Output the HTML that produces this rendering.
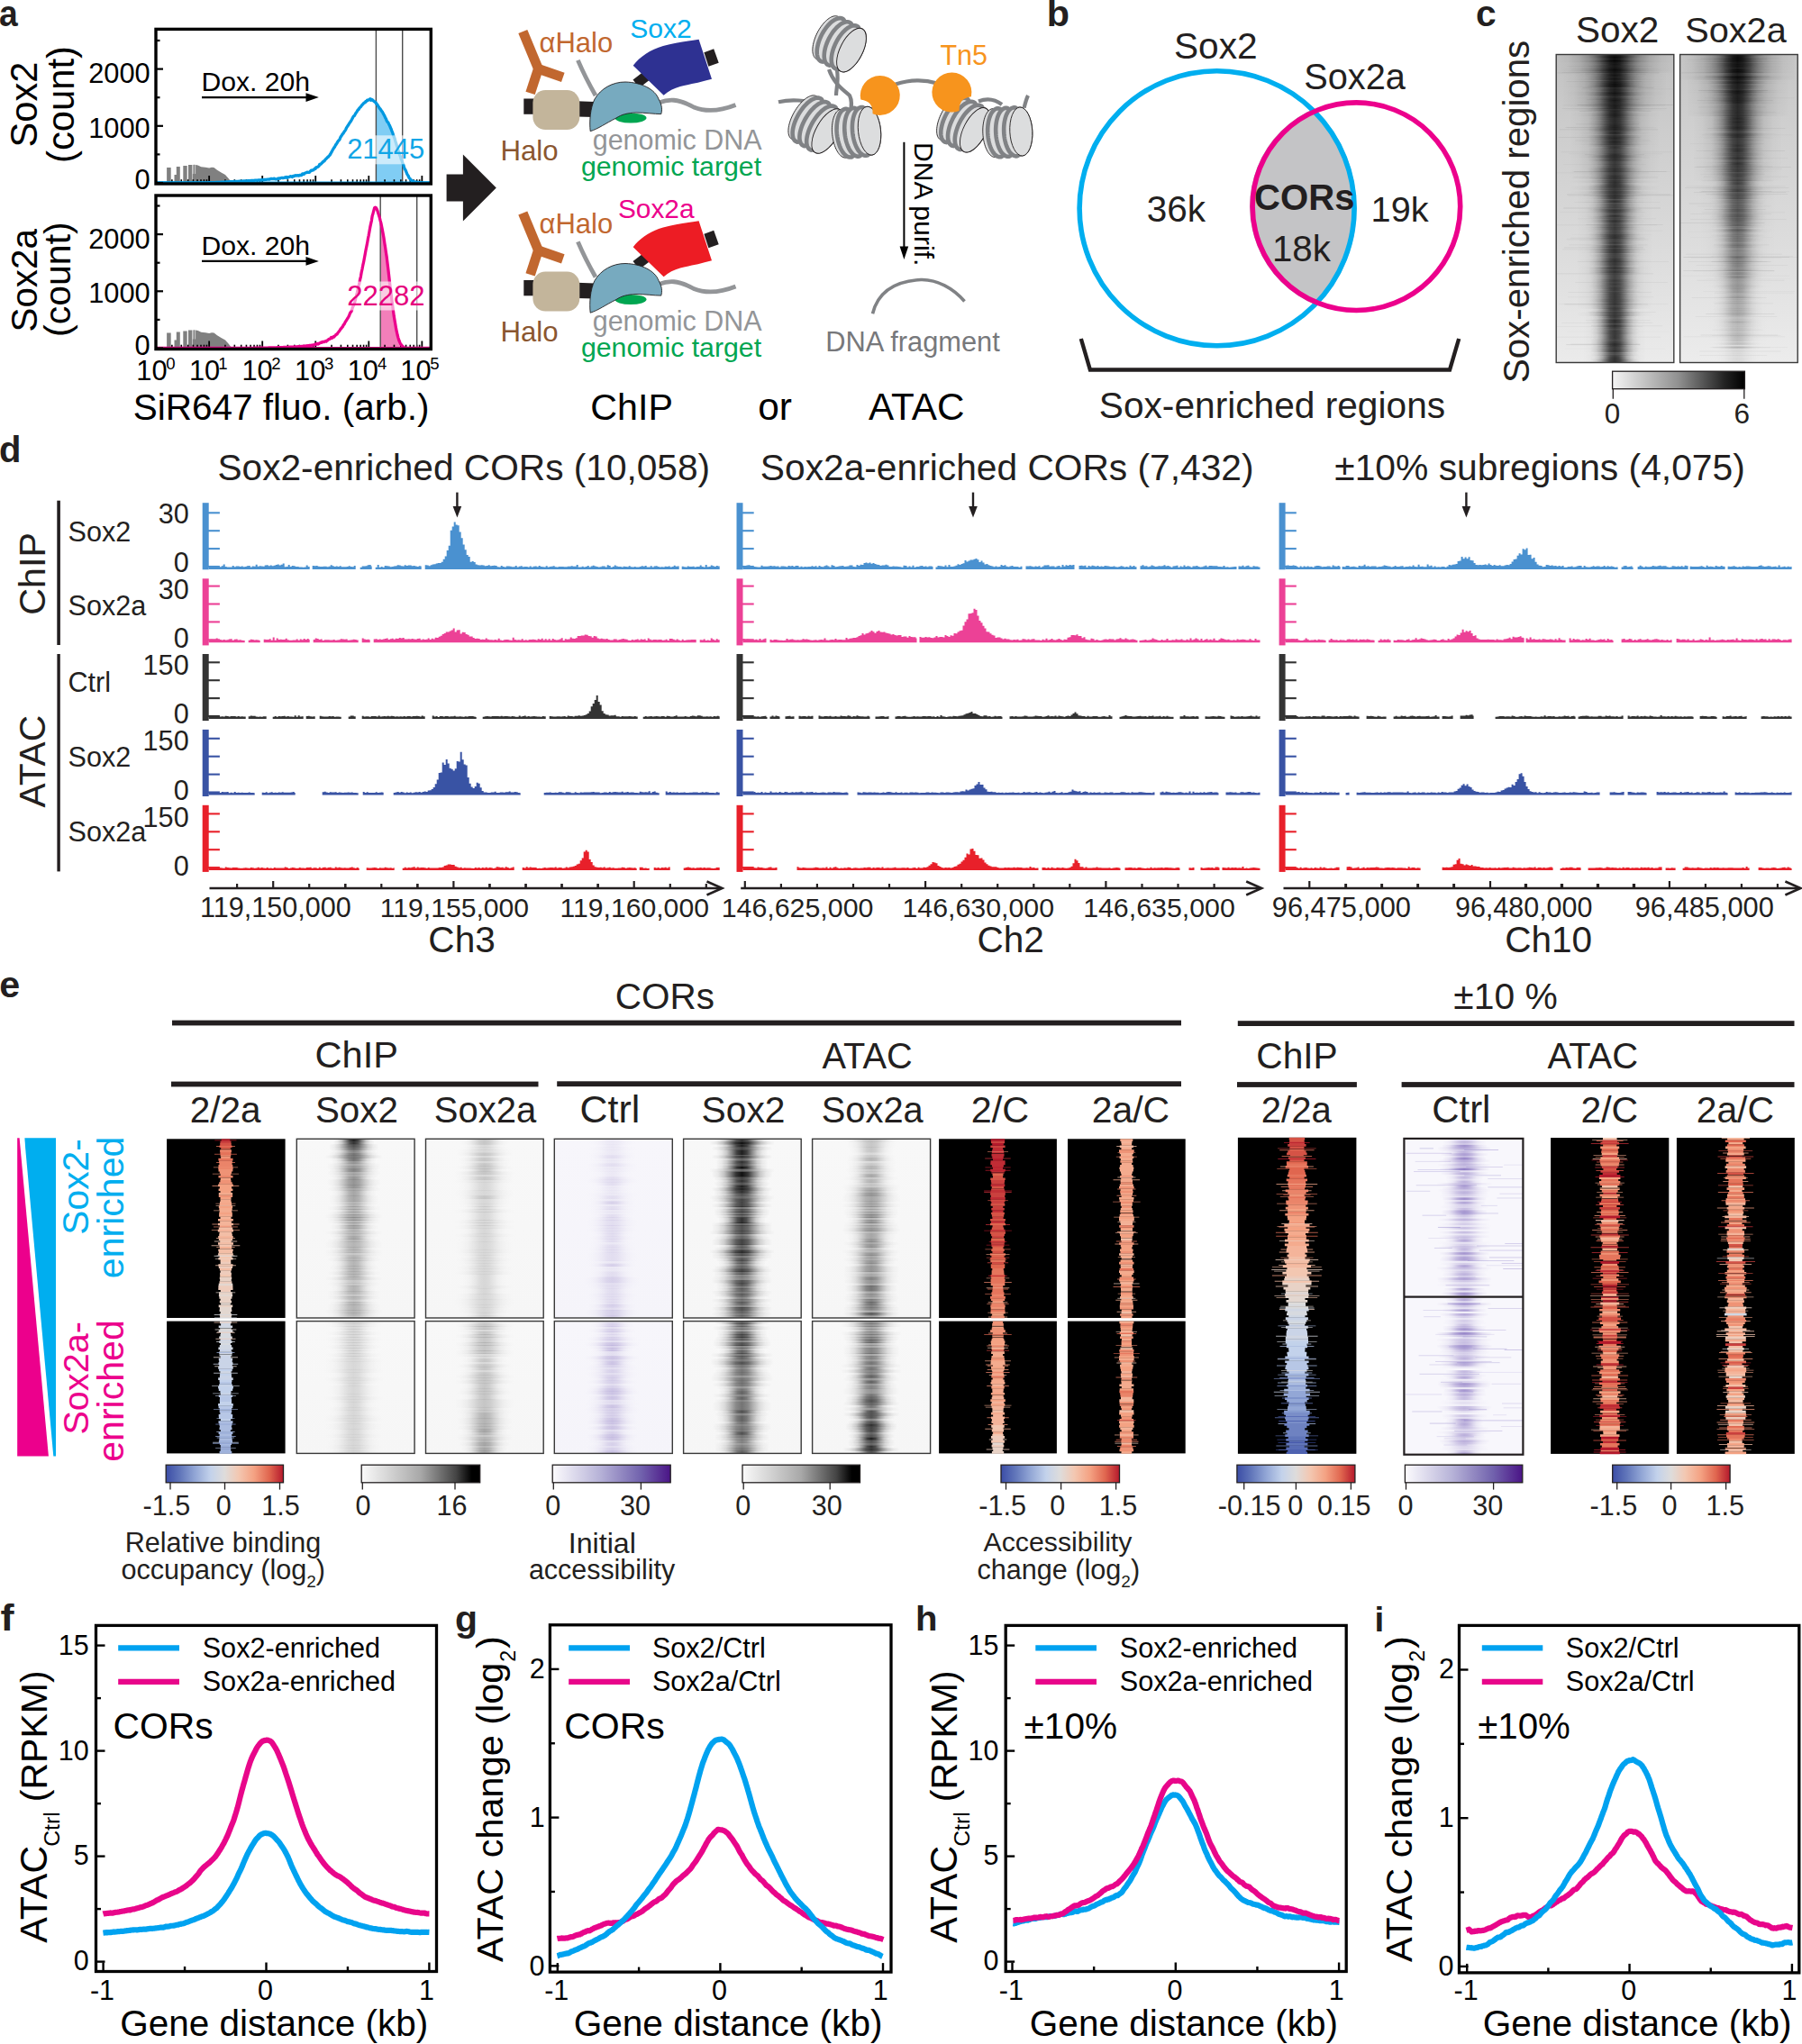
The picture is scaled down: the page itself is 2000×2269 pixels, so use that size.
<!DOCTYPE html><html><head><meta charset="utf-8"><title>Figure</title><style>html,body{margin:0;padding:0;background:#fff;}svg{display:block;}</style></head><body><svg width="2000" height="2269" viewBox="0 0 2000 2269" font-family="'Liberation Sans', Arial, sans-serif"><defs><clipPath id="venncl"><circle cx="1350.6" cy="231.3" r="155"/></clipPath><linearGradient id="bg101" x1="0" y1="0" x2="0" y2="1"><stop offset="0" stop-color="#c2c2c2"/><stop offset="0.25" stop-color="#cdcdcd"/><stop offset="0.6" stop-color="#dadada"/><stop offset="1" stop-color="#ebebeb"/></linearGradient><linearGradient id="g101_0_0" gradientUnits="userSpaceOnUse" x1="1769.8" y1="0" x2="1814.68" y2="0"><stop offset="0" stop-color="#000" stop-opacity="0.01"/><stop offset="0.1" stop-color="#000" stop-opacity="0.07"/><stop offset="0.2" stop-color="#000" stop-opacity="0.22"/><stop offset="0.3" stop-color="#000" stop-opacity="0.51"/><stop offset="0.4" stop-color="#000" stop-opacity="0.85"/><stop offset="0.5" stop-color="#000" stop-opacity="1"/><stop offset="0.6" stop-color="#000" stop-opacity="0.85"/><stop offset="0.7" stop-color="#000" stop-opacity="0.51"/><stop offset="0.8" stop-color="#000" stop-opacity="0.22"/><stop offset="0.9" stop-color="#000" stop-opacity="0.07"/><stop offset="1" stop-color="#000" stop-opacity="0.01"/></linearGradient><linearGradient id="g101_0_1" gradientUnits="userSpaceOnUse" x1="1767.87" y1="0" x2="1816.61" y2="0"><stop offset="0" stop-color="#000" stop-opacity="0.01"/><stop offset="0.1" stop-color="#000" stop-opacity="0.07"/><stop offset="0.2" stop-color="#000" stop-opacity="0.22"/><stop offset="0.3" stop-color="#000" stop-opacity="0.51"/><stop offset="0.4" stop-color="#000" stop-opacity="0.85"/><stop offset="0.5" stop-color="#000" stop-opacity="1"/><stop offset="0.6" stop-color="#000" stop-opacity="0.85"/><stop offset="0.7" stop-color="#000" stop-opacity="0.51"/><stop offset="0.8" stop-color="#000" stop-opacity="0.22"/><stop offset="0.9" stop-color="#000" stop-opacity="0.07"/><stop offset="1" stop-color="#000" stop-opacity="0.01"/></linearGradient><linearGradient id="g101_0_2" gradientUnits="userSpaceOnUse" x1="1765.93" y1="0" x2="1818.54" y2="0"><stop offset="0" stop-color="#000" stop-opacity="0.01"/><stop offset="0.1" stop-color="#000" stop-opacity="0.07"/><stop offset="0.2" stop-color="#000" stop-opacity="0.22"/><stop offset="0.3" stop-color="#000" stop-opacity="0.51"/><stop offset="0.4" stop-color="#000" stop-opacity="0.85"/><stop offset="0.5" stop-color="#000" stop-opacity="1"/><stop offset="0.6" stop-color="#000" stop-opacity="0.85"/><stop offset="0.7" stop-color="#000" stop-opacity="0.51"/><stop offset="0.8" stop-color="#000" stop-opacity="0.22"/><stop offset="0.9" stop-color="#000" stop-opacity="0.07"/><stop offset="1" stop-color="#000" stop-opacity="0.01"/></linearGradient><linearGradient id="g101_0_3" gradientUnits="userSpaceOnUse" x1="1764" y1="0" x2="1820.48" y2="0"><stop offset="0" stop-color="#000" stop-opacity="0.01"/><stop offset="0.1" stop-color="#000" stop-opacity="0.07"/><stop offset="0.2" stop-color="#000" stop-opacity="0.22"/><stop offset="0.3" stop-color="#000" stop-opacity="0.51"/><stop offset="0.4" stop-color="#000" stop-opacity="0.85"/><stop offset="0.5" stop-color="#000" stop-opacity="1"/><stop offset="0.6" stop-color="#000" stop-opacity="0.85"/><stop offset="0.7" stop-color="#000" stop-opacity="0.51"/><stop offset="0.8" stop-color="#000" stop-opacity="0.22"/><stop offset="0.9" stop-color="#000" stop-opacity="0.07"/><stop offset="1" stop-color="#000" stop-opacity="0.01"/></linearGradient><linearGradient id="g101_0_4" gradientUnits="userSpaceOnUse" x1="1762.07" y1="0" x2="1822.41" y2="0"><stop offset="0" stop-color="#000" stop-opacity="0.01"/><stop offset="0.1" stop-color="#000" stop-opacity="0.07"/><stop offset="0.2" stop-color="#000" stop-opacity="0.22"/><stop offset="0.3" stop-color="#000" stop-opacity="0.51"/><stop offset="0.4" stop-color="#000" stop-opacity="0.85"/><stop offset="0.5" stop-color="#000" stop-opacity="1"/><stop offset="0.6" stop-color="#000" stop-opacity="0.85"/><stop offset="0.7" stop-color="#000" stop-opacity="0.51"/><stop offset="0.8" stop-color="#000" stop-opacity="0.22"/><stop offset="0.9" stop-color="#000" stop-opacity="0.07"/><stop offset="1" stop-color="#000" stop-opacity="0.01"/></linearGradient><linearGradient id="g101_1_0" gradientUnits="userSpaceOnUse" x1="1758" y1="0" x2="1826.48" y2="0"><stop offset="0" stop-color="#000" stop-opacity="0.01"/><stop offset="0.1" stop-color="#000" stop-opacity="0.07"/><stop offset="0.2" stop-color="#000" stop-opacity="0.22"/><stop offset="0.3" stop-color="#000" stop-opacity="0.51"/><stop offset="0.4" stop-color="#000" stop-opacity="0.85"/><stop offset="0.5" stop-color="#000" stop-opacity="1"/><stop offset="0.6" stop-color="#000" stop-opacity="0.85"/><stop offset="0.7" stop-color="#000" stop-opacity="0.51"/><stop offset="0.8" stop-color="#000" stop-opacity="0.22"/><stop offset="0.9" stop-color="#000" stop-opacity="0.07"/><stop offset="1" stop-color="#000" stop-opacity="0.01"/></linearGradient><linearGradient id="g101_1_1" gradientUnits="userSpaceOnUse" x1="1750.38" y1="0" x2="1834.1" y2="0"><stop offset="0" stop-color="#000" stop-opacity="0.01"/><stop offset="0.1" stop-color="#000" stop-opacity="0.07"/><stop offset="0.2" stop-color="#000" stop-opacity="0.22"/><stop offset="0.3" stop-color="#000" stop-opacity="0.51"/><stop offset="0.4" stop-color="#000" stop-opacity="0.85"/><stop offset="0.5" stop-color="#000" stop-opacity="1"/><stop offset="0.6" stop-color="#000" stop-opacity="0.85"/><stop offset="0.7" stop-color="#000" stop-opacity="0.51"/><stop offset="0.8" stop-color="#000" stop-opacity="0.22"/><stop offset="0.9" stop-color="#000" stop-opacity="0.07"/><stop offset="1" stop-color="#000" stop-opacity="0.01"/></linearGradient><linearGradient id="g101_1_2" gradientUnits="userSpaceOnUse" x1="1742.76" y1="0" x2="1841.72" y2="0"><stop offset="0" stop-color="#000" stop-opacity="0.01"/><stop offset="0.1" stop-color="#000" stop-opacity="0.07"/><stop offset="0.2" stop-color="#000" stop-opacity="0.22"/><stop offset="0.3" stop-color="#000" stop-opacity="0.51"/><stop offset="0.4" stop-color="#000" stop-opacity="0.85"/><stop offset="0.5" stop-color="#000" stop-opacity="1"/><stop offset="0.6" stop-color="#000" stop-opacity="0.85"/><stop offset="0.7" stop-color="#000" stop-opacity="0.51"/><stop offset="0.8" stop-color="#000" stop-opacity="0.22"/><stop offset="0.9" stop-color="#000" stop-opacity="0.07"/><stop offset="1" stop-color="#000" stop-opacity="0.01"/></linearGradient><linearGradient id="g101_1_3" gradientUnits="userSpaceOnUse" x1="1735.14" y1="0" x2="1849.34" y2="0"><stop offset="0" stop-color="#000" stop-opacity="0.01"/><stop offset="0.1" stop-color="#000" stop-opacity="0.07"/><stop offset="0.2" stop-color="#000" stop-opacity="0.22"/><stop offset="0.3" stop-color="#000" stop-opacity="0.51"/><stop offset="0.4" stop-color="#000" stop-opacity="0.85"/><stop offset="0.5" stop-color="#000" stop-opacity="1"/><stop offset="0.6" stop-color="#000" stop-opacity="0.85"/><stop offset="0.7" stop-color="#000" stop-opacity="0.51"/><stop offset="0.8" stop-color="#000" stop-opacity="0.22"/><stop offset="0.9" stop-color="#000" stop-opacity="0.07"/><stop offset="1" stop-color="#000" stop-opacity="0.01"/></linearGradient><linearGradient id="g101_1_4" gradientUnits="userSpaceOnUse" x1="1727.51" y1="0" x2="1856.96" y2="0"><stop offset="0" stop-color="#000" stop-opacity="0.01"/><stop offset="0.1" stop-color="#000" stop-opacity="0.07"/><stop offset="0.2" stop-color="#000" stop-opacity="0.22"/><stop offset="0.3" stop-color="#000" stop-opacity="0.51"/><stop offset="0.4" stop-color="#000" stop-opacity="0.85"/><stop offset="0.5" stop-color="#000" stop-opacity="1"/><stop offset="0.6" stop-color="#000" stop-opacity="0.85"/><stop offset="0.7" stop-color="#000" stop-opacity="0.51"/><stop offset="0.8" stop-color="#000" stop-opacity="0.22"/><stop offset="0.9" stop-color="#000" stop-opacity="0.07"/><stop offset="1" stop-color="#000" stop-opacity="0.01"/></linearGradient><linearGradient id="bg102" x1="0" y1="0" x2="0" y2="1"><stop offset="0" stop-color="#c6c6c6"/><stop offset="0.25" stop-color="#d0d0d0"/><stop offset="0.6" stop-color="#dcdcdc"/><stop offset="1" stop-color="#ececec"/></linearGradient><linearGradient id="g102_0_0" gradientUnits="userSpaceOnUse" x1="1905.96" y1="0" x2="1951.23" y2="0"><stop offset="0" stop-color="#000" stop-opacity="0.01"/><stop offset="0.1" stop-color="#000" stop-opacity="0.07"/><stop offset="0.2" stop-color="#000" stop-opacity="0.22"/><stop offset="0.3" stop-color="#000" stop-opacity="0.51"/><stop offset="0.4" stop-color="#000" stop-opacity="0.85"/><stop offset="0.5" stop-color="#000" stop-opacity="1"/><stop offset="0.6" stop-color="#000" stop-opacity="0.85"/><stop offset="0.7" stop-color="#000" stop-opacity="0.51"/><stop offset="0.8" stop-color="#000" stop-opacity="0.22"/><stop offset="0.9" stop-color="#000" stop-opacity="0.07"/><stop offset="1" stop-color="#000" stop-opacity="0.01"/></linearGradient><linearGradient id="g102_0_1" gradientUnits="userSpaceOnUse" x1="1904.05" y1="0" x2="1953.14" y2="0"><stop offset="0" stop-color="#000" stop-opacity="0.01"/><stop offset="0.1" stop-color="#000" stop-opacity="0.07"/><stop offset="0.2" stop-color="#000" stop-opacity="0.22"/><stop offset="0.3" stop-color="#000" stop-opacity="0.51"/><stop offset="0.4" stop-color="#000" stop-opacity="0.85"/><stop offset="0.5" stop-color="#000" stop-opacity="1"/><stop offset="0.6" stop-color="#000" stop-opacity="0.85"/><stop offset="0.7" stop-color="#000" stop-opacity="0.51"/><stop offset="0.8" stop-color="#000" stop-opacity="0.22"/><stop offset="0.9" stop-color="#000" stop-opacity="0.07"/><stop offset="1" stop-color="#000" stop-opacity="0.01"/></linearGradient><linearGradient id="g102_0_2" gradientUnits="userSpaceOnUse" x1="1902.14" y1="0" x2="1955.05" y2="0"><stop offset="0" stop-color="#000" stop-opacity="0.01"/><stop offset="0.1" stop-color="#000" stop-opacity="0.07"/><stop offset="0.2" stop-color="#000" stop-opacity="0.22"/><stop offset="0.3" stop-color="#000" stop-opacity="0.51"/><stop offset="0.4" stop-color="#000" stop-opacity="0.85"/><stop offset="0.5" stop-color="#000" stop-opacity="1"/><stop offset="0.6" stop-color="#000" stop-opacity="0.85"/><stop offset="0.7" stop-color="#000" stop-opacity="0.51"/><stop offset="0.8" stop-color="#000" stop-opacity="0.22"/><stop offset="0.9" stop-color="#000" stop-opacity="0.07"/><stop offset="1" stop-color="#000" stop-opacity="0.01"/></linearGradient><linearGradient id="g102_0_3" gradientUnits="userSpaceOnUse" x1="1900.23" y1="0" x2="1956.95" y2="0"><stop offset="0" stop-color="#000" stop-opacity="0.01"/><stop offset="0.1" stop-color="#000" stop-opacity="0.07"/><stop offset="0.2" stop-color="#000" stop-opacity="0.22"/><stop offset="0.3" stop-color="#000" stop-opacity="0.51"/><stop offset="0.4" stop-color="#000" stop-opacity="0.85"/><stop offset="0.5" stop-color="#000" stop-opacity="1"/><stop offset="0.6" stop-color="#000" stop-opacity="0.85"/><stop offset="0.7" stop-color="#000" stop-opacity="0.51"/><stop offset="0.8" stop-color="#000" stop-opacity="0.22"/><stop offset="0.9" stop-color="#000" stop-opacity="0.07"/><stop offset="1" stop-color="#000" stop-opacity="0.01"/></linearGradient><linearGradient id="g102_0_4" gradientUnits="userSpaceOnUse" x1="1898.33" y1="0" x2="1958.86" y2="0"><stop offset="0" stop-color="#000" stop-opacity="0.01"/><stop offset="0.1" stop-color="#000" stop-opacity="0.07"/><stop offset="0.2" stop-color="#000" stop-opacity="0.22"/><stop offset="0.3" stop-color="#000" stop-opacity="0.51"/><stop offset="0.4" stop-color="#000" stop-opacity="0.85"/><stop offset="0.5" stop-color="#000" stop-opacity="1"/><stop offset="0.6" stop-color="#000" stop-opacity="0.85"/><stop offset="0.7" stop-color="#000" stop-opacity="0.51"/><stop offset="0.8" stop-color="#000" stop-opacity="0.22"/><stop offset="0.9" stop-color="#000" stop-opacity="0.07"/><stop offset="1" stop-color="#000" stop-opacity="0.01"/></linearGradient><linearGradient id="g102_1_0" gradientUnits="userSpaceOnUse" x1="1894.08" y1="0" x2="1963.11" y2="0"><stop offset="0" stop-color="#000" stop-opacity="0.01"/><stop offset="0.1" stop-color="#000" stop-opacity="0.07"/><stop offset="0.2" stop-color="#000" stop-opacity="0.22"/><stop offset="0.3" stop-color="#000" stop-opacity="0.51"/><stop offset="0.4" stop-color="#000" stop-opacity="0.85"/><stop offset="0.5" stop-color="#000" stop-opacity="1"/><stop offset="0.6" stop-color="#000" stop-opacity="0.85"/><stop offset="0.7" stop-color="#000" stop-opacity="0.51"/><stop offset="0.8" stop-color="#000" stop-opacity="0.22"/><stop offset="0.9" stop-color="#000" stop-opacity="0.07"/><stop offset="1" stop-color="#000" stop-opacity="0.01"/></linearGradient><linearGradient id="g102_1_1" gradientUnits="userSpaceOnUse" x1="1886.88" y1="0" x2="1970.3" y2="0"><stop offset="0" stop-color="#000" stop-opacity="0.01"/><stop offset="0.1" stop-color="#000" stop-opacity="0.07"/><stop offset="0.2" stop-color="#000" stop-opacity="0.22"/><stop offset="0.3" stop-color="#000" stop-opacity="0.51"/><stop offset="0.4" stop-color="#000" stop-opacity="0.85"/><stop offset="0.5" stop-color="#000" stop-opacity="1"/><stop offset="0.6" stop-color="#000" stop-opacity="0.85"/><stop offset="0.7" stop-color="#000" stop-opacity="0.51"/><stop offset="0.8" stop-color="#000" stop-opacity="0.22"/><stop offset="0.9" stop-color="#000" stop-opacity="0.07"/><stop offset="1" stop-color="#000" stop-opacity="0.01"/></linearGradient><linearGradient id="g102_1_2" gradientUnits="userSpaceOnUse" x1="1879.69" y1="0" x2="1977.5" y2="0"><stop offset="0" stop-color="#000" stop-opacity="0.01"/><stop offset="0.1" stop-color="#000" stop-opacity="0.07"/><stop offset="0.2" stop-color="#000" stop-opacity="0.22"/><stop offset="0.3" stop-color="#000" stop-opacity="0.51"/><stop offset="0.4" stop-color="#000" stop-opacity="0.85"/><stop offset="0.5" stop-color="#000" stop-opacity="1"/><stop offset="0.6" stop-color="#000" stop-opacity="0.85"/><stop offset="0.7" stop-color="#000" stop-opacity="0.51"/><stop offset="0.8" stop-color="#000" stop-opacity="0.22"/><stop offset="0.9" stop-color="#000" stop-opacity="0.07"/><stop offset="1" stop-color="#000" stop-opacity="0.01"/></linearGradient><linearGradient id="g102_1_3" gradientUnits="userSpaceOnUse" x1="1872.5" y1="0" x2="1984.69" y2="0"><stop offset="0" stop-color="#000" stop-opacity="0.01"/><stop offset="0.1" stop-color="#000" stop-opacity="0.07"/><stop offset="0.2" stop-color="#000" stop-opacity="0.22"/><stop offset="0.3" stop-color="#000" stop-opacity="0.51"/><stop offset="0.4" stop-color="#000" stop-opacity="0.85"/><stop offset="0.5" stop-color="#000" stop-opacity="1"/><stop offset="0.6" stop-color="#000" stop-opacity="0.85"/><stop offset="0.7" stop-color="#000" stop-opacity="0.51"/><stop offset="0.8" stop-color="#000" stop-opacity="0.22"/><stop offset="0.9" stop-color="#000" stop-opacity="0.07"/><stop offset="1" stop-color="#000" stop-opacity="0.01"/></linearGradient><linearGradient id="g102_1_4" gradientUnits="userSpaceOnUse" x1="1865.3" y1="0" x2="1991.89" y2="0"><stop offset="0" stop-color="#000" stop-opacity="0.01"/><stop offset="0.1" stop-color="#000" stop-opacity="0.07"/><stop offset="0.2" stop-color="#000" stop-opacity="0.22"/><stop offset="0.3" stop-color="#000" stop-opacity="0.51"/><stop offset="0.4" stop-color="#000" stop-opacity="0.85"/><stop offset="0.5" stop-color="#000" stop-opacity="1"/><stop offset="0.6" stop-color="#000" stop-opacity="0.85"/><stop offset="0.7" stop-color="#000" stop-opacity="0.51"/><stop offset="0.8" stop-color="#000" stop-opacity="0.22"/><stop offset="0.9" stop-color="#000" stop-opacity="0.07"/><stop offset="1" stop-color="#000" stop-opacity="0.01"/></linearGradient><linearGradient id="cbgray" x1="0" x2="1" y1="0" y2="0"><stop offset="0" stop-color="#f4f4f4"/><stop offset="0.5" stop-color="#909090"/><stop offset="0.85" stop-color="#222"/><stop offset="1" stop-color="#000"/></linearGradient><linearGradient id="bg211" x1="0" y1="0" x2="0" y2="1"><stop offset="0" stop-color="#f8f8f8"/><stop offset="1" stop-color="#f6f6f6"/></linearGradient><linearGradient id="g211_0_0" gradientUnits="userSpaceOnUse" x1="370.3" y1="0" x2="415.17" y2="0"><stop offset="0" stop-color="#000" stop-opacity="0.01"/><stop offset="0.1" stop-color="#000" stop-opacity="0.07"/><stop offset="0.2" stop-color="#000" stop-opacity="0.22"/><stop offset="0.3" stop-color="#000" stop-opacity="0.51"/><stop offset="0.4" stop-color="#000" stop-opacity="0.85"/><stop offset="0.5" stop-color="#000" stop-opacity="1"/><stop offset="0.6" stop-color="#000" stop-opacity="0.85"/><stop offset="0.7" stop-color="#000" stop-opacity="0.51"/><stop offset="0.8" stop-color="#000" stop-opacity="0.22"/><stop offset="0.9" stop-color="#000" stop-opacity="0.07"/><stop offset="1" stop-color="#000" stop-opacity="0.01"/></linearGradient><linearGradient id="g211_0_1" gradientUnits="userSpaceOnUse" x1="368.02" y1="0" x2="417.46" y2="0"><stop offset="0" stop-color="#000" stop-opacity="0.01"/><stop offset="0.1" stop-color="#000" stop-opacity="0.07"/><stop offset="0.2" stop-color="#000" stop-opacity="0.22"/><stop offset="0.3" stop-color="#000" stop-opacity="0.51"/><stop offset="0.4" stop-color="#000" stop-opacity="0.85"/><stop offset="0.5" stop-color="#000" stop-opacity="1"/><stop offset="0.6" stop-color="#000" stop-opacity="0.85"/><stop offset="0.7" stop-color="#000" stop-opacity="0.51"/><stop offset="0.8" stop-color="#000" stop-opacity="0.22"/><stop offset="0.9" stop-color="#000" stop-opacity="0.07"/><stop offset="1" stop-color="#000" stop-opacity="0.01"/></linearGradient><linearGradient id="g211_0_2" gradientUnits="userSpaceOnUse" x1="365.74" y1="0" x2="419.74" y2="0"><stop offset="0" stop-color="#000" stop-opacity="0.01"/><stop offset="0.1" stop-color="#000" stop-opacity="0.07"/><stop offset="0.2" stop-color="#000" stop-opacity="0.22"/><stop offset="0.3" stop-color="#000" stop-opacity="0.51"/><stop offset="0.4" stop-color="#000" stop-opacity="0.85"/><stop offset="0.5" stop-color="#000" stop-opacity="1"/><stop offset="0.6" stop-color="#000" stop-opacity="0.85"/><stop offset="0.7" stop-color="#000" stop-opacity="0.51"/><stop offset="0.8" stop-color="#000" stop-opacity="0.22"/><stop offset="0.9" stop-color="#000" stop-opacity="0.07"/><stop offset="1" stop-color="#000" stop-opacity="0.01"/></linearGradient><linearGradient id="g211_0_3" gradientUnits="userSpaceOnUse" x1="363.45" y1="0" x2="422.02" y2="0"><stop offset="0" stop-color="#000" stop-opacity="0.01"/><stop offset="0.1" stop-color="#000" stop-opacity="0.07"/><stop offset="0.2" stop-color="#000" stop-opacity="0.22"/><stop offset="0.3" stop-color="#000" stop-opacity="0.51"/><stop offset="0.4" stop-color="#000" stop-opacity="0.85"/><stop offset="0.5" stop-color="#000" stop-opacity="1"/><stop offset="0.6" stop-color="#000" stop-opacity="0.85"/><stop offset="0.7" stop-color="#000" stop-opacity="0.51"/><stop offset="0.8" stop-color="#000" stop-opacity="0.22"/><stop offset="0.9" stop-color="#000" stop-opacity="0.07"/><stop offset="1" stop-color="#000" stop-opacity="0.01"/></linearGradient><linearGradient id="g211_0_4" gradientUnits="userSpaceOnUse" x1="361.17" y1="0" x2="424.31" y2="0"><stop offset="0" stop-color="#000" stop-opacity="0.01"/><stop offset="0.1" stop-color="#000" stop-opacity="0.07"/><stop offset="0.2" stop-color="#000" stop-opacity="0.22"/><stop offset="0.3" stop-color="#000" stop-opacity="0.51"/><stop offset="0.4" stop-color="#000" stop-opacity="0.85"/><stop offset="0.5" stop-color="#000" stop-opacity="1"/><stop offset="0.6" stop-color="#000" stop-opacity="0.85"/><stop offset="0.7" stop-color="#000" stop-opacity="0.51"/><stop offset="0.8" stop-color="#000" stop-opacity="0.22"/><stop offset="0.9" stop-color="#000" stop-opacity="0.07"/><stop offset="1" stop-color="#000" stop-opacity="0.01"/></linearGradient><linearGradient id="bg212" x1="0" y1="0" x2="0" y2="1"><stop offset="0" stop-color="#f8f8f8"/><stop offset="1" stop-color="#f6f6f6"/></linearGradient><linearGradient id="g212_0_0" gradientUnits="userSpaceOnUse" x1="367.93" y1="0" x2="417.55" y2="0"><stop offset="0" stop-color="#000" stop-opacity="0.01"/><stop offset="0.1" stop-color="#000" stop-opacity="0.07"/><stop offset="0.2" stop-color="#000" stop-opacity="0.22"/><stop offset="0.3" stop-color="#000" stop-opacity="0.51"/><stop offset="0.4" stop-color="#000" stop-opacity="0.85"/><stop offset="0.5" stop-color="#000" stop-opacity="1"/><stop offset="0.6" stop-color="#000" stop-opacity="0.85"/><stop offset="0.7" stop-color="#000" stop-opacity="0.51"/><stop offset="0.8" stop-color="#000" stop-opacity="0.22"/><stop offset="0.9" stop-color="#000" stop-opacity="0.07"/><stop offset="1" stop-color="#000" stop-opacity="0.01"/></linearGradient><linearGradient id="g212_0_1" gradientUnits="userSpaceOnUse" x1="365.83" y1="0" x2="419.64" y2="0"><stop offset="0" stop-color="#000" stop-opacity="0.01"/><stop offset="0.1" stop-color="#000" stop-opacity="0.07"/><stop offset="0.2" stop-color="#000" stop-opacity="0.22"/><stop offset="0.3" stop-color="#000" stop-opacity="0.51"/><stop offset="0.4" stop-color="#000" stop-opacity="0.85"/><stop offset="0.5" stop-color="#000" stop-opacity="1"/><stop offset="0.6" stop-color="#000" stop-opacity="0.85"/><stop offset="0.7" stop-color="#000" stop-opacity="0.51"/><stop offset="0.8" stop-color="#000" stop-opacity="0.22"/><stop offset="0.9" stop-color="#000" stop-opacity="0.07"/><stop offset="1" stop-color="#000" stop-opacity="0.01"/></linearGradient><linearGradient id="g212_0_2" gradientUnits="userSpaceOnUse" x1="363.74" y1="0" x2="421.73" y2="0"><stop offset="0" stop-color="#000" stop-opacity="0.01"/><stop offset="0.1" stop-color="#000" stop-opacity="0.07"/><stop offset="0.2" stop-color="#000" stop-opacity="0.22"/><stop offset="0.3" stop-color="#000" stop-opacity="0.51"/><stop offset="0.4" stop-color="#000" stop-opacity="0.85"/><stop offset="0.5" stop-color="#000" stop-opacity="1"/><stop offset="0.6" stop-color="#000" stop-opacity="0.85"/><stop offset="0.7" stop-color="#000" stop-opacity="0.51"/><stop offset="0.8" stop-color="#000" stop-opacity="0.22"/><stop offset="0.9" stop-color="#000" stop-opacity="0.07"/><stop offset="1" stop-color="#000" stop-opacity="0.01"/></linearGradient><linearGradient id="g212_0_3" gradientUnits="userSpaceOnUse" x1="361.65" y1="0" x2="423.83" y2="0"><stop offset="0" stop-color="#000" stop-opacity="0.01"/><stop offset="0.1" stop-color="#000" stop-opacity="0.07"/><stop offset="0.2" stop-color="#000" stop-opacity="0.22"/><stop offset="0.3" stop-color="#000" stop-opacity="0.51"/><stop offset="0.4" stop-color="#000" stop-opacity="0.85"/><stop offset="0.5" stop-color="#000" stop-opacity="1"/><stop offset="0.6" stop-color="#000" stop-opacity="0.85"/><stop offset="0.7" stop-color="#000" stop-opacity="0.51"/><stop offset="0.8" stop-color="#000" stop-opacity="0.22"/><stop offset="0.9" stop-color="#000" stop-opacity="0.07"/><stop offset="1" stop-color="#000" stop-opacity="0.01"/></linearGradient><linearGradient id="g212_0_4" gradientUnits="userSpaceOnUse" x1="359.56" y1="0" x2="425.92" y2="0"><stop offset="0" stop-color="#000" stop-opacity="0.01"/><stop offset="0.1" stop-color="#000" stop-opacity="0.07"/><stop offset="0.2" stop-color="#000" stop-opacity="0.22"/><stop offset="0.3" stop-color="#000" stop-opacity="0.51"/><stop offset="0.4" stop-color="#000" stop-opacity="0.85"/><stop offset="0.5" stop-color="#000" stop-opacity="1"/><stop offset="0.6" stop-color="#000" stop-opacity="0.85"/><stop offset="0.7" stop-color="#000" stop-opacity="0.51"/><stop offset="0.8" stop-color="#000" stop-opacity="0.22"/><stop offset="0.9" stop-color="#000" stop-opacity="0.07"/><stop offset="1" stop-color="#000" stop-opacity="0.01"/></linearGradient><linearGradient id="bg213" x1="0" y1="0" x2="0" y2="1"><stop offset="0" stop-color="#f8f8f8"/><stop offset="1" stop-color="#f6f6f6"/></linearGradient><linearGradient id="g213_0_0" gradientUnits="userSpaceOnUse" x1="513.06" y1="0" x2="562.64" y2="0"><stop offset="0" stop-color="#000" stop-opacity="0.01"/><stop offset="0.1" stop-color="#000" stop-opacity="0.07"/><stop offset="0.2" stop-color="#000" stop-opacity="0.22"/><stop offset="0.3" stop-color="#000" stop-opacity="0.51"/><stop offset="0.4" stop-color="#000" stop-opacity="0.85"/><stop offset="0.5" stop-color="#000" stop-opacity="1"/><stop offset="0.6" stop-color="#000" stop-opacity="0.85"/><stop offset="0.7" stop-color="#000" stop-opacity="0.51"/><stop offset="0.8" stop-color="#000" stop-opacity="0.22"/><stop offset="0.9" stop-color="#000" stop-opacity="0.07"/><stop offset="1" stop-color="#000" stop-opacity="0.01"/></linearGradient><linearGradient id="g213_0_1" gradientUnits="userSpaceOnUse" x1="510.99" y1="0" x2="564.71" y2="0"><stop offset="0" stop-color="#000" stop-opacity="0.01"/><stop offset="0.1" stop-color="#000" stop-opacity="0.07"/><stop offset="0.2" stop-color="#000" stop-opacity="0.22"/><stop offset="0.3" stop-color="#000" stop-opacity="0.51"/><stop offset="0.4" stop-color="#000" stop-opacity="0.85"/><stop offset="0.5" stop-color="#000" stop-opacity="1"/><stop offset="0.6" stop-color="#000" stop-opacity="0.85"/><stop offset="0.7" stop-color="#000" stop-opacity="0.51"/><stop offset="0.8" stop-color="#000" stop-opacity="0.22"/><stop offset="0.9" stop-color="#000" stop-opacity="0.07"/><stop offset="1" stop-color="#000" stop-opacity="0.01"/></linearGradient><linearGradient id="g213_0_2" gradientUnits="userSpaceOnUse" x1="508.92" y1="0" x2="566.78" y2="0"><stop offset="0" stop-color="#000" stop-opacity="0.01"/><stop offset="0.1" stop-color="#000" stop-opacity="0.07"/><stop offset="0.2" stop-color="#000" stop-opacity="0.22"/><stop offset="0.3" stop-color="#000" stop-opacity="0.51"/><stop offset="0.4" stop-color="#000" stop-opacity="0.85"/><stop offset="0.5" stop-color="#000" stop-opacity="1"/><stop offset="0.6" stop-color="#000" stop-opacity="0.85"/><stop offset="0.7" stop-color="#000" stop-opacity="0.51"/><stop offset="0.8" stop-color="#000" stop-opacity="0.22"/><stop offset="0.9" stop-color="#000" stop-opacity="0.07"/><stop offset="1" stop-color="#000" stop-opacity="0.01"/></linearGradient><linearGradient id="g213_0_3" gradientUnits="userSpaceOnUse" x1="506.85" y1="0" x2="568.85" y2="0"><stop offset="0" stop-color="#000" stop-opacity="0.01"/><stop offset="0.1" stop-color="#000" stop-opacity="0.07"/><stop offset="0.2" stop-color="#000" stop-opacity="0.22"/><stop offset="0.3" stop-color="#000" stop-opacity="0.51"/><stop offset="0.4" stop-color="#000" stop-opacity="0.85"/><stop offset="0.5" stop-color="#000" stop-opacity="1"/><stop offset="0.6" stop-color="#000" stop-opacity="0.85"/><stop offset="0.7" stop-color="#000" stop-opacity="0.51"/><stop offset="0.8" stop-color="#000" stop-opacity="0.22"/><stop offset="0.9" stop-color="#000" stop-opacity="0.07"/><stop offset="1" stop-color="#000" stop-opacity="0.01"/></linearGradient><linearGradient id="g213_0_4" gradientUnits="userSpaceOnUse" x1="504.78" y1="0" x2="570.92" y2="0"><stop offset="0" stop-color="#000" stop-opacity="0.01"/><stop offset="0.1" stop-color="#000" stop-opacity="0.07"/><stop offset="0.2" stop-color="#000" stop-opacity="0.22"/><stop offset="0.3" stop-color="#000" stop-opacity="0.51"/><stop offset="0.4" stop-color="#000" stop-opacity="0.85"/><stop offset="0.5" stop-color="#000" stop-opacity="1"/><stop offset="0.6" stop-color="#000" stop-opacity="0.85"/><stop offset="0.7" stop-color="#000" stop-opacity="0.51"/><stop offset="0.8" stop-color="#000" stop-opacity="0.22"/><stop offset="0.9" stop-color="#000" stop-opacity="0.07"/><stop offset="1" stop-color="#000" stop-opacity="0.01"/></linearGradient><linearGradient id="bg214" x1="0" y1="0" x2="0" y2="1"><stop offset="0" stop-color="#f8f8f8"/><stop offset="1" stop-color="#f6f6f6"/></linearGradient><linearGradient id="g214_0_0" gradientUnits="userSpaceOnUse" x1="514.96" y1="0" x2="560.74" y2="0"><stop offset="0" stop-color="#000" stop-opacity="0.01"/><stop offset="0.1" stop-color="#000" stop-opacity="0.07"/><stop offset="0.2" stop-color="#000" stop-opacity="0.22"/><stop offset="0.3" stop-color="#000" stop-opacity="0.51"/><stop offset="0.4" stop-color="#000" stop-opacity="0.85"/><stop offset="0.5" stop-color="#000" stop-opacity="1"/><stop offset="0.6" stop-color="#000" stop-opacity="0.85"/><stop offset="0.7" stop-color="#000" stop-opacity="0.51"/><stop offset="0.8" stop-color="#000" stop-opacity="0.22"/><stop offset="0.9" stop-color="#000" stop-opacity="0.07"/><stop offset="1" stop-color="#000" stop-opacity="0.01"/></linearGradient><linearGradient id="g214_0_1" gradientUnits="userSpaceOnUse" x1="512.54" y1="0" x2="563.16" y2="0"><stop offset="0" stop-color="#000" stop-opacity="0.01"/><stop offset="0.1" stop-color="#000" stop-opacity="0.07"/><stop offset="0.2" stop-color="#000" stop-opacity="0.22"/><stop offset="0.3" stop-color="#000" stop-opacity="0.51"/><stop offset="0.4" stop-color="#000" stop-opacity="0.85"/><stop offset="0.5" stop-color="#000" stop-opacity="1"/><stop offset="0.6" stop-color="#000" stop-opacity="0.85"/><stop offset="0.7" stop-color="#000" stop-opacity="0.51"/><stop offset="0.8" stop-color="#000" stop-opacity="0.22"/><stop offset="0.9" stop-color="#000" stop-opacity="0.07"/><stop offset="1" stop-color="#000" stop-opacity="0.01"/></linearGradient><linearGradient id="g214_0_2" gradientUnits="userSpaceOnUse" x1="510.11" y1="0" x2="565.59" y2="0"><stop offset="0" stop-color="#000" stop-opacity="0.01"/><stop offset="0.1" stop-color="#000" stop-opacity="0.07"/><stop offset="0.2" stop-color="#000" stop-opacity="0.22"/><stop offset="0.3" stop-color="#000" stop-opacity="0.51"/><stop offset="0.4" stop-color="#000" stop-opacity="0.85"/><stop offset="0.5" stop-color="#000" stop-opacity="1"/><stop offset="0.6" stop-color="#000" stop-opacity="0.85"/><stop offset="0.7" stop-color="#000" stop-opacity="0.51"/><stop offset="0.8" stop-color="#000" stop-opacity="0.22"/><stop offset="0.9" stop-color="#000" stop-opacity="0.07"/><stop offset="1" stop-color="#000" stop-opacity="0.01"/></linearGradient><linearGradient id="g214_0_3" gradientUnits="userSpaceOnUse" x1="507.69" y1="0" x2="568.01" y2="0"><stop offset="0" stop-color="#000" stop-opacity="0.01"/><stop offset="0.1" stop-color="#000" stop-opacity="0.07"/><stop offset="0.2" stop-color="#000" stop-opacity="0.22"/><stop offset="0.3" stop-color="#000" stop-opacity="0.51"/><stop offset="0.4" stop-color="#000" stop-opacity="0.85"/><stop offset="0.5" stop-color="#000" stop-opacity="1"/><stop offset="0.6" stop-color="#000" stop-opacity="0.85"/><stop offset="0.7" stop-color="#000" stop-opacity="0.51"/><stop offset="0.8" stop-color="#000" stop-opacity="0.22"/><stop offset="0.9" stop-color="#000" stop-opacity="0.07"/><stop offset="1" stop-color="#000" stop-opacity="0.01"/></linearGradient><linearGradient id="g214_0_4" gradientUnits="userSpaceOnUse" x1="505.27" y1="0" x2="570.43" y2="0"><stop offset="0" stop-color="#000" stop-opacity="0.01"/><stop offset="0.1" stop-color="#000" stop-opacity="0.07"/><stop offset="0.2" stop-color="#000" stop-opacity="0.22"/><stop offset="0.3" stop-color="#000" stop-opacity="0.51"/><stop offset="0.4" stop-color="#000" stop-opacity="0.85"/><stop offset="0.5" stop-color="#000" stop-opacity="1"/><stop offset="0.6" stop-color="#000" stop-opacity="0.85"/><stop offset="0.7" stop-color="#000" stop-opacity="0.51"/><stop offset="0.8" stop-color="#000" stop-opacity="0.22"/><stop offset="0.9" stop-color="#000" stop-opacity="0.07"/><stop offset="1" stop-color="#000" stop-opacity="0.01"/></linearGradient><linearGradient id="bg221" x1="0" y1="0" x2="0" y2="1"><stop offset="0" stop-color="#f7f6fb"/><stop offset="1" stop-color="#f5f4fa"/></linearGradient><linearGradient id="g221_0_0" gradientUnits="userSpaceOnUse" x1="657.04" y1="0" x2="701.94" y2="0"><stop offset="0" stop-color="#5b3fa8" stop-opacity="0.01"/><stop offset="0.1" stop-color="#5b3fa8" stop-opacity="0.07"/><stop offset="0.2" stop-color="#5b3fa8" stop-opacity="0.22"/><stop offset="0.3" stop-color="#5b3fa8" stop-opacity="0.51"/><stop offset="0.4" stop-color="#5b3fa8" stop-opacity="0.85"/><stop offset="0.5" stop-color="#5b3fa8" stop-opacity="1"/><stop offset="0.6" stop-color="#5b3fa8" stop-opacity="0.85"/><stop offset="0.7" stop-color="#5b3fa8" stop-opacity="0.51"/><stop offset="0.8" stop-color="#5b3fa8" stop-opacity="0.22"/><stop offset="0.9" stop-color="#5b3fa8" stop-opacity="0.07"/><stop offset="1" stop-color="#5b3fa8" stop-opacity="0.01"/></linearGradient><linearGradient id="g221_0_1" gradientUnits="userSpaceOnUse" x1="655.2" y1="0" x2="703.78" y2="0"><stop offset="0" stop-color="#5b3fa8" stop-opacity="0.01"/><stop offset="0.1" stop-color="#5b3fa8" stop-opacity="0.07"/><stop offset="0.2" stop-color="#5b3fa8" stop-opacity="0.22"/><stop offset="0.3" stop-color="#5b3fa8" stop-opacity="0.51"/><stop offset="0.4" stop-color="#5b3fa8" stop-opacity="0.85"/><stop offset="0.5" stop-color="#5b3fa8" stop-opacity="1"/><stop offset="0.6" stop-color="#5b3fa8" stop-opacity="0.85"/><stop offset="0.7" stop-color="#5b3fa8" stop-opacity="0.51"/><stop offset="0.8" stop-color="#5b3fa8" stop-opacity="0.22"/><stop offset="0.9" stop-color="#5b3fa8" stop-opacity="0.07"/><stop offset="1" stop-color="#5b3fa8" stop-opacity="0.01"/></linearGradient><linearGradient id="g221_0_2" gradientUnits="userSpaceOnUse" x1="653.35" y1="0" x2="705.63" y2="0"><stop offset="0" stop-color="#5b3fa8" stop-opacity="0.01"/><stop offset="0.1" stop-color="#5b3fa8" stop-opacity="0.07"/><stop offset="0.2" stop-color="#5b3fa8" stop-opacity="0.22"/><stop offset="0.3" stop-color="#5b3fa8" stop-opacity="0.51"/><stop offset="0.4" stop-color="#5b3fa8" stop-opacity="0.85"/><stop offset="0.5" stop-color="#5b3fa8" stop-opacity="1"/><stop offset="0.6" stop-color="#5b3fa8" stop-opacity="0.85"/><stop offset="0.7" stop-color="#5b3fa8" stop-opacity="0.51"/><stop offset="0.8" stop-color="#5b3fa8" stop-opacity="0.22"/><stop offset="0.9" stop-color="#5b3fa8" stop-opacity="0.07"/><stop offset="1" stop-color="#5b3fa8" stop-opacity="0.01"/></linearGradient><linearGradient id="g221_0_3" gradientUnits="userSpaceOnUse" x1="651.51" y1="0" x2="707.47" y2="0"><stop offset="0" stop-color="#5b3fa8" stop-opacity="0.01"/><stop offset="0.1" stop-color="#5b3fa8" stop-opacity="0.07"/><stop offset="0.2" stop-color="#5b3fa8" stop-opacity="0.22"/><stop offset="0.3" stop-color="#5b3fa8" stop-opacity="0.51"/><stop offset="0.4" stop-color="#5b3fa8" stop-opacity="0.85"/><stop offset="0.5" stop-color="#5b3fa8" stop-opacity="1"/><stop offset="0.6" stop-color="#5b3fa8" stop-opacity="0.85"/><stop offset="0.7" stop-color="#5b3fa8" stop-opacity="0.51"/><stop offset="0.8" stop-color="#5b3fa8" stop-opacity="0.22"/><stop offset="0.9" stop-color="#5b3fa8" stop-opacity="0.07"/><stop offset="1" stop-color="#5b3fa8" stop-opacity="0.01"/></linearGradient><linearGradient id="g221_0_4" gradientUnits="userSpaceOnUse" x1="649.67" y1="0" x2="709.31" y2="0"><stop offset="0" stop-color="#5b3fa8" stop-opacity="0.01"/><stop offset="0.1" stop-color="#5b3fa8" stop-opacity="0.07"/><stop offset="0.2" stop-color="#5b3fa8" stop-opacity="0.22"/><stop offset="0.3" stop-color="#5b3fa8" stop-opacity="0.51"/><stop offset="0.4" stop-color="#5b3fa8" stop-opacity="0.85"/><stop offset="0.5" stop-color="#5b3fa8" stop-opacity="1"/><stop offset="0.6" stop-color="#5b3fa8" stop-opacity="0.85"/><stop offset="0.7" stop-color="#5b3fa8" stop-opacity="0.51"/><stop offset="0.8" stop-color="#5b3fa8" stop-opacity="0.22"/><stop offset="0.9" stop-color="#5b3fa8" stop-opacity="0.07"/><stop offset="1" stop-color="#5b3fa8" stop-opacity="0.01"/></linearGradient><linearGradient id="bg222" x1="0" y1="0" x2="0" y2="1"><stop offset="0" stop-color="#f7f6fb"/><stop offset="1" stop-color="#f5f4fa"/></linearGradient><linearGradient id="g222_0_0" gradientUnits="userSpaceOnUse" x1="657.17" y1="0" x2="701.81" y2="0"><stop offset="0" stop-color="#5b3fa8" stop-opacity="0.01"/><stop offset="0.1" stop-color="#5b3fa8" stop-opacity="0.07"/><stop offset="0.2" stop-color="#5b3fa8" stop-opacity="0.22"/><stop offset="0.3" stop-color="#5b3fa8" stop-opacity="0.51"/><stop offset="0.4" stop-color="#5b3fa8" stop-opacity="0.85"/><stop offset="0.5" stop-color="#5b3fa8" stop-opacity="1"/><stop offset="0.6" stop-color="#5b3fa8" stop-opacity="0.85"/><stop offset="0.7" stop-color="#5b3fa8" stop-opacity="0.51"/><stop offset="0.8" stop-color="#5b3fa8" stop-opacity="0.22"/><stop offset="0.9" stop-color="#5b3fa8" stop-opacity="0.07"/><stop offset="1" stop-color="#5b3fa8" stop-opacity="0.01"/></linearGradient><linearGradient id="g222_0_1" gradientUnits="userSpaceOnUse" x1="655.27" y1="0" x2="703.71" y2="0"><stop offset="0" stop-color="#5b3fa8" stop-opacity="0.01"/><stop offset="0.1" stop-color="#5b3fa8" stop-opacity="0.07"/><stop offset="0.2" stop-color="#5b3fa8" stop-opacity="0.22"/><stop offset="0.3" stop-color="#5b3fa8" stop-opacity="0.51"/><stop offset="0.4" stop-color="#5b3fa8" stop-opacity="0.85"/><stop offset="0.5" stop-color="#5b3fa8" stop-opacity="1"/><stop offset="0.6" stop-color="#5b3fa8" stop-opacity="0.85"/><stop offset="0.7" stop-color="#5b3fa8" stop-opacity="0.51"/><stop offset="0.8" stop-color="#5b3fa8" stop-opacity="0.22"/><stop offset="0.9" stop-color="#5b3fa8" stop-opacity="0.07"/><stop offset="1" stop-color="#5b3fa8" stop-opacity="0.01"/></linearGradient><linearGradient id="g222_0_2" gradientUnits="userSpaceOnUse" x1="653.38" y1="0" x2="705.6" y2="0"><stop offset="0" stop-color="#5b3fa8" stop-opacity="0.01"/><stop offset="0.1" stop-color="#5b3fa8" stop-opacity="0.07"/><stop offset="0.2" stop-color="#5b3fa8" stop-opacity="0.22"/><stop offset="0.3" stop-color="#5b3fa8" stop-opacity="0.51"/><stop offset="0.4" stop-color="#5b3fa8" stop-opacity="0.85"/><stop offset="0.5" stop-color="#5b3fa8" stop-opacity="1"/><stop offset="0.6" stop-color="#5b3fa8" stop-opacity="0.85"/><stop offset="0.7" stop-color="#5b3fa8" stop-opacity="0.51"/><stop offset="0.8" stop-color="#5b3fa8" stop-opacity="0.22"/><stop offset="0.9" stop-color="#5b3fa8" stop-opacity="0.07"/><stop offset="1" stop-color="#5b3fa8" stop-opacity="0.01"/></linearGradient><linearGradient id="g222_0_3" gradientUnits="userSpaceOnUse" x1="651.48" y1="0" x2="707.5" y2="0"><stop offset="0" stop-color="#5b3fa8" stop-opacity="0.01"/><stop offset="0.1" stop-color="#5b3fa8" stop-opacity="0.07"/><stop offset="0.2" stop-color="#5b3fa8" stop-opacity="0.22"/><stop offset="0.3" stop-color="#5b3fa8" stop-opacity="0.51"/><stop offset="0.4" stop-color="#5b3fa8" stop-opacity="0.85"/><stop offset="0.5" stop-color="#5b3fa8" stop-opacity="1"/><stop offset="0.6" stop-color="#5b3fa8" stop-opacity="0.85"/><stop offset="0.7" stop-color="#5b3fa8" stop-opacity="0.51"/><stop offset="0.8" stop-color="#5b3fa8" stop-opacity="0.22"/><stop offset="0.9" stop-color="#5b3fa8" stop-opacity="0.07"/><stop offset="1" stop-color="#5b3fa8" stop-opacity="0.01"/></linearGradient><linearGradient id="g222_0_4" gradientUnits="userSpaceOnUse" x1="649.59" y1="0" x2="709.39" y2="0"><stop offset="0" stop-color="#5b3fa8" stop-opacity="0.01"/><stop offset="0.1" stop-color="#5b3fa8" stop-opacity="0.07"/><stop offset="0.2" stop-color="#5b3fa8" stop-opacity="0.22"/><stop offset="0.3" stop-color="#5b3fa8" stop-opacity="0.51"/><stop offset="0.4" stop-color="#5b3fa8" stop-opacity="0.85"/><stop offset="0.5" stop-color="#5b3fa8" stop-opacity="1"/><stop offset="0.6" stop-color="#5b3fa8" stop-opacity="0.85"/><stop offset="0.7" stop-color="#5b3fa8" stop-opacity="0.51"/><stop offset="0.8" stop-color="#5b3fa8" stop-opacity="0.22"/><stop offset="0.9" stop-color="#5b3fa8" stop-opacity="0.07"/><stop offset="1" stop-color="#5b3fa8" stop-opacity="0.01"/></linearGradient><linearGradient id="bg223" x1="0" y1="0" x2="0" y2="1"><stop offset="0" stop-color="#f8f8f8"/><stop offset="1" stop-color="#f6f6f6"/></linearGradient><linearGradient id="g223_0_0" gradientUnits="userSpaceOnUse" x1="797.72" y1="0" x2="849.29" y2="0"><stop offset="0" stop-color="#000" stop-opacity="0.01"/><stop offset="0.1" stop-color="#000" stop-opacity="0.07"/><stop offset="0.2" stop-color="#000" stop-opacity="0.22"/><stop offset="0.3" stop-color="#000" stop-opacity="0.51"/><stop offset="0.4" stop-color="#000" stop-opacity="0.85"/><stop offset="0.5" stop-color="#000" stop-opacity="1"/><stop offset="0.6" stop-color="#000" stop-opacity="0.85"/><stop offset="0.7" stop-color="#000" stop-opacity="0.51"/><stop offset="0.8" stop-color="#000" stop-opacity="0.22"/><stop offset="0.9" stop-color="#000" stop-opacity="0.07"/><stop offset="1" stop-color="#000" stop-opacity="0.01"/></linearGradient><linearGradient id="g223_0_1" gradientUnits="userSpaceOnUse" x1="795.27" y1="0" x2="851.75" y2="0"><stop offset="0" stop-color="#000" stop-opacity="0.01"/><stop offset="0.1" stop-color="#000" stop-opacity="0.07"/><stop offset="0.2" stop-color="#000" stop-opacity="0.22"/><stop offset="0.3" stop-color="#000" stop-opacity="0.51"/><stop offset="0.4" stop-color="#000" stop-opacity="0.85"/><stop offset="0.5" stop-color="#000" stop-opacity="1"/><stop offset="0.6" stop-color="#000" stop-opacity="0.85"/><stop offset="0.7" stop-color="#000" stop-opacity="0.51"/><stop offset="0.8" stop-color="#000" stop-opacity="0.22"/><stop offset="0.9" stop-color="#000" stop-opacity="0.07"/><stop offset="1" stop-color="#000" stop-opacity="0.01"/></linearGradient><linearGradient id="g223_0_2" gradientUnits="userSpaceOnUse" x1="792.81" y1="0" x2="854.2" y2="0"><stop offset="0" stop-color="#000" stop-opacity="0.01"/><stop offset="0.1" stop-color="#000" stop-opacity="0.07"/><stop offset="0.2" stop-color="#000" stop-opacity="0.22"/><stop offset="0.3" stop-color="#000" stop-opacity="0.51"/><stop offset="0.4" stop-color="#000" stop-opacity="0.85"/><stop offset="0.5" stop-color="#000" stop-opacity="1"/><stop offset="0.6" stop-color="#000" stop-opacity="0.85"/><stop offset="0.7" stop-color="#000" stop-opacity="0.51"/><stop offset="0.8" stop-color="#000" stop-opacity="0.22"/><stop offset="0.9" stop-color="#000" stop-opacity="0.07"/><stop offset="1" stop-color="#000" stop-opacity="0.01"/></linearGradient><linearGradient id="g223_0_3" gradientUnits="userSpaceOnUse" x1="790.36" y1="0" x2="856.66" y2="0"><stop offset="0" stop-color="#000" stop-opacity="0.01"/><stop offset="0.1" stop-color="#000" stop-opacity="0.07"/><stop offset="0.2" stop-color="#000" stop-opacity="0.22"/><stop offset="0.3" stop-color="#000" stop-opacity="0.51"/><stop offset="0.4" stop-color="#000" stop-opacity="0.85"/><stop offset="0.5" stop-color="#000" stop-opacity="1"/><stop offset="0.6" stop-color="#000" stop-opacity="0.85"/><stop offset="0.7" stop-color="#000" stop-opacity="0.51"/><stop offset="0.8" stop-color="#000" stop-opacity="0.22"/><stop offset="0.9" stop-color="#000" stop-opacity="0.07"/><stop offset="1" stop-color="#000" stop-opacity="0.01"/></linearGradient><linearGradient id="g223_0_4" gradientUnits="userSpaceOnUse" x1="787.9" y1="0" x2="859.11" y2="0"><stop offset="0" stop-color="#000" stop-opacity="0.01"/><stop offset="0.1" stop-color="#000" stop-opacity="0.07"/><stop offset="0.2" stop-color="#000" stop-opacity="0.22"/><stop offset="0.3" stop-color="#000" stop-opacity="0.51"/><stop offset="0.4" stop-color="#000" stop-opacity="0.85"/><stop offset="0.5" stop-color="#000" stop-opacity="1"/><stop offset="0.6" stop-color="#000" stop-opacity="0.85"/><stop offset="0.7" stop-color="#000" stop-opacity="0.51"/><stop offset="0.8" stop-color="#000" stop-opacity="0.22"/><stop offset="0.9" stop-color="#000" stop-opacity="0.07"/><stop offset="1" stop-color="#000" stop-opacity="0.01"/></linearGradient><linearGradient id="bg224" x1="0" y1="0" x2="0" y2="1"><stop offset="0" stop-color="#f8f8f8"/><stop offset="1" stop-color="#f6f6f6"/></linearGradient><linearGradient id="g224_0_0" gradientUnits="userSpaceOnUse" x1="798.27" y1="0" x2="848.74" y2="0"><stop offset="0" stop-color="#000" stop-opacity="0.01"/><stop offset="0.1" stop-color="#000" stop-opacity="0.07"/><stop offset="0.2" stop-color="#000" stop-opacity="0.22"/><stop offset="0.3" stop-color="#000" stop-opacity="0.51"/><stop offset="0.4" stop-color="#000" stop-opacity="0.85"/><stop offset="0.5" stop-color="#000" stop-opacity="1"/><stop offset="0.6" stop-color="#000" stop-opacity="0.85"/><stop offset="0.7" stop-color="#000" stop-opacity="0.51"/><stop offset="0.8" stop-color="#000" stop-opacity="0.22"/><stop offset="0.9" stop-color="#000" stop-opacity="0.07"/><stop offset="1" stop-color="#000" stop-opacity="0.01"/></linearGradient><linearGradient id="g224_0_1" gradientUnits="userSpaceOnUse" x1="796.01" y1="0" x2="851.01" y2="0"><stop offset="0" stop-color="#000" stop-opacity="0.01"/><stop offset="0.1" stop-color="#000" stop-opacity="0.07"/><stop offset="0.2" stop-color="#000" stop-opacity="0.22"/><stop offset="0.3" stop-color="#000" stop-opacity="0.51"/><stop offset="0.4" stop-color="#000" stop-opacity="0.85"/><stop offset="0.5" stop-color="#000" stop-opacity="1"/><stop offset="0.6" stop-color="#000" stop-opacity="0.85"/><stop offset="0.7" stop-color="#000" stop-opacity="0.51"/><stop offset="0.8" stop-color="#000" stop-opacity="0.22"/><stop offset="0.9" stop-color="#000" stop-opacity="0.07"/><stop offset="1" stop-color="#000" stop-opacity="0.01"/></linearGradient><linearGradient id="g224_0_2" gradientUnits="userSpaceOnUse" x1="793.75" y1="0" x2="853.27" y2="0"><stop offset="0" stop-color="#000" stop-opacity="0.01"/><stop offset="0.1" stop-color="#000" stop-opacity="0.07"/><stop offset="0.2" stop-color="#000" stop-opacity="0.22"/><stop offset="0.3" stop-color="#000" stop-opacity="0.51"/><stop offset="0.4" stop-color="#000" stop-opacity="0.85"/><stop offset="0.5" stop-color="#000" stop-opacity="1"/><stop offset="0.6" stop-color="#000" stop-opacity="0.85"/><stop offset="0.7" stop-color="#000" stop-opacity="0.51"/><stop offset="0.8" stop-color="#000" stop-opacity="0.22"/><stop offset="0.9" stop-color="#000" stop-opacity="0.07"/><stop offset="1" stop-color="#000" stop-opacity="0.01"/></linearGradient><linearGradient id="g224_0_3" gradientUnits="userSpaceOnUse" x1="791.48" y1="0" x2="855.53" y2="0"><stop offset="0" stop-color="#000" stop-opacity="0.01"/><stop offset="0.1" stop-color="#000" stop-opacity="0.07"/><stop offset="0.2" stop-color="#000" stop-opacity="0.22"/><stop offset="0.3" stop-color="#000" stop-opacity="0.51"/><stop offset="0.4" stop-color="#000" stop-opacity="0.85"/><stop offset="0.5" stop-color="#000" stop-opacity="1"/><stop offset="0.6" stop-color="#000" stop-opacity="0.85"/><stop offset="0.7" stop-color="#000" stop-opacity="0.51"/><stop offset="0.8" stop-color="#000" stop-opacity="0.22"/><stop offset="0.9" stop-color="#000" stop-opacity="0.07"/><stop offset="1" stop-color="#000" stop-opacity="0.01"/></linearGradient><linearGradient id="g224_0_4" gradientUnits="userSpaceOnUse" x1="789.22" y1="0" x2="857.8" y2="0"><stop offset="0" stop-color="#000" stop-opacity="0.01"/><stop offset="0.1" stop-color="#000" stop-opacity="0.07"/><stop offset="0.2" stop-color="#000" stop-opacity="0.22"/><stop offset="0.3" stop-color="#000" stop-opacity="0.51"/><stop offset="0.4" stop-color="#000" stop-opacity="0.85"/><stop offset="0.5" stop-color="#000" stop-opacity="1"/><stop offset="0.6" stop-color="#000" stop-opacity="0.85"/><stop offset="0.7" stop-color="#000" stop-opacity="0.51"/><stop offset="0.8" stop-color="#000" stop-opacity="0.22"/><stop offset="0.9" stop-color="#000" stop-opacity="0.07"/><stop offset="1" stop-color="#000" stop-opacity="0.01"/></linearGradient><linearGradient id="bg225" x1="0" y1="0" x2="0" y2="1"><stop offset="0" stop-color="#f8f8f8"/><stop offset="1" stop-color="#f6f6f6"/></linearGradient><linearGradient id="g225_0_0" gradientUnits="userSpaceOnUse" x1="942.28" y1="0" x2="991.92" y2="0"><stop offset="0" stop-color="#000" stop-opacity="0.01"/><stop offset="0.1" stop-color="#000" stop-opacity="0.07"/><stop offset="0.2" stop-color="#000" stop-opacity="0.22"/><stop offset="0.3" stop-color="#000" stop-opacity="0.51"/><stop offset="0.4" stop-color="#000" stop-opacity="0.85"/><stop offset="0.5" stop-color="#000" stop-opacity="1"/><stop offset="0.6" stop-color="#000" stop-opacity="0.85"/><stop offset="0.7" stop-color="#000" stop-opacity="0.51"/><stop offset="0.8" stop-color="#000" stop-opacity="0.22"/><stop offset="0.9" stop-color="#000" stop-opacity="0.07"/><stop offset="1" stop-color="#000" stop-opacity="0.01"/></linearGradient><linearGradient id="g225_0_1" gradientUnits="userSpaceOnUse" x1="940.4" y1="0" x2="993.8" y2="0"><stop offset="0" stop-color="#000" stop-opacity="0.01"/><stop offset="0.1" stop-color="#000" stop-opacity="0.07"/><stop offset="0.2" stop-color="#000" stop-opacity="0.22"/><stop offset="0.3" stop-color="#000" stop-opacity="0.51"/><stop offset="0.4" stop-color="#000" stop-opacity="0.85"/><stop offset="0.5" stop-color="#000" stop-opacity="1"/><stop offset="0.6" stop-color="#000" stop-opacity="0.85"/><stop offset="0.7" stop-color="#000" stop-opacity="0.51"/><stop offset="0.8" stop-color="#000" stop-opacity="0.22"/><stop offset="0.9" stop-color="#000" stop-opacity="0.07"/><stop offset="1" stop-color="#000" stop-opacity="0.01"/></linearGradient><linearGradient id="g225_0_2" gradientUnits="userSpaceOnUse" x1="938.51" y1="0" x2="995.69" y2="0"><stop offset="0" stop-color="#000" stop-opacity="0.01"/><stop offset="0.1" stop-color="#000" stop-opacity="0.07"/><stop offset="0.2" stop-color="#000" stop-opacity="0.22"/><stop offset="0.3" stop-color="#000" stop-opacity="0.51"/><stop offset="0.4" stop-color="#000" stop-opacity="0.85"/><stop offset="0.5" stop-color="#000" stop-opacity="1"/><stop offset="0.6" stop-color="#000" stop-opacity="0.85"/><stop offset="0.7" stop-color="#000" stop-opacity="0.51"/><stop offset="0.8" stop-color="#000" stop-opacity="0.22"/><stop offset="0.9" stop-color="#000" stop-opacity="0.07"/><stop offset="1" stop-color="#000" stop-opacity="0.01"/></linearGradient><linearGradient id="g225_0_3" gradientUnits="userSpaceOnUse" x1="936.63" y1="0" x2="997.57" y2="0"><stop offset="0" stop-color="#000" stop-opacity="0.01"/><stop offset="0.1" stop-color="#000" stop-opacity="0.07"/><stop offset="0.2" stop-color="#000" stop-opacity="0.22"/><stop offset="0.3" stop-color="#000" stop-opacity="0.51"/><stop offset="0.4" stop-color="#000" stop-opacity="0.85"/><stop offset="0.5" stop-color="#000" stop-opacity="1"/><stop offset="0.6" stop-color="#000" stop-opacity="0.85"/><stop offset="0.7" stop-color="#000" stop-opacity="0.51"/><stop offset="0.8" stop-color="#000" stop-opacity="0.22"/><stop offset="0.9" stop-color="#000" stop-opacity="0.07"/><stop offset="1" stop-color="#000" stop-opacity="0.01"/></linearGradient><linearGradient id="g225_0_4" gradientUnits="userSpaceOnUse" x1="934.74" y1="0" x2="999.46" y2="0"><stop offset="0" stop-color="#000" stop-opacity="0.01"/><stop offset="0.1" stop-color="#000" stop-opacity="0.07"/><stop offset="0.2" stop-color="#000" stop-opacity="0.22"/><stop offset="0.3" stop-color="#000" stop-opacity="0.51"/><stop offset="0.4" stop-color="#000" stop-opacity="0.85"/><stop offset="0.5" stop-color="#000" stop-opacity="1"/><stop offset="0.6" stop-color="#000" stop-opacity="0.85"/><stop offset="0.7" stop-color="#000" stop-opacity="0.51"/><stop offset="0.8" stop-color="#000" stop-opacity="0.22"/><stop offset="0.9" stop-color="#000" stop-opacity="0.07"/><stop offset="1" stop-color="#000" stop-opacity="0.01"/></linearGradient><linearGradient id="bg226" x1="0" y1="0" x2="0" y2="1"><stop offset="0" stop-color="#f8f8f8"/><stop offset="1" stop-color="#f6f6f6"/></linearGradient><linearGradient id="g226_0_0" gradientUnits="userSpaceOnUse" x1="944.03" y1="0" x2="990.17" y2="0"><stop offset="0" stop-color="#000" stop-opacity="0.01"/><stop offset="0.1" stop-color="#000" stop-opacity="0.07"/><stop offset="0.2" stop-color="#000" stop-opacity="0.22"/><stop offset="0.3" stop-color="#000" stop-opacity="0.51"/><stop offset="0.4" stop-color="#000" stop-opacity="0.85"/><stop offset="0.5" stop-color="#000" stop-opacity="1"/><stop offset="0.6" stop-color="#000" stop-opacity="0.85"/><stop offset="0.7" stop-color="#000" stop-opacity="0.51"/><stop offset="0.8" stop-color="#000" stop-opacity="0.22"/><stop offset="0.9" stop-color="#000" stop-opacity="0.07"/><stop offset="1" stop-color="#000" stop-opacity="0.01"/></linearGradient><linearGradient id="g226_0_1" gradientUnits="userSpaceOnUse" x1="941.48" y1="0" x2="992.72" y2="0"><stop offset="0" stop-color="#000" stop-opacity="0.01"/><stop offset="0.1" stop-color="#000" stop-opacity="0.07"/><stop offset="0.2" stop-color="#000" stop-opacity="0.22"/><stop offset="0.3" stop-color="#000" stop-opacity="0.51"/><stop offset="0.4" stop-color="#000" stop-opacity="0.85"/><stop offset="0.5" stop-color="#000" stop-opacity="1"/><stop offset="0.6" stop-color="#000" stop-opacity="0.85"/><stop offset="0.7" stop-color="#000" stop-opacity="0.51"/><stop offset="0.8" stop-color="#000" stop-opacity="0.22"/><stop offset="0.9" stop-color="#000" stop-opacity="0.07"/><stop offset="1" stop-color="#000" stop-opacity="0.01"/></linearGradient><linearGradient id="g226_0_2" gradientUnits="userSpaceOnUse" x1="938.94" y1="0" x2="995.26" y2="0"><stop offset="0" stop-color="#000" stop-opacity="0.01"/><stop offset="0.1" stop-color="#000" stop-opacity="0.07"/><stop offset="0.2" stop-color="#000" stop-opacity="0.22"/><stop offset="0.3" stop-color="#000" stop-opacity="0.51"/><stop offset="0.4" stop-color="#000" stop-opacity="0.85"/><stop offset="0.5" stop-color="#000" stop-opacity="1"/><stop offset="0.6" stop-color="#000" stop-opacity="0.85"/><stop offset="0.7" stop-color="#000" stop-opacity="0.51"/><stop offset="0.8" stop-color="#000" stop-opacity="0.22"/><stop offset="0.9" stop-color="#000" stop-opacity="0.07"/><stop offset="1" stop-color="#000" stop-opacity="0.01"/></linearGradient><linearGradient id="g226_0_3" gradientUnits="userSpaceOnUse" x1="936.39" y1="0" x2="997.81" y2="0"><stop offset="0" stop-color="#000" stop-opacity="0.01"/><stop offset="0.1" stop-color="#000" stop-opacity="0.07"/><stop offset="0.2" stop-color="#000" stop-opacity="0.22"/><stop offset="0.3" stop-color="#000" stop-opacity="0.51"/><stop offset="0.4" stop-color="#000" stop-opacity="0.85"/><stop offset="0.5" stop-color="#000" stop-opacity="1"/><stop offset="0.6" stop-color="#000" stop-opacity="0.85"/><stop offset="0.7" stop-color="#000" stop-opacity="0.51"/><stop offset="0.8" stop-color="#000" stop-opacity="0.22"/><stop offset="0.9" stop-color="#000" stop-opacity="0.07"/><stop offset="1" stop-color="#000" stop-opacity="0.01"/></linearGradient><linearGradient id="g226_0_4" gradientUnits="userSpaceOnUse" x1="933.84" y1="0" x2="1000.36" y2="0"><stop offset="0" stop-color="#000" stop-opacity="0.01"/><stop offset="0.1" stop-color="#000" stop-opacity="0.07"/><stop offset="0.2" stop-color="#000" stop-opacity="0.22"/><stop offset="0.3" stop-color="#000" stop-opacity="0.51"/><stop offset="0.4" stop-color="#000" stop-opacity="0.85"/><stop offset="0.5" stop-color="#000" stop-opacity="1"/><stop offset="0.6" stop-color="#000" stop-opacity="0.85"/><stop offset="0.7" stop-color="#000" stop-opacity="0.51"/><stop offset="0.8" stop-color="#000" stop-opacity="0.22"/><stop offset="0.9" stop-color="#000" stop-opacity="0.07"/><stop offset="1" stop-color="#000" stop-opacity="0.01"/></linearGradient><linearGradient id="band_5b3fa8" x1="0" y1="0" x2="1" y2="0"><stop offset="0" stop-color="#5b3fa8" stop-opacity="0.03"/><stop offset="0.08" stop-color="#5b3fa8" stop-opacity="0.1"/><stop offset="0.17" stop-color="#5b3fa8" stop-opacity="0.22"/><stop offset="0.25" stop-color="#5b3fa8" stop-opacity="0.43"/><stop offset="0.33" stop-color="#5b3fa8" stop-opacity="0.69"/><stop offset="0.42" stop-color="#5b3fa8" stop-opacity="0.91"/><stop offset="0.5" stop-color="#5b3fa8" stop-opacity="1"/><stop offset="0.58" stop-color="#5b3fa8" stop-opacity="0.91"/><stop offset="0.67" stop-color="#5b3fa8" stop-opacity="0.69"/><stop offset="0.75" stop-color="#5b3fa8" stop-opacity="0.43"/><stop offset="0.83" stop-color="#5b3fa8" stop-opacity="0.22"/><stop offset="0.92" stop-color="#5b3fa8" stop-opacity="0.1"/><stop offset="1" stop-color="#5b3fa8" stop-opacity="0.03"/></linearGradient><clipPath id="cp251"><rect x="1558.4" y="1263.9" width="132" height="350.8"/></clipPath><linearGradient id="cbcw" x1="0" x2="1" y1="0" y2="0"><stop offset="0" stop-color="#3b4da6"/><stop offset="0.12" stop-color="#6176ba"/><stop offset="0.25" stop-color="#93a7d6"/><stop offset="0.38" stop-color="#c3d2eb"/><stop offset="0.5" stop-color="#dedcdb"/><stop offset="0.62" stop-color="#f3c7b1"/><stop offset="0.75" stop-color="#f4a283"/><stop offset="0.88" stop-color="#e0664f"/><stop offset="1" stop-color="#b5192c"/></linearGradient><linearGradient id="cbg16" x1="0" x2="1" y1="0" y2="0"><stop offset="0" stop-color="#fafafa"/><stop offset="0.5" stop-color="#a8a8a8"/><stop offset="0.8" stop-color="#444"/><stop offset="0.93" stop-color="#000"/><stop offset="1" stop-color="#000"/></linearGradient><linearGradient id="cbpur" x1="0" x2="1" y1="0" y2="0"><stop offset="0" stop-color="#fcfbfd"/><stop offset="0.4" stop-color="#b7b3d8"/><stop offset="0.75" stop-color="#7162ad"/><stop offset="1" stop-color="#4a1486"/></linearGradient></defs><rect width="2000" height="2269" fill="#fff"/><text transform="translate(-0.92 29.19) scale(0.91 1)" font-size="40.91" font-weight="bold" fill="#231f20">a</text>
<path d="M185.1 203 h4.6 v-16.9 h-4.6 Z M195.8 203 h4 v-18 h-4 Z M203.3 203 h4.4 v-19.1 h-4.4 Z M209 203 h4 v-20 h-4 Z M193.5 203 h2.5 v-9 h-2.5 Z M213.5 203 L213.5 183 L216 182.8 L219.7 183.5 L223.3 185.2 L228 185.8 L232.2 186.6 L235 185.8 L237.5 186.1 L241 188.8 L245.5 191.5 L250 194.1 L254 198.5 L257 202.6 L258 203 Z" fill="#808080"/>
<line x1="214.2" y1="182" x2="214.2" y2="193" stroke="#fff" stroke-width="0.6"/>
<line x1="216.6" y1="182" x2="216.6" y2="193" stroke="#fff" stroke-width="0.6"/>
<path d="M417.4 203 L418 115.71 L418.8 116.09 L419.6 117.54 L420.4 118.77 L421.2 120.13 L422 120.82 L422.8 122.02 L423.6 123.33 L424.4 124.11 L425.2 125.89 L426 127.23 L426.8 128.64 L427.6 130.59 L428.4 131.91 L429.2 134.07 L430 135.51 L430.8 135.78 L431.6 137.95 L432.4 139.09 L433.2 141.27 L434 142.91 L434.8 145.14 L435.6 147.1 L436.4 149.61 L437.2 151.72 L438 153.49 L438.8 156.49 L439.6 159.09 L440.4 161.63 L441.2 163.85 L442 167.19 L442.8 168.95 L443.6 171.84 L444.4 173.61 L445.2 176.6 L446 177.87 L446.7 203 Z" fill="#80cdf4"/>
<line x1="190.88" y1="204" x2="190.88" y2="199.2" stroke="#000" stroke-width="1.6"/>
<line x1="201.27" y1="204" x2="201.27" y2="199.2" stroke="#000" stroke-width="1.6"/>
<line x1="208.65" y1="204" x2="208.65" y2="199.2" stroke="#000" stroke-width="1.6"/>
<line x1="214.37" y1="204" x2="214.37" y2="199.2" stroke="#000" stroke-width="1.6"/>
<line x1="219.05" y1="204" x2="219.05" y2="199.2" stroke="#000" stroke-width="1.6"/>
<line x1="223" y1="204" x2="223" y2="199.2" stroke="#000" stroke-width="1.6"/>
<line x1="226.43" y1="204" x2="226.43" y2="199.2" stroke="#000" stroke-width="1.6"/>
<line x1="229.45" y1="204" x2="229.45" y2="199.2" stroke="#000" stroke-width="1.6"/>
<line x1="232.15" y1="204" x2="232.15" y2="195" stroke="#000" stroke-width="1.8"/>
<line x1="249.93" y1="204" x2="249.93" y2="199.2" stroke="#000" stroke-width="1.6"/>
<line x1="260.32" y1="204" x2="260.32" y2="199.2" stroke="#000" stroke-width="1.6"/>
<line x1="267.7" y1="204" x2="267.7" y2="199.2" stroke="#000" stroke-width="1.6"/>
<line x1="273.42" y1="204" x2="273.42" y2="199.2" stroke="#000" stroke-width="1.6"/>
<line x1="278.1" y1="204" x2="278.1" y2="199.2" stroke="#000" stroke-width="1.6"/>
<line x1="282.05" y1="204" x2="282.05" y2="199.2" stroke="#000" stroke-width="1.6"/>
<line x1="285.48" y1="204" x2="285.48" y2="199.2" stroke="#000" stroke-width="1.6"/>
<line x1="288.5" y1="204" x2="288.5" y2="199.2" stroke="#000" stroke-width="1.6"/>
<line x1="291.2" y1="204" x2="291.2" y2="195" stroke="#000" stroke-width="1.8"/>
<line x1="308.98" y1="204" x2="308.98" y2="199.2" stroke="#000" stroke-width="1.6"/>
<line x1="319.37" y1="204" x2="319.37" y2="199.2" stroke="#000" stroke-width="1.6"/>
<line x1="326.75" y1="204" x2="326.75" y2="199.2" stroke="#000" stroke-width="1.6"/>
<line x1="332.47" y1="204" x2="332.47" y2="199.2" stroke="#000" stroke-width="1.6"/>
<line x1="337.15" y1="204" x2="337.15" y2="199.2" stroke="#000" stroke-width="1.6"/>
<line x1="341.1" y1="204" x2="341.1" y2="199.2" stroke="#000" stroke-width="1.6"/>
<line x1="344.53" y1="204" x2="344.53" y2="199.2" stroke="#000" stroke-width="1.6"/>
<line x1="347.55" y1="204" x2="347.55" y2="199.2" stroke="#000" stroke-width="1.6"/>
<line x1="350.25" y1="204" x2="350.25" y2="195" stroke="#000" stroke-width="1.8"/>
<line x1="368.03" y1="204" x2="368.03" y2="199.2" stroke="#000" stroke-width="1.6"/>
<line x1="378.42" y1="204" x2="378.42" y2="199.2" stroke="#000" stroke-width="1.6"/>
<line x1="385.8" y1="204" x2="385.8" y2="199.2" stroke="#000" stroke-width="1.6"/>
<line x1="391.52" y1="204" x2="391.52" y2="199.2" stroke="#000" stroke-width="1.6"/>
<line x1="396.2" y1="204" x2="396.2" y2="199.2" stroke="#000" stroke-width="1.6"/>
<line x1="400.15" y1="204" x2="400.15" y2="199.2" stroke="#000" stroke-width="1.6"/>
<line x1="403.58" y1="204" x2="403.58" y2="199.2" stroke="#000" stroke-width="1.6"/>
<line x1="406.6" y1="204" x2="406.6" y2="199.2" stroke="#000" stroke-width="1.6"/>
<line x1="409.3" y1="204" x2="409.3" y2="195" stroke="#000" stroke-width="1.8"/>
<line x1="427.08" y1="204" x2="427.08" y2="199.2" stroke="#000" stroke-width="1.6"/>
<line x1="437.47" y1="204" x2="437.47" y2="199.2" stroke="#000" stroke-width="1.6"/>
<line x1="444.85" y1="204" x2="444.85" y2="199.2" stroke="#000" stroke-width="1.6"/>
<line x1="450.57" y1="204" x2="450.57" y2="199.2" stroke="#000" stroke-width="1.6"/>
<line x1="455.25" y1="204" x2="455.25" y2="199.2" stroke="#000" stroke-width="1.6"/>
<line x1="459.2" y1="204" x2="459.2" y2="199.2" stroke="#000" stroke-width="1.6"/>
<line x1="462.63" y1="204" x2="462.63" y2="199.2" stroke="#000" stroke-width="1.6"/>
<line x1="465.65" y1="204" x2="465.65" y2="199.2" stroke="#000" stroke-width="1.6"/>
<line x1="468.35" y1="204" x2="468.35" y2="195" stroke="#000" stroke-width="1.8"/>
<line x1="417.4" y1="32.4" x2="417.4" y2="204" stroke="#4d4d4d" stroke-width="1.4"/>
<line x1="446.7" y1="32.4" x2="446.7" y2="204" stroke="#4d4d4d" stroke-width="1.4"/>
<path d="M174 203 L174.8 202.99 L175.6 202.99 L176.4 202.99 L177.2 202.99 L178 202.99 L178.8 202.98 L179.6 202.98 L180.4 202.98 L181.2 202.98 L182 202.98 L182.8 202.98 L183.6 202.98 L184.4 202.98 L185.2 202.98 L186 202.98 L186.8 202.98 L187.6 202.98 L188.4 202.97 L189.2 202.97 L190 202.97 L190.8 202.97 L191.6 202.97 L192.4 202.97 L193.2 202.97 L194 202.97 L194.8 202.97 L195.6 202.97 L196.4 202.97 L197.2 202.97 L198 202.97 L198.8 202.97 L199.6 202.97 L200.4 202.97 L201.2 202.97 L202 202.97 L202.8 202.97 L203.6 202.96 L204.4 202.96 L205.2 202.96 L206 202.96 L206.8 202.96 L207.6 202.96 L208.4 202.95 L209.2 202.95 L210 202.95 L210.8 202.95 L211.6 202.94 L212.4 202.94 L213.2 202.94 L214 202.93 L214.8 202.93 L215.6 202.93 L216.4 202.92 L217.2 202.92 L218 202.91 L218.8 202.91 L219.6 202.9 L220.4 202.9 L221.2 202.89 L222 202.88 L222.8 202.88 L223.6 202.87 L224.4 202.86 L225.2 202.86 L226 202.85 L226.8 202.84 L227.6 202.83 L228.4 202.82 L229.2 202.81 L230 202.8 L230.8 202.79 L231.6 202.77 L232.4 202.76 L233.2 202.74 L234 202.72 L234.8 202.69 L235.6 202.67 L236.4 202.64 L237.2 202.61 L238 202.58 L238.8 202.55 L239.6 202.51 L240.4 202.48 L241.2 202.44 L242 202.41 L242.8 202.37 L243.6 202.33 L244.4 202.29 L245.2 202.25 L246 202.21 L246.8 202.16 L247.6 202.12 L248.4 202.08 L249.2 202.04 L250 201.99 L250.8 201.95 L251.6 201.91 L252.4 201.87 L253.2 201.83 L254 201.79 L254.8 201.75 L255.6 201.71 L256.4 201.67 L257.2 201.63 L258 201.59 L258.8 201.55 L259.6 201.51 L260.4 201.47 L261.2 201.44 L262 201.4 L262.8 201.36 L263.6 201.32 L264.4 201.28 L265.2 201.24 L266 201.2 L266.8 201.16 L267.6 201.12 L268.4 201.08 L269.2 201.04 L270 201 L270.8 200.96 L271.6 200.92 L272.4 200.88 L273.2 200.83 L274 200.79 L274.8 200.75 L275.6 200.7 L276.4 200.66 L277.2 200.61 L278 200.57 L278.8 200.52 L279.6 200.47 L280.4 200.42 L281.2 200.37 L282 200.32 L282.8 200.27 L283.6 200.22 L284.4 200.16 L285.2 200.11 L286 200.05 L286.8 200 L287.6 199.94 L288.4 199.88 L289.2 199.82 L290 199.76 L290.8 199.69 L291.6 199.63 L292.4 199.56 L293.2 199.49 L294 199.43 L294.8 199.36 L295.6 199.29 L296.4 199.22 L297.2 199.15 L298 199.08 L298.8 199.01 L299.6 199.05 L300.4 198.45 L301.2 198.42 L302 198.69 L302.8 198.5 L303.6 198.61 L304.4 198.25 L305.2 198.65 L306 198.97 L306.8 198.8 L307.6 198.74 L308.4 198.12 L309.2 198.34 L310 197.8 L310.8 198.16 L311.6 197.62 L312.4 197.49 L313.2 197.34 L314 197.72 L314.8 197.47 L315.6 197.34 L316.4 196.78 L317.2 197.12 L318 196.46 L318.8 197.37 L319.6 196.69 L320.4 196.69 L321.2 196.47 L322 195.83 L322.8 195.77 L323.6 196.12 L324.4 196.52 L325.2 195.47 L326 195.47 L326.8 195.56 L327.6 194.84 L328.4 194.68 L329.2 194.98 L330 194.94 L330.8 194.65 L331.6 195.15 L332.4 194.36 L333.2 194.34 L334 194.56 L334.8 194.37 L335.6 192.98 L336.4 193.16 L337.2 193.44 L338 192.28 L338.8 192.16 L339.6 191.74 L340.4 191.42 L341.2 191.18 L342 191.32 L342.8 191.37 L343.6 191.11 L344.4 190.23 L345.2 189.17 L346 189.46 L346.8 188.98 L347.6 188.82 L348.4 188.22 L349.2 187.14 L350 187.36 L350.8 185.89 L351.6 185.73 L352.4 185.41 L353.2 184.72 L354 184.43 L354.8 182.33 L355.6 182.54 L356.4 181.93 L357.2 180.86 L358 180.48 L358.8 179.15 L359.6 179.04 L360.4 178.26 L361.2 176.96 L362 176.27 L362.8 175.59 L363.6 174.54 L364.4 174.2 L365.2 172.89 L366 172.22 L366.8 171.02 L367.6 169.42 L368.4 168.07 L369.2 166.5 L370 165.22 L370.8 163.88 L371.6 162.93 L372.4 161.15 L373.2 160.15 L374 158.89 L374.8 157.37 L375.6 156.2 L376.4 155.5 L377.2 154.28 L378 152.16 L378.8 151.09 L379.6 149.75 L380.4 148.51 L381.2 147.87 L382 146.3 L382.8 145.22 L383.6 144.12 L384.4 142.06 L385.2 140.85 L386 139.62 L386.8 138.66 L387.6 136.97 L388.4 135.94 L389.2 134.84 L390 133.58 L390.8 132.08 L391.6 130.43 L392.4 128.96 L393.2 128.71 L394 127.3 L394.8 125.66 L395.6 124.66 L396.4 123.55 L397.2 122.01 L398 121.58 L398.8 120.15 L399.6 119.26 L400.4 118.59 L401.2 117.29 L402 116.56 L402.8 115.61 L403.6 114.63 L404.4 113.86 L405.2 113.78 L406 112.44 L406.8 112.51 L407.6 111.15 L408.4 111.34 L409.2 110.86 L410 110.38 L410.8 109.67 L411.6 111.21 L412.4 110.39 L413.2 110.73 L414 111.52 L414.8 112.06 L415.6 112.87 L416.4 113.49 L417.2 113.93 L418 115.71 L418.8 116.09 L419.6 117.54 L420.4 118.77 L421.2 120.13 L422 120.82 L422.8 122.02 L423.6 123.33 L424.4 124.11 L425.2 125.89 L426 127.23 L426.8 128.64 L427.6 130.59 L428.4 131.91 L429.2 134.07 L430 135.51 L430.8 135.78 L431.6 137.95 L432.4 139.09 L433.2 141.27 L434 142.91 L434.8 145.14 L435.6 147.1 L436.4 149.61 L437.2 151.72 L438 153.49 L438.8 156.49 L439.6 159.09 L440.4 161.63 L441.2 163.85 L442 167.19 L442.8 168.95 L443.6 171.84 L444.4 173.61 L445.2 176.6 L446 177.87 L446.8 180.79 L447.6 182.38 L448.4 185.21 L449.2 187.72 L450 188.57 L450.8 190.63 L451.6 192.71 L452.4 194.14 L453.2 195.2 L454 197.4 L454.8 198.16 L455.6 199.1 L456.4 199.85 L457.2 200.45 L458 200.93 L458.8 201.31 L459.6 201.6 L460.4 201.82 L461.2 202 L462 202.14 L462.8 202.27 L463.6 202.39 L464.4 202.5 L465.2 202.59 L466 202.66 L466.8 202.72 L467.6 202.77 L468.4 202.81 L469.2 202.84 L470 202.86 L470.8 202.87 L471.6 202.88 L472.4 202.89 L473.2 202.9 L474 202.9 L474.8 202.91 L475.6 202.93 L476.4 202.94 L477.2 202.97" fill="none" stroke="#0098e0" stroke-width="3.3" stroke-linejoin="round"/>
<line x1="173" y1="202.7" x2="479.8" y2="202.7" stroke="#0098e0" stroke-width="2.6"/>
<rect x="386" y="150.3" width="86" height="32" fill="#fff" fill-opacity="0.6"/>
<text x="385.15" y="176.3" font-size="30.97" fill="#10a5e6">21445</text>
<line x1="173" y1="203" x2="181" y2="203" stroke="#000" stroke-width="2.2"/>
<line x1="173" y1="139.8" x2="181" y2="139.8" stroke="#000" stroke-width="2.2"/>
<line x1="173" y1="76.6" x2="181" y2="76.6" stroke="#000" stroke-width="2.2"/>
<line x1="173" y1="171.4" x2="177.5" y2="171.4" stroke="#000" stroke-width="2.2"/>
<line x1="173" y1="108.2" x2="177.5" y2="108.2" stroke="#000" stroke-width="2.2"/>
<line x1="173" y1="45" x2="177.5" y2="45" stroke="#000" stroke-width="2.2"/>
<rect x="173" y="32.4" width="305.3" height="171.6" fill="none" stroke="#000" stroke-width="3.4"/>
<text x="223.51" y="100.8" font-size="30.15" fill="#000">Dox. 20h</text>
<line x1="224" y1="108.1" x2="343" y2="108.1" stroke="#000" stroke-width="2.2"/>
<path d="M339.5 103.3 L353.8 108.1 L339.5 112.9 Z" fill="#000"/>
<path d="M185.1 386.5 h4.6 v-16.9 h-4.6 Z M195.8 386.5 h4 v-18 h-4 Z M203.3 386.5 h4.4 v-19.1 h-4.4 Z M209 386.5 h4 v-20 h-4 Z M193.5 386.5 h2.5 v-9 h-2.5 Z M213.5 386.5 L213.5 366.5 L216 366.3 L219.7 367 L223.3 368.7 L228 369.3 L232.2 370.1 L235 369.3 L237.5 369.6 L241 372.3 L245.5 375 L250 377.6 L254 382 L257 386.1 L258 386.5 Z" fill="#808080"/>
<line x1="214.2" y1="365.5" x2="214.2" y2="376.5" stroke="#fff" stroke-width="0.6"/>
<line x1="216.6" y1="365.5" x2="216.6" y2="376.5" stroke="#fff" stroke-width="0.6"/>
<path d="M422.2 386.5 L422.8 247.32 L423.6 251.28 L424.4 255.38 L425.2 259.63 L426 264.03 L426.8 269.62 L427.6 274.52 L428.4 280.16 L429.2 285.37 L430 292 L430.8 298.57 L431.6 305.46 L432.4 312.75 L433.2 319.52 L434 325.33 L434.8 332.06 L435.6 338.39 L436.4 344.47 L437.2 350.65 L438 355.35 L438.8 359.95 L439.6 364.96 L440.4 368.65 L441.2 372.26 L442 375.12 L442.8 377.75 L443.6 379.64 L444.4 381.41 L445.2 382.42 L446 383.57 L446.8 384.49 L447.6 385.24 L448.4 385.78 L449.2 386.14 L450 386.36 L450.8 386.47 L451.6 386.5 L452.4 386.49 L453.2 386.48 L454 386.49 L454.8 386.5 L455.6 386.5 L456.4 386.5 L457.2 386.5 L458 386.5 L458.8 386.5 L459.6 386.5 L460.4 386.5 L461.2 386.5 L462 386.5 L462.7 386.5 Z" fill="#f27fba"/>
<line x1="190.88" y1="387.5" x2="190.88" y2="382.7" stroke="#000" stroke-width="1.6"/>
<line x1="201.27" y1="387.5" x2="201.27" y2="382.7" stroke="#000" stroke-width="1.6"/>
<line x1="208.65" y1="387.5" x2="208.65" y2="382.7" stroke="#000" stroke-width="1.6"/>
<line x1="214.37" y1="387.5" x2="214.37" y2="382.7" stroke="#000" stroke-width="1.6"/>
<line x1="219.05" y1="387.5" x2="219.05" y2="382.7" stroke="#000" stroke-width="1.6"/>
<line x1="223" y1="387.5" x2="223" y2="382.7" stroke="#000" stroke-width="1.6"/>
<line x1="226.43" y1="387.5" x2="226.43" y2="382.7" stroke="#000" stroke-width="1.6"/>
<line x1="229.45" y1="387.5" x2="229.45" y2="382.7" stroke="#000" stroke-width="1.6"/>
<line x1="232.15" y1="387.5" x2="232.15" y2="378.5" stroke="#000" stroke-width="1.8"/>
<line x1="249.93" y1="387.5" x2="249.93" y2="382.7" stroke="#000" stroke-width="1.6"/>
<line x1="260.32" y1="387.5" x2="260.32" y2="382.7" stroke="#000" stroke-width="1.6"/>
<line x1="267.7" y1="387.5" x2="267.7" y2="382.7" stroke="#000" stroke-width="1.6"/>
<line x1="273.42" y1="387.5" x2="273.42" y2="382.7" stroke="#000" stroke-width="1.6"/>
<line x1="278.1" y1="387.5" x2="278.1" y2="382.7" stroke="#000" stroke-width="1.6"/>
<line x1="282.05" y1="387.5" x2="282.05" y2="382.7" stroke="#000" stroke-width="1.6"/>
<line x1="285.48" y1="387.5" x2="285.48" y2="382.7" stroke="#000" stroke-width="1.6"/>
<line x1="288.5" y1="387.5" x2="288.5" y2="382.7" stroke="#000" stroke-width="1.6"/>
<line x1="291.2" y1="387.5" x2="291.2" y2="378.5" stroke="#000" stroke-width="1.8"/>
<line x1="308.98" y1="387.5" x2="308.98" y2="382.7" stroke="#000" stroke-width="1.6"/>
<line x1="319.37" y1="387.5" x2="319.37" y2="382.7" stroke="#000" stroke-width="1.6"/>
<line x1="326.75" y1="387.5" x2="326.75" y2="382.7" stroke="#000" stroke-width="1.6"/>
<line x1="332.47" y1="387.5" x2="332.47" y2="382.7" stroke="#000" stroke-width="1.6"/>
<line x1="337.15" y1="387.5" x2="337.15" y2="382.7" stroke="#000" stroke-width="1.6"/>
<line x1="341.1" y1="387.5" x2="341.1" y2="382.7" stroke="#000" stroke-width="1.6"/>
<line x1="344.53" y1="387.5" x2="344.53" y2="382.7" stroke="#000" stroke-width="1.6"/>
<line x1="347.55" y1="387.5" x2="347.55" y2="382.7" stroke="#000" stroke-width="1.6"/>
<line x1="350.25" y1="387.5" x2="350.25" y2="378.5" stroke="#000" stroke-width="1.8"/>
<line x1="368.03" y1="387.5" x2="368.03" y2="382.7" stroke="#000" stroke-width="1.6"/>
<line x1="378.42" y1="387.5" x2="378.42" y2="382.7" stroke="#000" stroke-width="1.6"/>
<line x1="385.8" y1="387.5" x2="385.8" y2="382.7" stroke="#000" stroke-width="1.6"/>
<line x1="391.52" y1="387.5" x2="391.52" y2="382.7" stroke="#000" stroke-width="1.6"/>
<line x1="396.2" y1="387.5" x2="396.2" y2="382.7" stroke="#000" stroke-width="1.6"/>
<line x1="400.15" y1="387.5" x2="400.15" y2="382.7" stroke="#000" stroke-width="1.6"/>
<line x1="403.58" y1="387.5" x2="403.58" y2="382.7" stroke="#000" stroke-width="1.6"/>
<line x1="406.6" y1="387.5" x2="406.6" y2="382.7" stroke="#000" stroke-width="1.6"/>
<line x1="409.3" y1="387.5" x2="409.3" y2="378.5" stroke="#000" stroke-width="1.8"/>
<line x1="427.08" y1="387.5" x2="427.08" y2="382.7" stroke="#000" stroke-width="1.6"/>
<line x1="437.47" y1="387.5" x2="437.47" y2="382.7" stroke="#000" stroke-width="1.6"/>
<line x1="444.85" y1="387.5" x2="444.85" y2="382.7" stroke="#000" stroke-width="1.6"/>
<line x1="450.57" y1="387.5" x2="450.57" y2="382.7" stroke="#000" stroke-width="1.6"/>
<line x1="455.25" y1="387.5" x2="455.25" y2="382.7" stroke="#000" stroke-width="1.6"/>
<line x1="459.2" y1="387.5" x2="459.2" y2="382.7" stroke="#000" stroke-width="1.6"/>
<line x1="462.63" y1="387.5" x2="462.63" y2="382.7" stroke="#000" stroke-width="1.6"/>
<line x1="465.65" y1="387.5" x2="465.65" y2="382.7" stroke="#000" stroke-width="1.6"/>
<line x1="468.35" y1="387.5" x2="468.35" y2="378.5" stroke="#000" stroke-width="1.8"/>
<line x1="422.2" y1="217" x2="422.2" y2="387.5" stroke="#4d4d4d" stroke-width="1.4"/>
<line x1="462.7" y1="217" x2="462.7" y2="387.5" stroke="#4d4d4d" stroke-width="1.4"/>
<path d="M174 386.5 L174.8 386.5 L175.6 386.5 L176.4 386.5 L177.2 386.5 L178 386.5 L178.8 386.5 L179.6 386.5 L180.4 386.5 L181.2 386.5 L182 386.5 L182.8 386.5 L183.6 386.5 L184.4 386.5 L185.2 386.5 L186 386.5 L186.8 386.5 L187.6 386.5 L188.4 386.5 L189.2 386.5 L190 386.5 L190.8 386.5 L191.6 386.5 L192.4 386.5 L193.2 386.5 L194 386.5 L194.8 386.5 L195.6 386.5 L196.4 386.5 L197.2 386.5 L198 386.5 L198.8 386.5 L199.6 386.5 L200.4 386.5 L201.2 386.5 L202 386.5 L202.8 386.5 L203.6 386.5 L204.4 386.5 L205.2 386.5 L206 386.5 L206.8 386.5 L207.6 386.5 L208.4 386.5 L209.2 386.5 L210 386.5 L210.8 386.5 L211.6 386.5 L212.4 386.5 L213.2 386.5 L214 386.5 L214.8 386.5 L215.6 386.5 L216.4 386.5 L217.2 386.5 L218 386.5 L218.8 386.5 L219.6 386.5 L220.4 386.5 L221.2 386.5 L222 386.5 L222.8 386.5 L223.6 386.5 L224.4 386.5 L225.2 386.5 L226 386.5 L226.8 386.5 L227.6 386.5 L228.4 386.5 L229.2 386.5 L230 386.5 L230.8 386.5 L231.6 386.5 L232.4 386.5 L233.2 386.5 L234 386.5 L234.8 386.5 L235.6 386.5 L236.4 386.5 L237.2 386.5 L238 386.5 L238.8 386.5 L239.6 386.5 L240.4 386.5 L241.2 386.5 L242 386.5 L242.8 386.5 L243.6 386.5 L244.4 386.5 L245.2 386.5 L246 386.5 L246.8 386.5 L247.6 386.5 L248.4 386.5 L249.2 386.5 L250 386.5 L250.8 386.49 L251.6 386.49 L252.4 386.48 L253.2 386.48 L254 386.47 L254.8 386.47 L255.6 386.47 L256.4 386.46 L257.2 386.46 L258 386.45 L258.8 386.45 L259.6 386.44 L260.4 386.44 L261.2 386.43 L262 386.43 L262.8 386.43 L263.6 386.42 L264.4 386.42 L265.2 386.41 L266 386.41 L266.8 386.4 L267.6 386.4 L268.4 386.39 L269.2 386.39 L270 386.38 L270.8 386.38 L271.6 386.37 L272.4 386.36 L273.2 386.36 L274 386.35 L274.8 386.35 L275.6 386.34 L276.4 386.33 L277.2 386.32 L278 386.32 L278.8 386.31 L279.6 386.3 L280.4 386.29 L281.2 386.28 L282 386.28 L282.8 386.27 L283.6 386.26 L284.4 386.25 L285.2 386.24 L286 386.23 L286.8 386.21 L287.6 386.2 L288.4 386.19 L289.2 386.18 L290 386.17 L290.8 386.15 L291.6 386.14 L292.4 386.12 L293.2 386.11 L294 386.1 L294.8 386.08 L295.6 386.06 L296.4 386.05 L297.2 386.03 L298 386.01 L298.8 385.99 L299.6 385.98 L300.4 385.96 L301.2 385.94 L302 385.92 L302.8 385.89 L303.6 385.87 L304.4 385.85 L305.2 385.83 L306 385.8 L306.8 385.78 L307.6 385.75 L308.4 385.73 L309.2 385.7 L310 385.67 L310.8 385.65 L311.6 385.62 L312.4 385.59 L313.2 385.56 L314 385.53 L314.8 385.5 L315.6 385.47 L316.4 385.44 L317.2 385.42 L318 385.39 L318.8 385.36 L319.6 385.33 L320.4 385.3 L321.2 385.26 L322 385.23 L322.8 385.2 L323.6 385.16 L324.4 385.12 L325.2 385.09 L326 385.05 L326.8 385.01 L327.6 384.96 L328.4 384.92 L329.2 384.87 L330 384.82 L330.8 384.77 L331.6 384.71 L332.4 384.66 L333.2 384.6 L334 384.53 L334.8 384.47 L335.6 384.4 L336.4 384.33 L337.2 384.25 L338 384.17 L338.8 384.09 L339.6 384 L340.4 383.91 L341.2 383.82 L342 383.72 L342.8 383.61 L343.6 383.51 L344.4 383.4 L345.2 383.28 L346 383.16 L346.8 383.03 L347.6 382.9 L348.4 382.76 L349.2 382.6 L350 382.45 L350.8 381.65 L351.6 382.15 L352.4 381.46 L353.2 382 L354 381.36 L354.8 380.78 L355.6 380.58 L356.4 379.92 L357.2 380.24 L358 379.52 L358.8 379.51 L359.6 379.63 L360.4 379.01 L361.2 378.72 L362 379.12 L362.8 378.09 L363.6 377.87 L364.4 377.03 L365.2 376.33 L366 376.45 L366.8 375.56 L367.6 374.49 L368.4 375.3 L369.2 374.72 L370 373.71 L370.8 373.96 L371.6 372.87 L372.4 372.06 L373.2 371.16 L374 371.11 L374.8 369.7 L375.6 368.76 L376.4 367.8 L377.2 366.67 L378 365.28 L378.8 364.5 L379.6 363.28 L380.4 362.62 L381.2 360.66 L382 360.07 L382.8 358.32 L383.6 356.87 L384.4 355.73 L385.2 354.43 L386 353.06 L386.8 351.78 L387.6 350.16 L388.4 347.97 L389.2 346.63 L390 345.71 L390.8 343.25 L391.6 340.51 L392.4 339.26 L393.2 337.35 L394 334.41 L394.8 331.03 L395.6 327.92 L396.4 324.79 L397.2 321.16 L398 317.63 L398.8 314.8 L399.6 310.39 L400.4 307.07 L401.2 302.28 L402 298.61 L402.8 294.49 L403.6 290.97 L404.4 286.43 L405.2 282.19 L406 277.82 L406.8 273.92 L407.6 269.95 L408.4 265.17 L409.2 261.27 L410 256.7 L410.8 252.2 L411.6 248.41 L412.4 244.87 L413.2 239.61 L414 236.91 L414.8 233.92 L415.6 230.84 L416.4 230.15 L417.2 230.55 L418 231.72 L418.8 233.6 L419.6 236.25 L420.4 238.69 L421.2 241.17 L422 244.46 L422.8 247.32 L423.6 251.28 L424.4 255.38 L425.2 259.63 L426 264.03 L426.8 269.62 L427.6 274.52 L428.4 280.16 L429.2 285.37 L430 292 L430.8 298.57 L431.6 305.46 L432.4 312.75 L433.2 319.52 L434 325.33 L434.8 332.06 L435.6 338.39 L436.4 344.47 L437.2 350.65 L438 355.35 L438.8 359.95 L439.6 364.96 L440.4 368.65 L441.2 372.26 L442 375.12 L442.8 377.75 L443.6 379.64 L444.4 381.41 L445.2 382.42 L446 383.57 L446.8 384.49 L447.6 385.24 L448.4 385.78 L449.2 386.14 L450 386.36 L450.8 386.47 L451.6 386.5 L452.4 386.49 L453.2 386.48 L454 386.49 L454.8 386.5 L455.6 386.5 L456.4 386.5 L457.2 386.5 L458 386.5 L458.8 386.5 L459.6 386.5 L460.4 386.5 L461.2 386.5 L462 386.5 L462.8 386.5 L463.6 386.5 L464.4 386.5 L465.2 386.5 L466 386.5 L466.8 386.5 L467.6 386.5 L468.4 386.5 L469.2 386.5 L470 386.5 L470.8 386.5 L471.6 386.5 L472.4 386.5 L473.2 386.5 L474 386.5 L474.8 386.5 L475.6 386.5 L476.4 386.5 L477.2 386.5" fill="none" stroke="#ec008c" stroke-width="3.3" stroke-linejoin="round"/>
<line x1="173" y1="386.2" x2="479.8" y2="386.2" stroke="#ec008c" stroke-width="2.6"/>
<rect x="386" y="312.5" width="86" height="32" fill="#fff" fill-opacity="0.6"/>
<text x="385.15" y="338.5" font-size="31.08" fill="#e5007d">22282</text>
<line x1="173" y1="386.5" x2="181" y2="386.5" stroke="#000" stroke-width="2.2"/>
<line x1="173" y1="323.3" x2="181" y2="323.3" stroke="#000" stroke-width="2.2"/>
<line x1="173" y1="260.1" x2="181" y2="260.1" stroke="#000" stroke-width="2.2"/>
<line x1="173" y1="354.9" x2="177.5" y2="354.9" stroke="#000" stroke-width="2.2"/>
<line x1="173" y1="291.7" x2="177.5" y2="291.7" stroke="#000" stroke-width="2.2"/>
<line x1="173" y1="228.5" x2="177.5" y2="228.5" stroke="#000" stroke-width="2.2"/>
<rect x="173" y="217" width="305.3" height="170.5" fill="none" stroke="#000" stroke-width="3.4"/>
<text x="223.51" y="282.6" font-size="30.15" fill="#000">Dox. 20h</text>
<line x1="224" y1="289.9" x2="343" y2="289.9" stroke="#000" stroke-width="2.2"/>
<path d="M339.5 285.1 L353.8 289.9 L339.5 294.7 Z" fill="#000"/>
<text x="98.2" y="92.3" font-size="30.8" fill="#000">2000</text>
<text x="98.2" y="152.6" font-size="30.8" fill="#000">1000</text>
<text x="149.56" y="210.2" font-size="30.8" fill="#000">0</text>
<text x="98.2" y="276.3" font-size="30.8" fill="#000">2000</text>
<text x="98.2" y="336.4" font-size="30.8" fill="#000">1000</text>
<text x="149.56" y="393.7" font-size="30.8" fill="#000">0</text>
<text x="151.29" y="421.6" font-size="30.8" fill="#000">10</text>
<text x="184.26" y="410" font-size="18.6" fill="#000">0</text>
<text x="209.89" y="421.6" font-size="30.8" fill="#000">10</text>
<text x="242.2" y="410" font-size="18.6" fill="#000">1</text>
<text x="268.49" y="421.6" font-size="30.8" fill="#000">10</text>
<text x="301.27" y="410" font-size="18.6" fill="#000">2</text>
<text x="327.09" y="421.6" font-size="30.8" fill="#000">10</text>
<text x="360.1" y="410" font-size="18.6" fill="#000">3</text>
<text x="385.69" y="421.6" font-size="30.8" fill="#000">10</text>
<text x="418.98" y="410" font-size="18.6" fill="#000">4</text>
<text x="444.29" y="421.6" font-size="30.8" fill="#000">10</text>
<text x="477.26" y="410" font-size="18.6" fill="#000">5</text>
<text x="147.78" y="466" font-size="40.5" fill="#000">SiR647 fluo. (arb.)</text>
<text transform="translate(41.3 163.47) rotate(-90)" font-size="41.6" fill="#000">Sox2</text>
<text transform="translate(81.53 181.01) rotate(-90)" font-size="41.77" fill="#000">(count)</text>
<text transform="translate(41.4 368.52) rotate(-90)" font-size="40.36" fill="#000">Sox2a</text>
<text transform="translate(78.39 373.96) rotate(-90)" font-size="41.04" fill="#000">(count)</text>
<path d="M495.6 193.5 L513.9 193.5 L513.9 171.6 L550.8 208.4 L513.9 245.4 L513.9 223.5 L495.6 223.5 Z" fill="#231f20"/>
<g><line x1="597.4" y1="76.3" x2="580.3" y2="35" stroke="#c1672f" stroke-width="10.8"/><line x1="597.4" y1="76.3" x2="624.8" y2="85.8" stroke="#c1672f" stroke-width="10.8"/><line x1="597.4" y1="76.3" x2="588.6" y2="103.3" stroke="#c1672f" stroke-width="10.8"/><circle cx="597.4" cy="76.3" r="5.4" fill="#c1672f"/><rect x="581.3" y="109.5" width="12" height="17.3" fill="#231f20"/><path d="M640 112.3 L660 113 L660 130 L640 129.4 Z" fill="#231f20"/><rect x="591.4" y="100.1" width="51.9" height="44" rx="14" ry="14" fill="#c3b59b"/><path d="M641.4 66.9 C647 80 653 92 661 106" fill="none" stroke="#939598" stroke-width="4.8"/><path d="M731 114 C742 110 752 109 770 119 C785 125 800 123 816.5 116.5" fill="none" stroke="#939598" stroke-width="4.8"/><line x1="706" y1="93" x2="725" y2="78.5" stroke="#231f20" stroke-width="11.5"/><path d="M702.7 72.7 C710 63 722 55 736 51 C750 47 765 45.5 775.6 43.8 L790 87.8 C775 92 763 94 755 96 C748 98 742 101 736.6 105.8 Z" fill="#2e3192"/><path d="M781.4 58.2 L792.2 54.3 L797.7 69.8 L786.4 73.7 Z" fill="#231f20"/><ellipse cx="700" cy="131" rx="17.5" ry="5.5" fill="#00a651"/><path d="M655.2 145.7 C654 135 655 120 660 110 C667 98 680 91 694 91 C712 91.5 727 99 731 110 C735 117 735 122 733.8 126.6 C726 126.6 716 125 706 125 C696 125.5 690 127 684 131 C672 137 664 143 655.2 145.7 Z" fill="#77aabf" stroke="#231f20" stroke-width="0.9"/></g>
<text x="598.58" y="57.8" font-size="30.98" fill="#c1672f">αHalo</text>
<text x="699.25" y="41.6" font-size="30.06" fill="#00aeef">Sox2</text>
<text x="555.43" y="177.5" font-size="31.2" fill="#8a5630">Halo</text>
<text x="657.71" y="165.8" font-size="30.45" fill="#939598">genomic DNA</text>
<text x="644.91" y="194.9" font-size="30.28" fill="#00a651">genomic target</text>
<g><line x1="597.4" y1="277.8" x2="580.3" y2="236.5" stroke="#c1672f" stroke-width="10.8"/><line x1="597.4" y1="277.8" x2="624.8" y2="287.3" stroke="#c1672f" stroke-width="10.8"/><line x1="597.4" y1="277.8" x2="588.6" y2="304.8" stroke="#c1672f" stroke-width="10.8"/><circle cx="597.4" cy="277.8" r="5.4" fill="#c1672f"/><rect x="581.3" y="311" width="12" height="17.3" fill="#231f20"/><path d="M640 313.8 L660 314.5 L660 331.5 L640 330.9 Z" fill="#231f20"/><rect x="591.4" y="301.6" width="51.9" height="44" rx="14" ry="14" fill="#c3b59b"/><path d="M641.4 268.4 C647 281.5 653 293.5 661 307.5" fill="none" stroke="#939598" stroke-width="4.8"/><path d="M731 315.5 C742 311.5 752 310.5 770 320.5 C785 326.5 800 324.5 816.5 318" fill="none" stroke="#939598" stroke-width="4.8"/><line x1="706" y1="294.5" x2="725" y2="280" stroke="#231f20" stroke-width="11.5"/><path d="M702.7 274.2 C710 264.5 722 256.5 736 252.5 C750 248.5 765 247 775.6 245.3 L790 289.3 C775 293.5 763 295.5 755 297.5 C748 299.5 742 302.5 736.6 307.3 Z" fill="#ed1c24"/><path d="M781.4 259.7 L792.2 255.8 L797.7 271.3 L786.4 275.2 Z" fill="#231f20"/><ellipse cx="700" cy="332.5" rx="17.5" ry="5.5" fill="#00a651"/><path d="M655.2 347.2 C654 336.5 655 321.5 660 311.5 C667 299.5 680 292.5 694 292.5 C712 293 727 300.5 731 311.5 C735 318.5 735 323.5 733.8 328.1 C726 328.1 716 326.5 706 326.5 C696 327 690 328.5 684 332.5 C672 338.5 664 344.5 655.2 347.2 Z" fill="#77aabf" stroke="#231f20" stroke-width="0.9"/></g>
<text x="598.58" y="259.3" font-size="30.98" fill="#c1672f">αHalo</text>
<text x="685.96" y="241.9" font-size="29.83" fill="#ec008c">Sox2a</text>
<text x="555.43" y="379" font-size="31.2" fill="#8a5630">Halo</text>
<text x="657.71" y="367.3" font-size="30.45" fill="#939598">genomic DNA</text>
<text x="644.91" y="396.4" font-size="30.28" fill="#00a651">genomic target</text>
<path d="M864 113.2 C878 110 895 111 906 116" fill="none" stroke="#808285" stroke-width="4.2"/>
<path d="M920 77 C925 92 935 99 943 106 C946 112 945 118 944 124" fill="none" stroke="#808285" stroke-width="4.2"/>
<path d="M929 78 C931 90 928 98 928 106" fill="none" stroke="#808285" stroke-width="4.2"/>
<path d="M994 93.6 C1008 89 1025 88 1040 92.5" fill="none" stroke="#808285" stroke-width="4.2"/>
<path d="M1064 109 C1068 111 1071 113 1074 116" fill="none" stroke="#808285" stroke-width="4.2"/>
<path d="M1086 112.5 C1095 109 1104 110 1112 116" fill="none" stroke="#808285" stroke-width="4.2"/>
<path d="M1136.6 119.8 C1138 114 1139 110 1141 106" fill="none" stroke="#808285" stroke-width="4.2"/>
<path d="M969 121 C970 118 971 116 973 113" fill="none" stroke="#808285" stroke-width="4.2"/>
<g><path d="M930.3 18.37 L929.39 18 L928.41 17.77 L927.37 17.7 L926.27 17.77 L925.12 17.99 L923.93 18.37 L922.71 18.88 L921.46 19.54 L920.18 20.34 L918.9 21.27 L917.61 22.33 L916.33 23.51 L915.06 24.8 L913.81 26.2 L912.58 27.7 L911.4 29.29 L910.25 30.95 L909.15 32.68 L908.11 34.47 L907.13 36.31 L906.22 38.18 L905.39 40.07 L904.63 41.97 L903.96 43.88 L903.38 45.77 L902.88 47.64 L902.49 49.48 L902.19 51.27 L901.99 53 L901.89 54.66 L901.89 56.25 L901.99 57.75 L902.19 59.15 L902.49 60.44 L902.89 61.62 L903.39 62.68 L903.97 63.61 L904.64 64.41 L905.4 65.07 L906.24 65.59 L932.97 79.21 L933.88 79.58 L934.86 79.81 L935.9 79.88 L937 79.81 L938.15 79.59 L939.34 79.21 L940.56 78.7 L941.81 78.04 L943.09 77.24 L944.37 76.31 L945.66 75.25 L946.94 74.07 L948.21 72.78 L949.46 71.38 L950.69 69.88 L951.87 68.29 L953.02 66.63 L954.12 64.9 L955.16 63.11 L956.14 61.27 L957.05 59.4 L957.88 57.51 L958.64 55.61 L959.31 53.7 L959.89 51.81 L960.39 49.94 L960.78 48.1 L961.08 46.31 L961.28 44.58 L961.38 42.92 L961.38 41.33 L961.28 39.83 L961.08 38.43 L960.78 37.14 L960.38 35.96 L959.88 34.9 L959.3 33.97 L958.62 33.17 L957.87 32.51 L957.03 31.99 Z" fill="#dcddde" stroke="#231f20" stroke-width="0.9"/><path d="M952.68 30.11 L951.84 29.4 L950.9 28.87 L949.88 28.52 L948.78 28.34 L947.6 28.34 L946.36 28.53 L945.07 28.89 L943.74 29.42 L942.37 30.13 L940.98 31 L939.57 32.04 L938.16 33.22 L936.76 34.55 L935.37 36.01 L934.01 37.6 L932.69 39.29 L931.42 41.09 L930.21 42.97 L929.06 44.92 L927.98 46.93 L926.99 48.98 L926.09 51.06 L925.28 53.14 L924.58 55.23 L923.98 57.29 L923.49 59.32 L923.13 61.3 L922.88 63.22 L922.74 65.06 L922.74 66.8 L922.85 68.44 L923.08 69.97 L923.43 71.36 L923.9 72.62 L924.48 73.73 L925.17 74.68 L925.96 75.47 L926.85 76.08 L927.83 76.53 L928.89 76.8" fill="none" stroke="#808285" stroke-width="4.6" stroke-linecap="round"/><path d="M944.66 26.02 L943.82 25.32 L942.88 24.79 L941.86 24.43 L940.76 24.25 L939.58 24.26 L938.34 24.44 L937.05 24.8 L935.72 25.34 L934.35 26.04 L932.96 26.92 L931.55 27.95 L930.14 29.14 L928.74 30.46 L927.35 31.93 L925.99 33.51 L924.68 35.21 L923.4 37 L922.19 38.88 L921.04 40.83 L919.96 42.84 L918.97 44.89 L918.07 46.97 L917.26 49.06 L916.56 51.14 L915.96 53.21 L915.48 55.24 L915.11 57.22 L914.86 59.13 L914.73 60.97 L914.72 62.72 L914.83 64.36 L915.06 65.88 L915.41 67.28 L915.88 68.53 L916.46 69.64 L917.15 70.59 L917.94 71.38 L918.83 72 L919.81 72.44 L920.87 72.71" fill="none" stroke="#808285" stroke-width="4.6" stroke-linecap="round"/><path d="M936.64 21.93 L935.8 21.23 L934.86 20.7 L933.84 20.35 L932.74 20.17 L931.56 20.17 L930.33 20.35 L929.04 20.71 L927.7 21.25 L926.33 21.96 L924.94 22.83 L923.53 23.86 L922.12 25.05 L920.72 26.38 L919.33 27.84 L917.98 29.43 L916.66 31.12 L915.38 32.92 L914.17 34.8 L913.02 36.75 L911.94 38.76 L910.95 40.81 L910.05 42.88 L909.24 44.97 L908.54 47.06 L907.94 49.12 L907.46 51.15 L907.09 53.13 L906.84 55.05 L906.71 56.89 L906.7 58.63 L906.81 60.27 L907.04 61.79 L907.39 63.19 L907.86 64.45 L908.44 65.55 L909.13 66.5 L909.92 67.29 L910.81 67.91 L911.79 68.36 L912.85 68.63" fill="none" stroke="#808285" stroke-width="4.6" stroke-linecap="round"/><ellipse cx="945" cy="55.6" rx="12.5" ry="26.5" transform="rotate(27 945 55.6)" fill="#dcddde" stroke="#231f20" stroke-width="0.9"/></g>
<g><path d="M906.17 106.68 L905.28 106.27 L904.31 106 L903.26 105.88 L902.15 105.92 L900.98 106.11 L899.76 106.44 L898.49 106.93 L897.18 107.56 L895.84 108.33 L894.49 109.24 L893.12 110.28 L891.74 111.45 L890.37 112.73 L889.02 114.12 L887.68 115.61 L886.37 117.2 L885.1 118.86 L883.88 120.6 L882.71 122.4 L881.59 124.25 L880.55 126.14 L879.58 128.05 L878.68 129.98 L877.87 131.92 L877.16 133.84 L876.53 135.74 L876 137.61 L875.58 139.44 L875.26 141.21 L875.04 142.92 L874.93 144.55 L874.93 146.09 L875.04 147.54 L875.25 148.88 L875.57 150.11 L876 151.22 L876.52 152.2 L877.15 153.04 L877.86 153.75 L878.67 154.32 L904.65 169.32 L905.54 169.73 L906.51 170 L907.56 170.12 L908.67 170.08 L909.84 169.89 L911.06 169.56 L912.33 169.07 L913.64 168.44 L914.97 167.67 L916.33 166.76 L917.7 165.72 L919.08 164.55 L920.45 163.27 L921.8 161.88 L923.14 160.39 L924.45 158.8 L925.72 157.14 L926.94 155.4 L928.11 153.6 L929.23 151.75 L930.27 149.86 L931.24 147.95 L932.14 146.02 L932.94 144.08 L933.66 142.16 L934.29 140.26 L934.81 138.39 L935.24 136.56 L935.56 134.79 L935.78 133.08 L935.89 131.45 L935.89 129.91 L935.78 128.46 L935.57 127.12 L935.25 125.89 L934.82 124.78 L934.3 123.8 L933.67 122.96 L932.96 122.25 L932.15 121.68 Z" fill="#dcddde" stroke="#231f20" stroke-width="0.9"/><path d="M927.9 119.59 L927.1 118.83 L926.19 118.25 L925.19 117.85 L924.09 117.63 L922.9 117.58 L921.65 117.73 L920.32 118.05 L918.94 118.55 L917.51 119.22 L916.05 120.07 L914.56 121.08 L913.06 122.24 L911.55 123.56 L910.06 125.01 L908.58 126.59 L907.13 128.28 L905.73 130.08 L904.37 131.96 L903.08 133.93 L901.86 135.95 L900.72 138.02 L899.66 140.12 L898.71 142.24 L897.85 144.35 L897.11 146.45 L896.48 148.52 L895.97 150.54 L895.59 152.5 L895.33 154.39 L895.2 156.18 L895.2 157.87 L895.33 159.44 L895.59 160.89 L895.97 162.2 L896.48 163.36 L897.1 164.36 L897.85 165.2 L898.7 165.87 L899.65 166.37 L900.71 166.68" fill="none" stroke="#808285" stroke-width="4.6" stroke-linecap="round"/><path d="M920.1 115.09 L919.3 114.33 L918.4 113.75 L917.39 113.35 L916.29 113.13 L915.11 113.08 L913.85 113.23 L912.53 113.55 L911.15 114.05 L909.72 114.72 L908.25 115.57 L906.77 116.58 L905.26 117.74 L903.76 119.06 L902.26 120.51 L900.79 122.09 L899.34 123.78 L897.93 125.58 L896.58 127.46 L895.29 129.43 L894.06 131.45 L892.92 133.52 L891.87 135.62 L890.91 137.74 L890.06 139.85 L889.32 141.95 L888.69 144.02 L888.18 146.04 L887.79 148 L887.54 149.89 L887.41 151.68 L887.41 153.37 L887.53 154.94 L887.79 156.39 L888.18 157.7 L888.68 158.86 L889.31 159.86 L890.05 160.7 L890.9 161.37 L891.86 161.87 L892.91 162.18" fill="none" stroke="#808285" stroke-width="4.6" stroke-linecap="round"/><path d="M912.31 110.59 L911.51 109.83 L910.6 109.25 L909.6 108.85 L908.5 108.63 L907.32 108.58 L906.06 108.73 L904.73 109.05 L903.35 109.55 L901.92 110.22 L900.46 111.07 L898.97 112.08 L897.47 113.24 L895.96 114.56 L894.47 116.01 L892.99 117.59 L891.54 119.28 L890.14 121.08 L888.78 122.96 L887.49 124.93 L886.27 126.95 L885.13 129.02 L884.08 131.12 L883.12 133.24 L882.27 135.35 L881.52 137.45 L880.89 139.52 L880.39 141.54 L880 143.5 L879.74 145.39 L879.61 147.18 L879.61 148.87 L879.74 150.44 L880 151.89 L880.38 153.2 L880.89 154.36 L881.52 155.36 L882.26 156.2 L883.11 156.87 L884.07 157.37 L885.12 157.68" fill="none" stroke="#808285" stroke-width="4.6" stroke-linecap="round"/><ellipse cx="918.4" cy="145.5" rx="12.5" ry="27.5" transform="rotate(30 918.4 145.5)" fill="#dcddde" stroke="#231f20" stroke-width="0.9"/></g>
<g><path d="M933.34 121.38 L932.37 121.56 L931.43 121.91 L930.51 122.43 L929.63 123.1 L928.79 123.92 L928 124.9 L927.26 126.02 L926.57 127.28 L925.94 128.66 L925.37 130.17 L924.87 131.79 L924.44 133.51 L924.08 135.32 L923.8 137.2 L923.59 139.16 L923.46 141.18 L923.41 143.23 L923.44 145.32 L923.54 147.43 L923.73 149.54 L923.99 151.64 L924.32 153.72 L924.73 155.77 L925.21 157.77 L925.75 159.71 L926.36 161.59 L927.03 163.38 L927.76 165.07 L928.54 166.66 L929.36 168.14 L930.23 169.5 L931.14 170.72 L932.07 171.81 L933.03 172.75 L934.01 173.54 L935 174.17 L936 174.65 L937 174.96 L938 175.1 L938.98 175.08 L967.82 172.05 L968.79 171.87 L969.73 171.52 L970.65 171.01 L971.53 170.33 L972.36 169.51 L973.16 168.53 L973.9 167.41 L974.59 166.16 L975.22 164.77 L975.79 163.26 L976.29 161.65 L976.72 159.93 L977.07 158.12 L977.36 156.23 L977.57 154.27 L977.7 152.26 L977.75 150.2 L977.72 148.11 L977.61 146 L977.43 143.89 L977.17 141.79 L976.84 139.71 L976.43 137.66 L975.95 135.66 L975.41 133.72 L974.8 131.85 L974.12 130.06 L973.4 128.36 L972.62 126.77 L971.79 125.29 L970.93 123.93 L970.02 122.71 L969.09 121.62 L968.13 120.68 L967.15 119.89 L966.16 119.26 L965.16 118.78 L964.16 118.47 L963.16 118.33 L962.18 118.35 Z" fill="#dcddde" stroke="#231f20" stroke-width="0.9"/><path d="M957.72 119.12 L956.63 118.99 L955.56 119.05 L954.51 119.31 L953.49 119.77 L952.5 120.42 L951.57 121.26 L950.68 122.29 L949.86 123.48 L949.1 124.84 L948.41 126.36 L947.79 128.02 L947.26 129.82 L946.81 131.73 L946.45 133.75 L946.18 135.86 L946 138.04 L945.91 140.28 L945.92 142.56 L946.03 144.86 L946.22 147.17 L946.51 149.48 L946.89 151.75 L947.36 153.98 L947.9 156.16 L948.53 158.25 L949.24 160.26 L950.01 162.16 L950.85 163.93 L951.74 165.58 L952.69 167.08 L953.68 168.42 L954.7 169.59 L955.76 170.59 L956.84 171.41 L957.93 172.03 L959.03 172.47 L960.12 172.7 L961.2 172.74 L962.27 172.58 L963.3 172.22" fill="none" stroke="#808285" stroke-width="4.6" stroke-linecap="round"/><path d="M949.07 120.03 L947.98 119.9 L946.91 119.96 L945.86 120.22 L944.83 120.68 L943.85 121.33 L942.92 122.17 L942.03 123.2 L941.21 124.39 L940.45 125.75 L939.76 127.27 L939.14 128.93 L938.61 130.73 L938.16 132.64 L937.8 134.66 L937.53 136.77 L937.35 138.95 L937.26 141.19 L937.27 143.47 L937.37 145.77 L937.57 148.08 L937.86 150.39 L938.24 152.66 L938.7 154.89 L939.25 157.07 L939.88 159.16 L940.58 161.17 L941.36 163.07 L942.19 164.84 L943.09 166.49 L944.04 167.99 L945.03 169.33 L946.05 170.5 L947.11 171.5 L948.19 172.32 L949.28 172.94 L950.37 173.38 L951.47 173.61 L952.55 173.65 L953.61 173.49 L954.65 173.13" fill="none" stroke="#808285" stroke-width="4.6" stroke-linecap="round"/><path d="M940.42 120.94 L939.33 120.8 L938.25 120.87 L937.2 121.13 L936.18 121.59 L935.2 122.24 L934.26 123.08 L933.38 124.1 L932.55 125.3 L931.79 126.66 L931.1 128.18 L930.49 129.84 L929.96 131.64 L929.51 133.55 L929.15 135.57 L928.87 137.67 L928.7 139.86 L928.61 142.09 L928.62 144.38 L928.72 146.68 L928.92 148.99 L929.21 151.29 L929.59 153.57 L930.05 155.8 L930.6 157.98 L931.23 160.07 L931.93 162.08 L932.7 163.97 L933.54 165.75 L934.44 167.4 L935.38 168.89 L936.37 170.24 L937.4 171.41 L938.46 172.41 L939.53 173.22 L940.62 173.85 L941.72 174.29 L942.81 174.52 L943.9 174.56 L944.96 174.4 L946 174.04" fill="none" stroke="#808285" stroke-width="4.6" stroke-linecap="round"/><ellipse cx="965" cy="145.2" rx="12.5" ry="27" transform="rotate(-6 965 145.2)" fill="#dcddde" stroke="#231f20" stroke-width="0.9"/></g>
<g><path d="M1068.42 107.08 L1067.51 106.71 L1066.53 106.49 L1065.48 106.42 L1064.38 106.5 L1063.22 106.74 L1062.03 107.12 L1060.79 107.66 L1059.53 108.34 L1058.25 109.16 L1056.95 110.11 L1055.65 111.2 L1054.36 112.4 L1053.07 113.73 L1051.8 115.16 L1050.56 116.69 L1049.36 118.3 L1048.19 120 L1047.08 121.77 L1046.02 123.59 L1045.02 125.46 L1044.1 127.36 L1043.24 129.29 L1042.47 131.23 L1041.78 133.17 L1041.18 135.1 L1040.67 137 L1040.26 138.87 L1039.95 140.68 L1039.73 142.44 L1039.62 144.13 L1039.61 145.74 L1039.7 147.26 L1039.89 148.68 L1040.18 149.99 L1040.57 151.19 L1041.06 152.26 L1041.64 153.2 L1042.31 154.01 L1043.07 154.67 L1043.9 155.19 L1069.74 168.36 L1070.65 168.73 L1071.64 168.95 L1072.68 169.02 L1073.78 168.93 L1074.94 168.7 L1076.13 168.31 L1077.37 167.78 L1078.63 167.1 L1079.91 166.28 L1081.21 165.32 L1082.51 164.24 L1083.81 163.03 L1085.09 161.71 L1086.36 160.28 L1087.6 158.75 L1088.8 157.13 L1089.97 155.43 L1091.08 153.67 L1092.14 151.84 L1093.14 149.97 L1094.06 148.07 L1094.92 146.14 L1095.69 144.2 L1096.38 142.26 L1096.98 140.34 L1097.49 138.43 L1097.9 136.57 L1098.22 134.75 L1098.43 132.99 L1098.54 131.3 L1098.55 129.69 L1098.46 128.17 L1098.27 126.75 L1097.98 125.44 L1097.59 124.25 L1097.1 123.17 L1096.52 122.23 L1095.85 121.43 L1095.09 120.76 L1094.26 120.24 Z" fill="#dcddde" stroke="#231f20" stroke-width="0.9"/><path d="M1090.1 118.46 L1089.26 117.76 L1088.32 117.23 L1087.3 116.87 L1086.19 116.7 L1085.02 116.72 L1083.77 116.91 L1082.47 117.29 L1081.13 117.84 L1079.75 118.57 L1078.34 119.46 L1076.92 120.52 L1075.5 121.74 L1074.08 123.1 L1072.68 124.59 L1071.3 126.21 L1069.97 127.94 L1068.68 129.78 L1067.44 131.69 L1066.27 133.68 L1065.18 135.73 L1064.17 137.82 L1063.24 139.93 L1062.42 142.06 L1061.7 144.18 L1061.08 146.28 L1060.58 148.34 L1060.19 150.36 L1059.93 152.3 L1059.78 154.17 L1059.76 155.94 L1059.86 157.6 L1060.08 159.15 L1060.42 160.56 L1060.88 161.83 L1061.46 162.95 L1062.14 163.91 L1062.93 164.71 L1063.81 165.33 L1064.79 165.77 L1065.86 166.04" fill="none" stroke="#808285" stroke-width="4.6" stroke-linecap="round"/><path d="M1082.35 114.51 L1081.51 113.81 L1080.57 113.28 L1079.55 112.92 L1078.44 112.75 L1077.26 112.77 L1076.02 112.96 L1074.72 113.34 L1073.38 113.89 L1072 114.62 L1070.59 115.52 L1069.17 116.57 L1067.75 117.79 L1066.33 119.15 L1064.93 120.64 L1063.55 122.26 L1062.21 123.99 L1060.92 125.83 L1059.69 127.74 L1058.52 129.73 L1057.43 131.78 L1056.41 133.87 L1055.49 135.98 L1054.67 138.11 L1053.94 140.23 L1053.33 142.33 L1052.83 144.39 L1052.44 146.41 L1052.18 148.35 L1052.03 150.22 L1052.01 151.99 L1052.11 153.65 L1052.33 155.2 L1052.67 156.61 L1053.13 157.88 L1053.7 159 L1054.39 159.96 L1055.18 160.76 L1056.06 161.38 L1057.04 161.82 L1058.11 162.09" fill="none" stroke="#808285" stroke-width="4.6" stroke-linecap="round"/><path d="M1074.6 110.57 L1073.76 109.86 L1072.82 109.33 L1071.8 108.98 L1070.69 108.8 L1069.51 108.82 L1068.27 109.01 L1066.97 109.39 L1065.63 109.94 L1064.25 110.67 L1062.84 111.57 L1061.42 112.63 L1060 113.84 L1058.58 115.2 L1057.18 116.69 L1055.8 118.31 L1054.46 120.04 L1053.17 121.88 L1051.94 123.79 L1050.77 125.78 L1049.67 127.83 L1048.66 129.92 L1047.74 132.03 L1046.91 134.16 L1046.19 136.28 L1045.58 138.38 L1045.08 140.44 L1044.69 142.46 L1044.42 144.4 L1044.28 146.27 L1044.26 148.04 L1044.36 149.71 L1044.58 151.25 L1044.92 152.66 L1045.38 153.93 L1045.95 155.05 L1046.64 156.01 L1047.42 156.81 L1048.31 157.43 L1049.29 157.87 L1050.36 158.14" fill="none" stroke="#808285" stroke-width="4.6" stroke-linecap="round"/><ellipse cx="1082" cy="144.3" rx="12.5" ry="27" transform="rotate(27 1082 144.3)" fill="#dcddde" stroke="#231f20" stroke-width="0.9"/></g>
<g><path d="M1101.93 120.61 L1100.95 120.74 L1099.99 121.04 L1099.05 121.5 L1098.14 122.13 L1097.26 122.91 L1096.41 123.84 L1095.61 124.92 L1094.86 126.14 L1094.16 127.49 L1093.52 128.97 L1092.93 130.56 L1092.41 132.25 L1091.96 134.04 L1091.58 135.91 L1091.27 137.86 L1091.03 139.86 L1090.87 141.91 L1090.79 144 L1090.79 146.11 L1090.86 148.22 L1091.01 150.34 L1091.23 152.43 L1091.53 154.5 L1091.91 156.52 L1092.35 158.49 L1092.86 160.39 L1093.44 162.22 L1094.07 163.95 L1094.77 165.58 L1095.51 167.1 L1096.31 168.5 L1097.15 169.77 L1098.02 170.9 L1098.93 171.89 L1099.87 172.73 L1100.83 173.42 L1101.8 173.94 L1102.78 174.3 L1103.77 174.5 L1104.75 174.53 L1134.71 172.96 L1135.69 172.83 L1136.65 172.53 L1137.59 172.07 L1138.5 171.44 L1139.38 170.66 L1140.23 169.73 L1141.03 168.65 L1141.78 167.43 L1142.48 166.08 L1143.13 164.6 L1143.71 163.01 L1144.23 161.32 L1144.68 159.53 L1145.06 157.66 L1145.37 155.71 L1145.61 153.71 L1145.77 151.66 L1145.85 149.57 L1145.86 147.46 L1145.78 145.35 L1145.63 143.23 L1145.41 141.14 L1145.11 139.07 L1144.74 137.05 L1144.29 135.08 L1143.78 133.18 L1143.21 131.35 L1142.57 129.62 L1141.87 127.99 L1141.13 126.47 L1140.33 125.07 L1139.49 123.8 L1138.62 122.67 L1137.71 121.68 L1136.77 120.84 L1135.81 120.15 L1134.84 119.63 L1133.86 119.27 L1132.87 119.07 L1131.89 119.04 Z" fill="#dcddde" stroke="#231f20" stroke-width="0.9"/><path d="M1127.18 119.59 L1126.1 119.4 L1125.02 119.4 L1123.96 119.61 L1122.91 120.02 L1121.9 120.61 L1120.92 121.4 L1119.98 122.38 L1119.1 123.53 L1118.27 124.85 L1117.5 126.33 L1116.8 127.96 L1116.17 129.72 L1115.62 131.61 L1115.16 133.61 L1114.77 135.7 L1114.48 137.86 L1114.28 140.1 L1114.17 142.37 L1114.15 144.68 L1114.23 147 L1114.39 149.31 L1114.65 151.61 L1115 153.86 L1115.43 156.06 L1115.95 158.18 L1116.55 160.22 L1117.22 162.16 L1117.97 163.98 L1118.77 165.67 L1119.64 167.21 L1120.56 168.6 L1121.52 169.83 L1122.52 170.88 L1123.56 171.75 L1124.61 172.44 L1125.69 172.93 L1126.77 173.22 L1127.85 173.32 L1128.92 173.21 L1129.97 172.91" fill="none" stroke="#808285" stroke-width="4.6" stroke-linecap="round"/><path d="M1118.19 120.06 L1117.11 119.87 L1116.03 119.87 L1114.97 120.08 L1113.93 120.49 L1112.91 121.09 L1111.93 121.88 L1111 122.85 L1110.11 124 L1109.28 125.32 L1108.51 126.8 L1107.81 128.43 L1107.18 130.19 L1106.63 132.08 L1106.17 134.08 L1105.79 136.17 L1105.49 138.33 L1105.29 140.57 L1105.18 142.84 L1105.16 145.15 L1105.24 147.47 L1105.41 149.79 L1105.66 152.08 L1106.01 154.33 L1106.45 156.53 L1106.97 158.66 L1107.56 160.69 L1108.24 162.63 L1108.98 164.45 L1109.79 166.14 L1110.65 167.68 L1111.57 169.07 L1112.53 170.3 L1113.54 171.35 L1114.57 172.23 L1115.63 172.91 L1116.7 173.4 L1117.78 173.69 L1118.86 173.79 L1119.93 173.68 L1120.98 173.38" fill="none" stroke="#808285" stroke-width="4.6" stroke-linecap="round"/><path d="M1109.2 120.53 L1108.12 120.34 L1107.05 120.35 L1105.98 120.55 L1104.94 120.96 L1103.92 121.56 L1102.94 122.35 L1102.01 123.32 L1101.12 124.47 L1100.29 125.79 L1099.52 127.27 L1098.82 128.9 L1098.2 130.66 L1097.65 132.55 L1097.18 134.55 L1096.8 136.64 L1096.51 138.81 L1096.3 141.04 L1096.19 143.32 L1096.18 145.62 L1096.25 147.94 L1096.42 150.26 L1096.68 152.55 L1097.03 154.8 L1097.46 157 L1097.98 159.13 L1098.58 161.17 L1099.25 163.1 L1099.99 164.92 L1100.8 166.61 L1101.66 168.15 L1102.58 169.55 L1103.55 170.77 L1104.55 171.83 L1105.58 172.7 L1106.64 173.38 L1107.71 173.87 L1108.79 174.16 L1109.87 174.26 L1110.94 174.15 L1112 173.85" fill="none" stroke="#808285" stroke-width="4.6" stroke-linecap="round"/><ellipse cx="1133.3" cy="146" rx="12.5" ry="27" transform="rotate(-3 1133.3 146)" fill="#dcddde" stroke="#231f20" stroke-width="0.9"/></g>
<path d="M955.28 110.47 A22 22 0 1 1 968.56 126.3 Q969.22 112.26 955.28 110.47 Z" fill="#f7941d"/>
<path d="M1064.64 123 A22 22 0 1 1 1077.92 107.17 Q1063.98 108.96 1064.64 123 Z" fill="#f7941d"/>
<text x="1043.41" y="71.5" font-size="30.54" fill="#f7941d">Tn5</text>
<line x1="1003.4" y1="157.8" x2="1003.4" y2="276" stroke="#000" stroke-width="2"/>
<path d="M998.6 273.6 L1008.2 273.6 L1003.4 288 Z" fill="#000"/>
<text transform="translate(1014.6 158.01) rotate(90)" font-size="30.15" fill="#000">DNA purif.</text>
<path d="M968.5 348.2 C975 322 995 312 1022 310.5 C1040 310 1058 320 1070.5 334.5" fill="none" stroke="#808285" stroke-width="3.6"/>
<text x="916.36" y="390" font-size="30.81" fill="#77787b">DNA fragment</text>
<text x="655.34" y="466" font-size="41.18" fill="#000">ChIP</text>
<text x="841.2" y="466" font-size="42.41" fill="#000">or</text>
<text x="964.09" y="466" font-size="42.22" fill="#000">ATAC</text>
<text transform="translate(1161.82 29.09) scale(1.01 1)" font-size="40.95" font-weight="bold" fill="#231f20">b</text>
<circle cx="1505.4" cy="229.2" r="116.8" fill="#c4c4c6" stroke="#aeb0b2" stroke-width="3" clip-path="url(#venncl)"/>
<circle cx="1350.6" cy="231.3" r="152.5" fill="none" stroke="#00aeef" stroke-width="5.6"/>
<circle cx="1505.4" cy="229.2" r="115.3" fill="none" stroke="#ec008c" stroke-width="5.6"/>
<text x="1302.97" y="65.2" font-size="40.69" fill="#231f20">Sox2</text>
<text x="1447.21" y="99.3" font-size="39.75" fill="#231f20">Sox2a</text>
<text x="1272.78" y="246.4" font-size="40.51" fill="#231f20">36k</text>
<text x="1392" y="232.5" font-size="40.11" font-weight="bold" fill="#231f20">CORs</text>
<text x="1411.98" y="290" font-size="40.26" fill="#231f20">18k</text>
<text x="1521.62" y="245.6" font-size="39.67" fill="#231f20">19k</text>
<path d="M1199.8 376 L1209.9 410.5 L1609 410.5 L1619.2 376" fill="none" stroke="#231f20" stroke-width="4.4"/>
<text x="1219.77" y="464" font-size="40.68" fill="#231f20">Sox-enriched regions</text>
<text transform="translate(1637.88 29.29) scale(0.99 1)" font-size="41.1" font-weight="bold" fill="#231f20">c</text>
<text transform="translate(1696.6 425.11) rotate(-90)" font-size="40.25" fill="#231f20">Sox-enriched regions</text>
<text x="1748.98" y="47" font-size="40.5" fill="#231f20">Sox2</text>
<text x="1870.21" y="47" font-size="39.71" fill="#231f20">Sox2a</text>
<rect x="1727.2" y="60.5" width="130.6" height="342" fill="url(#bg101)"/>
<path d="M1769.8 394.5h44.9v2.3h-44.9z" fill="url(#g101_0_0)" fill-opacity="0.67"/>
<path d="M1769.8 396.5h44.9v2.3h-44.9z" fill="url(#g101_0_0)" fill-opacity="0.73"/>
<path d="M1767.9 270.5h48.7v2.3h-48.7z" fill="url(#g101_0_1)" fill-opacity="0.53"/>
<path d="M1767.9 182.5h48.7v2.3h-48.7zM1767.9 246.5h48.7v2.3h-48.7zM1767.9 280.5h48.7v2.3h-48.7zM1767.9 294.5h48.7v2.3h-48.7zM1767.9 352.5h48.7v2.3h-48.7zM1767.9 358.5h48.7v2.3h-48.7zM1767.9 390.5h48.7v2.3h-48.7z" fill="url(#g101_0_1)" fill-opacity="0.6"/>
<path d="M1767.9 96.5h48.7v2.3h-48.7zM1767.9 162.5h48.7v2.3h-48.7zM1767.9 170.5h48.7v2.3h-48.7zM1767.9 202.5h48.7v2.3h-48.7zM1767.9 222.5h48.7v2.3h-48.7zM1767.9 238.5h48.7v2.3h-48.7zM1767.9 320.5h48.7v2.3h-48.7zM1767.9 324.5h48.7v2.3h-48.7zM1767.9 342.5h48.7v2.3h-48.7zM1767.9 350.5h48.7v2.3h-48.7zM1767.9 362.5h48.7v2.3h-48.7zM1767.9 366.5h48.7v2.3h-48.7zM1767.9 370.5h48.7v6.3h-48.7z" fill="url(#g101_0_1)" fill-opacity="0.67"/>
<path d="M1767.9 122.5h48.7v2.3h-48.7zM1767.9 146.5h48.7v2.3h-48.7zM1767.9 382.5h48.7v2.3h-48.7zM1767.9 400.5h48.7v2.3h-48.7z" fill="url(#g101_0_1)" fill-opacity="0.73"/>
<path d="M1765.9 220.5h52.6v2.3h-52.6zM1765.9 224.5h52.6v2.3h-52.6zM1765.9 236.5h52.6v2.3h-52.6z" fill="url(#g101_0_2)" fill-opacity="0.53"/>
<path d="M1765.9 148.5h52.6v2.3h-52.6zM1765.9 178.5h52.6v4.3h-52.6zM1765.9 184.5h52.6v2.3h-52.6zM1765.9 198.5h52.6v2.3h-52.6zM1765.9 214.5h52.6v2.3h-52.6zM1765.9 234.5h52.6v2.3h-52.6zM1765.9 242.5h52.6v2.3h-52.6zM1765.9 248.5h52.6v2.3h-52.6zM1765.9 252.5h52.6v6.3h-52.6zM1765.9 266.5h52.6v2.3h-52.6zM1765.9 274.5h52.6v2.3h-52.6zM1765.9 284.5h52.6v2.3h-52.6zM1765.9 304.5h52.6v6.3h-52.6zM1765.9 312.5h52.6v2.3h-52.6zM1765.9 338.5h52.6v2.3h-52.6zM1765.9 344.5h52.6v2.3h-52.6zM1765.9 364.5h52.6v2.3h-52.6zM1765.9 376.5h52.6v2.3h-52.6zM1765.9 392.5h52.6v2.3h-52.6z" fill="url(#g101_0_2)" fill-opacity="0.6"/>
<path d="M1765.9 106.5h52.6v2.3h-52.6zM1765.9 132.5h52.6v2.3h-52.6zM1765.9 174.5h52.6v2.3h-52.6zM1765.9 194.5h52.6v2.3h-52.6zM1765.9 200.5h52.6v2.3h-52.6zM1765.9 218.5h52.6v2.3h-52.6zM1765.9 244.5h52.6v2.3h-52.6zM1765.9 262.5h52.6v2.3h-52.6zM1765.9 268.5h52.6v2.3h-52.6zM1765.9 272.5h52.6v2.3h-52.6zM1765.9 286.5h52.6v4.3h-52.6zM1765.9 310.5h52.6v2.3h-52.6zM1765.9 314.5h52.6v2.3h-52.6zM1765.9 318.5h52.6v2.3h-52.6zM1765.9 326.5h52.6v6.3h-52.6zM1765.9 334.5h52.6v4.3h-52.6zM1765.9 340.5h52.6v2.3h-52.6zM1765.9 368.5h52.6v2.3h-52.6zM1765.9 378.5h52.6v2.3h-52.6zM1765.9 384.5h52.6v4.3h-52.6z" fill="url(#g101_0_2)" fill-opacity="0.67"/>
<path d="M1765.9 80.5h52.6v2.3h-52.6zM1765.9 88.5h52.6v2.3h-52.6zM1765.9 100.5h52.6v2.3h-52.6zM1765.9 112.5h52.6v2.3h-52.6zM1765.9 116.5h52.6v4.3h-52.6zM1765.9 124.5h52.6v6.3h-52.6zM1765.9 138.5h52.6v2.3h-52.6zM1765.9 156.5h52.6v2.3h-52.6zM1765.9 354.5h52.6v4.3h-52.6zM1765.9 360.5h52.6v2.3h-52.6zM1765.9 380.5h52.6v2.3h-52.6zM1765.9 388.5h52.6v2.3h-52.6zM1765.9 398.5h52.6v2.3h-52.6z" fill="url(#g101_0_2)" fill-opacity="0.73"/>
<path d="M1765.9 64.5h52.6v2.3h-52.6zM1765.9 70.5h52.6v2.3h-52.6zM1765.9 82.5h52.6v2.3h-52.6zM1765.9 110.5h52.6v2.3h-52.6z" fill="url(#g101_0_2)" fill-opacity="0.8"/>
<path d="M1764.0 164.5h56.5v6.3h-56.5zM1764.0 190.5h56.5v4.3h-56.5zM1764.0 210.5h56.5v2.3h-56.5zM1764.0 226.5h56.5v4.3h-56.5zM1764.0 250.5h56.5v2.3h-56.5zM1764.0 258.5h56.5v2.3h-56.5zM1764.0 264.5h56.5v2.3h-56.5zM1764.0 282.5h56.5v2.3h-56.5zM1764.0 298.5h56.5v2.3h-56.5zM1764.0 302.5h56.5v2.3h-56.5zM1764.0 316.5h56.5v2.3h-56.5zM1764.0 322.5h56.5v2.3h-56.5z" fill="url(#g101_0_3)" fill-opacity="0.6"/>
<path d="M1764.0 130.5h56.5v2.3h-56.5zM1764.0 134.5h56.5v4.3h-56.5zM1764.0 154.5h56.5v2.3h-56.5zM1764.0 158.5h56.5v2.3h-56.5zM1764.0 196.5h56.5v2.3h-56.5zM1764.0 204.5h56.5v2.3h-56.5zM1764.0 216.5h56.5v2.3h-56.5zM1764.0 260.5h56.5v2.3h-56.5zM1764.0 276.5h56.5v4.3h-56.5zM1764.0 290.5h56.5v4.3h-56.5zM1764.0 296.5h56.5v2.3h-56.5zM1764.0 300.5h56.5v2.3h-56.5zM1764.0 332.5h56.5v2.3h-56.5zM1764.0 346.5h56.5v4.3h-56.5z" fill="url(#g101_0_3)" fill-opacity="0.67"/>
<path d="M1764.0 98.5h56.5v2.3h-56.5zM1764.0 108.5h56.5v2.3h-56.5zM1764.0 140.5h56.5v2.3h-56.5zM1764.0 152.5h56.5v2.3h-56.5z" fill="url(#g101_0_3)" fill-opacity="0.73"/>
<path d="M1764.0 68.5h56.5v2.3h-56.5zM1764.0 74.5h56.5v2.3h-56.5zM1764.0 86.5h56.5v2.3h-56.5zM1764.0 90.5h56.5v2.3h-56.5zM1764.0 102.5h56.5v2.3h-56.5z" fill="url(#g101_0_3)" fill-opacity="0.8"/>
<path d="M1764.0 62.5h56.5v2.3h-56.5zM1764.0 76.5h56.5v2.3h-56.5zM1764.0 92.5h56.5v2.3h-56.5z" fill="url(#g101_0_3)" fill-opacity="0.87"/>
<path d="M1764.0 66.5h56.5v2.3h-56.5z" fill="url(#g101_0_3)" fill-opacity="0.93"/>
<path d="M1762.1 230.5h60.3v2.3h-60.3z" fill="url(#g101_0_4)" fill-opacity="0.53"/>
<path d="M1762.1 160.5h60.3v2.3h-60.3zM1762.1 208.5h60.3v2.3h-60.3zM1762.1 240.5h60.3v2.3h-60.3z" fill="url(#g101_0_4)" fill-opacity="0.6"/>
<path d="M1762.1 120.5h60.3v2.3h-60.3zM1762.1 144.5h60.3v2.3h-60.3zM1762.1 150.5h60.3v2.3h-60.3zM1762.1 172.5h60.3v2.3h-60.3zM1762.1 176.5h60.3v2.3h-60.3zM1762.1 186.5h60.3v4.3h-60.3zM1762.1 206.5h60.3v2.3h-60.3zM1762.1 212.5h60.3v2.3h-60.3zM1762.1 232.5h60.3v2.3h-60.3z" fill="url(#g101_0_4)" fill-opacity="0.67"/>
<path d="M1762.1 72.5h60.3v2.3h-60.3zM1762.1 84.5h60.3v2.3h-60.3zM1762.1 104.5h60.3v2.3h-60.3zM1762.1 114.5h60.3v2.3h-60.3zM1762.1 142.5h60.3v2.3h-60.3z" fill="url(#g101_0_4)" fill-opacity="0.73"/>
<path d="M1762.1 60.5h60.3v2.3h-60.3zM1762.1 78.5h60.3v2.3h-60.3z" fill="url(#g101_0_4)" fill-opacity="0.8"/>
<path d="M1762.1 94.5h60.3v2.3h-60.3z" fill="url(#g101_0_4)" fill-opacity="0.87"/>
<path d="M1758.0 390.5h68.5v4.3h-68.5z" fill="url(#g101_1_0)" fill-opacity="0.2"/>
<path d="M1758.0 342.5h68.5v4.3h-68.5zM1758.0 350.5h68.5v40.3h-68.5zM1758.0 394.5h68.5v8.3h-68.5z" fill="url(#g101_1_0)" fill-opacity="0.27"/>
<path d="M1750.4 220.5h83.7v2.3h-83.7zM1750.4 224.5h83.7v8.3h-83.7zM1750.4 236.5h83.7v2.3h-83.7zM1750.4 240.5h83.7v4.3h-83.7zM1750.4 246.5h83.7v6.3h-83.7zM1750.4 254.5h83.7v6.3h-83.7zM1750.4 264.5h83.7v8.3h-83.7zM1750.4 274.5h83.7v2.3h-83.7zM1750.4 280.5h83.7v8.3h-83.7zM1750.4 290.5h83.7v6.3h-83.7zM1750.4 298.5h83.7v2.3h-83.7zM1750.4 302.5h83.7v40.3h-83.7zM1750.4 346.5h83.7v4.3h-83.7z" fill="url(#g101_1_1)" fill-opacity="0.27"/>
<path d="M1750.4 198.5h83.7v2.3h-83.7zM1750.4 202.5h83.7v4.3h-83.7zM1750.4 210.5h83.7v2.3h-83.7zM1750.4 214.5h83.7v6.3h-83.7zM1750.4 222.5h83.7v2.3h-83.7zM1750.4 232.5h83.7v4.3h-83.7zM1750.4 238.5h83.7v2.3h-83.7zM1750.4 244.5h83.7v2.3h-83.7zM1750.4 252.5h83.7v2.3h-83.7zM1750.4 260.5h83.7v4.3h-83.7zM1750.4 272.5h83.7v2.3h-83.7zM1750.4 276.5h83.7v4.3h-83.7zM1750.4 288.5h83.7v2.3h-83.7zM1750.4 296.5h83.7v2.3h-83.7zM1750.4 300.5h83.7v2.3h-83.7z" fill="url(#g101_1_1)" fill-opacity="0.33"/>
<path d="M1742.8 144.5h99.0v2.3h-99.0zM1742.8 148.5h99.0v2.3h-99.0zM1742.8 154.5h99.0v2.3h-99.0zM1742.8 160.5h99.0v12.3h-99.0zM1742.8 174.5h99.0v24.3h-99.0zM1742.8 200.5h99.0v2.3h-99.0zM1742.8 206.5h99.0v4.3h-99.0zM1742.8 212.5h99.0v2.3h-99.0z" fill="url(#g101_1_2)" fill-opacity="0.33"/>
<path d="M1742.8 122.5h99.0v4.3h-99.0zM1742.8 128.5h99.0v16.3h-99.0zM1742.8 146.5h99.0v2.3h-99.0zM1742.8 150.5h99.0v4.3h-99.0zM1742.8 156.5h99.0v4.3h-99.0zM1742.8 172.5h99.0v2.3h-99.0z" fill="url(#g101_1_2)" fill-opacity="0.4"/>
<path d="M1742.8 118.5h99.0v2.3h-99.0zM1742.8 126.5h99.0v2.3h-99.0z" fill="url(#g101_1_2)" fill-opacity="0.47"/>
<path d="M1735.1 106.5h114.2v2.3h-114.2zM1735.1 114.5h114.2v2.3h-114.2zM1735.1 120.5h114.2v2.3h-114.2z" fill="url(#g101_1_3)" fill-opacity="0.4"/>
<path d="M1735.1 80.5h114.2v2.3h-114.2zM1735.1 84.5h114.2v2.3h-114.2zM1735.1 88.5h114.2v2.3h-114.2zM1735.1 96.5h114.2v6.3h-114.2zM1735.1 104.5h114.2v2.3h-114.2zM1735.1 108.5h114.2v6.3h-114.2zM1735.1 116.5h114.2v2.3h-114.2z" fill="url(#g101_1_3)" fill-opacity="0.47"/>
<path d="M1735.1 82.5h114.2v2.3h-114.2zM1735.1 86.5h114.2v2.3h-114.2zM1735.1 90.5h114.2v6.3h-114.2zM1735.1 102.5h114.2v2.3h-114.2z" fill="url(#g101_1_3)" fill-opacity="0.53"/>
<path d="M1727.5 60.5h129.4v2.3h-129.4zM1727.5 64.5h129.4v2.3h-129.4zM1727.5 68.5h129.4v8.3h-129.4zM1727.5 78.5h129.4v2.3h-129.4z" fill="url(#g101_1_4)" fill-opacity="0.53"/>
<path d="M1727.5 62.5h129.4v2.3h-129.4zM1727.5 66.5h129.4v2.3h-129.4zM1727.5 76.5h129.4v2.3h-129.4z" fill="url(#g101_1_4)" fill-opacity="0.6"/>
<rect x="1727.2" y="60.5" width="130.6" height="342" fill="none" stroke="#3a3a3a" stroke-width="1.4"/>
<rect x="1864.6" y="60.5" width="130.6" height="342" fill="url(#bg102)"/>
<path d="M1906.0 372.5h45.3v6.3h-45.3z" fill="url(#g102_0_0)" fill-opacity="0.13"/>
<path d="M1904.0 388.5h49.1v4.3h-49.1zM1904.0 398.5h49.1v4.3h-49.1z" fill="url(#g102_0_1)" fill-opacity="0.07"/>
<path d="M1904.0 350.5h49.1v4.3h-49.1zM1904.0 362.5h49.1v2.3h-49.1zM1904.0 366.5h49.1v4.3h-49.1zM1904.0 378.5h49.1v2.3h-49.1z" fill="url(#g102_0_1)" fill-opacity="0.13"/>
<path d="M1904.0 326.5h49.1v2.3h-49.1zM1904.0 332.5h49.1v2.3h-49.1z" fill="url(#g102_0_1)" fill-opacity="0.2"/>
<path d="M1904.0 320.5h49.1v4.3h-49.1z" fill="url(#g102_0_1)" fill-opacity="0.27"/>
<path d="M1904.0 268.5h49.1v2.3h-49.1zM1904.0 292.5h49.1v4.3h-49.1z" fill="url(#g102_0_1)" fill-opacity="0.33"/>
<path d="M1904.0 252.5h49.1v2.3h-49.1zM1904.0 258.5h49.1v2.3h-49.1zM1904.0 262.5h49.1v2.3h-49.1zM1904.0 284.5h49.1v2.3h-49.1z" fill="url(#g102_0_1)" fill-opacity="0.4"/>
<path d="M1904.0 200.5h49.1v2.3h-49.1z" fill="url(#g102_0_1)" fill-opacity="0.53"/>
<path d="M1904.0 202.5h49.1v2.3h-49.1z" fill="url(#g102_0_1)" fill-opacity="0.6"/>
<path d="M1904.0 98.5h49.1v2.3h-49.1zM1904.0 114.5h49.1v2.3h-49.1zM1904.0 166.5h49.1v2.3h-49.1zM1904.0 180.5h49.1v2.3h-49.1z" fill="url(#g102_0_1)" fill-opacity="0.67"/>
<path d="M1904.0 106.5h49.1v2.3h-49.1zM1904.0 112.5h49.1v2.3h-49.1z" fill="url(#g102_0_1)" fill-opacity="0.73"/>
<path d="M1904.0 62.5h49.1v2.3h-49.1z" fill="url(#g102_0_1)" fill-opacity="0.87"/>
<path d="M1902.1 382.5h52.9v2.3h-52.9zM1902.1 386.5h52.9v2.3h-52.9zM1902.1 392.5h52.9v6.3h-52.9z" fill="url(#g102_0_2)" fill-opacity="0.07"/>
<path d="M1902.1 358.5h52.9v2.3h-52.9zM1902.1 364.5h52.9v2.3h-52.9zM1902.1 370.5h52.9v2.3h-52.9zM1902.1 380.5h52.9v2.3h-52.9zM1902.1 384.5h52.9v2.3h-52.9z" fill="url(#g102_0_2)" fill-opacity="0.13"/>
<path d="M1902.1 324.5h52.9v2.3h-52.9zM1902.1 330.5h52.9v2.3h-52.9zM1902.1 336.5h52.9v6.3h-52.9zM1902.1 344.5h52.9v2.3h-52.9zM1902.1 348.5h52.9v2.3h-52.9zM1902.1 356.5h52.9v2.3h-52.9z" fill="url(#g102_0_2)" fill-opacity="0.2"/>
<path d="M1902.1 296.5h52.9v2.3h-52.9zM1902.1 300.5h52.9v2.3h-52.9zM1902.1 308.5h52.9v8.3h-52.9zM1902.1 318.5h52.9v2.3h-52.9zM1902.1 328.5h52.9v2.3h-52.9z" fill="url(#g102_0_2)" fill-opacity="0.27"/>
<path d="M1902.1 274.5h52.9v4.3h-52.9zM1902.1 286.5h52.9v2.3h-52.9zM1902.1 290.5h52.9v2.3h-52.9zM1902.1 302.5h52.9v2.3h-52.9zM1902.1 306.5h52.9v2.3h-52.9z" fill="url(#g102_0_2)" fill-opacity="0.33"/>
<path d="M1902.1 256.5h52.9v2.3h-52.9zM1902.1 266.5h52.9v2.3h-52.9zM1902.1 270.5h52.9v2.3h-52.9z" fill="url(#g102_0_2)" fill-opacity="0.4"/>
<path d="M1902.1 220.5h52.9v2.3h-52.9zM1902.1 224.5h52.9v4.3h-52.9zM1902.1 230.5h52.9v2.3h-52.9zM1902.1 244.5h52.9v2.3h-52.9zM1902.1 248.5h52.9v2.3h-52.9z" fill="url(#g102_0_2)" fill-opacity="0.47"/>
<path d="M1902.1 204.5h52.9v2.3h-52.9z" fill="url(#g102_0_2)" fill-opacity="0.53"/>
<path d="M1902.1 144.5h52.9v2.3h-52.9zM1902.1 152.5h52.9v2.3h-52.9zM1902.1 156.5h52.9v2.3h-52.9zM1902.1 162.5h52.9v2.3h-52.9zM1902.1 172.5h52.9v2.3h-52.9zM1902.1 188.5h52.9v2.3h-52.9zM1902.1 194.5h52.9v2.3h-52.9zM1902.1 210.5h52.9v2.3h-52.9z" fill="url(#g102_0_2)" fill-opacity="0.6"/>
<path d="M1902.1 116.5h52.9v6.3h-52.9zM1902.1 128.5h52.9v2.3h-52.9zM1902.1 138.5h52.9v2.3h-52.9zM1902.1 142.5h52.9v2.3h-52.9zM1902.1 150.5h52.9v2.3h-52.9zM1902.1 160.5h52.9v2.3h-52.9z" fill="url(#g102_0_2)" fill-opacity="0.67"/>
<path d="M1902.1 80.5h52.9v2.3h-52.9zM1902.1 88.5h52.9v2.3h-52.9zM1902.1 92.5h52.9v2.3h-52.9zM1902.1 130.5h52.9v2.3h-52.9zM1902.1 134.5h52.9v2.3h-52.9z" fill="url(#g102_0_2)" fill-opacity="0.73"/>
<path d="M1902.1 102.5h52.9v2.3h-52.9z" fill="url(#g102_0_2)" fill-opacity="0.8"/>
<path d="M1902.1 60.5h52.9v2.3h-52.9zM1902.1 64.5h52.9v2.3h-52.9zM1902.1 76.5h52.9v2.3h-52.9z" fill="url(#g102_0_2)" fill-opacity="0.87"/>
<path d="M1900.2 354.5h56.7v2.3h-56.7zM1900.2 360.5h56.7v2.3h-56.7z" fill="url(#g102_0_3)" fill-opacity="0.13"/>
<path d="M1900.2 334.5h56.7v2.3h-56.7zM1900.2 342.5h56.7v2.3h-56.7zM1900.2 346.5h56.7v2.3h-56.7z" fill="url(#g102_0_3)" fill-opacity="0.2"/>
<path d="M1900.2 304.5h56.7v2.3h-56.7zM1900.2 316.5h56.7v2.3h-56.7z" fill="url(#g102_0_3)" fill-opacity="0.27"/>
<path d="M1900.2 278.5h56.7v6.3h-56.7zM1900.2 288.5h56.7v2.3h-56.7zM1900.2 298.5h56.7v2.3h-56.7z" fill="url(#g102_0_3)" fill-opacity="0.33"/>
<path d="M1900.2 246.5h56.7v2.3h-56.7zM1900.2 264.5h56.7v2.3h-56.7zM1900.2 272.5h56.7v2.3h-56.7z" fill="url(#g102_0_3)" fill-opacity="0.4"/>
<path d="M1900.2 212.5h56.7v2.3h-56.7zM1900.2 228.5h56.7v2.3h-56.7zM1900.2 234.5h56.7v4.3h-56.7zM1900.2 242.5h56.7v2.3h-56.7zM1900.2 254.5h56.7v2.3h-56.7z" fill="url(#g102_0_3)" fill-opacity="0.47"/>
<path d="M1900.2 196.5h56.7v2.3h-56.7zM1900.2 206.5h56.7v4.3h-56.7zM1900.2 216.5h56.7v4.3h-56.7zM1900.2 232.5h56.7v2.3h-56.7z" fill="url(#g102_0_3)" fill-opacity="0.53"/>
<path d="M1900.2 146.5h56.7v2.3h-56.7zM1900.2 158.5h56.7v2.3h-56.7zM1900.2 168.5h56.7v2.3h-56.7zM1900.2 176.5h56.7v4.3h-56.7zM1900.2 182.5h56.7v4.3h-56.7zM1900.2 198.5h56.7v2.3h-56.7z" fill="url(#g102_0_3)" fill-opacity="0.6"/>
<path d="M1900.2 122.5h56.7v6.3h-56.7zM1900.2 132.5h56.7v2.3h-56.7zM1900.2 136.5h56.7v2.3h-56.7zM1900.2 164.5h56.7v2.3h-56.7zM1900.2 174.5h56.7v2.3h-56.7z" fill="url(#g102_0_3)" fill-opacity="0.67"/>
<path d="M1900.2 82.5h56.7v2.3h-56.7zM1900.2 96.5h56.7v2.3h-56.7zM1900.2 104.5h56.7v2.3h-56.7zM1900.2 108.5h56.7v4.3h-56.7zM1900.2 140.5h56.7v2.3h-56.7z" fill="url(#g102_0_3)" fill-opacity="0.73"/>
<path d="M1900.2 68.5h56.7v2.3h-56.7zM1900.2 72.5h56.7v2.3h-56.7zM1900.2 86.5h56.7v2.3h-56.7zM1900.2 100.5h56.7v2.3h-56.7z" fill="url(#g102_0_3)" fill-opacity="0.8"/>
<path d="M1900.2 66.5h56.7v2.3h-56.7zM1900.2 78.5h56.7v2.3h-56.7zM1900.2 84.5h56.7v2.3h-56.7z" fill="url(#g102_0_3)" fill-opacity="0.87"/>
<path d="M1898.3 250.5h60.5v2.3h-60.5zM1898.3 260.5h60.5v2.3h-60.5z" fill="url(#g102_0_4)" fill-opacity="0.4"/>
<path d="M1898.3 222.5h60.5v2.3h-60.5zM1898.3 240.5h60.5v2.3h-60.5z" fill="url(#g102_0_4)" fill-opacity="0.47"/>
<path d="M1898.3 190.5h60.5v2.3h-60.5zM1898.3 214.5h60.5v2.3h-60.5zM1898.3 238.5h60.5v2.3h-60.5z" fill="url(#g102_0_4)" fill-opacity="0.53"/>
<path d="M1898.3 154.5h60.5v2.3h-60.5zM1898.3 170.5h60.5v2.3h-60.5zM1898.3 186.5h60.5v2.3h-60.5zM1898.3 192.5h60.5v2.3h-60.5z" fill="url(#g102_0_4)" fill-opacity="0.6"/>
<path d="M1898.3 148.5h60.5v2.3h-60.5z" fill="url(#g102_0_4)" fill-opacity="0.67"/>
<path d="M1898.3 74.5h60.5v2.3h-60.5zM1898.3 94.5h60.5v2.3h-60.5z" fill="url(#g102_0_4)" fill-opacity="0.73"/>
<path d="M1898.3 70.5h60.5v2.3h-60.5zM1898.3 90.5h60.5v2.3h-60.5z" fill="url(#g102_0_4)" fill-opacity="0.8"/>
<path d="M1894.1 310.5h69.0v2.3h-69.0zM1894.1 314.5h69.0v2.3h-69.0zM1894.1 318.5h69.0v60.3h-69.0zM1894.1 380.5h69.0v2.3h-69.0zM1894.1 384.5h69.0v2.3h-69.0z" fill="url(#g102_1_0)" fill-opacity="0.07"/>
<path d="M1894.1 306.5h69.0v2.3h-69.0z" fill="url(#g102_1_0)" fill-opacity="0.13"/>
<path d="M1886.9 300.5h83.4v2.3h-83.4zM1886.9 304.5h83.4v2.3h-83.4zM1886.9 308.5h83.4v2.3h-83.4zM1886.9 312.5h83.4v2.3h-83.4zM1886.9 316.5h83.4v2.3h-83.4z" fill="url(#g102_1_1)" fill-opacity="0.07"/>
<path d="M1886.9 250.5h83.4v4.3h-83.4zM1886.9 256.5h83.4v44.3h-83.4zM1886.9 302.5h83.4v2.3h-83.4z" fill="url(#g102_1_1)" fill-opacity="0.13"/>
<path d="M1886.9 204.5h83.4v2.3h-83.4zM1886.9 212.5h83.4v2.3h-83.4zM1886.9 220.5h83.4v30.3h-83.4zM1886.9 254.5h83.4v2.3h-83.4z" fill="url(#g102_1_1)" fill-opacity="0.2"/>
<path d="M1886.9 200.5h83.4v4.3h-83.4zM1886.9 210.5h83.4v2.3h-83.4zM1886.9 216.5h83.4v4.3h-83.4z" fill="url(#g102_1_1)" fill-opacity="0.27"/>
<path d="M1879.7 206.5h97.8v2.3h-97.8zM1879.7 214.5h97.8v2.3h-97.8z" fill="url(#g102_1_2)" fill-opacity="0.2"/>
<path d="M1879.7 176.5h97.8v4.3h-97.8zM1879.7 184.5h97.8v4.3h-97.8zM1879.7 190.5h97.8v10.3h-97.8zM1879.7 208.5h97.8v2.3h-97.8z" fill="url(#g102_1_2)" fill-opacity="0.27"/>
<path d="M1879.7 144.5h97.8v4.3h-97.8zM1879.7 152.5h97.8v24.3h-97.8zM1879.7 180.5h97.8v4.3h-97.8zM1879.7 188.5h97.8v2.3h-97.8z" fill="url(#g102_1_2)" fill-opacity="0.33"/>
<path d="M1879.7 128.5h97.8v16.3h-97.8zM1879.7 148.5h97.8v4.3h-97.8z" fill="url(#g102_1_2)" fill-opacity="0.4"/>
<path d="M1872.5 114.5h112.2v14.3h-112.2z" fill="url(#g102_1_3)" fill-opacity="0.4"/>
<path d="M1872.5 88.5h112.2v2.3h-112.2zM1872.5 92.5h112.2v8.3h-112.2zM1872.5 102.5h112.2v12.3h-112.2z" fill="url(#g102_1_3)" fill-opacity="0.47"/>
<path d="M1872.5 90.5h112.2v2.3h-112.2zM1872.5 100.5h112.2v2.3h-112.2z" fill="url(#g102_1_3)" fill-opacity="0.53"/>
<path d="M1865.3 80.5h126.6v4.3h-126.6z" fill="url(#g102_1_4)" fill-opacity="0.47"/>
<path d="M1865.3 68.5h126.6v2.3h-126.6zM1865.3 74.5h126.6v2.3h-126.6zM1865.3 86.5h126.6v2.3h-126.6z" fill="url(#g102_1_4)" fill-opacity="0.53"/>
<path d="M1865.3 60.5h126.6v8.3h-126.6zM1865.3 70.5h126.6v4.3h-126.6zM1865.3 76.5h126.6v4.3h-126.6zM1865.3 84.5h126.6v2.3h-126.6z" fill="url(#g102_1_4)" fill-opacity="0.6"/>
<rect x="1864.6" y="60.5" width="130.6" height="342" fill="none" stroke="#3a3a3a" stroke-width="1.4"/>
<path d="M1746.5 196.5h93.3v0.8h-93.3zM1734.1 276.5h91.7v0.8h-91.7zM1738.3 381.9h81.7v0.8h-81.7zM1728.3 80.6h113.3v0.8h-113.3zM1729.5 151.9h91.0v0.8h-91.0zM1749.4 137.5h69.6v0.8h-69.6zM1741.4 271.4h87.0v0.8h-87.0zM1765.9 361.4h79.4v0.8h-79.4zM1733.9 80.0h94.5v0.8h-94.5z" fill="#000" fill-opacity="0.06"/>
<path d="M1737.2 141.0h82.6v0.8h-82.6zM1761.1 109.9h58.7v0.8h-58.7zM1738.3 382.5h82.4v0.8h-82.4zM1743.0 263.7h82.4v0.8h-82.4zM1760.1 355.3h71.5v0.8h-71.5zM1762.8 346.3h75.0v0.8h-75.0zM1743.4 381.6h77.0v0.8h-77.0zM1727.9 373.7h115.3v0.8h-115.3zM1750.8 289.9h101.3v0.8h-101.3zM1727.8 249.5h111.0v0.8h-111.0zM1746.9 190.1h102.7v0.8h-102.7z" fill="#000" fill-opacity="0.05"/>
<path d="M1730.9 143.4h109.4v0.8h-109.4zM1760.3 249.0h85.4v0.8h-85.4zM1735.8 337.5h93.1v0.8h-93.1zM1757.4 216.5h99.7v0.8h-99.7zM1750.6 116.1h106.3v0.8h-106.3zM1756.6 97.3h78.9v0.8h-78.9zM1758.9 171.0h66.0v0.8h-66.0zM1729.2 401.3h90.3v0.8h-90.3zM1739.1 215.6h114.8v0.8h-114.8zM1735.2 230.6h107.8v0.8h-107.8zM1752.9 123.2h79.8v0.8h-79.8zM1727.6 303.4h107.3v0.8h-107.3zM1735.8 274.4h87.8v0.8h-87.8z" fill="#000" fill-opacity="0.07"/>
<path d="M1730.0 337.0h121.3v0.8h-121.3zM1738.4 90.2h83.4v0.8h-83.4zM1740.6 324.1h92.2v0.8h-92.2zM1758.2 224.2h84.2v0.8h-84.2zM1751.1 242.5h87.0v0.8h-87.0zM1740.6 216.7h86.3v0.8h-86.3zM1732.5 168.4h123.8v0.8h-123.8zM1747.4 223.9h75.9v0.8h-75.9zM1734.6 116.4h95.8v0.8h-95.8zM1754.7 98.5h102.2v0.8h-102.2zM1740.0 329.5h95.4v0.8h-95.4zM1733.9 120.1h115.7v0.8h-115.7zM1748.2 313.1h102.5v0.8h-102.5zM1727.8 362.2h95.3v0.8h-95.3z" fill="#000" fill-opacity="0.04"/>
<path d="M1727.4 191.4h102.8v0.8h-102.8zM1762.6 255.7h83.1v0.8h-83.1zM1745.3 189.9h108.3v0.8h-108.3zM1738.8 264.8h88.1v0.8h-88.1zM1741.2 170.5h104.2v0.8h-104.2zM1754.5 116.5h93.8v0.8h-93.8zM1738.7 72.9h95.1v0.8h-95.1zM1735.2 182.2h91.7v0.8h-91.7zM1752.9 266.2h72.2v0.8h-72.2zM1731.2 235.3h94.8v0.8h-94.8zM1761.2 357.5h71.1v0.8h-71.1zM1748.2 155.6h83.5v0.8h-83.5zM1759.2 81.6h67.5v0.8h-67.5zM1739.2 141.4h99.1v0.8h-99.1zM1738.6 265.6h91.0v0.8h-91.0zM1733.2 358.1h101.4v0.8h-101.4zM1737.2 337.2h84.5v0.8h-84.5z" fill="#000" fill-opacity="0.03"/>
<path d="M1737.0 386.8h111.6v0.8h-111.6zM1739.0 367.8h113.8v0.8h-113.8zM1744.5 259.9h88.8v0.8h-88.8zM1739.0 338.8h93.4v0.8h-93.4zM1762.4 175.2h68.7v0.8h-68.7zM1737.8 140.7h97.0v0.8h-97.0z" fill="#000" fill-opacity="0.02"/>
<path d="M1886.3 389.6h90.3v0.8h-90.3zM1886.3 394.0h75.1v0.8h-75.1zM1901.0 385.4h63.8v0.8h-63.8zM1874.5 225.6h82.7v0.8h-82.7zM1882.5 167.0h80.0v0.8h-80.0zM1883.1 184.8h84.5v0.8h-84.5zM1874.2 290.3h87.1v0.8h-87.1zM1901.9 271.5h61.7v0.8h-61.7zM1890.9 167.1h90.1v0.8h-90.1zM1868.4 285.1h117.6v0.8h-117.6zM1868.3 300.1h101.0v0.8h-101.0zM1876.0 243.0h106.6v0.8h-106.6zM1881.8 350.9h90.5v0.8h-90.5zM1902.3 336.4h65.9v0.8h-65.9zM1879.9 213.1h102.3v0.8h-102.3zM1888.4 212.1h77.9v0.8h-77.9zM1876.1 236.9h89.8v0.8h-89.8zM1868.5 373.5h112.3v0.8h-112.3zM1882.8 293.9h101.5v0.8h-101.5z" fill="#000" fill-opacity="0.05"/>
<path d="M1880.2 125.0h95.3v0.8h-95.3zM1873.2 284.6h117.0v0.8h-117.0zM1894.4 309.3h93.1v0.8h-93.1zM1891.5 153.1h76.7v0.8h-76.7zM1891.5 148.0h78.8v0.8h-78.8zM1875.8 263.0h91.5v0.8h-91.5zM1873.5 256.9h87.1v0.8h-87.1z" fill="#000" fill-opacity="0.02"/>
<path d="M1902.6 324.8h88.2v0.8h-88.2zM1898.4 385.3h85.5v0.8h-85.5zM1901.8 64.5h73.0v0.8h-73.0zM1890.8 195.7h93.7v0.8h-93.7zM1899.9 372.3h76.6v0.8h-76.6zM1868.4 285.3h126.7v0.8h-126.7zM1888.7 235.5h92.6v0.8h-92.6zM1885.0 118.6h74.9v0.8h-74.9zM1880.0 175.3h104.3v0.8h-104.3zM1871.6 206.4h109.8v0.8h-109.8zM1877.1 285.6h100.4v0.8h-100.4zM1892.4 84.6h71.9v0.8h-71.9zM1901.5 124.0h69.2v0.8h-69.2zM1900.3 365.7h56.3v0.8h-56.3zM1892.6 187.2h85.0v0.8h-85.0zM1872.5 65.7h89.2v0.8h-89.2z" fill="#000" fill-opacity="0.04"/>
<path d="M1879.4 300.5h90.1v0.8h-90.1zM1870.0 208.3h115.5v0.8h-115.5zM1886.0 212.5h99.9v0.8h-99.9zM1891.7 232.0h67.8v0.8h-67.8zM1876.4 60.6h80.1v0.8h-80.1zM1887.6 64.7h73.0v0.8h-73.0zM1893.1 348.1h76.4v0.8h-76.4zM1883.4 310.8h97.1v0.8h-97.1zM1895.2 142.2h86.3v0.8h-86.3zM1893.4 215.2h90.8v0.8h-90.8zM1877.7 330.3h82.9v0.8h-82.9zM1871.3 281.7h106.6v0.8h-106.6zM1887.4 371.6h85.6v0.8h-85.6zM1883.6 111.0h84.2v0.8h-84.2z" fill="#000" fill-opacity="0.06"/>
<path d="M1875.7 159.3h82.5v0.8h-82.5zM1866.9 305.8h119.5v0.8h-119.5zM1888.6 149.4h101.1v0.8h-101.1zM1889.1 200.5h78.4v0.8h-78.4zM1883.7 228.5h82.1v0.8h-82.1zM1892.2 108.5h99.5v0.8h-99.5zM1890.2 323.0h102.1v0.8h-102.1zM1899.0 283.9h91.1v0.8h-91.1zM1886.9 193.3h72.2v0.8h-72.2z" fill="#000" fill-opacity="0.03"/>
<path d="M1866.2 80.4h91.1v0.8h-91.1zM1865.1 247.2h93.4v0.8h-93.4zM1899.3 290.0h66.2v0.8h-66.2zM1880.6 185.2h107.2v0.8h-107.2zM1884.9 100.0h77.1v0.8h-77.1z" fill="#000" fill-opacity="0.07"/>
<rect x="1789.6" y="412.2" width="146.8" height="19.5" fill="url(#cbgray)" stroke="#231f20" stroke-width="1.3"/>
<line x1="1790.3" y1="431.7" x2="1790.3" y2="442.7" stroke="#231f20" stroke-width="1.3"/>
<line x1="1935.8" y1="431.7" x2="1935.8" y2="442.7" stroke="#231f20" stroke-width="1.3"/>
<text x="1780.74" y="469.7" font-size="31.41" fill="#231f20">0</text>
<text x="1924.42" y="469.7" font-size="31.57" fill="#231f20">6</text>
<text transform="translate(-0.91 513.3) scale(0.99 1)" font-size="40.41" font-weight="bold" fill="#231f20">d</text>
<text transform="translate(49.6 682.66) rotate(-90)" font-size="41.23" fill="#231f20">ChIP</text>
<text transform="translate(49.5 896.5) rotate(-90)" font-size="40.77" fill="#231f20">ATAC</text>
<rect x="63.3" y="555.7" width="3.6" height="160.3" fill="#231f20"/>
<rect x="63.4" y="726" width="3.4" height="241.4" fill="#231f20"/>
<text x="75.62" y="600.7" font-size="30.6" fill="#231f20">Sox2</text>
<text x="75.62" y="683.4" font-size="30.6" fill="#231f20">Sox2a</text>
<text x="75.47" y="767.5" font-size="30.6" fill="#231f20">Ctrl</text>
<text x="75.62" y="851" font-size="30.6" fill="#231f20">Sox2</text>
<text x="75.62" y="934.4" font-size="30.6" fill="#231f20">Sox2a</text>
<text x="175.68" y="580.7" font-size="30.6" fill="#231f20">30</text>
<text x="192.66" y="634.8" font-size="30.6" fill="#231f20">0</text>
<text x="175.68" y="664.8" font-size="30.6" fill="#231f20">30</text>
<text x="192.66" y="718.9" font-size="30.6" fill="#231f20">0</text>
<text x="158.62" y="748.8" font-size="30.6" fill="#231f20">150</text>
<text x="192.66" y="803" font-size="30.6" fill="#231f20">0</text>
<text x="158.62" y="833" font-size="30.6" fill="#231f20">150</text>
<text x="192.66" y="887.8" font-size="30.6" fill="#231f20">0</text>
<text x="158.62" y="917.8" font-size="30.6" fill="#231f20">150</text>
<text x="192.66" y="971.7" font-size="30.6" fill="#231f20">0</text>
<rect x="224.7" y="558.2" width="7" height="74.1" fill="#4a91d0"/>
<line x1="230.7" y1="629" x2="243.9" y2="629" stroke="#4a91d0" stroke-width="2.1"/>
<line x1="230.7" y1="609.1" x2="243.9" y2="609.1" stroke="#4a91d0" stroke-width="2.1"/>
<line x1="230.7" y1="589.2" x2="243.9" y2="589.2" stroke="#4a91d0" stroke-width="2.1"/>
<line x1="230.7" y1="569.3" x2="243.9" y2="569.3" stroke="#4a91d0" stroke-width="2.1"/>
<path d="M231.7 631.9V628.3h2V628.4h2V628.4h2V628.8h2V628.5h2V629.0h2V629.2h2V628.2h2V626.5h2V629.1h2V629.5h2V629.5h2V629.6h2V628.1h2V629.2h2V628.5h2V628.5h2V629.1h2V628.5h2V629.2h2V629.1h2V628.3h2V628.1h2V629.4h2V628.5h2V628.8h2V626.7h2V628.7h2V628.3h2V628.6h2V628.7h2V627.6h2V627.3h2V628.2h2V627.5h2V628.2h2V627.8h2V627.1h2V626.6h2V627.4h2V626.8h2V625.4h2V629.2h2V629.0h2V627.1h2V629.0h2V628.1h2V628.3h2V628.9h2V629.0h2V629.6h2V629.5h2V629.7h2V629.6h2V627.4h2V629.0h2V631.9ZM346.7 631.9V628.1h2V628.3h2V628.0h2V628.7h2V629.1h2V629.1h2V628.7h2V628.8h2V629.2h2V628.7h2V627.3h2V628.3h2V629.1h2V628.6h2V628.9h2V628.2h2V629.3h2V629.2h2V629.2h2V629.0h2V628.3h2V629.0h2V629.3h2V627.9h2V631.9ZM399.7 631.9V629.8h2V628.4h2V628.4h2V628.2h2V627.2h2V627.0h2V628.6h1V631.9ZM416.7 631.9V629.7h2V627.1h2V629.8h2V628.9h2V629.7h2V628.0h2V628.3h2V628.5h2V629.2h2V628.9h2V628.4h2V628.2h2V627.3h2V627.4h2V628.2h2V628.4h2V627.3h2V628.1h2V627.6h2V627.5h2V628.2h2V628.1h2V628.5h2V628.9h2V628.3h2V628.6h1V631.9ZM471.7 631.9V627.2h2V627.6h2V628.3h2V627.3h2V626.5h2V626.2h2V625.5h2V624.9h2V624.9h2V623.7h2V620.8h2V617.4h2V611.0h2V605.8h2V588.8h2V584.4h2V579.6h2V582.6h2V583.2h2V590.4h2V597.2h2V604.4h2V610.3h2V615.9h2V618.0h2V623.8h2V623.1h2V624.1h2V626.4h2V627.3h2V627.4h2V627.3h2V627.6h2V628.2h2V628.0h2V627.3h2V628.3h2V628.0h2V627.8h2V627.9h2V629.2h2V629.5h2V628.0h2V628.9h2V629.6h2V628.6h2V628.4h2V628.8h2V629.3h2V629.2h2V628.0h2V629.5h2V628.7h2V628.2h2V629.2h2V629.1h2V629.0h2V629.4h2V628.6h2V629.4h2V628.8h2V628.5h2V629.3h2V628.0h2V629.1h2V629.2h2V629.4h2V628.3h2V629.6h2V628.9h2V628.7h2V628.2h2V629.3h2V629.4h2V628.9h2V629.0h2V629.0h2V629.2h2V629.2h2V628.8h2V628.8h2V628.2h2V628.8h2V628.7h2V627.0h2V629.5h2V629.5h2V628.8h2V629.5h2V628.9h2V628.0h2V629.6h2V628.4h2V627.7h2V628.6h2V629.1h2V629.4h2V629.2h2V628.4h2V628.4h2V629.6h2V627.3h2V627.9h2V629.7h2V629.0h2V627.6h2V628.4h2V629.0h2V628.9h2V629.6h2V628.8h2V629.0h2V629.2h2V628.2h2V629.3h2V629.4h2V629.0h2V629.5h2V629.4h2V628.9h2V628.3h2V628.8h2V628.1h2V629.5h2V629.4h2V628.2h2V629.4h2V628.5h2V628.3h2V629.0h2V629.5h2V629.3h2V629.4h2V628.7h2V628.9h2V628.6h2V629.5h2V629.1h2V627.8h2V628.7h2V628.5h2V631.9ZM756.7 631.9V628.7h2V629.2h2V629.4h2V628.4h2V628.9h2V629.0h2V628.8h2V629.6h2V628.9h2V628.9h2V627.4h2V628.9h2V629.5h2V626.9h2V629.2h2V628.9h2V627.4h2V628.2h2V628.9h2V628.1h2V628.4h2V631.9Z" fill="#4a91d0"/>
<rect x="224.7" y="642.3" width="7" height="74.1" fill="#ec4196"/>
<line x1="230.7" y1="710.3" x2="243.9" y2="710.3" stroke="#ec4196" stroke-width="2.1"/>
<line x1="230.7" y1="690.4" x2="243.9" y2="690.4" stroke="#ec4196" stroke-width="2.1"/>
<line x1="230.7" y1="670.5" x2="243.9" y2="670.5" stroke="#ec4196" stroke-width="2.1"/>
<line x1="230.7" y1="650.6" x2="243.9" y2="650.6" stroke="#ec4196" stroke-width="2.1"/>
<path d="M231.7 713.2V710.9h2V709.8h2V711.1h2V710.1h2V708.5h2V710.6h2V709.9h2V710.6h2V710.0h2V710.5h2V710.2h2V709.4h2V709.3h2V710.8h2V709.8h2V709.5h2V710.5h2V710.2h2V710.8h2V710.9h2V713.2ZM275.7 713.2V710.8h2V709.8h2V710.0h2V710.6h2V710.3h2V710.5h2V711.0h1V713.2ZM292.7 713.2V709.7h2V709.9h2V710.0h2V709.2h2V710.8h2V707.4h2V710.8h2V708.6h2V710.0h2V709.8h2V710.0h2V709.9h2V708.7h2V710.2h2V710.8h2V710.8h2V710.5h2V710.4h2V709.4h2V710.8h2V709.5h2V710.2h2V709.1h2V710.0h2V709.0h2V710.0h1V713.2ZM347.7 713.2V710.1h2V708.5h2V708.9h2V710.0h2V709.6h2V711.0h2V710.2h2V710.3h2V710.2h2V710.5h2V710.5h2V710.0h2V710.7h2V710.6h2V710.2h2V709.2h2V709.6h2V709.8h2V709.4h2V710.7h2V710.6h2V710.3h2V709.7h2V710.0h2V710.4h2V713.2ZM401.7 713.2V708.6h2V709.4h2V709.9h2V709.8h2V710.2h1V713.2ZM414.7 713.2V709.6h2V709.2h2V710.0h2V709.5h2V710.1h2V709.4h2V709.1h2V708.4h2V710.0h2V709.3h2V708.7h2V709.8h2V708.8h2V709.1h2V707.9h2V708.4h2V708.0h2V709.6h2V709.5h2V709.3h2V709.6h2V709.1h2V709.5h2V709.8h2V709.0h2V708.8h2V710.3h2V709.5h2V710.0h2V709.8h2V708.6h2V709.9h2V708.8h2V709.5h2V707.7h2V707.9h2V706.8h2V705.8h2V704.1h2V703.0h2V701.4h2V701.6h2V700.5h2V699.4h2V697.6h2V701.5h2V699.5h2V699.2h2V703.4h2V701.7h2V702.1h2V704.0h2V704.7h2V706.6h2V706.4h2V708.1h2V708.9h2V708.8h2V709.0h2V709.9h2V709.7h2V710.1h2V708.6h2V709.7h2V710.2h2V710.3h2V710.6h2V709.9h2V710.4h2V708.7h2V710.5h2V710.9h2V710.2h2V709.9h2V710.0h2V710.4h2V710.8h2V707.7h2V710.1h2V710.5h2V710.2h2V710.5h2V709.3h2V710.8h2V710.2h2V710.8h2V710.1h2V710.0h2V709.8h2V709.9h2V710.6h2V709.3h2V709.9h2V708.8h2V710.4h2V709.2h2V710.5h2V709.2h2V710.8h2V709.0h2V710.1h2V710.4h2V710.2h2V709.4h2V708.3h2V710.9h2V709.2h2V709.7h2V709.6h2V707.5h2V708.8h2V708.9h2V708.3h2V706.1h2V706.0h2V705.4h2V705.4h2V704.6h2V704.7h2V706.1h2V706.2h2V707.7h2V705.9h2V706.6h2V708.6h2V709.2h2V708.8h2V709.3h2V709.4h2V709.1h2V710.0h2V710.5h2V710.6h2V709.5h2V709.5h2V710.6h2V710.0h2V709.5h2V709.0h2V709.4h2V709.7h2V710.7h2V710.9h2V710.1h2V710.5h2V710.0h2V709.5h2V710.4h2V709.4h2V710.1h2V709.5h2V711.0h2V708.4h2V709.7h2V710.6h2V709.9h2V709.9h2V710.3h2V710.1h2V710.1h2V710.8h2V710.4h2V709.7h2V711.0h2V709.0h2V709.1h2V709.7h2V710.5h2V709.5h2V710.6h2V711.2h2V709.8h2V711.1h2V710.6h2V710.2h2V710.3h2V710.0h2V710.1h2V709.9h2V713.2ZM776.7 713.2V710.2h2V710.6h2V709.4h2V711.0h2V710.6h2V711.0h2V708.5h2V709.7h2V710.8h2V709.2h2V710.2h2V713.2Z" fill="#ec4196"/>
<rect x="224.7" y="726" width="7" height="74.1" fill="#333333"/>
<line x1="230.7" y1="795" x2="243.9" y2="795" stroke="#333333" stroke-width="2.1"/>
<line x1="230.7" y1="775.1" x2="243.9" y2="775.1" stroke="#333333" stroke-width="2.1"/>
<line x1="230.7" y1="755.2" x2="243.9" y2="755.2" stroke="#333333" stroke-width="2.1"/>
<line x1="230.7" y1="735.3" x2="243.9" y2="735.3" stroke="#333333" stroke-width="2.1"/>
<path d="M231.7 797.9V795.1h2V795.4h2V795.6h2V795.1h2V795.0h2V795.0h2V795.6h2V795.3h2V795.4h2V794.8h2V795.1h2V795.5h2V795.1h2V795.0h2V794.9h2V795.4h2V794.9h2V795.5h2V795.2h2V795.5h2V795.5h1V797.9ZM275.7 797.9V795.3h2V794.4h2V794.8h2V794.8h2V795.4h2V795.8h2V795.4h2V795.7h2V795.3h2V795.2h2V797.9ZM302.7 797.9V795.8h2V794.9h2V795.7h2V795.1h2V795.2h2V795.0h2V794.8h2V795.6h2V795.1h2V795.5h2V795.4h2V795.7h2V794.3h2V795.8h2V794.2h2V795.5h2V795.2h2V797.9ZM339.7 797.9V794.9h2V794.7h2V795.2h2V795.6h2V795.2h2V797.9ZM354.7 797.9V794.8h2V795.2h2V795.4h2V795.6h2V795.5h2V795.1h2V795.3h2V794.9h2V795.8h2V795.4h2V795.4h2V795.8h2V797.9ZM386.7 797.9V795.6h2V794.6h2V794.6h2V795.3h2V797.9ZM401.7 797.9V794.7h2V795.4h2V795.2h2V795.3h2V795.7h2V795.0h2V795.1h2V794.9h2V795.5h2V794.5h2V795.5h2V795.3h2V794.9h2V795.3h2V794.7h2V795.2h2V794.7h2V795.0h2V795.5h2V795.3h2V795.4h2V795.2h2V795.4h2V795.0h2V795.4h2V795.1h2V794.9h2V795.4h2V795.1h2V794.9h2V794.8h2V795.1h2V795.4h2V794.6h2V795.2h2V797.9ZM479.7 797.9V794.6h2V795.4h2V795.0h2V795.9h2V795.1h2V795.1h2V795.5h2V795.0h2V795.1h2V795.5h2V795.2h2V795.2h2V794.7h2V795.5h2V795.4h2V795.2h2V795.5h2V795.7h2V795.3h2V795.4h2V795.1h2V795.0h2V795.0h2V795.6h2V795.9h1V797.9ZM535.7 797.9V795.8h2V795.2h2V794.9h2V795.3h2V795.4h2V795.0h2V795.1h2V794.9h2V795.1h2V795.2h2V794.8h2V795.2h2V795.1h2V795.1h2V795.3h2V795.4h2V795.0h2V795.3h2V795.8h2V795.7h2V794.6h2V795.5h2V795.0h2V794.5h2V795.6h2V795.1h2V795.4h2V795.3h2V795.0h2V795.2h2V795.5h2V795.4h2V795.7h2V795.0h2V795.2h2V797.9ZM609.7 797.9V795.1h2V795.2h2V795.5h2V795.6h2V795.2h2V795.2h2V795.4h2V795.3h2V795.0h2V795.7h2V794.4h2V795.0h2V795.1h2V795.5h2V794.7h2V794.7h2V794.3h2V794.7h2V794.4h2V793.9h2V793.3h2V792.1h2V789.5h2V784.2h2V781.1h2V777.0h2V771.9h2V778.9h2V782.4h2V789.2h2V792.1h2V793.2h2V793.6h2V794.5h2V794.3h2V794.3h2V793.7h2V795.2h2V795.3h2V795.7h2V794.9h2V795.2h2V795.2h2V795.2h2V795.0h2V795.2h2V795.6h2V794.9h2V795.4h2V797.9ZM713.7 797.9V795.8h2V795.1h2V795.4h2V795.3h2V795.0h2V795.5h2V795.2h2V795.0h2V795.2h2V795.4h2V794.9h2V795.1h2V795.7h2V794.7h2V795.0h2V795.4h2V795.5h2V794.9h2V794.3h2V795.4h2V795.5h2V795.4h2V795.6h2V794.9h2V795.4h2V795.7h2V794.9h2V794.5h2V794.7h2V795.3h2V794.3h2V794.3h2V794.8h2V795.5h2V795.6h2V795.3h2V795.4h2V795.2h2V795.8h2V795.1h2V795.3h2V794.8h2V795.2h1V797.9Z" fill="#333333"/>
<rect x="224.7" y="809.9" width="7" height="74.1" fill="#3953a4"/>
<line x1="230.7" y1="879.5" x2="243.9" y2="879.5" stroke="#3953a4" stroke-width="2.1"/>
<line x1="230.7" y1="859.6" x2="243.9" y2="859.6" stroke="#3953a4" stroke-width="2.1"/>
<line x1="230.7" y1="839.7" x2="243.9" y2="839.7" stroke="#3953a4" stroke-width="2.1"/>
<line x1="230.7" y1="819.8" x2="243.9" y2="819.8" stroke="#3953a4" stroke-width="2.1"/>
<path d="M231.7 882.4V879.7h2V879.1h2V878.9h2V879.9h2V879.0h2V880.0h2V880.1h2V879.1h2V879.3h2V879.2h2V878.9h2V880.2h2V879.7h2V880.2h2V878.9h2V880.1h2V879.8h2V879.9h2V879.8h2V880.0h2V879.9h2V880.1h2V879.6h2V879.9h2V879.9h2V880.3h1V882.4ZM290.7 882.4V879.8h2V880.1h2V879.2h2V880.2h2V879.8h2V879.2h2V880.0h2V879.8h2V880.0h2V879.5h2V879.8h2V879.2h2V879.8h2V879.7h2V879.8h2V879.7h2V879.4h2V879.0h2V880.0h1V882.4ZM357.7 882.4V879.2h2V878.8h2V879.6h2V880.0h2V879.2h2V879.6h2V879.4h2V879.3h2V880.1h2V879.5h2V879.8h2V880.0h2V879.8h2V879.8h2V879.6h2V879.8h2V879.5h2V880.1h2V880.1h2V880.2h2V882.4ZM402.7 882.4V879.1h2V879.9h2V879.3h2V880.0h2V880.1h2V880.1h2V879.9h2V879.3h2V879.9h2V879.8h2V879.5h2V879.8h1V882.4ZM436.7 882.4V880.0h2V879.5h2V879.0h2V879.8h2V879.1h2V879.5h2V880.2h2V879.5h2V880.1h2V879.4h2V880.2h2V879.8h2V879.2h2V879.5h2V879.0h2V879.8h2V879.0h2V878.5h2V878.9h2V877.5h2V877.3h2V876.0h2V873.9h2V870.2h2V865.6h2V858.0h2V857.6h2V846.6h2V849.1h2V842.9h2V847.4h2V852.7h2V853.8h2V855.5h2V853.2h2V845.1h2V845.5h2V834.8h2V843.2h2V848.5h2V849.6h2V862.9h2V869.8h2V873.5h2V875.1h2V873.1h2V868.7h2V869.8h2V874.2h2V878.1h2V879.4h2V879.6h2V879.9h2V880.0h2V879.4h2V879.6h2V878.8h2V880.1h2V880.0h2V879.5h2V879.5h2V879.8h2V879.3h2V879.3h2V878.4h2V879.5h2V879.5h2V879.1h2V879.3h2V879.9h2V880.3h1V882.4ZM603.7 882.4V880.1h2V879.8h2V879.8h2V879.5h2V880.0h2V880.1h2V879.8h2V879.9h2V879.3h2V879.3h2V879.7h2V880.3h2V879.2h2V879.3h2V879.6h2V880.2h2V880.2h2V879.3h2V880.1h2V880.2h2V879.6h2V879.7h2V879.4h2V879.4h2V879.5h2V879.4h2V879.3h2V879.1h2V879.6h2V879.4h2V879.6h2V880.2h2V879.9h2V879.4h2V879.4h2V880.0h2V878.9h2V879.7h2V879.3h2V879.0h2V879.3h2V879.6h2V879.4h2V878.7h2V879.8h2V879.4h2V879.0h2V879.8h2V879.5h2V879.6h2V880.0h2V880.0h2V880.3h2V878.7h2V879.3h2V879.5h2V879.2h2V879.5h2V878.2h2V880.2h2V879.1h2V878.4h2V879.7h2V880.2h2V882.4ZM738.7 882.4V878.6h2V879.8h2V879.0h2V879.8h2V879.4h2V879.8h2V879.6h2V879.9h2V879.7h2V879.8h2V879.4h2V879.9h2V879.9h2V879.7h2V879.8h2V879.4h2V879.5h2V879.6h2V879.9h2V879.7h2V879.3h2V879.8h2V879.3h2V879.5h2V879.9h2V879.9h2V879.9h2V880.2h2V879.2h2V879.8h2V882.4Z" fill="#3953a4"/>
<rect x="224.7" y="893.8" width="7" height="74.1" fill="#e8202a"/>
<line x1="230.7" y1="963.1" x2="243.9" y2="963.1" stroke="#e8202a" stroke-width="2.1"/>
<line x1="230.7" y1="943.2" x2="243.9" y2="943.2" stroke="#e8202a" stroke-width="2.1"/>
<line x1="230.7" y1="923.3" x2="243.9" y2="923.3" stroke="#e8202a" stroke-width="2.1"/>
<line x1="230.7" y1="903.4" x2="243.9" y2="903.4" stroke="#e8202a" stroke-width="2.1"/>
<path d="M231.7 966.0V962.8h2V963.1h2V963.5h2V962.9h2V963.6h2V963.6h2V963.3h2V963.4h2V963.8h2V962.4h2V963.0h2V963.3h2V963.4h2V963.1h2V963.0h2V963.1h2V963.6h2V963.7h2V963.7h2V963.6h2V963.3h2V963.5h2V963.7h2V962.9h2V963.3h2V963.7h2V963.5h2V962.8h2V963.4h2V963.0h2V963.5h2V963.7h2V962.9h2V963.8h2V963.4h2V963.9h2V963.0h2V963.4h2V963.4h2V963.6h2V963.6h2V963.4h2V962.6h2V963.0h2V963.9h2V963.5h2V963.0h2V963.2h2V963.8h2V963.7h2V963.1h2V963.5h2V963.5h2V963.8h2V962.9h2V963.0h2V962.7h2V963.7h2V963.3h2V963.3h2V963.9h2V962.8h2V963.7h2V963.1h2V962.8h2V963.5h2V963.1h2V962.7h2V963.5h2V963.7h2V962.5h2V963.2h2V962.8h2V963.2h2V963.4h2V963.2h2V963.4h2V963.6h2V963.0h2V962.4h2V963.3h2V963.7h2V962.9h2V963.7h1V966.0ZM406.7 966.0V963.2h2V963.6h2V963.6h2V963.2h2V962.9h2V963.2h2V963.9h2V963.2h2V963.5h2V963.4h2V962.7h2V963.3h2V963.6h2V963.3h2V963.8h2V963.3h1V966.0ZM446.7 966.0V963.8h2V962.8h2V963.5h2V963.1h2V963.2h2V962.7h2V962.2h2V963.6h2V962.6h2V963.2h2V963.1h2V963.1h2V963.2h2V963.7h2V963.1h2V963.6h2V963.4h2V963.6h2V963.5h2V963.4h2V963.0h2V963.1h2V962.6h2V961.0h2V960.4h2V959.6h2V959.5h2V960.1h2V959.9h2V961.8h2V962.6h2V963.2h2V962.7h2V963.7h2V963.2h2V963.6h2V963.6h2V963.6h2V963.7h2V963.9h2V963.0h2V963.6h2V963.1h2V963.7h2V963.1h2V963.6h2V962.7h2V963.5h2V962.9h2V963.2h2V963.9h2V963.5h2V962.2h2V962.4h2V962.9h2V962.8h2V963.5h2V962.2h2V963.1h2V963.7h2V963.2h2V962.4h2V966.0ZM579.7 966.0V963.1h2V963.6h2V962.3h2V963.3h2V962.4h2V963.1h2V963.0h2V963.1h2V963.9h2V963.7h2V963.9h2V963.6h2V962.9h2V963.5h2V963.3h2V963.1h2V963.0h2V963.2h2V962.5h2V963.4h2V963.1h2V963.0h2V963.7h2V963.4h2V962.6h2V963.3h2V962.5h2V962.2h2V961.7h2V961.1h2V959.4h2V958.7h2V955.3h2V952.5h2V945.6h2V943.8h2V945.6h2V954.1h2V957.1h2V960.6h2V962.3h2V962.8h2V963.1h2V962.7h2V963.2h2V962.5h2V963.4h2V963.3h2V962.8h2V963.6h2V963.2h2V963.7h2V963.7h2V963.4h2V963.6h2V962.7h2V962.9h2V963.7h2V963.3h2V963.1h2V963.2h2V963.6h2V963.3h2V963.9h1V966.0ZM709.7 966.0V962.8h2V962.8h2V963.7h2V963.6h2V963.9h2V963.8h1V966.0ZM725.7 966.0V963.1h2V963.4h2V963.0h2V963.7h2V963.1h2V963.3h2V962.7h2V963.6h2V962.5h2V966.0ZM758.7 966.0V963.6h2V963.1h2V962.6h2V963.0h2V963.5h2V963.3h2V963.8h2V963.3h2V963.2h2V963.0h2V963.5h2V963.1h2V963.6h2V963.3h2V963.3h2V963.7h2V963.9h2V963.7h2V963.1h2V962.9h2V966.0Z" fill="#e8202a"/>
<rect x="817.5" y="558.2" width="7" height="74.1" fill="#4a91d0"/>
<line x1="823.5" y1="629" x2="836.7" y2="629" stroke="#4a91d0" stroke-width="2.1"/>
<line x1="823.5" y1="609.1" x2="836.7" y2="609.1" stroke="#4a91d0" stroke-width="2.1"/>
<line x1="823.5" y1="589.2" x2="836.7" y2="589.2" stroke="#4a91d0" stroke-width="2.1"/>
<line x1="823.5" y1="569.3" x2="836.7" y2="569.3" stroke="#4a91d0" stroke-width="2.1"/>
<path d="M824.5 631.9V629.7h2V628.1h2V627.6h2V627.2h2V628.1h2V628.4h2V628.9h2V629.2h2V629.5h2V629.5h2V627.8h2V628.8h2V628.7h2V628.7h2V628.4h2V628.0h2V628.6h2V628.2h2V628.8h2V628.4h2V629.5h2V628.6h2V628.6h2V628.7h2V629.3h2V627.9h2V628.4h2V628.0h2V629.1h2V628.1h2V628.1h2V629.4h2V628.7h2V629.6h2V629.1h2V629.3h2V628.9h2V629.0h2V628.3h2V628.9h2V628.3h2V629.5h2V628.1h2V628.9h2V629.2h2V628.2h2V627.6h2V628.6h2V629.4h2V627.2h2V628.0h2V629.2h2V629.1h2V628.5h2V628.3h2V627.9h2V628.9h2V628.8h2V628.6h2V627.5h2V627.6h2V628.9h2V629.3h2V627.0h2V628.0h2V626.7h2V627.0h2V625.1h2V624.4h2V625.2h2V624.6h2V625.7h2V625.0h2V625.9h2V626.8h2V627.1h2V628.0h2V627.6h2V627.5h2V626.7h2V627.6h2V628.9h2V629.0h2V628.5h2V628.7h2V628.7h2V628.9h2V629.2h2V629.7h2V627.7h2V628.0h2V629.5h2V628.5h2V629.5h2V627.8h2V629.8h2V628.9h2V629.1h2V628.3h2V627.9h2V629.0h2V628.5h2V629.2h2V628.6h2V628.6h2V629.1h1V631.9ZM1038.5 631.9V629.5h2V628.0h2V628.2h2V628.4h2V628.9h2V627.5h2V629.2h2V627.1h2V629.1h2V629.0h2V628.4h2V627.8h2V626.3h2V626.9h2V625.9h2V625.2h2V622.0h2V623.5h2V622.4h2V621.4h2V621.4h2V620.7h2V620.1h2V621.2h2V624.0h2V622.5h2V624.4h2V626.5h2V625.9h2V627.3h2V628.1h2V628.6h2V629.2h2V628.5h2V629.2h2V628.9h2V626.9h2V628.1h2V627.3h2V628.7h2V629.3h2V628.5h2V627.9h2V628.9h2V629.1h2V629.1h2V629.7h2V628.8h2V631.9ZM1138.5 631.9V628.6h2V628.6h2V628.3h2V628.7h2V629.3h2V628.6h2V629.0h2V628.3h2V629.7h2V628.7h2V627.5h2V627.4h2V627.2h2V628.8h2V628.4h2V628.6h2V629.4h2V628.5h2V627.9h2V629.6h2V627.1h2V628.7h2V627.2h2V627.9h2V627.1h2V627.6h2V627.0h2V631.9ZM1197.5 631.9V627.9h2V627.8h2V628.3h2V627.8h2V629.7h2V627.9h2V628.8h2V627.8h2V628.3h2V628.8h2V628.1h2V628.9h2V628.4h2V629.1h2V628.1h2V628.3h2V628.4h2V629.1h2V628.9h2V628.5h2V629.3h2V629.4h2V628.9h2V628.3h2V628.7h2V629.4h2V629.1h2V629.5h2V627.8h2V629.0h2V628.1h2V629.3h2V631.9ZM1265.5 631.9V628.2h2V627.3h2V628.6h2V628.2h2V629.3h2V628.8h2V627.4h2V628.2h2V628.9h2V628.7h2V628.3h2V628.6h2V628.3h2V627.3h2V628.5h2V628.0h2V628.8h2V629.7h2V628.6h2V628.3h2V627.7h2V629.8h2V628.6h2V629.2h2V627.5h2V629.0h2V628.2h2V628.8h2V629.8h2V628.6h2V628.5h2V627.9h2V629.1h2V629.5h2V629.3h2V628.4h2V627.7h2V629.2h2V627.9h2V628.0h2V628.3h2V628.3h2V628.2h2V629.1h2V629.0h2V629.2h2V627.9h2V629.4h2V629.2h2V629.8h2V629.6h2V629.2h2V628.9h2V628.9h1V631.9ZM1374.5 631.9V628.6h2V628.8h2V627.7h2V629.3h2V628.3h2V627.8h2V629.3h2V629.5h2V628.2h2V628.7h2V628.8h2V629.5h2V631.9Z" fill="#4a91d0"/>
<rect x="817.5" y="642.3" width="7" height="74.1" fill="#ec4196"/>
<line x1="823.5" y1="710.3" x2="836.7" y2="710.3" stroke="#ec4196" stroke-width="2.1"/>
<line x1="823.5" y1="690.4" x2="836.7" y2="690.4" stroke="#ec4196" stroke-width="2.1"/>
<line x1="823.5" y1="670.5" x2="836.7" y2="670.5" stroke="#ec4196" stroke-width="2.1"/>
<line x1="823.5" y1="650.6" x2="836.7" y2="650.6" stroke="#ec4196" stroke-width="2.1"/>
<path d="M824.5 713.2V709.0h2V710.4h2V709.4h2V709.7h2V709.9h2V709.9h2V710.2h2V709.8h2V710.4h2V709.0h2V710.6h2V709.5h2V708.8h2V713.2ZM854.5 713.2V709.9h2V710.7h2V710.0h2V710.0h2V710.5h2V710.8h2V710.8h2V710.9h2V710.7h2V709.1h2V710.3h2V709.8h2V709.4h2V710.2h2V710.4h2V710.2h2V710.6h2V710.3h2V709.3h2V709.8h2V709.4h2V710.0h2V710.5h2V710.8h2V710.4h2V710.2h2V710.7h2V710.3h2V710.0h2V710.2h2V708.6h2V710.6h2V710.7h2V710.2h2V710.0h2V710.2h2V708.9h2V710.2h2V709.9h2V709.9h2V710.2h2V710.2h2V707.9h2V709.4h2V708.8h2V708.4h2V708.1h2V707.9h2V707.2h2V706.1h2V705.2h2V703.0h2V704.6h2V703.3h2V702.8h2V701.6h2V700.0h2V701.3h2V702.7h2V701.1h2V700.0h2V701.6h2V701.8h2V701.5h2V702.6h2V703.0h2V703.5h2V704.5h2V704.0h2V705.1h2V705.6h2V705.1h2V704.9h2V707.0h2V706.5h2V706.5h2V707.7h2V705.9h2V706.9h2V707.3h2V707.2h2V708.5h1V713.2ZM1020.5 713.2V707.1h2V707.7h2V707.7h2V707.1h2V707.5h2V707.3h2V707.9h2V708.3h2V707.4h2V705.9h2V707.4h2V707.0h2V707.1h2V707.4h2V704.9h2V706.0h2V707.1h2V705.3h2V705.7h2V702.9h2V703.2h2V701.5h2V700.3h2V699.8h2V694.5h2V690.2h2V687.6h2V681.3h2V681.1h2V680.2h2V675.7h2V676.9h2V683.5h2V688.9h2V691.3h2V694.7h2V697.6h2V701.2h2V701.6h2V703.2h2V704.7h2V705.6h2V708.1h2V707.4h2V707.5h2V708.4h2V709.5h2V708.8h2V709.6h2V709.5h2V710.3h2V710.5h2V709.9h2V710.2h2V709.7h2V710.8h2V710.6h2V709.3h2V709.6h2V710.2h2V709.6h2V710.2h2V709.4h2V709.2h2V710.4h2V710.4h2V710.4h2V711.1h2V709.8h2V710.6h2V708.8h2V710.4h2V709.9h2V708.9h2V710.2h2V710.4h2V709.8h2V708.9h2V709.9h2V710.7h2V709.8h2V710.0h2V707.8h2V707.2h2V705.1h2V705.0h2V705.3h2V704.2h2V706.0h2V706.0h2V708.3h2V707.3h2V709.8h2V710.2h2V710.4h2V708.8h2V709.2h2V710.7h2V710.1h2V710.8h2V710.9h2V710.5h2V709.8h2V709.5h2V710.1h2V709.3h2V709.5h2V709.5h2V710.6h2V709.6h2V709.3h2V708.3h2V709.6h2V709.7h2V708.6h2V709.6h2V710.3h2V709.7h2V709.6h2V709.9h2V710.7h2V713.2ZM1264.5 713.2V711.1h2V710.7h2V710.6h2V710.0h2V710.7h2V710.4h2V710.1h2V708.4h2V709.4h2V710.0h2V710.7h2V710.9h2V710.1h2V710.7h2V710.5h2V709.1h2V710.8h2V710.7h2V710.3h2V710.4h2V709.6h2V710.3h2V710.3h2V709.4h2V710.4h2V710.7h2V709.8h2V710.4h2V708.4h2V710.6h2V709.8h2V708.6h2V709.5h2V710.7h2V709.1h2V710.9h2V710.1h2V709.3h2V710.4h2V709.7h2V710.6h2V708.7h2V710.8h2V711.0h2V709.7h2V708.6h2V709.1h2V709.8h2V710.3h2V709.7h2V710.6h2V710.8h2V710.2h2V710.8h2V709.5h2V710.3h2V710.0h2V709.7h2V710.1h2V710.6h2V710.5h2V709.3h2V710.5h2V710.9h2V709.1h2V710.5h2V710.4h2V713.2Z" fill="#ec4196"/>
<rect x="817.5" y="726" width="7" height="74.1" fill="#333333"/>
<line x1="823.5" y1="795" x2="836.7" y2="795" stroke="#333333" stroke-width="2.1"/>
<line x1="823.5" y1="775.1" x2="836.7" y2="775.1" stroke="#333333" stroke-width="2.1"/>
<line x1="823.5" y1="755.2" x2="836.7" y2="755.2" stroke="#333333" stroke-width="2.1"/>
<line x1="823.5" y1="735.3" x2="836.7" y2="735.3" stroke="#333333" stroke-width="2.1"/>
<path d="M824.5 797.9V794.8h2V794.9h2V795.1h2V794.8h2V794.5h2V795.6h2V795.3h2V795.5h2V795.3h2V795.8h2V795.2h2V794.9h2V794.7h2V795.9h1V797.9ZM854.5 797.9V795.4h2V794.4h2V795.6h2V794.5h2V794.9h2V795.4h1V797.9ZM871.5 797.9V795.3h2V795.0h2V794.8h2V795.4h2V795.3h2V797.9ZM886.5 797.9V794.8h2V795.2h2V795.1h2V795.0h2V795.4h2V794.8h2V795.2h2V794.8h2V797.9ZM908.5 797.9V794.5h2V795.3h2V795.4h2V794.9h2V794.9h2V795.2h2V794.7h2V795.4h2V795.4h2V795.0h2V795.5h2V795.6h2V794.5h2V795.1h2V794.9h2V795.3h2V794.3h2V794.7h2V795.8h2V795.0h2V795.3h2V794.3h2V794.9h2V795.3h2V795.3h2V795.6h2V795.4h2V794.7h2V795.6h1V797.9ZM971.5 797.9V795.5h2V795.6h2V795.2h2V794.9h2V795.0h2V795.7h2V795.6h2V795.1h1V797.9ZM993.5 797.9V795.5h2V795.1h2V794.9h2V795.5h2V795.0h2V794.8h2V795.6h2V795.8h2V795.8h2V795.4h2V795.0h2V795.4h2V795.2h2V795.6h2V795.5h2V795.0h2V794.9h2V795.3h2V795.0h2V795.0h2V795.4h2V795.3h2V795.9h2V794.9h2V795.8h2V793.9h2V795.3h2V795.5h2V795.9h2V795.5h2V795.2h2V795.6h2V794.8h2V795.0h2V795.2h2V794.7h2V794.4h2V794.2h2V793.3h2V792.2h2V791.8h2V790.9h2V790.0h2V792.1h2V792.1h2V792.9h2V794.1h2V795.0h2V795.3h2V794.3h2V794.3h2V795.3h2V795.1h2V795.8h2V795.5h2V794.8h2V795.3h2V794.9h2V795.0h2V795.7h1V797.9ZM1120.5 797.9V795.3h2V795.0h2V795.5h2V795.0h2V795.4h2V795.6h2V795.4h2V795.3h2V794.6h2V794.7h2V795.6h2V795.4h2V795.6h2V795.3h2V794.4h2V794.8h2V794.9h2V795.1h2V795.7h2V795.6h2V794.9h2V794.2h2V795.3h2V795.0h2V795.2h2V794.5h2V795.5h2V794.6h2V795.1h2V795.3h2V795.8h2V795.1h2V794.4h2V794.9h2V793.5h2V791.9h2V790.4h2V792.3h2V794.3h2V794.6h2V794.9h2V794.9h2V795.7h2V794.7h2V795.4h2V795.6h2V795.1h2V794.9h2V795.1h2V795.7h2V795.7h2V795.3h2V795.1h2V795.4h2V795.7h2V794.0h2V795.3h2V797.9ZM1242.5 797.9V795.7h2V795.2h2V794.7h2V793.9h2V794.8h2V794.9h2V795.1h2V795.4h2V795.5h2V795.3h2V795.1h2V794.8h2V795.3h2V795.3h2V794.9h2V795.8h2V794.8h2V795.1h2V794.6h2V795.6h2V795.2h2V795.3h2V794.7h2V795.7h2V795.1h2V795.4h2V794.7h2V795.4h2V795.7h2V795.7h2V797.9ZM1309.5 797.9V795.2h2V795.3h2V794.1h2V795.2h2V795.3h2V795.4h2V795.2h2V795.1h2V795.5h2V795.0h2V795.4h1V797.9ZM1337.5 797.9V795.3h2V795.4h2V795.4h2V795.2h2V795.1h2V795.2h2V795.4h2V794.8h2V795.0h2V795.5h2V795.8h2V797.9ZM1365.5 797.9V794.6h2V794.9h2V795.7h2V795.4h2V795.3h2V795.5h2V795.0h2V795.4h2V795.5h2V795.3h2V794.9h2V794.6h2V795.3h2V795.4h2V794.6h2V795.5h2V795.1h1V797.9Z" fill="#333333"/>
<rect x="817.5" y="809.9" width="7" height="74.1" fill="#3953a4"/>
<line x1="823.5" y1="879.5" x2="836.7" y2="879.5" stroke="#3953a4" stroke-width="2.1"/>
<line x1="823.5" y1="859.6" x2="836.7" y2="859.6" stroke="#3953a4" stroke-width="2.1"/>
<line x1="823.5" y1="839.7" x2="836.7" y2="839.7" stroke="#3953a4" stroke-width="2.1"/>
<line x1="823.5" y1="819.8" x2="836.7" y2="819.8" stroke="#3953a4" stroke-width="2.1"/>
<path d="M824.5 882.4V879.8h2V879.6h2V879.1h2V879.9h2V879.7h2V879.8h2V878.9h2V880.0h2V879.7h2V880.0h2V879.0h2V880.2h2V879.6h2V879.9h2V880.1h2V878.6h2V879.7h2V879.7h2V879.6h2V880.1h2V879.1h2V879.7h2V879.9h2V879.0h2V879.3h2V879.9h2V879.8h2V879.3h2V879.8h2V879.2h2V879.4h2V879.2h2V878.8h2V879.4h2V880.2h2V879.3h2V879.6h2V879.3h2V879.1h2V880.1h2V879.5h2V879.9h2V880.1h2V879.8h2V879.4h2V879.7h2V880.2h2V879.6h2V879.4h2V879.7h2V879.0h2V879.4h2V879.4h2V879.6h2V879.7h2V880.1h2V879.7h2V879.5h2V880.3h1V882.4ZM951.5 882.4V879.5h2V879.8h2V880.2h2V879.3h2V879.5h2V879.7h2V879.5h2V879.5h2V879.7h2V879.5h2V879.8h2V879.8h2V880.2h2V880.1h2V879.6h2V880.1h2V879.2h2V879.0h2V879.2h2V879.7h2V880.0h2V879.3h2V880.1h2V879.9h2V879.6h2V880.2h2V879.7h2V879.8h2V880.3h2V879.6h2V879.5h2V879.7h2V879.6h2V879.7h2V880.3h2V879.9h2V880.1h2V879.9h2V879.4h2V879.5h2V879.9h2V879.4h2V879.7h2V879.8h2V880.1h2V880.2h2V879.5h2V879.5h2V880.0h2V879.4h2V879.6h2V879.8h2V880.1h2V879.5h2V879.3h2V879.3h2V879.4h2V878.5h2V878.3h2V878.5h2V876.6h2V877.6h2V876.6h2V875.7h2V875.3h2V871.9h2V870.5h2V867.9h2V871.0h2V870.9h2V874.6h2V876.2h2V878.8h2V879.0h2V878.7h2V879.2h2V879.2h2V880.1h2V879.7h2V880.0h2V879.7h2V880.2h2V879.7h2V880.1h2V879.8h2V879.8h2V879.4h2V879.9h2V880.0h2V879.8h2V880.2h2V880.1h2V879.1h2V879.8h2V879.6h2V879.2h2V879.8h2V879.9h2V879.5h2V879.0h2V879.9h2V879.6h2V880.1h2V880.2h2V879.7h2V879.6h2V878.8h2V879.8h2V878.7h2V878.0h2V879.9h2V880.2h2V880.1h2V879.2h2V880.2h2V880.1h2V879.9h2V879.2h2V878.8h2V876.5h2V877.8h2V878.2h2V878.8h2V878.3h2V880.1h2V879.1h2V878.5h2V879.1h2V880.2h2V879.6h2V880.1h2V879.5h2V879.9h2V879.8h2V879.5h2V880.2h2V880.2h2V879.6h2V879.8h2V879.9h2V879.6h2V879.6h2V880.2h2V879.9h2V879.9h2V880.1h2V879.3h2V879.2h2V879.5h2V880.1h2V879.8h2V880.2h2V879.3h2V879.7h2V879.8h2V879.7h2V879.3h2V879.2h2V879.6h2V879.8h2V879.9h2V880.0h2V880.0h2V880.2h2V879.5h2V882.4ZM1287.5 882.4V879.5h2V878.8h2V879.8h2V878.8h2V879.3h2V879.6h2V880.0h2V879.8h2V880.0h2V879.7h2V879.2h2V879.2h2V879.7h2V880.2h2V879.7h2V880.3h2V878.6h2V880.4h2V878.8h2V880.1h2V879.8h2V880.1h2V879.4h2V880.1h2V879.3h2V880.1h2V879.4h2V879.2h2V879.0h2V879.7h2V879.4h2V879.6h2V880.3h1V882.4ZM1360.5 882.4V879.6h2V879.4h2V879.2h2V879.5h2V879.8h2V879.6h2V880.2h2V880.2h2V879.3h2V879.2h2V879.8h2V879.5h2V879.1h2V879.1h2V879.8h2V879.4h2V879.9h2V880.2h2V879.8h2V882.4Z" fill="#3953a4"/>
<rect x="817.5" y="893.8" width="7" height="74.1" fill="#e8202a"/>
<line x1="823.5" y1="963.1" x2="836.7" y2="963.1" stroke="#e8202a" stroke-width="2.1"/>
<line x1="823.5" y1="943.2" x2="836.7" y2="943.2" stroke="#e8202a" stroke-width="2.1"/>
<line x1="823.5" y1="923.3" x2="836.7" y2="923.3" stroke="#e8202a" stroke-width="2.1"/>
<line x1="823.5" y1="903.4" x2="836.7" y2="903.4" stroke="#e8202a" stroke-width="2.1"/>
<path d="M824.5 966.0V963.7h2V963.3h2V963.6h2V963.2h2V963.3h2V963.3h2V963.3h2V963.6h2V962.6h2V963.0h2V963.1h2V963.5h2V963.7h2V963.4h2V962.7h2V962.6h2V963.4h2V963.5h2V962.9h2V966.0ZM884.5 966.0V962.3h2V963.3h2V963.6h2V963.0h2V963.3h2V963.6h2V963.5h2V963.4h2V963.4h2V963.2h2V962.8h2V963.0h2V963.4h2V963.5h2V963.3h2V963.6h2V962.4h2V963.9h2V962.8h2V963.8h2V962.8h2V962.2h2V963.3h2V963.9h2V963.6h2V963.8h2V963.2h2V963.4h2V962.7h2V963.0h2V963.9h2V963.5h2V963.3h2V963.4h2V963.7h2V963.5h2V963.6h2V963.0h2V963.2h2V962.7h2V962.8h2V963.8h2V963.0h2V963.4h2V963.1h2V962.9h2V963.6h2V962.5h2V963.7h2V963.5h2V963.3h2V963.4h2V963.4h2V963.3h2V962.7h2V963.6h2V963.5h2V963.6h2V963.2h2V963.3h2V963.5h2V962.9h2V963.8h2V963.8h2V963.3h2V963.1h2V963.9h2V962.8h2V963.5h2V963.5h2V962.8h2V962.9h2V962.3h2V960.7h2V959.2h2V956.9h2V957.4h2V958.2h2V960.9h2V962.0h2V963.1h2V963.4h2V963.0h2V963.2h2V962.9h2V963.4h2V963.1h2V962.0h2V961.5h2V959.7h2V958.7h2V956.4h2V954.7h2V951.7h2V947.6h2V948.4h2V942.5h2V942.0h2V944.7h2V949.0h2V949.2h2V952.7h2V952.4h2V954.5h2V957.6h2V959.3h2V960.7h2V961.5h2V962.3h2V962.2h2V962.2h2V962.9h2V963.6h2V963.5h2V963.4h2V963.0h2V963.3h2V962.9h2V963.2h2V963.3h2V962.7h2V963.2h2V962.8h2V963.1h2V962.9h2V963.4h2V963.6h2V963.2h2V963.4h2V962.0h2V963.2h2V963.0h2V963.8h2V963.5h2V966.0ZM1156.5 966.0V963.1h2V963.1h2V963.7h2V962.9h2V963.7h2V962.8h2V963.5h2V963.8h2V963.0h2V963.2h2V963.4h2V963.0h2V963.5h2V963.7h2V963.6h2V963.0h2V961.7h2V958.3h2V953.7h2V955.2h2V957.9h2V962.2h2V962.2h2V963.5h2V962.5h2V963.5h2V963.4h2V963.5h2V963.2h2V963.2h2V962.6h2V963.3h2V963.2h2V963.6h2V963.5h2V963.4h2V963.6h2V963.2h2V963.9h2V963.6h2V963.3h2V962.9h2V963.3h2V963.8h1V966.0ZM1248.5 966.0V963.2h2V963.2h2V963.1h2V962.9h2V963.6h2V963.3h2V963.8h2V963.1h2V963.1h2V963.6h2V963.7h2V963.9h2V963.5h2V963.7h2V962.7h2V963.7h2V963.2h2V963.4h2V963.3h2V963.3h2V963.1h2V963.5h2V963.0h2V963.1h2V963.2h2V963.2h2V963.4h2V963.7h2V963.3h2V963.0h2V963.6h1V966.0ZM1319.5 966.0V963.3h2V963.5h2V963.1h2V966.0ZM1332.5 966.0V963.0h2V963.8h2V963.4h2V963.2h2V963.1h2V963.3h2V962.9h2V963.8h2V962.4h2V962.5h2V963.2h1V966.0ZM1356.5 966.0V963.0h2V963.2h2V963.6h2V962.8h2V963.6h2V963.1h2V963.2h2V963.0h2V963.5h2V963.3h2V963.4h2V962.0h2V963.9h2V963.6h2V963.9h2V963.6h2V963.3h2V963.1h2V963.2h2V963.6h2V963.8h2V966.0Z" fill="#e8202a"/>
<rect x="1419.6" y="558.2" width="7" height="74.1" fill="#4a91d0"/>
<line x1="1425.6" y1="629" x2="1438.8" y2="629" stroke="#4a91d0" stroke-width="2.1"/>
<line x1="1425.6" y1="609.1" x2="1438.8" y2="609.1" stroke="#4a91d0" stroke-width="2.1"/>
<line x1="1425.6" y1="589.2" x2="1438.8" y2="589.2" stroke="#4a91d0" stroke-width="2.1"/>
<line x1="1425.6" y1="569.3" x2="1438.8" y2="569.3" stroke="#4a91d0" stroke-width="2.1"/>
<path d="M1426.6 631.9V627.8h2V627.6h2V627.9h2V628.7h2V627.4h2V628.1h2V628.7h2V629.7h2V628.5h2V629.5h2V628.5h2V629.3h2V628.5h2V629.3h2V629.1h2V629.8h2V628.5h2V627.9h2V628.0h2V628.5h2V629.3h2V628.9h2V628.9h2V628.5h2V628.6h2V629.5h2V627.4h2V628.6h2V628.7h2V628.0h2V629.1h1V631.9ZM1489.6 631.9V628.9h2V629.2h2V627.9h2V627.9h2V629.2h2V629.1h2V628.7h2V629.2h2V629.8h2V628.1h2V628.6h2V628.3h2V626.7h2V628.8h2V628.3h2V629.1h2V628.6h2V628.4h2V628.4h2V629.4h2V629.1h2V629.0h2V628.6h2V627.4h2V628.0h2V628.5h2V628.7h2V629.4h2V628.9h2V628.0h2V629.0h2V628.9h2V628.5h2V628.3h2V629.6h2V629.0h2V629.1h2V628.4h2V628.9h2V627.6h2V628.9h2V629.2h2V626.7h2V628.9h2V628.7h2V629.2h2V629.3h2V626.6h2V628.4h2V627.7h2V629.4h2V628.6h2V629.5h2V629.2h2V629.5h2V629.1h2V629.1h2V629.7h2V628.7h2V627.0h2V627.4h2V626.7h2V626.5h2V626.0h2V623.1h2V622.6h2V618.1h2V620.3h2V618.5h2V620.2h2V618.3h2V622.0h2V622.3h2V625.0h2V627.1h2V627.3h2V626.9h2V627.3h2V627.1h2V626.6h2V627.3h2V625.5h2V626.9h2V628.1h2V626.9h2V627.7h2V628.0h2V627.3h2V628.3h2V628.3h2V627.6h2V627.0h2V627.2h2V626.0h2V623.5h2V620.9h2V620.5h2V616.7h2V614.2h2V615.4h2V609.2h2V610.2h2V608.6h2V616.0h2V615.7h2V620.3h2V619.1h2V623.8h2V626.4h2V627.8h2V627.9h2V629.2h2V628.9h2V626.9h2V627.2h2V628.1h2V627.5h2V628.2h2V628.1h2V628.8h2V628.1h2V628.8h2V627.9h2V629.7h2V629.7h2V628.9h2V628.9h2V628.5h2V629.5h2V629.3h2V628.4h2V627.9h2V627.9h2V629.7h2V627.9h2V629.3h2V629.4h2V629.4h2V629.0h2V628.3h2V629.1h2V628.6h2V628.5h2V629.2h2V629.0h2V628.0h2V629.2h2V628.3h2V629.0h2V628.5h2V629.1h2V629.7h2V629.6h2V631.9ZM1799.6 631.9V629.5h2V628.3h2V627.9h2V629.3h2V629.1h2V628.5h2V629.8h1V631.9ZM1817.6 631.9V629.0h2V627.7h2V628.7h2V629.8h2V628.8h2V629.2h2V629.2h2V629.0h2V628.1h2V628.5h2V628.8h2V628.3h2V627.8h2V628.5h2V628.3h2V628.2h2V629.2h2V629.7h2V629.5h2V628.2h2V628.6h2V629.1h2V628.6h2V629.0h2V628.2h2V629.2h2V627.7h2V628.2h2V631.9ZM1875.6 631.9V628.7h2V629.0h2V629.1h2V629.1h2V629.0h2V628.7h2V628.3h2V629.0h2V629.7h2V627.8h2V628.9h2V628.8h2V628.9h2V629.6h2V628.1h2V628.7h2V628.9h2V628.0h2V628.7h2V628.9h1V631.9ZM1917.6 631.9V628.8h2V629.1h2V628.7h2V628.3h2V628.9h2V629.5h2V628.9h2V629.5h2V628.6h2V629.0h2V628.6h2V628.6h2V628.7h2V629.0h2V628.9h2V629.0h2V629.0h2V628.0h2V627.6h2V628.4h2V628.9h2V628.8h2V628.3h2V628.5h2V629.2h2V629.0h2V628.7h2V629.4h2V627.6h2V629.4h2V629.3h2V628.7h2V629.6h2V628.7h2V629.2h2V628.9h1V631.9Z" fill="#4a91d0"/>
<rect x="1419.6" y="642.3" width="7" height="74.1" fill="#ec4196"/>
<line x1="1425.6" y1="710.3" x2="1438.8" y2="710.3" stroke="#ec4196" stroke-width="2.1"/>
<line x1="1425.6" y1="690.4" x2="1438.8" y2="690.4" stroke="#ec4196" stroke-width="2.1"/>
<line x1="1425.6" y1="670.5" x2="1438.8" y2="670.5" stroke="#ec4196" stroke-width="2.1"/>
<line x1="1425.6" y1="650.6" x2="1438.8" y2="650.6" stroke="#ec4196" stroke-width="2.1"/>
<path d="M1426.6 713.2V710.3h2V710.3h2V710.1h2V709.5h2V709.6h2V710.1h2V709.1h2V710.5h2V710.9h2V711.0h2V710.2h2V708.6h2V709.7h2V710.7h2V710.4h2V710.5h2V710.0h2V710.8h2V709.8h2V710.3h2V710.3h2V710.6h2V711.1h1V713.2ZM1474.6 713.2V710.6h2V709.0h2V710.2h2V710.5h2V710.3h2V710.9h2V710.2h2V710.5h2V710.4h2V711.0h2V709.7h2V709.6h2V709.9h2V709.8h2V710.2h2V709.6h2V710.8h2V709.8h2V710.1h2V709.7h2V710.2h2V709.5h2V709.9h2V710.5h2V710.5h2V710.7h1V713.2ZM1529.6 713.2V710.9h2V709.4h2V710.5h2V709.7h2V710.3h2V709.4h2V710.5h2V713.2ZM1546.6 713.2V710.8h2V711.1h2V710.1h2V710.2h2V710.2h2V710.6h2V710.9h2V710.1h2V709.5h2V711.0h2V710.3h2V710.1h2V708.3h2V710.1h2V709.5h2V708.6h2V709.0h2V709.5h2V710.3h2V710.8h2V710.5h2V710.3h2V709.8h2V710.0h2V711.0h2V710.9h2V710.1h2V709.6h2V710.4h2V710.8h2V708.9h2V710.2h2V709.6h2V708.6h2V706.6h2V704.4h2V704.9h2V702.6h2V698.8h2V701.8h2V700.3h2V701.2h2V699.9h2V703.0h2V705.9h2V705.3h2V708.6h2V709.6h2V710.1h2V709.9h2V710.0h2V710.0h2V709.7h2V709.9h2V710.1h2V709.9h2V710.5h2V709.6h2V710.3h2V710.2h2V710.6h2V709.5h2V709.3h2V708.7h2V707.7h2V709.3h2V706.8h2V707.4h2V707.6h2V706.9h2V706.2h2V707.7h2V708.3h1V713.2ZM1693.6 713.2V708.6h2V709.7h2V707.5h2V709.7h2V709.3h2V710.0h2V709.9h2V709.5h2V710.2h2V709.2h2V709.6h2V709.9h2V710.1h2V709.5h2V709.7h2V710.4h2V709.2h2V710.6h2V708.3h2V710.1h2V710.5h2V710.5h2V713.2ZM1741.6 713.2V708.6h2V710.6h2V709.1h2V710.1h2V709.6h2V709.7h2V710.7h2V710.2h2V710.5h2V709.1h2V709.9h2V708.7h2V710.4h2V710.5h2V710.9h2V710.6h2V710.1h2V709.6h2V709.9h2V709.6h2V711.0h2V709.1h2V710.2h2V709.9h2V711.0h1V713.2ZM1799.6 713.2V709.5h2V709.1h2V710.2h2V709.9h2V708.9h2V709.6h2V711.0h2V710.1h2V710.7h2V709.7h2V709.3h2V710.3h2V710.2h2V709.9h2V709.2h2V710.2h2V710.6h2V709.9h2V709.5h2V709.2h2V709.7h2V710.6h2V710.1h2V710.6h2V710.7h2V710.1h2V710.9h2V710.2h2V713.2ZM1860.6 713.2V709.1h2V709.6h2V710.2h2V709.8h2V709.7h2V710.4h2V709.4h2V710.7h2V710.8h2V709.5h2V710.9h2V710.8h2V710.6h2V709.5h2V710.1h2V710.7h2V710.1h2V710.5h2V707.5h2V710.4h2V710.3h2V711.0h2V710.4h2V710.6h2V710.3h2V709.7h2V710.3h2V710.7h2V710.1h2V710.2h2V709.9h2V709.8h2V710.6h2V708.6h2V710.5h2V711.0h2V709.2h2V710.1h2V710.1h2V710.2h2V709.8h2V709.7h2V710.0h2V710.5h2V709.2h2V710.6h2V709.4h2V709.1h2V709.7h2V709.4h2V710.8h2V709.3h2V710.4h2V709.5h2V709.6h2V710.1h2V709.2h2V710.1h2V711.1h2V710.2h2V710.2h2V710.4h2V709.7h2V709.6h2V713.2Z" fill="#ec4196"/>
<rect x="1419.6" y="726" width="7" height="74.1" fill="#333333"/>
<line x1="1425.6" y1="795" x2="1438.8" y2="795" stroke="#333333" stroke-width="2.1"/>
<line x1="1425.6" y1="775.1" x2="1438.8" y2="775.1" stroke="#333333" stroke-width="2.1"/>
<line x1="1425.6" y1="755.2" x2="1438.8" y2="755.2" stroke="#333333" stroke-width="2.1"/>
<line x1="1425.6" y1="735.3" x2="1438.8" y2="735.3" stroke="#333333" stroke-width="2.1"/>
<path d="M1426.6 797.9V795.0h2V795.4h2V794.9h2V794.0h2V795.5h2V794.0h2V795.0h2V795.8h2V795.5h2V795.5h2V795.7h2V795.3h2V795.3h2V794.9h2V795.7h2V795.0h2V795.1h2V795.3h2V795.2h2V795.6h2V794.6h2V794.6h2V795.6h2V795.1h2V795.0h2V795.3h2V795.6h2V795.2h2V795.0h2V795.7h2V794.9h2V795.3h2V795.1h2V795.1h2V794.9h2V794.5h2V794.7h2V795.6h2V794.5h2V795.3h2V795.5h2V797.9ZM1516.6 797.9V794.8h2V795.1h2V794.7h2V795.1h2V795.4h2V795.7h2V794.8h2V795.2h2V795.7h2V795.4h2V795.6h2V797.9ZM1546.6 797.9V795.4h2V794.8h2V795.4h2V795.6h2V794.6h2V795.1h2V794.8h2V795.7h2V795.6h2V794.7h2V794.6h2V794.9h2V795.4h2V795.0h2V794.7h2V795.3h2V795.3h2V795.3h2V794.9h2V794.8h2V795.8h2V795.5h2V795.3h2V794.1h2V795.6h2V795.5h1V797.9ZM1600.6 797.9V794.9h2V794.9h2V795.3h2V795.4h2V795.2h2V794.6h2V797.9ZM1620.6 797.9V794.4h2V794.4h2V794.4h2V793.7h2V794.3h2V793.4h2V793.2h2V794.4h1V797.9ZM1659.6 797.9V795.7h2V795.5h2V795.0h2V795.0h2V795.0h2V795.6h2V795.3h2V795.3h2V795.5h2V794.5h2V795.1h2V795.7h2V795.7h2V795.3h2V794.9h2V795.4h2V794.5h2V794.9h2V795.0h2V795.1h2V795.4h2V795.7h2V795.4h2V795.7h2V795.7h2V795.2h2V795.5h2V794.2h2V795.4h2V795.1h2V794.9h2V795.3h2V795.1h2V795.7h2V795.8h2V795.2h2V795.5h2V795.3h2V794.4h2V794.9h2V794.7h2V795.7h2V795.0h2V794.8h2V795.6h1V797.9ZM1751.6 797.9V795.4h2V795.0h2V794.8h2V794.8h2V794.6h2V794.8h2V795.4h2V795.2h2V795.5h2V795.4h2V795.4h2V794.8h2V794.8h2V795.5h2V795.4h2V794.6h2V795.1h2V794.6h2V795.3h2V795.3h2V795.4h2V795.0h2V795.7h2V795.5h2V794.6h2V797.9ZM1806.6 797.9V794.5h2V795.5h2V795.1h2V794.9h2V795.3h2V794.5h2V795.5h2V795.0h2V795.3h2V794.7h2V795.2h2V795.5h2V794.4h2V794.9h2V795.4h2V795.5h2V795.7h2V795.4h2V794.0h2V795.3h2V795.3h2V795.4h2V794.9h2V795.5h2V795.1h2V795.5h2V794.7h2V795.3h2V795.5h2V795.3h2V795.8h2V795.2h2V795.6h2V795.2h2V795.3h2V795.3h2V795.8h1V797.9ZM1886.6 797.9V795.1h2V794.7h2V795.0h2V795.0h2V795.5h2V795.4h2V795.1h2V795.0h2V795.3h2V795.9h1V797.9ZM1911.6 797.9V795.2h2V795.7h2V795.0h2V795.0h2V794.6h2V795.6h2V795.2h2V794.9h2V795.5h2V795.0h2V794.7h2V795.7h2V795.6h2V794.9h1V797.9ZM1954.6 797.9V795.3h2V795.1h2V795.3h2V795.3h2V795.8h2V795.5h2V795.7h2V795.2h2V795.6h2V795.0h2V795.5h2V795.0h2V795.5h2V795.1h2V795.4h2V794.8h2V795.5h2V797.9Z" fill="#333333"/>
<rect x="1419.6" y="809.9" width="7" height="74.1" fill="#3953a4"/>
<line x1="1425.6" y1="879.5" x2="1438.8" y2="879.5" stroke="#3953a4" stroke-width="2.1"/>
<line x1="1425.6" y1="859.6" x2="1438.8" y2="859.6" stroke="#3953a4" stroke-width="2.1"/>
<line x1="1425.6" y1="839.7" x2="1438.8" y2="839.7" stroke="#3953a4" stroke-width="2.1"/>
<line x1="1425.6" y1="819.8" x2="1438.8" y2="819.8" stroke="#3953a4" stroke-width="2.1"/>
<path d="M1426.6 882.4V879.7h2V879.6h2V880.0h2V879.6h2V879.7h2V879.7h2V879.3h2V878.9h2V879.7h2V879.3h2V880.1h2V879.3h2V879.8h2V880.1h2V879.9h2V880.2h2V879.7h2V879.7h2V880.0h2V878.9h2V879.8h2V879.6h2V879.2h2V880.1h2V879.6h2V879.4h2V879.8h2V879.5h2V880.0h2V879.7h2V882.4ZM1493.6 882.4V880.0h2V879.7h2V882.4ZM1505.6 882.4V879.7h2V880.0h2V879.7h2V879.6h2V879.3h2V879.7h2V879.8h2V879.8h2V879.9h2V879.9h2V879.8h2V879.6h2V880.0h2V879.4h2V879.9h2V879.6h2V879.8h2V879.3h2V879.3h2V879.8h2V879.5h2V879.6h2V879.4h2V879.5h2V879.4h2V879.5h2V879.7h2V879.7h2V878.5h2V880.1h2V880.3h2V879.8h2V879.6h2V880.3h2V879.6h2V879.9h2V879.4h2V879.6h2V880.3h2V879.8h2V880.1h2V879.6h2V879.7h2V879.7h2V880.3h2V879.5h2V880.1h2V878.9h2V879.5h2V879.6h2V880.1h2V879.6h2V879.6h2V879.6h2V878.4h2V878.0h2V875.8h2V874.4h2V871.7h2V870.2h2V872.2h2V870.5h2V872.9h2V873.9h2V876.5h2V878.1h2V878.7h2V879.1h2V879.8h2V879.6h2V879.6h2V880.0h2V879.7h2V880.3h2V880.1h2V880.0h2V879.9h2V879.6h2V878.8h2V879.1h2V877.5h2V877.0h2V875.4h2V874.5h2V873.8h2V874.1h2V870.7h2V871.9h2V867.9h2V864.9h2V859.3h2V858.3h2V861.7h2V868.0h2V873.1h2V876.1h2V878.2h2V879.1h2V879.4h2V879.2h2V880.2h2V879.3h2V879.9h2V880.2h2V880.0h2V878.9h2V879.6h2V879.5h2V879.9h2V879.4h2V879.3h2V879.4h2V880.0h2V880.0h2V879.7h2V879.6h2V879.9h2V879.9h2V879.5h2V879.7h2V879.3h2V879.5h2V879.8h2V880.0h2V879.9h2V880.0h2V878.5h2V878.9h2V880.0h2V880.1h2V879.8h2V880.2h2V879.9h2V879.5h2V879.6h2V882.4ZM1786.6 882.4V879.6h2V879.5h2V879.3h2V879.8h2V880.1h2V879.9h2V879.4h2V879.0h2V882.4ZM1806.6 882.4V878.9h2V879.1h2V879.4h2V879.8h2V880.2h2V879.5h2V879.8h2V879.5h2V879.6h2V879.8h2V880.2h1V882.4ZM1838.6 882.4V879.1h2V879.6h2V879.2h2V879.5h2V879.0h2V879.8h2V879.2h2V879.9h2V879.8h2V879.4h2V879.6h2V880.1h2V879.9h2V879.0h2V880.1h2V879.6h2V879.2h2V879.0h2V880.0h2V879.6h2V880.2h2V879.9h2V879.2h2V879.6h2V880.4h2V879.3h2V879.5h2V879.8h2V879.3h2V879.0h2V879.7h2V879.2h2V880.0h2V879.7h2V879.8h2V879.5h2V879.8h2V878.4h2V879.8h2V880.3h1V882.4ZM1925.6 882.4V879.4h2V880.0h2V879.6h2V879.9h2V879.9h2V879.6h2V879.7h2V879.8h2V880.2h2V879.9h2V880.1h2V879.8h2V879.8h2V879.8h2V879.5h2V879.4h2V879.3h2V879.4h2V879.9h2V880.0h2V879.5h2V879.9h2V880.2h2V879.8h2V880.0h2V879.7h2V879.9h2V879.6h2V880.0h2V880.0h2V879.8h2V879.3h1V882.4Z" fill="#3953a4"/>
<rect x="1419.6" y="893.8" width="7" height="74.1" fill="#e8202a"/>
<line x1="1425.6" y1="963.1" x2="1438.8" y2="963.1" stroke="#e8202a" stroke-width="2.1"/>
<line x1="1425.6" y1="943.2" x2="1438.8" y2="943.2" stroke="#e8202a" stroke-width="2.1"/>
<line x1="1425.6" y1="923.3" x2="1438.8" y2="923.3" stroke="#e8202a" stroke-width="2.1"/>
<line x1="1425.6" y1="903.4" x2="1438.8" y2="903.4" stroke="#e8202a" stroke-width="2.1"/>
<path d="M1426.6 966.0V963.4h2V963.0h2V963.7h2V963.7h2V963.7h2V963.6h2V963.1h2V963.7h2V962.8h2V963.7h2V963.2h2V962.9h2V963.4h2V963.8h2V963.2h2V963.9h2V963.1h2V963.5h2V963.8h2V962.6h2V963.4h2V962.8h2V963.6h2V963.9h2V963.8h2V963.4h2V963.9h2V963.4h2V962.8h2V962.8h2V966.0ZM1494.6 966.0V962.2h2V961.9h2V962.6h2V963.7h2V963.5h2V963.3h2V962.6h2V963.9h2V963.6h2V962.8h2V963.8h2V963.1h2V963.2h2V963.0h2V963.0h2V963.0h2V962.5h2V962.7h2V963.4h2V963.5h2V963.7h2V963.3h2V963.0h2V963.1h2V963.3h2V962.9h2V963.3h2V963.8h2V963.2h2V963.2h2V963.3h2V963.6h2V963.6h2V963.9h2V962.3h2V963.5h2V963.1h2V962.9h2V963.7h2V963.3h2V963.6h2V966.0ZM1600.6 966.0V962.8h2V963.0h2V962.7h2V963.0h2V962.8h2V962.2h2V959.8h2V959.2h2V954.7h2V953.0h2V958.7h2V959.2h2V960.4h2V959.5h2V960.2h2V961.0h2V959.9h2V961.5h2V961.4h2V962.1h2V962.0h2V963.0h2V962.9h2V963.4h2V963.3h2V963.6h2V963.0h2V963.4h2V963.6h2V963.3h2V963.7h2V962.9h2V963.5h2V963.3h2V963.1h2V963.0h2V962.8h2V963.4h2V963.4h2V962.7h2V963.3h2V963.4h2V963.3h2V963.3h2V963.7h2V963.3h2V963.6h2V963.2h2V962.7h2V962.9h2V963.2h2V962.4h2V963.7h2V963.0h2V963.0h2V963.6h2V962.9h2V963.5h2V963.3h2V962.8h2V962.5h2V963.3h1V966.0ZM1731.6 966.0V963.9h2V963.2h2V963.5h2V963.0h2V963.2h2V962.8h2V962.7h2V963.6h2V963.8h2V963.1h2V963.0h2V963.2h1V966.0ZM1762.6 966.0V963.6h2V963.6h2V963.5h2V963.4h2V963.2h2V963.2h2V962.9h2V963.3h2V963.8h2V963.6h2V962.5h2V962.8h2V963.3h2V963.1h2V963.2h2V963.3h2V963.7h2V963.2h2V963.7h2V962.8h2V963.6h2V962.9h2V963.0h2V963.8h2V963.3h2V963.6h2V963.3h2V963.3h2V963.8h2V962.8h2V963.3h2V962.9h2V963.3h2V962.8h2V963.5h2V963.0h2V963.8h2V963.5h2V963.6h2V962.4h2V962.5h2V966.0ZM1848.6 966.0V963.5h2V963.5h2V963.8h2V963.3h2V963.5h2V963.6h1V966.0ZM1867.6 966.0V963.8h2V962.6h2V962.6h2V963.3h2V963.4h2V963.2h2V963.6h2V963.4h2V962.7h2V963.2h2V963.6h2V963.9h2V963.5h2V963.4h2V963.7h2V963.1h2V963.6h2V963.0h2V963.2h2V963.1h2V963.6h2V963.4h2V963.3h2V963.5h2V963.6h2V963.2h2V963.3h2V963.3h2V963.4h2V963.4h2V963.5h2V963.6h2V963.4h2V963.1h2V963.8h2V962.0h2V963.4h2V966.0ZM1951.6 966.0V962.9h2V962.9h2V963.5h2V963.7h2V963.6h2V963.4h2V963.7h2V963.2h2V963.0h2V963.3h2V963.9h2V963.7h2V963.4h2V963.1h2V962.7h2V963.6h2V962.4h2V963.2h2V964.0h1V966.0Z" fill="#e8202a"/>
<line x1="232.5" y1="986" x2="800" y2="986" stroke="#231f20" stroke-width="2.6"/>
<path d="M784.5 978.5 L801.5 986 L784.5 993.5" fill="none" stroke="#231f20" stroke-width="2.6" stroke-linejoin="miter"/>
<line x1="303.2" y1="986" x2="303.2" y2="978" stroke="#231f20" stroke-width="2.2"/>
<line x1="503.4" y1="986" x2="503.4" y2="978" stroke="#231f20" stroke-width="2.2"/>
<line x1="703.7" y1="986" x2="703.7" y2="978" stroke="#231f20" stroke-width="2.2"/>
<line x1="263.1" y1="986" x2="263.1" y2="981" stroke="#231f20" stroke-width="2.2"/>
<line x1="343.2" y1="986" x2="343.2" y2="981" stroke="#231f20" stroke-width="2.2"/>
<line x1="383.2" y1="986" x2="383.2" y2="981" stroke="#231f20" stroke-width="2.2"/>
<line x1="383.3" y1="986" x2="383.3" y2="981" stroke="#231f20" stroke-width="2.2"/>
<line x1="423.3" y1="986" x2="423.3" y2="981" stroke="#231f20" stroke-width="2.2"/>
<line x1="463.3" y1="986" x2="463.3" y2="981" stroke="#231f20" stroke-width="2.2"/>
<line x1="463.4" y1="986" x2="463.4" y2="981" stroke="#231f20" stroke-width="2.2"/>
<line x1="543.4" y1="986" x2="543.4" y2="981" stroke="#231f20" stroke-width="2.2"/>
<line x1="543.5" y1="986" x2="543.5" y2="981" stroke="#231f20" stroke-width="2.2"/>
<line x1="583.5" y1="986" x2="583.5" y2="981" stroke="#231f20" stroke-width="2.2"/>
<line x1="583.6" y1="986" x2="583.6" y2="981" stroke="#231f20" stroke-width="2.2"/>
<line x1="623.5" y1="986" x2="623.5" y2="981" stroke="#231f20" stroke-width="2.2"/>
<line x1="623.6" y1="986" x2="623.6" y2="981" stroke="#231f20" stroke-width="2.2"/>
<line x1="663.6" y1="986" x2="663.6" y2="981" stroke="#231f20" stroke-width="2.2"/>
<line x1="663.7" y1="986" x2="663.7" y2="981" stroke="#231f20" stroke-width="2.2"/>
<line x1="743.8" y1="986" x2="743.8" y2="981" stroke="#231f20" stroke-width="2.2"/>
<line x1="783.8" y1="986" x2="783.8" y2="981" stroke="#231f20" stroke-width="2.2"/>
<text x="221.91" y="1018" font-size="30.58" fill="#231f20">119,150,000</text>
<text x="421.74" y="1018" font-size="30.15" fill="#231f20">119,155,000</text>
<text x="621.54" y="1018" font-size="30.15" fill="#231f20">119,160,000</text>
<text x="475.35" y="1057.2" font-size="40.6" fill="#231f20">Ch3</text>
<line x1="822.2" y1="986" x2="1398.7" y2="986" stroke="#231f20" stroke-width="2.6"/>
<path d="M1383.2 978.5 L1400.2 986 L1383.2 993.5" fill="none" stroke="#231f20" stroke-width="2.6" stroke-linejoin="miter"/>
<line x1="826.8" y1="986" x2="826.8" y2="978" stroke="#231f20" stroke-width="2.2"/>
<line x1="1027.1" y1="986" x2="1027.1" y2="978" stroke="#231f20" stroke-width="2.2"/>
<line x1="1227.4" y1="986" x2="1227.4" y2="978" stroke="#231f20" stroke-width="2.2"/>
<line x1="866.9" y1="986" x2="866.9" y2="981" stroke="#231f20" stroke-width="2.2"/>
<line x1="906.9" y1="986" x2="906.9" y2="981" stroke="#231f20" stroke-width="2.2"/>
<line x1="947" y1="986" x2="947" y2="981" stroke="#231f20" stroke-width="2.2"/>
<line x1="987" y1="986" x2="987" y2="981" stroke="#231f20" stroke-width="2.2"/>
<line x1="1067.2" y1="986" x2="1067.2" y2="981" stroke="#231f20" stroke-width="2.2"/>
<line x1="1107.2" y1="986" x2="1107.2" y2="981" stroke="#231f20" stroke-width="2.2"/>
<line x1="1147.3" y1="986" x2="1147.3" y2="981" stroke="#231f20" stroke-width="2.2"/>
<line x1="1187.3" y1="986" x2="1187.3" y2="981" stroke="#231f20" stroke-width="2.2"/>
<line x1="1267.5" y1="986" x2="1267.5" y2="981" stroke="#231f20" stroke-width="2.2"/>
<line x1="1307.5" y1="986" x2="1307.5" y2="981" stroke="#231f20" stroke-width="2.2"/>
<line x1="1347.6" y1="986" x2="1347.6" y2="981" stroke="#231f20" stroke-width="2.2"/>
<text x="800.73" y="1018" font-size="30.33" fill="#231f20">146,625,000</text>
<text x="1001.53" y="1018" font-size="30.31" fill="#231f20">146,630,000</text>
<text x="1202.13" y="1018" font-size="30.33" fill="#231f20">146,635,000</text>
<text x="1084.5" y="1057.2" font-size="40.6" fill="#231f20">Ch2</text>
<line x1="1424.5" y1="986" x2="1996.9" y2="986" stroke="#231f20" stroke-width="2.6"/>
<path d="M1981.4 978.5 L1998.4 986 L1981.4 993.5" fill="none" stroke="#231f20" stroke-width="2.6" stroke-linejoin="miter"/>
<line x1="1453.3" y1="986" x2="1453.3" y2="978" stroke="#231f20" stroke-width="2.2"/>
<line x1="1654" y1="986" x2="1654" y2="978" stroke="#231f20" stroke-width="2.2"/>
<line x1="1852.9" y1="986" x2="1852.9" y2="978" stroke="#231f20" stroke-width="2.2"/>
<line x1="1493.3" y1="986" x2="1493.3" y2="981" stroke="#231f20" stroke-width="2.2"/>
<line x1="1494" y1="986" x2="1494" y2="981" stroke="#231f20" stroke-width="2.2"/>
<line x1="1533.3" y1="986" x2="1533.3" y2="981" stroke="#231f20" stroke-width="2.2"/>
<line x1="1534" y1="986" x2="1534" y2="981" stroke="#231f20" stroke-width="2.2"/>
<line x1="1573.3" y1="986" x2="1573.3" y2="981" stroke="#231f20" stroke-width="2.2"/>
<line x1="1574" y1="986" x2="1574" y2="981" stroke="#231f20" stroke-width="2.2"/>
<line x1="1613.3" y1="986" x2="1613.3" y2="981" stroke="#231f20" stroke-width="2.2"/>
<line x1="1614" y1="986" x2="1614" y2="981" stroke="#231f20" stroke-width="2.2"/>
<line x1="1692.9" y1="986" x2="1692.9" y2="981" stroke="#231f20" stroke-width="2.2"/>
<line x1="1694" y1="986" x2="1694" y2="981" stroke="#231f20" stroke-width="2.2"/>
<line x1="1732.9" y1="986" x2="1732.9" y2="981" stroke="#231f20" stroke-width="2.2"/>
<line x1="1734" y1="986" x2="1734" y2="981" stroke="#231f20" stroke-width="2.2"/>
<line x1="1772.9" y1="986" x2="1772.9" y2="981" stroke="#231f20" stroke-width="2.2"/>
<line x1="1774" y1="986" x2="1774" y2="981" stroke="#231f20" stroke-width="2.2"/>
<line x1="1812.9" y1="986" x2="1812.9" y2="981" stroke="#231f20" stroke-width="2.2"/>
<line x1="1814" y1="986" x2="1814" y2="981" stroke="#231f20" stroke-width="2.2"/>
<line x1="1892.9" y1="986" x2="1892.9" y2="981" stroke="#231f20" stroke-width="2.2"/>
<line x1="1932.9" y1="986" x2="1932.9" y2="981" stroke="#231f20" stroke-width="2.2"/>
<line x1="1972.9" y1="986" x2="1972.9" y2="981" stroke="#231f20" stroke-width="2.2"/>
<text x="1411.84" y="1018" font-size="30.79" fill="#231f20">96,475,000</text>
<text x="1614.95" y="1018" font-size="30.47" fill="#231f20">96,480,000</text>
<text x="1814.74" y="1018" font-size="30.79" fill="#231f20">96,485,000</text>
<text x="1670.13" y="1057.2" font-size="40.6" fill="#231f20">Ch10</text>
<text x="241.47" y="533.3" font-size="40.65" fill="#231f20">Sox2-enriched CORs (10,058)</text>
<text x="843.87" y="533.3" font-size="40.72" fill="#231f20">Sox2a-enriched CORs (7,432)</text>
<text x="1481.27" y="533.3" font-size="40.8" fill="#231f20">±10% subregions (4,075)</text>
<line x1="507.4" y1="546.6" x2="507.4" y2="565" stroke="#231f20" stroke-width="2.4"/>
<path d="M502.6 562 L507.4 574.5 L512.2 562 Z" fill="#231f20"/>
<line x1="1080" y1="546.6" x2="1080" y2="565" stroke="#231f20" stroke-width="2.4"/>
<path d="M1075.2 562 L1080 574.5 L1084.8 562 Z" fill="#231f20"/>
<line x1="1627.4" y1="546.6" x2="1627.4" y2="565" stroke="#231f20" stroke-width="2.4"/>
<path d="M1622.6 562 L1627.4 574.5 L1632.2 562 Z" fill="#231f20"/>
<text transform="translate(-0.66 1107.39) scale(1 1)" font-size="41.28" font-weight="bold" fill="#231f20">e</text>
<rect x="191" y="1132.6" width="1120" height="5.8" fill="#231f20"/>
<rect x="1373.8" y="1133.2" width="617.7" height="5.8" fill="#231f20"/>
<rect x="190" y="1200.6" width="407.5" height="5.8" fill="#231f20"/>
<rect x="618.2" y="1200.3" width="692.8" height="5.8" fill="#231f20"/>
<rect x="1373" y="1201.1" width="132.9" height="5.8" fill="#231f20"/>
<rect x="1555.6" y="1201.1" width="435.9" height="5.8" fill="#231f20"/>
<text x="682.68" y="1119.8" font-size="40.49" fill="#231f20">CORs</text>
<text x="1613.37" y="1120" font-size="40.8" fill="#231f20">±10 %</text>
<text x="349.62" y="1185.3" font-size="41.56" fill="#231f20">ChIP</text>
<text x="912.5" y="1185.8" font-size="39.76" fill="#231f20">ATAC</text>
<text x="1394.26" y="1185.7" font-size="40.71" fill="#231f20">ChIP</text>
<text x="1717.5" y="1185.7" font-size="39.96" fill="#231f20">ATAC</text>
<text x="210.67" y="1245.9" font-size="40.58" fill="#231f20">2/2a</text>
<text x="349.88" y="1245.9" font-size="40.37" fill="#231f20">Sox2</text>
<text x="481.7" y="1245.9" font-size="40.04" fill="#231f20">Sox2a</text>
<text x="643.56" y="1245.7" font-size="42.85" fill="#231f20">Ctrl</text>
<text x="778.56" y="1245.7" font-size="40.82" fill="#231f20">Sox2</text>
<text x="911.71" y="1245.7" font-size="39.86" fill="#231f20">Sox2a</text>
<text x="1077.73" y="1245.7" font-size="41.36" fill="#231f20">2/C</text>
<text x="1211.65" y="1245.7" font-size="40.94" fill="#231f20">2a/C</text>
<text x="1399.79" y="1246.3" font-size="40.16" fill="#231f20">2/2a</text>
<text x="1589.31" y="1246.3" font-size="41.88" fill="#231f20">Ctrl</text>
<text x="1754.45" y="1246.3" font-size="40.95" fill="#231f20">2/C</text>
<text x="1882.66" y="1246.3" font-size="40.89" fill="#231f20">2a/C</text>
<path d="M19.2 1263.3 L21.6 1263.3 L53.9 1616.5 L19.2 1616.5 Z" fill="#ec008c"/>
<path d="M27.4 1263.3 L62 1263.3 L62 1616.5 L59.3 1616.5 L28.2 1275 Z" fill="#00aeef"/>
<text transform="translate(98.1 1370.63) rotate(-90)" font-size="40.71" fill="#00aeef">Sox2-</text>
<text transform="translate(136.6 1419.15) rotate(-90)" font-size="41.07" fill="#00aeef">enriched</text>
<text transform="translate(98.1 1592.58) rotate(-90)" font-size="39.61" fill="#ec008c">Sox2a-</text>
<text transform="translate(136.6 1622.75) rotate(-90)" font-size="41.07" fill="#ec008c">enriched</text>
<rect x="185.1" y="1264.3" width="131.5" height="198.7" fill="#000"/>
<path d="M245.7 1264.3h9.6v2.6h-9.6z" fill="#c02c35"/>
<path d="M238.3 1265.4h24.2v0.9h-24.2z" fill="#b5192c" fill-opacity="0.75"/>
<path d="M244.4 1266.7h12.1v2.6h-12.1z" fill="#ca403e"/>
<path d="M244.2 1269.1h12.5v2.6h-12.5zM243.5 1271.5h14.0v2.6h-14.0z" fill="#d55346"/>
<path d="M240.0 1272.1h20.9v0.9h-20.9zM240.1 1290.1h20.8v0.9h-20.8z" fill="#e5755c" fill-opacity="0.75"/>
<path d="M245.2 1273.9h10.6v2.6h-10.6z" fill="#e0664f"/>
<path d="M245.2 1275.4h10.6v0.7h-10.6zM244.7 1305.0h11.6v0.7h-11.6zM242.6 1319.6h15.8v0.7h-15.8zM244.0 1334.4h12.9v0.7h-12.9zM242.0 1354.5h16.8v0.7h-16.8zM243.6 1395.8h13.8v0.7h-13.8zM244.6 1399.4h11.6v0.7h-11.6zM244.7 1443.6h11.5v0.7h-11.5zM242.7 1448.9h15.5v0.7h-15.5z" fill="#000" fill-opacity="0.7"/>
<path d="M244.1 1276.3h12.8v2.6h-12.8zM244.6 1281.1h11.7v2.6h-11.7zM243.1 1288.2h14.7v2.6h-14.7zM243.4 1290.6h14.2v2.6h-14.2zM242.5 1293.0h15.8v2.6h-15.8zM242.3 1295.4h16.3v2.6h-16.3zM242.5 1305.0h16.0v2.6h-16.0z" fill="#ea8469"/>
<path d="M244.3 1278.7h12.2v2.6h-12.2zM242.4 1285.8h16.1v2.6h-16.1z" fill="#e5755c"/>
<path d="M238.0 1280.8h24.9v0.9h-24.9z" fill="#e0664f" fill-opacity="0.75"/>
<path d="M245.1 1283.5h10.7v2.6h-10.7zM242.5 1297.8h15.9v2.6h-15.9zM243.8 1300.2h13.3v2.6h-13.3zM244.7 1302.6h11.6v2.6h-11.6zM244.4 1309.8h12.1v2.6h-12.1zM243.2 1312.2h14.5v2.6h-14.5zM242.8 1326.5h15.3v2.6h-15.3z" fill="#ef9376"/>
<path d="M236.9 1295.4h27.2v0.9h-27.2zM235.8 1302.7h29.3v0.9h-29.3zM235.5 1316.0h29.8v0.9h-29.8z" fill="#ef9376" fill-opacity="0.75"/>
<path d="M244.8 1307.4h11.3v2.6h-11.3zM242.1 1314.6h16.7v2.6h-16.7zM243.9 1317.0h13.1v2.6h-13.1zM242.6 1319.4h15.8v2.6h-15.8zM244.5 1321.8h11.9v2.6h-11.9zM244.5 1328.9h12.0v2.6h-12.0zM242.8 1338.5h15.3v2.6h-15.3zM243.2 1345.7h14.6v2.6h-14.6z" fill="#f4a283"/>
<path d="M242.8 1324.1h15.3v2.6h-15.3zM244.6 1331.3h11.8v2.6h-11.8zM244.0 1333.7h12.9v2.6h-12.9zM243.6 1336.1h13.6v2.6h-13.6zM243.3 1340.9h14.4v2.6h-14.4zM243.7 1343.3h13.5v2.6h-13.5zM243.1 1348.1h14.7v2.6h-14.7zM242.0 1352.9h16.8v2.6h-16.8zM243.9 1360.1h13.1v2.6h-13.1z" fill="#f4ab8e"/>
<path d="M239.4 1335.7h22.1v0.9h-22.1zM235.4 1358.6h30.2v0.9h-30.2zM234.8 1365.2h31.3v0.9h-31.3z" fill="#f4a283" fill-opacity="0.75"/>
<path d="M239.6 1338.2h21.7v0.9h-21.7z" fill="#f3bea6" fill-opacity="0.75"/>
<path d="M237.1 1343.4h26.8v0.9h-26.8zM240.1 1374.0h20.8v0.9h-20.8z" fill="#f4b49a" fill-opacity="0.75"/>
<path d="M244.5 1350.5h12.0v2.6h-12.0zM244.1 1355.3h12.8v2.6h-12.8zM242.0 1357.7h16.9v2.6h-16.9zM241.8 1364.8h17.2v2.6h-17.2zM242.2 1372.0h16.5v2.6h-16.5zM243.9 1384.0h13.2v2.6h-13.2z" fill="#f4b49a"/>
<path d="M237.0 1361.5h26.9v0.9h-26.9z" fill="#ea8469" fill-opacity="0.75"/>
<path d="M242.8 1362.5h15.4v2.6h-15.4zM243.6 1367.2h13.7v2.6h-13.7zM243.2 1369.6h14.6v2.6h-14.6zM242.8 1374.4h15.3v2.6h-15.3zM244.2 1376.8h12.5v2.6h-12.5zM242.0 1379.2h17.0v2.6h-17.0zM242.3 1386.4h16.4v2.6h-16.4zM242.7 1388.8h15.5v2.6h-15.5zM243.9 1407.9h13.1v2.6h-13.1z" fill="#f3bea6"/>
<path d="M237.8 1377.6h25.4v0.9h-25.4z" fill="#eeccbc" fill-opacity="0.75"/>
<path d="M243.5 1381.6h13.8v2.6h-13.8zM242.1 1391.2h16.7v2.6h-16.7zM243.6 1393.6h13.8v2.6h-13.8zM242.4 1396.0h16.1v2.6h-16.1zM244.6 1398.4h11.6v2.6h-11.6zM242.4 1403.2h16.1v2.6h-16.1zM244.2 1415.1h12.5v2.6h-12.5z" fill="#f3c7b1"/>
<path d="M234.6 1382.3h31.7v0.9h-31.7zM239.1 1404.3h22.8v0.9h-22.8z" fill="#f3c7b1" fill-opacity="0.75"/>
<path d="M240.3 1384.1h20.3v0.9h-20.3z" fill="#f4ab8e" fill-opacity="0.75"/>
<path d="M240.6 1393.6h19.8v0.9h-19.8zM238.8 1397.2h23.4v0.9h-23.4z" fill="#e8d2c6" fill-opacity="0.75"/>
<path d="M237.6 1393.8h25.8v0.9h-25.8z" fill="#dedcdb" fill-opacity="0.75"/>
<path d="M244.6 1400.8h11.7v2.6h-11.7zM242.8 1405.5h15.2v2.6h-15.2zM244.7 1410.3h11.6v2.6h-11.6zM244.1 1412.7h12.8v2.6h-12.8zM243.5 1422.3h13.9v2.6h-13.9zM242.4 1427.1h16.0v2.6h-16.0zM242.3 1429.5h16.2v2.6h-16.2zM244.8 1431.9h11.3v2.6h-11.3z" fill="#eeccbc"/>
<path d="M243.8 1417.5h13.4v2.6h-13.4zM244.1 1419.9h12.7v2.6h-12.7zM243.1 1434.3h14.6v2.6h-14.6zM243.4 1439.1h14.0v2.6h-14.0zM244.7 1441.5h11.5v2.6h-11.5zM243.8 1443.8h13.3v2.6h-13.3zM242.7 1448.6h15.5v2.6h-15.5z" fill="#e8d2c6"/>
<path d="M242.7 1424.7h15.6v2.6h-15.6zM242.9 1436.7h15.2v2.6h-15.2zM245.1 1446.2h10.7v2.6h-10.7zM243.9 1451.0h13.1v2.6h-13.1zM243.6 1453.4h13.7v2.6h-13.7zM244.7 1455.8h11.6v2.6h-11.6zM243.8 1458.2h13.4v2.6h-13.4zM244.1 1460.6h12.7v2.6h-12.7z" fill="#e3d7d0"/>
<path d="M239.6 1434.4h21.6v0.9h-21.6z" fill="#e3d7d0" fill-opacity="0.75"/>
<path d="M237.7 1459.1h25.6v0.9h-25.6z" fill="#d7dadf" fill-opacity="0.75"/>
<path d="M238.0 1462.5h24.8v0.9h-24.8z" fill="#d0d7e3" fill-opacity="0.75"/>
<rect x="185.1" y="1466.6" width="131.5" height="146.8" fill="#000"/>
<path d="M244.0 1466.6h12.8v2.7h-12.8zM244.2 1473.8h12.5v2.7h-12.5zM242.7 1476.2h15.6v2.7h-15.6zM245.0 1478.6h10.9v2.7h-10.9zM244.5 1481.0h11.9v2.7h-11.9zM243.2 1483.4h14.6v2.7h-14.6zM244.9 1490.7h11.0v2.7h-11.0z" fill="#d7dadf"/>
<path d="M237.5 1467.6h25.8v0.9h-25.8z" fill="#f3c7b1" fill-opacity="0.75"/>
<path d="M245.1 1469.0h10.8v2.7h-10.8zM242.7 1471.4h15.4v2.7h-15.4zM244.5 1485.9h12.0v2.7h-12.0zM243.3 1488.3h14.2v2.7h-14.2zM243.8 1493.1h13.3v2.7h-13.3zM242.4 1495.5h16.1v2.7h-16.1zM243.3 1500.3h14.4v2.7h-14.4zM243.5 1502.7h13.9v2.7h-13.9zM244.4 1522.0h12.2v2.7h-12.2z" fill="#d0d7e3"/>
<path d="M238.6 1475.5h23.7v0.9h-23.7zM236.9 1506.3h27.1v0.9h-27.1zM238.2 1516.3h24.5v0.9h-24.5z" fill="#e3d7d0" fill-opacity="0.75"/>
<path d="M244.2 1474.4h12.5v0.7h-12.5zM243.5 1502.9h13.9v0.7h-13.9zM244.8 1505.6h11.3v0.7h-11.3zM242.5 1513.4h16.0v0.7h-16.0zM243.6 1533.0h13.8v0.7h-13.8zM244.8 1546.1h11.4v0.7h-11.4zM244.9 1576.9h11.2v0.7h-11.2z" fill="#000" fill-opacity="0.7"/>
<path d="M240.9 1478.3h19.0v0.9h-19.0z" fill="#e8d2c6" fill-opacity="0.75"/>
<path d="M240.1 1478.9h20.6v0.9h-20.6zM239.4 1485.8h22.1v0.9h-22.1z" fill="#eeccbc" fill-opacity="0.75"/>
<path d="M240.1 1489.1h20.7v0.9h-20.7z" fill="#d7dadf" fill-opacity="0.75"/>
<path d="M244.0 1497.9h12.8v2.7h-12.8zM244.8 1505.1h11.3v2.7h-11.3zM242.8 1507.5h15.3v2.7h-15.3zM243.2 1509.9h14.5v2.7h-14.5zM242.5 1512.3h16.0v2.7h-16.0zM243.2 1514.7h14.6v2.7h-14.6zM242.2 1517.1h16.5v2.7h-16.5zM243.9 1526.8h13.1v2.7h-13.1zM242.2 1529.2h16.5v2.7h-16.5zM244.8 1546.0h11.4v2.7h-11.4z" fill="#cad4e7"/>
<path d="M240.5 1501.1h19.9v0.9h-19.9zM240.5 1573.9h19.9v0.9h-19.9zM240.7 1595.6h19.4v0.9h-19.4z" fill="#9fb2db" fill-opacity="0.75"/>
<path d="M236.7 1513.8h27.5v0.9h-27.5zM236.1 1546.4h28.7v0.9h-28.7z" fill="#cad4e7" fill-opacity="0.75"/>
<path d="M243.1 1519.5h14.6v2.7h-14.6zM244.1 1524.4h12.8v2.7h-12.8zM243.6 1531.6h13.8v2.7h-13.8zM243.1 1536.4h14.7v2.7h-14.7zM242.1 1538.8h16.8v2.7h-16.8zM242.8 1541.2h15.4v2.7h-15.4zM244.4 1543.6h12.1v2.7h-12.1zM244.0 1555.6h13.0v2.7h-13.0zM242.1 1558.0h16.7v2.7h-16.7zM244.9 1574.9h11.2v2.7h-11.2z" fill="#c3d2eb"/>
<path d="M237.1 1523.8h26.7v0.9h-26.7zM235.1 1537.9h30.7v0.9h-30.7z" fill="#d0d7e3" fill-opacity="0.75"/>
<path d="M243.8 1534.0h13.3v2.7h-13.3zM242.8 1548.4h15.3v2.7h-15.3zM244.0 1550.8h12.8v2.7h-12.8zM243.8 1553.2h13.3v2.7h-13.3zM242.6 1560.5h15.7v2.7h-15.7zM243.8 1562.9h13.2v2.7h-13.2zM244.3 1567.7h12.4v2.7h-12.4zM242.7 1570.1h15.5v2.7h-15.5zM242.9 1572.5h15.1v2.7h-15.1zM243.4 1579.7h14.1v2.7h-14.1z" fill="#b7c7e6"/>
<path d="M239.0 1549.2h22.9v0.9h-22.9zM236.1 1600.8h28.7v0.9h-28.7z" fill="#c3d2eb" fill-opacity="0.75"/>
<path d="M237.0 1563.9h27.0v0.9h-27.0zM239.1 1594.0h22.6v0.9h-22.6z" fill="#93a7d6" fill-opacity="0.75"/>
<path d="M243.7 1565.3h13.5v2.7h-13.5zM242.5 1577.3h15.9v2.7h-15.9zM243.9 1582.1h13.0v2.7h-13.0zM243.5 1584.5h14.0v2.7h-14.0zM244.9 1586.9h11.0v2.7h-11.0zM243.6 1591.7h13.7v2.7h-13.7zM243.3 1596.6h14.4v2.7h-14.4zM243.9 1601.4h13.1v2.7h-13.1z" fill="#abbce0"/>
<path d="M239.3 1580.6h22.3v0.9h-22.3z" fill="#7a8ec8" fill-opacity="0.75"/>
<path d="M240.3 1589.0h20.3v0.9h-20.3z" fill="#b7c7e6" fill-opacity="0.75"/>
<path d="M242.6 1589.3h15.8v2.7h-15.8zM243.6 1594.1h13.6v2.7h-13.6zM242.9 1599.0h15.1v2.7h-15.1zM244.8 1603.8h11.3v2.7h-11.3zM244.6 1608.6h11.7v2.7h-11.7zM243.6 1611.0h13.7v2.7h-13.7z" fill="#9fb2db"/>
<path d="M236.0 1601.9h28.9v0.9h-28.9z" fill="#869bcf" fill-opacity="0.75"/>
<path d="M244.9 1606.2h11.0v2.7h-11.0z" fill="#93a7d6"/>
<path d="M239.1 1606.9h22.7v0.9h-22.7z" fill="#abbce0" fill-opacity="0.75"/>
<rect x="329.3" y="1264.3" width="130.8" height="198.7" fill="url(#bg211)"/>
<path d="M370.3 1267.3h44.9v3.3h-44.9z" fill="url(#g211_0_0)" fill-opacity="0.8"/>
<path d="M370.3 1264.3h44.9v3.3h-44.9z" fill="url(#g211_0_0)" fill-opacity="0.87"/>
<path d="M368.0 1441.9h49.4v3.3h-49.4z" fill="url(#g211_0_1)" fill-opacity="0.2"/>
<path d="M368.0 1336.6h49.4v3.3h-49.4zM368.0 1342.6h49.4v3.3h-49.4zM368.0 1357.6h49.4v3.3h-49.4zM368.0 1363.7h49.4v3.3h-49.4zM368.0 1399.8h49.4v6.3h-49.4zM368.0 1408.8h49.4v3.3h-49.4zM368.0 1414.8h49.4v3.3h-49.4zM368.0 1426.9h49.4v6.3h-49.4z" fill="url(#g211_0_1)" fill-opacity="0.27"/>
<path d="M368.0 1321.5h49.4v6.3h-49.4zM368.0 1372.7h49.4v3.3h-49.4z" fill="url(#g211_0_1)" fill-opacity="0.33"/>
<path d="M368.0 1288.4h49.4v3.3h-49.4zM368.0 1306.4h49.4v3.3h-49.4z" fill="url(#g211_0_1)" fill-opacity="0.4"/>
<path d="M368.0 1276.3h49.4v3.3h-49.4z" fill="url(#g211_0_1)" fill-opacity="0.47"/>
<path d="M368.0 1285.4h49.4v3.3h-49.4z" fill="url(#g211_0_1)" fill-opacity="0.53"/>
<path d="M365.7 1420.9h54.0v3.3h-54.0z" fill="url(#g211_0_2)" fill-opacity="0.2"/>
<path d="M365.7 1333.5h54.0v3.3h-54.0zM365.7 1369.7h54.0v3.3h-54.0zM365.7 1384.7h54.0v3.3h-54.0zM365.7 1393.8h54.0v3.3h-54.0zM365.7 1405.8h54.0v3.3h-54.0zM365.7 1444.9h54.0v3.3h-54.0z" fill="url(#g211_0_2)" fill-opacity="0.27"/>
<path d="M365.7 1303.4h54.0v3.3h-54.0zM365.7 1327.5h54.0v6.3h-54.0zM365.7 1360.6h54.0v3.3h-54.0z" fill="url(#g211_0_2)" fill-opacity="0.33"/>
<path d="M365.7 1315.5h54.0v3.3h-54.0z" fill="url(#g211_0_2)" fill-opacity="0.4"/>
<path d="M365.7 1297.4h54.0v3.3h-54.0z" fill="url(#g211_0_2)" fill-opacity="0.47"/>
<path d="M365.7 1279.4h54.0v3.3h-54.0z" fill="url(#g211_0_2)" fill-opacity="0.53"/>
<path d="M365.7 1273.3h54.0v3.3h-54.0z" fill="url(#g211_0_2)" fill-opacity="0.6"/>
<path d="M365.7 1270.3h54.0v3.3h-54.0z" fill="url(#g211_0_2)" fill-opacity="0.67"/>
<path d="M363.5 1423.9h58.6v3.3h-58.6zM363.5 1435.9h58.6v3.3h-58.6zM363.5 1460.0h58.6v3.3h-58.6z" fill="url(#g211_0_3)" fill-opacity="0.2"/>
<path d="M363.5 1339.6h58.6v3.3h-58.6zM363.5 1345.6h58.6v3.3h-58.6zM363.5 1354.6h58.6v3.3h-58.6zM363.5 1375.7h58.6v3.3h-58.6zM363.5 1396.8h58.6v3.3h-58.6zM363.5 1411.8h58.6v3.3h-58.6zM363.5 1432.9h58.6v3.3h-58.6zM363.5 1438.9h58.6v3.3h-58.6zM363.5 1447.9h58.6v6.3h-58.6zM363.5 1457.0h58.6v3.3h-58.6z" fill="url(#g211_0_3)" fill-opacity="0.27"/>
<path d="M363.5 1291.4h58.6v3.3h-58.6zM363.5 1300.4h58.6v3.3h-58.6zM363.5 1318.5h58.6v3.3h-58.6zM363.5 1351.6h58.6v3.3h-58.6z" fill="url(#g211_0_3)" fill-opacity="0.33"/>
<path d="M363.5 1294.4h58.6v3.3h-58.6zM363.5 1309.5h58.6v6.3h-58.6z" fill="url(#g211_0_3)" fill-opacity="0.4"/>
<path d="M361.2 1390.7h63.1v3.3h-63.1z" fill="url(#g211_0_4)" fill-opacity="0.2"/>
<path d="M361.2 1366.7h63.1v3.3h-63.1zM361.2 1378.7h63.1v6.3h-63.1zM361.2 1387.7h63.1v3.3h-63.1zM361.2 1417.8h63.1v3.3h-63.1zM361.2 1454.0h63.1v3.3h-63.1z" fill="url(#g211_0_4)" fill-opacity="0.27"/>
<path d="M361.2 1348.6h63.1v3.3h-63.1z" fill="url(#g211_0_4)" fill-opacity="0.33"/>
<path d="M361.2 1282.4h63.1v3.3h-63.1z" fill="url(#g211_0_4)" fill-opacity="0.53"/>
<rect x="329.3" y="1264.3" width="130.8" height="198.7" fill="none" stroke="#3a3a3a" stroke-width="1.4"/>
<rect x="329.3" y="1466.6" width="130.8" height="146.8" fill="url(#bg212)"/>
<path d="M367.9 1475.6h49.6v3.3h-49.6zM367.9 1481.6h49.6v3.3h-49.6zM367.9 1499.6h49.6v3.3h-49.6zM367.9 1535.5h49.6v3.3h-49.6zM367.9 1556.5h49.6v6.3h-49.6z" fill="url(#g212_0_0)" fill-opacity="0.13"/>
<path d="M365.8 1472.6h53.8v3.3h-53.8zM365.8 1490.6h53.8v3.3h-53.8zM365.8 1496.6h53.8v3.3h-53.8zM365.8 1505.5h53.8v3.3h-53.8zM365.8 1523.5h53.8v6.3h-53.8zM365.8 1547.5h53.8v3.3h-53.8zM365.8 1553.5h53.8v3.3h-53.8zM365.8 1565.5h53.8v6.3h-53.8zM365.8 1577.4h53.8v3.3h-53.8zM365.8 1586.4h53.8v6.3h-53.8zM365.8 1595.4h53.8v3.3h-53.8z" fill="url(#g212_0_1)" fill-opacity="0.13"/>
<path d="M363.7 1487.6h58.0v3.3h-58.0zM363.7 1532.5h58.0v3.3h-58.0zM363.7 1538.5h58.0v9.3h-58.0zM363.7 1562.5h58.0v3.3h-58.0zM363.7 1598.4h58.0v6.3h-58.0zM363.7 1607.4h58.0v3.3h-58.0z" fill="url(#g212_0_2)" fill-opacity="0.13"/>
<path d="M361.6 1469.6h62.2v3.3h-62.2zM361.6 1478.6h62.2v3.3h-62.2zM361.6 1484.6h62.2v3.3h-62.2zM361.6 1493.6h62.2v3.3h-62.2zM361.6 1502.6h62.2v3.3h-62.2zM361.6 1511.5h62.2v9.3h-62.2zM361.6 1571.5h62.2v3.3h-62.2zM361.6 1580.4h62.2v6.3h-62.2zM361.6 1592.4h62.2v3.3h-62.2zM361.6 1604.4h62.2v3.3h-62.2zM361.6 1610.4h62.2v3.3h-62.2z" fill="url(#g212_0_3)" fill-opacity="0.13"/>
<path d="M359.6 1466.6h66.4v3.3h-66.4zM359.6 1508.5h66.4v3.3h-66.4zM359.6 1520.5h66.4v3.3h-66.4zM359.6 1529.5h66.4v3.3h-66.4zM359.6 1550.5h66.4v3.3h-66.4zM359.6 1574.5h66.4v3.3h-66.4z" fill="url(#g212_0_4)" fill-opacity="0.13"/>
<rect x="329.3" y="1466.6" width="130.8" height="146.8" fill="none" stroke="#3a3a3a" stroke-width="1.4"/>
<rect x="472.5" y="1264.3" width="130.7" height="198.7" fill="url(#bg213)"/>
<path d="M513.1 1270.3h49.6v3.3h-49.6zM513.1 1339.6h49.6v3.3h-49.6zM513.1 1414.8h49.6v12.3h-49.6zM513.1 1429.9h49.6v6.3h-49.6zM513.1 1457.0h49.6v3.3h-49.6z" fill="url(#g213_0_0)" fill-opacity="0.13"/>
<path d="M513.1 1297.4h49.6v3.3h-49.6z" fill="url(#g213_0_0)" fill-opacity="0.2"/>
<path d="M511.0 1273.3h53.7v3.3h-53.7zM511.0 1282.4h53.7v3.3h-53.7zM511.0 1336.6h53.7v3.3h-53.7zM511.0 1345.6h53.7v9.3h-53.7zM511.0 1363.7h53.7v6.3h-53.7zM511.0 1393.8h53.7v3.3h-53.7zM511.0 1402.8h53.7v3.3h-53.7zM511.0 1460.0h53.7v3.3h-53.7z" fill="url(#g213_0_1)" fill-opacity="0.13"/>
<path d="M511.0 1264.3h53.7v6.3h-53.7zM511.0 1291.4h53.7v3.3h-53.7z" fill="url(#g213_0_1)" fill-opacity="0.2"/>
<path d="M508.9 1288.4h57.9v3.3h-57.9zM508.9 1312.5h57.9v9.3h-57.9zM508.9 1330.5h57.9v6.3h-57.9zM508.9 1357.6h57.9v3.3h-57.9zM508.9 1372.7h57.9v6.3h-57.9zM508.9 1390.7h57.9v3.3h-57.9zM508.9 1399.8h57.9v3.3h-57.9zM508.9 1408.8h57.9v3.3h-57.9zM508.9 1451.0h57.9v6.3h-57.9z" fill="url(#g213_0_2)" fill-opacity="0.13"/>
<path d="M508.9 1285.4h57.9v3.3h-57.9zM508.9 1327.5h57.9v3.3h-57.9z" fill="url(#g213_0_2)" fill-opacity="0.2"/>
<path d="M506.8 1276.3h62.0v3.3h-62.0zM506.8 1378.7h62.0v9.3h-62.0zM506.8 1396.8h62.0v3.3h-62.0zM506.8 1405.8h62.0v3.3h-62.0zM506.8 1426.9h62.0v3.3h-62.0zM506.8 1435.9h62.0v6.3h-62.0zM506.8 1447.9h62.0v3.3h-62.0z" fill="url(#g213_0_3)" fill-opacity="0.13"/>
<path d="M506.8 1279.4h62.0v3.3h-62.0zM506.8 1294.4h62.0v3.3h-62.0zM506.8 1306.4h62.0v3.3h-62.0z" fill="url(#g213_0_3)" fill-opacity="0.2"/>
<path d="M504.8 1303.4h66.1v3.3h-66.1zM504.8 1309.5h66.1v3.3h-66.1zM504.8 1321.5h66.1v6.3h-66.1zM504.8 1342.6h66.1v3.3h-66.1zM504.8 1354.6h66.1v3.3h-66.1zM504.8 1360.6h66.1v3.3h-66.1zM504.8 1369.7h66.1v3.3h-66.1zM504.8 1387.7h66.1v3.3h-66.1zM504.8 1411.8h66.1v3.3h-66.1zM504.8 1441.9h66.1v6.3h-66.1z" fill="url(#g213_0_4)" fill-opacity="0.13"/>
<path d="M504.8 1300.4h66.1v3.3h-66.1z" fill="url(#g213_0_4)" fill-opacity="0.2"/>
<rect x="472.5" y="1264.3" width="130.7" height="198.7" fill="none" stroke="#3a3a3a" stroke-width="1.4"/>
<rect x="472.5" y="1466.6" width="130.7" height="146.8" fill="url(#bg214)"/>
<path d="M515.0 1610.4h45.8v3.3h-45.8z" fill="url(#g214_0_0)" fill-opacity="0.33"/>
<path d="M512.5 1466.6h50.6v3.3h-50.6zM512.5 1505.5h50.6v3.3h-50.6zM512.5 1511.5h50.6v3.3h-50.6z" fill="url(#g214_0_1)" fill-opacity="0.13"/>
<path d="M512.5 1478.6h50.6v3.3h-50.6zM512.5 1508.5h50.6v3.3h-50.6zM512.5 1517.5h50.6v3.3h-50.6zM512.5 1535.5h50.6v6.3h-50.6zM512.5 1547.5h50.6v6.3h-50.6z" fill="url(#g214_0_1)" fill-opacity="0.2"/>
<path d="M512.5 1589.4h50.6v3.3h-50.6zM512.5 1598.4h50.6v3.3h-50.6zM512.5 1604.4h50.6v3.3h-50.6z" fill="url(#g214_0_1)" fill-opacity="0.27"/>
<path d="M512.5 1586.4h50.6v3.3h-50.6zM512.5 1607.4h50.6v3.3h-50.6z" fill="url(#g214_0_1)" fill-opacity="0.33"/>
<path d="M510.1 1520.5h55.5v3.3h-55.5z" fill="url(#g214_0_2)" fill-opacity="0.13"/>
<path d="M510.1 1484.6h55.5v6.3h-55.5zM510.1 1523.5h55.5v3.3h-55.5zM510.1 1529.5h55.5v3.3h-55.5zM510.1 1541.5h55.5v3.3h-55.5zM510.1 1562.5h55.5v3.3h-55.5z" fill="url(#g214_0_2)" fill-opacity="0.2"/>
<path d="M510.1 1568.5h55.5v6.3h-55.5zM510.1 1580.4h55.5v3.3h-55.5z" fill="url(#g214_0_2)" fill-opacity="0.27"/>
<path d="M510.1 1601.4h55.5v3.3h-55.5z" fill="url(#g214_0_2)" fill-opacity="0.33"/>
<path d="M507.7 1475.6h60.3v3.3h-60.3z" fill="url(#g214_0_3)" fill-opacity="0.13"/>
<path d="M507.7 1472.6h60.3v3.3h-60.3zM507.7 1493.6h60.3v6.3h-60.3zM507.7 1514.5h60.3v3.3h-60.3zM507.7 1544.5h60.3v3.3h-60.3zM507.7 1565.5h60.3v3.3h-60.3zM507.7 1592.4h60.3v3.3h-60.3z" fill="url(#g214_0_3)" fill-opacity="0.2"/>
<path d="M507.7 1574.5h60.3v6.3h-60.3zM507.7 1583.4h60.3v3.3h-60.3zM507.7 1595.4h60.3v3.3h-60.3z" fill="url(#g214_0_3)" fill-opacity="0.27"/>
<path d="M505.3 1502.6h65.2v3.3h-65.2z" fill="url(#g214_0_4)" fill-opacity="0.13"/>
<path d="M505.3 1469.6h65.2v3.3h-65.2zM505.3 1481.6h65.2v3.3h-65.2zM505.3 1490.6h65.2v3.3h-65.2zM505.3 1499.6h65.2v3.3h-65.2zM505.3 1526.5h65.2v3.3h-65.2zM505.3 1532.5h65.2v3.3h-65.2zM505.3 1553.5h65.2v9.3h-65.2z" fill="url(#g214_0_4)" fill-opacity="0.2"/>
<rect x="472.5" y="1466.6" width="130.7" height="146.8" fill="none" stroke="#3a3a3a" stroke-width="1.4"/>
<rect x="615.3" y="1264.3" width="131" height="198.7" fill="url(#bg221)"/>
<path d="M657.0 1270.3h44.9v3.3h-44.9zM657.0 1300.4h44.9v6.3h-44.9zM657.0 1315.5h44.9v3.3h-44.9zM657.0 1321.5h44.9v3.3h-44.9z" fill="url(#g221_0_0)" fill-opacity="0.07"/>
<path d="M657.0 1348.6h44.9v3.3h-44.9zM657.0 1369.7h44.9v3.3h-44.9zM657.0 1375.7h44.9v3.3h-44.9zM657.0 1444.9h44.9v3.3h-44.9z" fill="url(#g221_0_0)" fill-opacity="0.13"/>
<path d="M655.2 1276.3h48.6v3.3h-48.6zM655.2 1288.4h48.6v3.3h-48.6zM655.2 1318.5h48.6v3.3h-48.6zM655.2 1408.8h48.6v3.3h-48.6z" fill="url(#g221_0_1)" fill-opacity="0.07"/>
<path d="M655.2 1312.5h48.6v3.3h-48.6zM655.2 1327.5h48.6v3.3h-48.6zM655.2 1339.6h48.6v3.3h-48.6zM655.2 1366.7h48.6v3.3h-48.6zM655.2 1381.7h48.6v3.3h-48.6zM655.2 1387.7h48.6v3.3h-48.6zM655.2 1411.8h48.6v6.3h-48.6zM655.2 1429.9h48.6v6.3h-48.6zM655.2 1441.9h48.6v3.3h-48.6z" fill="url(#g221_0_1)" fill-opacity="0.13"/>
<path d="M655.2 1333.5h48.6v3.3h-48.6zM655.2 1460.0h48.6v3.3h-48.6z" fill="url(#g221_0_1)" fill-opacity="0.2"/>
<path d="M653.4 1264.3h52.3v3.3h-52.3zM653.4 1285.4h52.3v3.3h-52.3zM653.4 1345.6h52.3v3.3h-52.3zM653.4 1378.7h52.3v3.3h-52.3zM653.4 1405.8h52.3v3.3h-52.3z" fill="url(#g221_0_2)" fill-opacity="0.07"/>
<path d="M653.4 1282.4h52.3v3.3h-52.3zM653.4 1306.4h52.3v3.3h-52.3zM653.4 1351.6h52.3v3.3h-52.3zM653.4 1360.6h52.3v3.3h-52.3zM653.4 1372.7h52.3v3.3h-52.3zM653.4 1384.7h52.3v3.3h-52.3zM653.4 1438.9h52.3v3.3h-52.3zM653.4 1451.0h52.3v3.3h-52.3z" fill="url(#g221_0_2)" fill-opacity="0.13"/>
<path d="M653.4 1402.8h52.3v3.3h-52.3zM653.4 1447.9h52.3v3.3h-52.3z" fill="url(#g221_0_2)" fill-opacity="0.2"/>
<path d="M651.5 1267.3h56.0v3.3h-56.0zM651.5 1273.3h56.0v3.3h-56.0zM651.5 1279.4h56.0v3.3h-56.0zM651.5 1297.4h56.0v3.3h-56.0zM651.5 1330.5h56.0v3.3h-56.0zM651.5 1336.6h56.0v3.3h-56.0zM651.5 1342.6h56.0v3.3h-56.0zM651.5 1399.8h56.0v3.3h-56.0z" fill="url(#g221_0_3)" fill-opacity="0.07"/>
<path d="M651.5 1291.4h56.0v3.3h-56.0zM651.5 1354.6h56.0v6.3h-56.0zM651.5 1363.7h56.0v3.3h-56.0zM651.5 1390.7h56.0v9.3h-56.0zM651.5 1426.9h56.0v3.3h-56.0zM651.5 1435.9h56.0v3.3h-56.0z" fill="url(#g221_0_3)" fill-opacity="0.13"/>
<path d="M649.7 1294.4h59.6v3.3h-59.6zM649.7 1324.5h59.6v3.3h-59.6z" fill="url(#g221_0_4)" fill-opacity="0.07"/>
<path d="M649.7 1309.5h59.6v3.3h-59.6zM649.7 1423.9h59.6v3.3h-59.6z" fill="url(#g221_0_4)" fill-opacity="0.13"/>
<path d="M649.7 1417.8h59.6v6.3h-59.6zM649.7 1454.0h59.6v6.3h-59.6z" fill="url(#g221_0_4)" fill-opacity="0.2"/>
<rect x="615.3" y="1264.3" width="131" height="198.7" fill="none" stroke="#3a3a3a" stroke-width="1.4"/>
<rect x="615.3" y="1466.6" width="131" height="146.8" fill="url(#bg222)"/>
<path d="M657.2 1466.6h44.6v3.3h-44.6zM657.2 1472.6h44.6v3.3h-44.6zM657.2 1478.6h44.6v3.3h-44.6zM657.2 1535.5h44.6v3.3h-44.6z" fill="url(#g222_0_0)" fill-opacity="0.13"/>
<path d="M657.2 1529.5h44.6v3.3h-44.6zM657.2 1580.4h44.6v3.3h-44.6zM657.2 1589.4h44.6v3.3h-44.6zM657.2 1601.4h44.6v3.3h-44.6z" fill="url(#g222_0_0)" fill-opacity="0.2"/>
<path d="M657.2 1496.6h44.6v3.3h-44.6zM657.2 1511.5h44.6v3.3h-44.6z" fill="url(#g222_0_0)" fill-opacity="0.27"/>
<path d="M655.3 1481.6h48.4v3.3h-48.4zM655.3 1499.6h48.4v6.3h-48.4zM655.3 1586.4h48.4v3.3h-48.4z" fill="url(#g222_0_1)" fill-opacity="0.13"/>
<path d="M655.3 1469.6h48.4v3.3h-48.4zM655.3 1520.5h48.4v3.3h-48.4zM655.3 1547.5h48.4v3.3h-48.4zM655.3 1568.5h48.4v3.3h-48.4z" fill="url(#g222_0_1)" fill-opacity="0.2"/>
<path d="M653.4 1487.6h52.2v3.3h-52.2zM653.4 1598.4h52.2v3.3h-52.2z" fill="url(#g222_0_2)" fill-opacity="0.13"/>
<path d="M653.4 1475.6h52.2v3.3h-52.2zM653.4 1493.6h52.2v3.3h-52.2zM653.4 1508.5h52.2v3.3h-52.2zM653.4 1514.5h52.2v3.3h-52.2zM653.4 1526.5h52.2v3.3h-52.2zM653.4 1538.5h52.2v3.3h-52.2zM653.4 1571.5h52.2v3.3h-52.2zM653.4 1607.4h52.2v3.3h-52.2z" fill="url(#g222_0_2)" fill-opacity="0.2"/>
<path d="M653.4 1550.5h52.2v3.3h-52.2zM653.4 1559.5h52.2v3.3h-52.2zM653.4 1574.5h52.2v3.3h-52.2zM653.4 1595.4h52.2v3.3h-52.2z" fill="url(#g222_0_2)" fill-opacity="0.27"/>
<path d="M651.5 1553.5h56.0v3.3h-56.0zM651.5 1604.4h56.0v3.3h-56.0z" fill="url(#g222_0_3)" fill-opacity="0.13"/>
<path d="M651.5 1484.6h56.0v3.3h-56.0zM651.5 1532.5h56.0v3.3h-56.0zM651.5 1565.5h56.0v3.3h-56.0z" fill="url(#g222_0_3)" fill-opacity="0.2"/>
<path d="M651.5 1541.5h56.0v3.3h-56.0zM651.5 1577.4h56.0v3.3h-56.0zM651.5 1583.4h56.0v3.3h-56.0zM651.5 1592.4h56.0v3.3h-56.0zM651.5 1610.4h56.0v3.3h-56.0z" fill="url(#g222_0_3)" fill-opacity="0.27"/>
<path d="M649.6 1517.5h59.8v3.3h-59.8zM649.6 1523.5h59.8v3.3h-59.8zM649.6 1556.5h59.8v3.3h-59.8z" fill="url(#g222_0_4)" fill-opacity="0.13"/>
<path d="M649.6 1562.5h59.8v3.3h-59.8z" fill="url(#g222_0_4)" fill-opacity="0.2"/>
<path d="M649.6 1490.6h59.8v3.3h-59.8zM649.6 1505.5h59.8v3.3h-59.8zM649.6 1544.5h59.8v3.3h-59.8z" fill="url(#g222_0_4)" fill-opacity="0.27"/>
<rect x="615.3" y="1466.6" width="131" height="146.8" fill="none" stroke="#3a3a3a" stroke-width="1.4"/>
<rect x="758.6" y="1264.3" width="130.6" height="198.7" fill="url(#bg223)"/>
<path d="M797.7 1438.9h51.6v3.3h-51.6z" fill="url(#g223_0_0)" fill-opacity="0.47"/>
<path d="M797.7 1402.8h51.6v3.3h-51.6z" fill="url(#g223_0_0)" fill-opacity="0.53"/>
<path d="M797.7 1381.7h51.6v3.3h-51.6zM797.7 1399.8h51.6v3.3h-51.6z" fill="url(#g223_0_0)" fill-opacity="0.6"/>
<path d="M797.7 1351.6h51.6v6.3h-51.6z" fill="url(#g223_0_0)" fill-opacity="0.8"/>
<path d="M795.3 1339.6h56.5v3.3h-56.5zM795.3 1369.7h56.5v3.3h-56.5zM795.3 1426.9h56.5v3.3h-56.5z" fill="url(#g223_0_1)" fill-opacity="0.53"/>
<path d="M795.3 1285.4h56.5v3.3h-56.5zM795.3 1348.6h56.5v3.3h-56.5zM795.3 1429.9h56.5v3.3h-56.5zM795.3 1444.9h56.5v3.3h-56.5z" fill="url(#g223_0_1)" fill-opacity="0.6"/>
<path d="M795.3 1396.8h56.5v3.3h-56.5zM795.3 1423.9h56.5v3.3h-56.5z" fill="url(#g223_0_1)" fill-opacity="0.67"/>
<path d="M795.3 1291.4h56.5v3.3h-56.5zM795.3 1333.5h56.5v3.3h-56.5z" fill="url(#g223_0_1)" fill-opacity="0.73"/>
<path d="M795.3 1288.4h56.5v3.3h-56.5zM795.3 1309.5h56.5v3.3h-56.5z" fill="url(#g223_0_1)" fill-opacity="0.8"/>
<path d="M795.3 1270.3h56.5v3.3h-56.5zM795.3 1276.3h56.5v6.3h-56.5zM795.3 1315.5h56.5v3.3h-56.5z" fill="url(#g223_0_1)" fill-opacity="0.87"/>
<path d="M795.3 1294.4h56.5v3.3h-56.5z" fill="url(#g223_0_1)" fill-opacity="0.93"/>
<path d="M792.8 1414.8h61.4v3.3h-61.4zM792.8 1447.9h61.4v3.3h-61.4z" fill="url(#g223_0_2)" fill-opacity="0.47"/>
<path d="M792.8 1460.0h61.4v3.3h-61.4z" fill="url(#g223_0_2)" fill-opacity="0.53"/>
<path d="M792.8 1345.6h61.4v3.3h-61.4zM792.8 1372.7h61.4v3.3h-61.4zM792.8 1384.7h61.4v3.3h-61.4zM792.8 1405.8h61.4v3.3h-61.4zM792.8 1411.8h61.4v3.3h-61.4zM792.8 1435.9h61.4v3.3h-61.4zM792.8 1454.0h61.4v3.3h-61.4z" fill="url(#g223_0_2)" fill-opacity="0.6"/>
<path d="M792.8 1312.5h61.4v3.3h-61.4zM792.8 1324.5h61.4v3.3h-61.4zM792.8 1342.6h61.4v3.3h-61.4z" fill="url(#g223_0_2)" fill-opacity="0.67"/>
<path d="M792.8 1306.4h61.4v3.3h-61.4z" fill="url(#g223_0_2)" fill-opacity="0.73"/>
<path d="M792.8 1264.3h61.4v3.3h-61.4zM792.8 1321.5h61.4v3.3h-61.4z" fill="url(#g223_0_2)" fill-opacity="0.8"/>
<path d="M790.4 1417.8h66.3v3.3h-66.3z" fill="url(#g223_0_3)" fill-opacity="0.47"/>
<path d="M790.4 1393.8h66.3v3.3h-66.3zM790.4 1432.9h66.3v3.3h-66.3zM790.4 1441.9h66.3v3.3h-66.3zM790.4 1457.0h66.3v3.3h-66.3z" fill="url(#g223_0_3)" fill-opacity="0.53"/>
<path d="M790.4 1357.6h66.3v3.3h-66.3z" fill="url(#g223_0_3)" fill-opacity="0.6"/>
<path d="M790.4 1360.6h66.3v6.3h-66.3zM790.4 1390.7h66.3v3.3h-66.3zM790.4 1420.9h66.3v3.3h-66.3zM790.4 1451.0h66.3v3.3h-66.3z" fill="url(#g223_0_3)" fill-opacity="0.67"/>
<path d="M790.4 1273.3h66.3v3.3h-66.3zM790.4 1330.5h66.3v3.3h-66.3zM790.4 1336.6h66.3v3.3h-66.3zM790.4 1375.7h66.3v6.3h-66.3zM790.4 1408.8h66.3v3.3h-66.3z" fill="url(#g223_0_3)" fill-opacity="0.73"/>
<path d="M790.4 1282.4h66.3v3.3h-66.3z" fill="url(#g223_0_3)" fill-opacity="0.8"/>
<path d="M790.4 1318.5h66.3v3.3h-66.3z" fill="url(#g223_0_3)" fill-opacity="0.87"/>
<path d="M790.4 1300.4h66.3v6.3h-66.3z" fill="url(#g223_0_3)" fill-opacity="0.93"/>
<path d="M787.9 1297.4h71.2v3.3h-71.2zM787.9 1327.5h71.2v3.3h-71.2z" fill="url(#g223_0_4)" fill-opacity="0.6"/>
<path d="M787.9 1366.7h71.2v3.3h-71.2z" fill="url(#g223_0_4)" fill-opacity="0.67"/>
<path d="M787.9 1387.7h71.2v3.3h-71.2z" fill="url(#g223_0_4)" fill-opacity="0.8"/>
<path d="M787.9 1267.3h71.2v3.3h-71.2z" fill="url(#g223_0_4)" fill-opacity="0.93"/>
<rect x="758.6" y="1264.3" width="130.6" height="198.7" fill="none" stroke="#3a3a3a" stroke-width="1.4"/>
<rect x="758.6" y="1466.6" width="130.6" height="146.8" fill="url(#bg224)"/>
<path d="M798.3 1496.6h50.5v3.3h-50.5zM798.3 1598.4h50.5v3.3h-50.5z" fill="url(#g224_0_0)" fill-opacity="0.47"/>
<path d="M798.3 1469.6h50.5v3.3h-50.5zM798.3 1541.5h50.5v3.3h-50.5zM798.3 1577.4h50.5v3.3h-50.5z" fill="url(#g224_0_0)" fill-opacity="0.53"/>
<path d="M798.3 1499.6h50.5v3.3h-50.5zM798.3 1544.5h50.5v3.3h-50.5zM798.3 1550.5h50.5v3.3h-50.5zM798.3 1610.4h50.5v3.3h-50.5z" fill="url(#g224_0_0)" fill-opacity="0.6"/>
<path d="M798.3 1589.4h50.5v3.3h-50.5z" fill="url(#g224_0_0)" fill-opacity="0.67"/>
<path d="M796.0 1475.6h55.0v3.3h-55.0zM796.0 1538.5h55.0v3.3h-55.0z" fill="url(#g224_0_1)" fill-opacity="0.4"/>
<path d="M796.0 1517.5h55.0v3.3h-55.0z" fill="url(#g224_0_1)" fill-opacity="0.47"/>
<path d="M796.0 1532.5h55.0v3.3h-55.0z" fill="url(#g224_0_1)" fill-opacity="0.53"/>
<path d="M796.0 1478.6h55.0v3.3h-55.0zM796.0 1505.5h55.0v3.3h-55.0zM796.0 1571.5h55.0v6.3h-55.0z" fill="url(#g224_0_1)" fill-opacity="0.6"/>
<path d="M796.0 1481.6h55.0v3.3h-55.0zM796.0 1565.5h55.0v3.3h-55.0z" fill="url(#g224_0_1)" fill-opacity="0.67"/>
<path d="M793.7 1601.4h59.5v3.3h-59.5z" fill="url(#g224_0_2)" fill-opacity="0.4"/>
<path d="M793.7 1493.6h59.5v3.3h-59.5zM793.7 1553.5h59.5v3.3h-59.5zM793.7 1568.5h59.5v3.3h-59.5zM793.7 1595.4h59.5v3.3h-59.5zM793.7 1604.4h59.5v3.3h-59.5z" fill="url(#g224_0_2)" fill-opacity="0.47"/>
<path d="M793.7 1520.5h59.5v3.3h-59.5zM793.7 1586.4h59.5v3.3h-59.5zM793.7 1592.4h59.5v3.3h-59.5zM793.7 1607.4h59.5v3.3h-59.5z" fill="url(#g224_0_2)" fill-opacity="0.53"/>
<path d="M793.7 1466.6h59.5v3.3h-59.5zM793.7 1484.6h59.5v3.3h-59.5z" fill="url(#g224_0_2)" fill-opacity="0.6"/>
<path d="M791.5 1472.6h64.1v3.3h-64.1zM791.5 1487.6h64.1v3.3h-64.1zM791.5 1547.5h64.1v3.3h-64.1zM791.5 1580.4h64.1v3.3h-64.1z" fill="url(#g224_0_3)" fill-opacity="0.47"/>
<path d="M791.5 1514.5h64.1v3.3h-64.1zM791.5 1523.5h64.1v3.3h-64.1zM791.5 1535.5h64.1v3.3h-64.1zM791.5 1556.5h64.1v9.3h-64.1zM791.5 1583.4h64.1v3.3h-64.1z" fill="url(#g224_0_3)" fill-opacity="0.53"/>
<path d="M791.5 1490.6h64.1v3.3h-64.1z" fill="url(#g224_0_3)" fill-opacity="0.67"/>
<path d="M789.2 1526.5h68.6v3.3h-68.6z" fill="url(#g224_0_4)" fill-opacity="0.4"/>
<path d="M789.2 1502.6h68.6v3.3h-68.6zM789.2 1508.5h68.6v3.3h-68.6zM789.2 1529.5h68.6v3.3h-68.6z" fill="url(#g224_0_4)" fill-opacity="0.53"/>
<path d="M789.2 1511.5h68.6v3.3h-68.6z" fill="url(#g224_0_4)" fill-opacity="0.67"/>
<rect x="758.6" y="1466.6" width="130.6" height="146.8" fill="none" stroke="#3a3a3a" stroke-width="1.4"/>
<rect x="901.6" y="1264.3" width="131" height="198.7" fill="url(#bg225)"/>
<path d="M942.3 1279.4h49.6v3.3h-49.6z" fill="url(#g225_0_0)" fill-opacity="0.13"/>
<path d="M942.3 1273.3h49.6v6.3h-49.6z" fill="url(#g225_0_0)" fill-opacity="0.2"/>
<path d="M942.3 1309.5h49.6v3.3h-49.6zM942.3 1384.7h49.6v3.3h-49.6z" fill="url(#g225_0_0)" fill-opacity="0.27"/>
<path d="M942.3 1303.4h49.6v3.3h-49.6zM942.3 1402.8h49.6v3.3h-49.6z" fill="url(#g225_0_0)" fill-opacity="0.33"/>
<path d="M942.3 1375.7h49.6v3.3h-49.6z" fill="url(#g225_0_0)" fill-opacity="0.4"/>
<path d="M942.3 1444.9h49.6v3.3h-49.6z" fill="url(#g225_0_0)" fill-opacity="0.53"/>
<path d="M940.4 1267.3h53.4v6.3h-53.4zM940.4 1282.4h53.4v3.3h-53.4zM940.4 1291.4h53.4v3.3h-53.4zM940.4 1300.4h53.4v3.3h-53.4zM940.4 1312.5h53.4v3.3h-53.4z" fill="url(#g225_0_1)" fill-opacity="0.2"/>
<path d="M940.4 1285.4h53.4v3.3h-53.4zM940.4 1294.4h53.4v3.3h-53.4zM940.4 1351.6h53.4v3.3h-53.4z" fill="url(#g225_0_1)" fill-opacity="0.27"/>
<path d="M940.4 1369.7h53.4v6.3h-53.4zM940.4 1393.8h53.4v3.3h-53.4zM940.4 1423.9h53.4v3.3h-53.4zM940.4 1432.9h53.4v3.3h-53.4z" fill="url(#g225_0_1)" fill-opacity="0.33"/>
<path d="M940.4 1354.6h53.4v3.3h-53.4zM940.4 1381.7h53.4v3.3h-53.4zM940.4 1399.8h53.4v3.3h-53.4z" fill="url(#g225_0_1)" fill-opacity="0.4"/>
<path d="M938.5 1288.4h57.2v3.3h-57.2z" fill="url(#g225_0_2)" fill-opacity="0.13"/>
<path d="M938.5 1297.4h57.2v3.3h-57.2z" fill="url(#g225_0_2)" fill-opacity="0.2"/>
<path d="M938.5 1339.6h57.2v3.3h-57.2z" fill="url(#g225_0_2)" fill-opacity="0.27"/>
<path d="M938.5 1321.5h57.2v3.3h-57.2zM938.5 1333.5h57.2v3.3h-57.2zM938.5 1460.0h57.2v3.3h-57.2z" fill="url(#g225_0_2)" fill-opacity="0.33"/>
<path d="M938.5 1348.6h57.2v3.3h-57.2zM938.5 1390.7h57.2v3.3h-57.2zM938.5 1435.9h57.2v3.3h-57.2z" fill="url(#g225_0_2)" fill-opacity="0.4"/>
<path d="M938.5 1417.8h57.2v3.3h-57.2zM938.5 1441.9h57.2v3.3h-57.2zM938.5 1447.9h57.2v3.3h-57.2z" fill="url(#g225_0_2)" fill-opacity="0.47"/>
<path d="M938.5 1426.9h57.2v6.3h-57.2z" fill="url(#g225_0_2)" fill-opacity="0.53"/>
<path d="M936.6 1306.4h60.9v3.3h-60.9z" fill="url(#g225_0_3)" fill-opacity="0.2"/>
<path d="M936.6 1342.6h60.9v3.3h-60.9zM936.6 1357.6h60.9v3.3h-60.9zM936.6 1366.7h60.9v3.3h-60.9zM936.6 1411.8h60.9v3.3h-60.9z" fill="url(#g225_0_3)" fill-opacity="0.27"/>
<path d="M936.6 1318.5h60.9v3.3h-60.9zM936.6 1345.6h60.9v3.3h-60.9zM936.6 1360.6h60.9v3.3h-60.9zM936.6 1378.7h60.9v3.3h-60.9zM936.6 1396.8h60.9v3.3h-60.9zM936.6 1414.8h60.9v3.3h-60.9zM936.6 1438.9h60.9v3.3h-60.9zM936.6 1454.0h60.9v3.3h-60.9z" fill="url(#g225_0_3)" fill-opacity="0.33"/>
<path d="M936.6 1324.5h60.9v3.3h-60.9zM936.6 1405.8h60.9v6.3h-60.9zM936.6 1420.9h60.9v3.3h-60.9z" fill="url(#g225_0_3)" fill-opacity="0.4"/>
<path d="M936.6 1451.0h60.9v3.3h-60.9z" fill="url(#g225_0_3)" fill-opacity="0.47"/>
<path d="M936.6 1457.0h60.9v3.3h-60.9z" fill="url(#g225_0_3)" fill-opacity="0.6"/>
<path d="M934.7 1264.3h64.7v3.3h-64.7zM934.7 1315.5h64.7v3.3h-64.7z" fill="url(#g225_0_4)" fill-opacity="0.2"/>
<path d="M934.7 1387.7h64.7v3.3h-64.7z" fill="url(#g225_0_4)" fill-opacity="0.27"/>
<path d="M934.7 1327.5h64.7v6.3h-64.7zM934.7 1336.6h64.7v3.3h-64.7z" fill="url(#g225_0_4)" fill-opacity="0.33"/>
<path d="M934.7 1363.7h64.7v3.3h-64.7z" fill="url(#g225_0_4)" fill-opacity="0.4"/>
<rect x="901.6" y="1264.3" width="131" height="198.7" fill="none" stroke="#3a3a3a" stroke-width="1.4"/>
<rect x="901.6" y="1466.6" width="131" height="146.8" fill="url(#bg226)"/>
<path d="M944.0 1574.5h46.1v3.3h-46.1z" fill="url(#g226_0_0)" fill-opacity="0.47"/>
<path d="M944.0 1559.5h46.1v3.3h-46.1z" fill="url(#g226_0_0)" fill-opacity="0.53"/>
<path d="M944.0 1589.4h46.1v3.3h-46.1z" fill="url(#g226_0_0)" fill-opacity="0.6"/>
<path d="M944.0 1565.5h46.1v3.3h-46.1zM944.0 1610.4h46.1v3.3h-46.1z" fill="url(#g226_0_0)" fill-opacity="0.67"/>
<path d="M944.0 1604.4h46.1v3.3h-46.1z" fill="url(#g226_0_0)" fill-opacity="0.8"/>
<path d="M944.0 1595.4h46.1v3.3h-46.1z" fill="url(#g226_0_0)" fill-opacity="0.87"/>
<path d="M941.5 1475.6h51.2v3.3h-51.2z" fill="url(#g226_0_1)" fill-opacity="0.33"/>
<path d="M941.5 1523.5h51.2v3.3h-51.2z" fill="url(#g226_0_1)" fill-opacity="0.47"/>
<path d="M941.5 1517.5h51.2v3.3h-51.2zM941.5 1547.5h51.2v3.3h-51.2z" fill="url(#g226_0_1)" fill-opacity="0.53"/>
<path d="M941.5 1532.5h51.2v3.3h-51.2zM941.5 1601.4h51.2v3.3h-51.2z" fill="url(#g226_0_1)" fill-opacity="0.6"/>
<path d="M941.5 1571.5h51.2v3.3h-51.2zM941.5 1577.4h51.2v3.3h-51.2zM941.5 1592.4h51.2v3.3h-51.2zM941.5 1598.4h51.2v3.3h-51.2z" fill="url(#g226_0_1)" fill-opacity="0.67"/>
<path d="M941.5 1586.4h51.2v3.3h-51.2z" fill="url(#g226_0_1)" fill-opacity="0.73"/>
<path d="M938.9 1472.6h56.3v3.3h-56.3zM938.9 1490.6h56.3v3.3h-56.3z" fill="url(#g226_0_2)" fill-opacity="0.33"/>
<path d="M938.9 1508.5h56.3v3.3h-56.3zM938.9 1535.5h56.3v3.3h-56.3z" fill="url(#g226_0_2)" fill-opacity="0.4"/>
<path d="M938.9 1505.5h56.3v3.3h-56.3zM938.9 1538.5h56.3v3.3h-56.3z" fill="url(#g226_0_2)" fill-opacity="0.47"/>
<path d="M938.9 1487.6h56.3v3.3h-56.3zM938.9 1511.5h56.3v3.3h-56.3z" fill="url(#g226_0_2)" fill-opacity="0.53"/>
<path d="M938.9 1526.5h56.3v3.3h-56.3zM938.9 1550.5h56.3v3.3h-56.3z" fill="url(#g226_0_2)" fill-opacity="0.6"/>
<path d="M938.9 1553.5h56.3v3.3h-56.3z" fill="url(#g226_0_2)" fill-opacity="0.67"/>
<path d="M938.9 1583.4h56.3v3.3h-56.3z" fill="url(#g226_0_2)" fill-opacity="0.73"/>
<path d="M938.9 1580.4h56.3v3.3h-56.3z" fill="url(#g226_0_2)" fill-opacity="0.8"/>
<path d="M936.4 1493.6h61.4v3.3h-61.4zM936.4 1502.6h61.4v3.3h-61.4z" fill="url(#g226_0_3)" fill-opacity="0.33"/>
<path d="M936.4 1466.6h61.4v3.3h-61.4zM936.4 1481.6h61.4v3.3h-61.4zM936.4 1529.5h61.4v3.3h-61.4zM936.4 1541.5h61.4v6.3h-61.4zM936.4 1562.5h61.4v3.3h-61.4z" fill="url(#g226_0_3)" fill-opacity="0.4"/>
<path d="M936.4 1484.6h61.4v3.3h-61.4zM936.4 1496.6h61.4v6.3h-61.4z" fill="url(#g226_0_3)" fill-opacity="0.47"/>
<path d="M936.4 1556.5h61.4v3.3h-61.4z" fill="url(#g226_0_3)" fill-opacity="0.6"/>
<path d="M936.4 1568.5h61.4v3.3h-61.4z" fill="url(#g226_0_3)" fill-opacity="0.67"/>
<path d="M936.4 1607.4h61.4v3.3h-61.4z" fill="url(#g226_0_3)" fill-opacity="0.8"/>
<path d="M933.8 1469.6h66.5v3.3h-66.5zM933.8 1478.6h66.5v3.3h-66.5zM933.8 1514.5h66.5v3.3h-66.5z" fill="url(#g226_0_4)" fill-opacity="0.4"/>
<path d="M933.8 1520.5h66.5v3.3h-66.5z" fill="url(#g226_0_4)" fill-opacity="0.47"/>
<rect x="901.6" y="1466.6" width="131" height="146.8" fill="none" stroke="#3a3a3a" stroke-width="1.4"/>
<rect x="1042.1" y="1264.3" width="130.8" height="198.7" fill="#000"/>
<path d="M1099.7 1264.3h15.5v2.6h-15.5z" fill="#b5192c"/>
<path d="M1099.9 1266.7h15.2v2.6h-15.2zM1099.3 1271.5h16.3v2.6h-16.3zM1099.9 1309.8h15.2v2.6h-15.2zM1100.3 1312.2h14.4v2.6h-14.4zM1100.1 1319.4h14.7v2.6h-14.7zM1099.4 1321.8h16.2v2.6h-16.2zM1099.1 1324.1h16.7v2.6h-16.7zM1099.8 1326.5h15.4v2.6h-15.4zM1099.6 1331.3h15.9v2.6h-15.9zM1100.3 1333.7h14.4v2.6h-14.4zM1101.7 1338.5h11.6v2.6h-11.6zM1100.3 1340.9h14.5v2.6h-14.5zM1101.4 1350.5h12.2v2.6h-12.2zM1099.5 1364.8h16.0v2.6h-16.0zM1101.1 1372.0h12.9v2.6h-12.9zM1100.2 1379.2h14.5v2.6h-14.5z" fill="#ca403e"/>
<path d="M1101.2 1269.1h12.6v2.6h-12.6zM1102.0 1285.8h11.0v2.6h-11.0z" fill="#b5192c"/>
<path d="M1101.7 1273.9h11.5v2.6h-11.5zM1101.1 1276.3h12.9v2.6h-12.9zM1100.8 1278.7h13.5v2.6h-13.5zM1100.5 1281.1h14.0v2.6h-14.0zM1101.3 1283.5h12.4v2.6h-12.4zM1099.5 1288.2h16.1v2.6h-16.1zM1099.3 1290.6h16.3v2.6h-16.3zM1101.0 1293.0h12.9v2.6h-12.9zM1102.0 1295.4h11.0v2.6h-11.0zM1099.2 1297.8h16.6v2.6h-16.6zM1100.4 1300.2h14.2v2.6h-14.2zM1099.7 1314.6h15.6v2.6h-15.6zM1099.2 1328.9h16.6v2.6h-16.6zM1101.4 1343.3h12.1v2.6h-12.1zM1100.0 1355.3h15.1v2.6h-15.1z" fill="#c02c35"/>
<path d="M1096.0 1278.2h23.0v0.9h-23.0zM1092.2 1423.0h30.6v0.9h-30.6zM1095.3 1447.2h24.4v0.9h-24.4z" fill="#ea8469" fill-opacity="0.75"/>
<path d="M1100.8 1280.3h13.5v0.7h-13.5zM1100.4 1300.9h14.2v0.7h-14.2zM1101.5 1303.0h12.0v0.7h-12.0zM1100.8 1362.7h13.4v0.7h-13.4zM1100.1 1376.1h14.8v0.7h-14.8zM1098.9 1391.9h17.1v0.7h-17.1zM1099.3 1399.7h16.4v0.7h-16.4zM1101.3 1432.4h12.4v0.7h-12.4zM1099.3 1450.3h16.4v0.7h-16.4z" fill="#000" fill-opacity="0.7"/>
<path d="M1093.2 1285.6h28.5v0.9h-28.5zM1092.2 1323.1h30.5v0.9h-30.5zM1094.0 1359.0h27.0v0.9h-27.0z" fill="#c02c35" fill-opacity="0.75"/>
<path d="M1093.4 1295.5h28.3v0.9h-28.3z" fill="#b5192c" fill-opacity="0.75"/>
<path d="M1093.6 1298.8h27.9v0.9h-27.9zM1092.1 1321.5h30.8v0.9h-30.8zM1092.2 1365.7h30.7v0.9h-30.7z" fill="#b5192c" fill-opacity="0.75"/>
<path d="M1101.5 1302.6h12.0v2.6h-12.0zM1099.0 1357.7h17.0v2.6h-17.0zM1100.1 1374.4h14.8v2.6h-14.8zM1101.5 1384.0h12.0v2.6h-12.0zM1100.3 1386.4h14.4v2.6h-14.4zM1098.9 1391.2h17.1v2.6h-17.1zM1100.4 1393.6h14.2v2.6h-14.2zM1099.2 1396.0h16.6v2.6h-16.6zM1099.7 1403.2h15.6v2.6h-15.6zM1099.8 1405.5h15.4v2.6h-15.4zM1099.6 1415.1h15.8v2.6h-15.8zM1100.2 1417.5h14.6v2.6h-14.6z" fill="#e0664f"/>
<path d="M1102.0 1305.0h11.1v2.6h-11.1zM1099.3 1307.4h16.4v2.6h-16.4zM1100.8 1317.0h13.4v2.6h-13.4zM1099.6 1336.1h15.7v2.6h-15.7zM1100.1 1345.7h14.8v2.6h-14.8zM1100.9 1348.1h13.3v2.6h-13.3zM1099.1 1352.9h16.8v2.6h-16.8zM1101.6 1360.1h11.8v2.6h-11.8zM1100.8 1362.5h13.4v2.6h-13.4zM1099.0 1367.2h17.0v2.6h-17.0zM1100.1 1369.6h14.8v2.6h-14.8zM1099.7 1376.8h15.6v2.6h-15.6zM1100.5 1381.6h13.9v2.6h-13.9zM1101.4 1388.8h12.3v2.6h-12.3zM1100.9 1400.8h13.2v2.6h-13.2z" fill="#d55346"/>
<path d="M1096.3 1332.2h22.5v0.9h-22.5z" fill="#d55346" fill-opacity="0.75"/>
<path d="M1097.7 1377.9h19.7v0.9h-19.7zM1094.7 1381.7h25.6v0.9h-25.6zM1097.0 1415.8h20.9v0.9h-20.9z" fill="#b5192c" fill-opacity="0.75"/>
<path d="M1093.4 1386.4h28.2v0.9h-28.2zM1093.2 1435.9h28.7v0.9h-28.7z" fill="#e5755c" fill-opacity="0.75"/>
<path d="M1094.5 1392.2h26.0v0.9h-26.0zM1094.7 1418.4h25.6v0.9h-25.6zM1096.3 1456.7h22.4v0.9h-22.4z" fill="#f4a283" fill-opacity="0.75"/>
<path d="M1094.8 1395.7h25.5v0.9h-25.5zM1095.8 1401.3h23.3v0.9h-23.3z" fill="#ca403e" fill-opacity="0.75"/>
<path d="M1097.7 1397.7h19.7v0.9h-19.7zM1096.1 1430.5h22.9v0.9h-22.9z" fill="#e0664f" fill-opacity="0.75"/>
<path d="M1099.3 1398.4h16.4v2.6h-16.4zM1101.3 1407.9h12.5v2.6h-12.5zM1100.6 1410.3h13.7v2.6h-13.7zM1100.6 1412.7h13.9v2.6h-13.9zM1099.5 1419.9h16.1v2.6h-16.1zM1099.7 1422.3h15.5v2.6h-15.5zM1101.8 1427.1h11.4v2.6h-11.4zM1101.6 1429.5h11.8v2.6h-11.8zM1101.3 1431.9h12.4v2.6h-12.4zM1100.4 1434.3h14.1v2.6h-14.1zM1099.0 1439.1h16.9v2.6h-16.9zM1099.6 1453.4h15.8v2.6h-15.8zM1100.1 1460.6h14.7v2.6h-14.7z" fill="#e5755c"/>
<path d="M1099.7 1424.7h15.6v2.6h-15.6zM1100.7 1436.7h13.6v2.6h-13.6zM1099.9 1441.5h15.3v2.6h-15.3zM1100.4 1446.2h14.1v2.6h-14.1zM1099.3 1448.6h16.4v2.6h-16.4z" fill="#ea8469"/>
<path d="M1094.7 1429.3h25.6v0.9h-25.6z" fill="#f4b49a" fill-opacity="0.75"/>
<path d="M1101.5 1443.8h11.9v2.6h-11.9zM1099.6 1451.0h15.7v2.6h-15.7zM1099.5 1455.8h16.1v2.6h-16.1z" fill="#ef9376"/>
<path d="M1096.6 1445.3h21.8v0.9h-21.8zM1096.9 1461.5h21.2v0.9h-21.2z" fill="#f4ab8e" fill-opacity="0.75"/>
<path d="M1101.1 1458.2h12.7v2.6h-12.7z" fill="#f4a283"/>
<rect x="1042.1" y="1466.6" width="130.8" height="146.8" fill="#000"/>
<path d="M1101.8 1466.6h11.4v2.7h-11.4zM1101.2 1469.0h12.6v2.7h-12.6zM1100.7 1473.8h13.6v2.7h-13.6zM1099.1 1476.2h16.7v2.7h-16.7zM1101.8 1478.6h11.3v2.7h-11.3zM1101.3 1481.0h12.5v2.7h-12.5zM1101.4 1483.4h12.2v2.7h-12.2zM1100.7 1493.1h13.5v2.7h-13.5zM1100.1 1507.5h14.8v2.7h-14.8z" fill="#ef9376"/>
<path d="M1101.2 1471.4h12.5v2.7h-12.5zM1100.6 1485.9h13.8v2.7h-13.8zM1099.7 1488.3h15.7v2.7h-15.7zM1100.0 1490.7h15.0v2.7h-15.0zM1100.5 1495.5h14.1v2.7h-14.1zM1100.5 1505.1h14.0v2.7h-14.0zM1100.0 1517.1h15.0v2.7h-15.0zM1101.4 1522.0h12.1v2.7h-12.1zM1100.8 1524.4h13.4v2.7h-13.4zM1101.7 1529.2h11.7v2.7h-11.7zM1100.3 1538.8h14.4v2.7h-14.4zM1099.9 1546.0h15.2v2.7h-15.2zM1099.3 1553.2h16.5v2.7h-16.5zM1099.8 1558.0h15.5v2.7h-15.5z" fill="#f4a283"/>
<path d="M1101.2 1472.0h12.5v0.7h-12.5zM1101.3 1481.8h12.5v0.7h-12.5zM1101.4 1484.3h12.2v0.7h-12.2zM1099.9 1548.2h15.2v0.7h-15.2zM1100.4 1578.2h14.3v0.7h-14.3z" fill="#000" fill-opacity="0.7"/>
<path d="M1097.0 1479.5h21.0v0.9h-21.0zM1094.1 1514.6h26.7v0.9h-26.7zM1096.0 1515.8h23.1v0.9h-23.1zM1095.7 1520.1h23.7v0.9h-23.7zM1096.6 1581.1h21.8v0.9h-21.8z" fill="#ef9376" fill-opacity="0.75"/>
<path d="M1092.2 1481.1h30.6v0.9h-30.6z" fill="#e0664f" fill-opacity="0.75"/>
<path d="M1097.1 1492.6h20.7v0.9h-20.7zM1093.8 1561.7h27.4v0.9h-27.4z" fill="#f4b49a" fill-opacity="0.75"/>
<path d="M1095.1 1493.5h24.8v0.9h-24.8z" fill="#e5755c" fill-opacity="0.75"/>
<path d="M1096.1 1495.8h22.8v0.9h-22.8z" fill="#f3c7b1" fill-opacity="0.75"/>
<path d="M1101.1 1497.9h12.8v2.7h-12.8zM1100.3 1526.8h14.4v2.7h-14.4z" fill="#ea8469"/>
<path d="M1095.0 1498.7h25.1v0.9h-25.1z" fill="#ca403e" fill-opacity="0.75"/>
<path d="M1100.1 1500.3h14.8v2.7h-14.8zM1101.9 1502.7h11.2v2.7h-11.2zM1099.7 1509.9h15.6v2.7h-15.6zM1099.5 1512.3h16.1v2.7h-16.1zM1102.0 1514.7h11.1v2.7h-11.1zM1100.8 1519.5h13.5v2.7h-13.5zM1100.3 1531.6h14.4v2.7h-14.4zM1099.6 1534.0h15.8v2.7h-15.8zM1101.3 1541.2h12.5v2.7h-12.5zM1101.4 1543.6h12.2v2.7h-12.2zM1101.3 1548.4h12.4v2.7h-12.4zM1100.0 1567.7h15.0v2.7h-15.0zM1102.1 1589.3h10.9v2.7h-10.9z" fill="#f4ab8e"/>
<path d="M1093.1 1510.3h28.8v0.9h-28.8z" fill="#f4a283" fill-opacity="0.75"/>
<path d="M1094.3 1523.0h26.3v0.9h-26.3zM1095.2 1538.1h24.6v0.9h-24.6zM1095.4 1573.3h24.3v0.9h-24.3z" fill="#ea8469" fill-opacity="0.75"/>
<path d="M1097.8 1526.0h19.4v0.9h-19.4z" fill="#f3bea6" fill-opacity="0.75"/>
<path d="M1101.2 1536.4h12.5v2.7h-12.5zM1100.7 1550.8h13.6v2.7h-13.6zM1100.6 1555.6h13.8v2.7h-13.8zM1100.6 1560.5h13.8v2.7h-13.8zM1101.4 1562.9h12.3v2.7h-12.3zM1102.1 1570.1h10.8v2.7h-10.8zM1100.0 1572.5h15.1v2.7h-15.1zM1101.0 1574.9h13.0v2.7h-13.0zM1100.4 1577.3h14.3v2.7h-14.3zM1102.2 1579.7h10.7v2.7h-10.7z" fill="#f4b49a"/>
<path d="M1092.5 1559.7h30.0v0.9h-30.0zM1093.3 1585.8h28.4v0.9h-28.4z" fill="#f4ab8e" fill-opacity="0.75"/>
<path d="M1101.4 1565.3h12.2v2.7h-12.2zM1100.8 1586.9h13.3v2.7h-13.3z" fill="#f3bea6"/>
<path d="M1100.2 1582.1h14.5v2.7h-14.5zM1101.5 1584.5h12.1v2.7h-12.1zM1101.3 1591.7h12.4v2.7h-12.4zM1100.1 1599.0h14.8v2.7h-14.8z" fill="#f3c7b1"/>
<path d="M1100.0 1594.1h15.0v2.7h-15.0zM1101.6 1596.6h11.8v2.7h-11.8zM1100.6 1603.8h13.7v2.7h-13.7z" fill="#eeccbc"/>
<path d="M1097.8 1597.6h19.5v0.9h-19.5zM1094.7 1608.6h25.7v0.9h-25.7z" fill="#eeccbc" fill-opacity="0.75"/>
<path d="M1101.4 1601.4h12.2v2.7h-12.2z" fill="#e3d7d0"/>
<path d="M1101.5 1606.2h11.9v2.7h-11.9zM1102.2 1608.6h10.6v2.7h-10.6zM1100.9 1611.0h13.3v2.7h-13.3z" fill="#e8d2c6"/>
<rect x="1185" y="1264.3" width="130.7" height="198.7" fill="#000"/>
<path d="M1243.3 1264.3h14.0v2.6h-14.0zM1244.7 1269.1h11.4v2.6h-11.4zM1244.4 1273.9h11.8v2.6h-11.8zM1242.7 1278.7h15.2v2.6h-15.2zM1243.9 1281.1h12.8v2.6h-12.8zM1242.5 1283.5h15.8v2.6h-15.8zM1243.8 1285.8h13.1v2.6h-13.1zM1244.7 1290.6h11.4v2.6h-11.4zM1243.1 1293.0h14.5v2.6h-14.5zM1242.4 1295.4h15.9v2.6h-15.9zM1242.9 1297.8h15.0v2.6h-15.0zM1243.9 1300.2h12.9v2.6h-12.9zM1244.5 1302.6h11.7v2.6h-11.7zM1244.2 1307.4h12.2v2.6h-12.2zM1243.6 1309.8h13.4v2.6h-13.4zM1242.8 1314.6h15.1v2.6h-15.1zM1243.7 1324.1h13.3v2.6h-13.3zM1242.1 1328.9h16.4v2.6h-16.4zM1243.8 1336.1h13.0v2.6h-13.0zM1243.8 1340.9h13.0v2.6h-13.0zM1242.7 1348.1h15.2v2.6h-15.2zM1242.0 1352.9h16.8v2.6h-16.8zM1243.4 1355.3h13.9v2.6h-13.9zM1243.8 1393.6h13.1v2.6h-13.1zM1243.8 1405.5h13.1v2.6h-13.1zM1242.0 1410.3h16.7v2.6h-16.7zM1243.0 1412.7h14.6v2.6h-14.6zM1243.2 1422.3h14.4v2.6h-14.4zM1244.0 1429.5h12.8v2.6h-12.8zM1244.1 1431.9h12.6v2.6h-12.6zM1243.1 1439.1h14.6v2.6h-14.6zM1243.4 1443.8h13.9v2.6h-13.9z" fill="#f4ab8e"/>
<path d="M1244.3 1266.7h12.1v2.6h-12.1zM1242.8 1271.5h15.1v2.6h-15.1zM1243.8 1357.7h13.2v2.6h-13.2zM1243.8 1364.8h13.2v2.6h-13.2zM1242.6 1367.2h15.6v2.6h-15.6zM1244.5 1376.8h11.6v2.6h-11.6zM1242.1 1391.2h16.4v2.6h-16.4zM1244.8 1396.0h11.1v2.6h-11.1zM1243.7 1403.2h13.4v2.6h-13.4z" fill="#f4b49a"/>
<path d="M1239.2 1272.0h22.3v0.9h-22.3zM1240.4 1355.9h20.0v0.9h-20.0z" fill="#f3bea6" fill-opacity="0.75"/>
<path d="M1242.0 1276.3h16.7v2.6h-16.7zM1243.1 1305.0h14.5v2.6h-14.5zM1243.8 1312.2h13.2v2.6h-13.2zM1242.0 1317.0h16.7v2.6h-16.7zM1243.2 1321.8h14.4v2.6h-14.4zM1243.9 1333.7h12.9v2.6h-12.9zM1244.7 1338.5h11.3v2.6h-11.3zM1243.6 1345.7h13.6v2.6h-13.6zM1242.2 1379.2h16.3v2.6h-16.3zM1243.5 1388.8h13.7v2.6h-13.7zM1242.1 1400.8h16.4v2.6h-16.4zM1242.6 1417.5h15.4v2.6h-15.4zM1243.9 1434.3h12.9v2.6h-12.9zM1243.1 1446.2h14.4v2.6h-14.4zM1242.9 1451.0h15.0v2.6h-15.0zM1243.1 1458.2h14.4v2.6h-14.4z" fill="#ef9376"/>
<path d="M1240.5 1279.2h19.7v0.9h-19.7zM1238.8 1283.7h23.0v0.9h-23.0zM1240.2 1319.6h20.3v0.9h-20.3zM1239.5 1326.8h21.8v0.9h-21.8zM1235.1 1333.7h30.6v0.9h-30.6z" fill="#ea8469" fill-opacity="0.75"/>
<path d="M1243.4 1288.2h13.9v2.6h-13.9zM1243.7 1319.4h13.4v2.6h-13.4zM1244.6 1326.5h11.6v2.6h-11.6zM1242.6 1331.3h15.4v2.6h-15.4zM1243.3 1343.3h14.2v2.6h-14.2zM1242.0 1350.5h16.8v2.6h-16.8zM1243.7 1362.5h13.3v2.6h-13.3zM1243.0 1369.6h14.7v2.6h-14.7zM1244.0 1372.0h12.7v2.6h-12.7zM1243.8 1381.6h13.2v2.6h-13.2zM1244.4 1384.0h11.9v2.6h-11.9zM1243.0 1386.4h14.6v2.6h-14.6zM1243.6 1398.4h13.5v2.6h-13.5zM1244.7 1415.1h11.4v2.6h-11.4zM1242.2 1419.9h16.3v2.6h-16.3zM1244.1 1424.7h12.5v2.6h-12.5zM1243.6 1427.1h13.5v2.6h-13.5zM1244.0 1436.7h12.7v2.6h-12.7zM1244.4 1441.5h11.9v2.6h-11.9zM1242.8 1448.6h15.1v2.6h-15.1zM1244.8 1453.4h11.1v2.6h-11.1zM1244.2 1460.6h12.3v2.6h-12.3z" fill="#f4a283"/>
<path d="M1240.3 1306.5h20.1v0.9h-20.1z" fill="#f3c7b1" fill-opacity="0.75"/>
<path d="M1235.5 1309.3h29.6v0.9h-29.6zM1238.3 1442.8h24.1v0.9h-24.1z" fill="#f4ab8e" fill-opacity="0.75"/>
<path d="M1243.6 1346.3h13.6v0.7h-13.6zM1243.8 1366.5h13.2v0.7h-13.2zM1244.8 1397.1h11.1v0.7h-11.1zM1244.1 1433.6h12.6v0.7h-12.6z" fill="#000" fill-opacity="0.7"/>
<path d="M1236.2 1350.7h28.2v0.9h-28.2zM1240.0 1367.1h20.6v0.9h-20.6zM1237.4 1380.6h25.9v0.9h-25.9zM1240.8 1395.2h19.2v0.9h-19.2zM1240.7 1435.7h19.4v0.9h-19.4z" fill="#f4a283" fill-opacity="0.75"/>
<path d="M1242.2 1360.1h16.3v2.6h-16.3z" fill="#ea8469"/>
<path d="M1238.0 1368.2h24.7v0.9h-24.7zM1239.6 1455.8h21.5v0.9h-21.5z" fill="#f4b49a" fill-opacity="0.75"/>
<path d="M1244.0 1374.4h12.7v2.6h-12.7zM1244.5 1455.8h11.7v2.6h-11.7z" fill="#f3bea6"/>
<path d="M1238.8 1377.5h23.1v0.9h-23.1zM1240.0 1419.6h20.6v0.9h-20.6zM1235.5 1428.1h29.7v0.9h-29.7z" fill="#e5755c" fill-opacity="0.75"/>
<path d="M1242.6 1407.9h15.5v2.6h-15.5z" fill="#e5755c"/>
<path d="M1236.0 1424.5h28.6v0.9h-28.6z" fill="#eeccbc" fill-opacity="0.75"/>
<path d="M1240.3 1440.8h20.0v0.9h-20.0z" fill="#e8d2c6" fill-opacity="0.75"/>
<rect x="1185" y="1466.6" width="130.7" height="146.8" fill="#000"/>
<path d="M1242.4 1466.6h16.0v2.7h-16.0zM1244.0 1476.2h12.6v2.7h-12.6zM1244.9 1485.9h11.0v2.7h-11.0zM1242.0 1507.5h16.6v2.7h-16.6zM1244.4 1512.3h11.8v2.7h-11.8zM1243.0 1514.7h14.7v2.7h-14.7zM1244.6 1534.0h11.5v2.7h-11.5zM1242.4 1536.4h16.0v2.7h-16.0zM1244.8 1538.8h11.0v2.7h-11.0zM1242.1 1577.3h16.5v2.7h-16.5zM1244.7 1601.4h11.3v2.7h-11.3zM1244.5 1611.0h11.7v2.7h-11.7z" fill="#f4ab8e"/>
<path d="M1243.5 1469.0h13.8v2.7h-13.8zM1242.3 1497.9h16.2v2.7h-16.2zM1243.2 1546.0h14.3v2.7h-14.3zM1243.6 1548.4h13.6v2.7h-13.6zM1242.8 1558.0h15.2v2.7h-15.2zM1242.8 1594.1h15.2v2.7h-15.2zM1244.4 1603.8h11.9v2.7h-11.9z" fill="#ea8469"/>
<path d="M1243.4 1471.4h13.8v2.7h-13.8zM1242.7 1478.6h15.3v2.7h-15.3zM1243.0 1483.4h14.7v2.7h-14.7zM1244.6 1488.3h11.5v2.7h-11.5zM1242.7 1500.3h15.4v2.7h-15.4zM1242.7 1502.7h15.3v2.7h-15.3zM1244.6 1529.2h11.5v2.7h-11.5zM1242.5 1555.6h15.8v2.7h-15.8zM1244.8 1562.9h11.1v2.7h-11.1zM1244.6 1572.5h11.6v2.7h-11.6zM1242.6 1574.9h15.4v2.7h-15.4zM1242.8 1589.3h15.2v2.7h-15.2zM1244.4 1599.0h11.9v2.7h-11.9zM1243.2 1606.2h14.2v2.7h-14.2zM1242.5 1608.6h15.6v2.7h-15.6z" fill="#ef9376"/>
<path d="M1243.7 1473.8h13.2v2.7h-13.2zM1244.6 1490.7h11.4v2.7h-11.4zM1244.4 1493.1h11.9v2.7h-11.9zM1242.1 1505.1h16.6v2.7h-16.6zM1243.1 1509.9h14.5v2.7h-14.5zM1243.4 1517.1h13.9v2.7h-13.9zM1244.0 1519.5h12.6v2.7h-12.6zM1243.8 1524.4h13.2v2.7h-13.2zM1244.3 1531.6h12.1v2.7h-12.1zM1242.7 1541.2h15.3v2.7h-15.3zM1244.1 1560.5h12.6v2.7h-12.6zM1242.2 1567.7h16.3v2.7h-16.3zM1244.0 1570.1h12.7v2.7h-12.7zM1242.8 1579.7h15.1v2.7h-15.1zM1242.1 1582.1h16.6v2.7h-16.6zM1244.7 1586.9h11.3v2.7h-11.3zM1244.7 1596.6h11.2v2.7h-11.2z" fill="#f4a283"/>
<path d="M1238.6 1477.9h23.4v0.9h-23.4zM1239.3 1512.6h22.0v0.9h-22.0z" fill="#f3c7b1" fill-opacity="0.75"/>
<path d="M1239.5 1480.1h21.7v0.9h-21.7zM1235.8 1501.9h29.1v0.9h-29.1zM1238.7 1597.8h23.4v0.9h-23.4z" fill="#e0664f" fill-opacity="0.75"/>
<path d="M1244.0 1481.0h12.6v2.7h-12.6zM1243.4 1495.5h13.9v2.7h-13.9zM1242.4 1565.3h15.9v2.7h-15.9z" fill="#f3bea6"/>
<path d="M1238.5 1493.2h23.7v0.9h-23.7zM1237.3 1599.8h26.2v0.9h-26.2z" fill="#ea8469" fill-opacity="0.75"/>
<path d="M1243.4 1495.5h13.9v0.7h-13.9zM1244.6 1523.0h11.6v0.7h-11.6zM1244.3 1531.7h12.1v0.7h-12.1zM1244.0 1551.6h12.7v0.7h-12.7zM1242.5 1557.9h15.8v0.7h-15.8z" fill="#000" fill-opacity="0.7"/>
<path d="M1236.8 1506.5h27.1v0.9h-27.1z" fill="#f4a283" fill-opacity="0.75"/>
<path d="M1240.6 1510.5h19.5v0.9h-19.5zM1238.5 1528.6h23.7v0.9h-23.7zM1239.9 1605.1h20.9v0.9h-20.9z" fill="#e5755c" fill-opacity="0.75"/>
<path d="M1244.6 1522.0h11.6v2.7h-11.6zM1244.1 1526.8h12.6v2.7h-12.6zM1244.0 1550.8h12.7v2.7h-12.7zM1242.4 1553.2h15.9v2.7h-15.9zM1243.3 1584.5h14.1v2.7h-14.1zM1243.0 1591.7h14.8v2.7h-14.8z" fill="#f4b49a"/>
<path d="M1242.4 1543.6h15.8v2.7h-15.8z" fill="#e5755c"/>
<path d="M1240.1 1576.2h20.4v0.9h-20.4z" fill="#ca403e" fill-opacity="0.75"/>
<path d="M1237.0 1592.5h26.6v0.9h-26.6z" fill="#f4ab8e" fill-opacity="0.75"/>
<path d="M1237.4 1601.7h25.9v0.9h-25.9z" fill="#eeccbc" fill-opacity="0.75"/>
<rect x="1373.9" y="1262.8" width="131.5" height="351" fill="#000"/>
<path d="M1430.7 1262.8h17.5v2.7h-17.5zM1431.2 1265.2h16.4v2.7h-16.4zM1431.4 1272.4h16.0v2.7h-16.0zM1431.4 1274.8h16.0v2.7h-16.0zM1429.3 1277.2h20.2v2.7h-20.2zM1428.1 1279.6h22.5v2.7h-22.5zM1432.0 1282.0h14.8v2.7h-14.8zM1430.0 1284.4h18.9v2.7h-18.9zM1431.3 1286.8h16.2v2.7h-16.2z" fill="#d55346"/>
<path d="M1431.0 1267.6h16.9v2.7h-16.9zM1429.2 1270.0h20.4v2.7h-20.4z" fill="#ca403e"/>
<path d="M1425.0 1268.0h28.7v0.9h-28.7z" fill="#b5192c" fill-opacity="0.75"/>
<path d="M1418.0 1274.4h42.7v0.9h-42.7z" fill="#ca403e" fill-opacity="0.75"/>
<path d="M1420.2 1276.3h38.4v0.9h-38.4zM1422.6 1283.1h33.5v0.9h-33.5zM1416.6 1324.9h45.5v0.9h-45.5zM1424.3 1325.9h30.3v0.9h-30.3zM1415.9 1367.8h46.9v0.9h-46.9z" fill="#e5755c" fill-opacity="0.75"/>
<path d="M1431.4 1274.9h16.0v0.7h-16.0zM1432.0 1283.7h14.8v0.7h-14.8zM1431.2 1307.2h16.4v0.7h-16.4zM1427.7 1308.6h23.3v0.7h-23.3zM1429.9 1317.1h19.1v0.7h-19.1zM1429.2 1346.3h20.3v0.7h-20.3zM1425.9 1382.2h26.9v0.7h-26.9zM1428.0 1386.2h22.8v0.7h-22.8zM1423.3 1424.8h32.2v0.7h-32.2zM1430.5 1523.0h17.8v0.7h-17.8zM1429.1 1529.2h20.6v0.7h-20.6zM1429.3 1611.0h20.3v0.7h-20.3z" fill="#000" fill-opacity="0.7"/>
<path d="M1418.3 1286.1h42.2v0.9h-42.2z" fill="#b5192c" fill-opacity="0.75"/>
<path d="M1427.9 1289.2h22.9v2.7h-22.9zM1426.7 1294.1h25.3v2.7h-25.3zM1431.2 1296.5h16.3v2.7h-16.3zM1430.4 1298.9h17.9v2.7h-17.9zM1429.8 1301.3h19.1v2.7h-19.1zM1431.2 1306.1h16.4v2.7h-16.4z" fill="#e0664f"/>
<path d="M1428.1 1291.6h22.6v2.7h-22.6zM1428.8 1303.7h21.1v2.7h-21.1zM1427.7 1308.5h23.3v2.7h-23.3zM1429.6 1310.9h19.5v2.7h-19.5zM1429.3 1313.3h20.2v2.7h-20.2zM1429.9 1315.7h19.1v2.7h-19.1zM1430.6 1318.1h17.5v2.7h-17.5zM1429.6 1327.7h19.5v2.7h-19.5z" fill="#e5755c"/>
<path d="M1421.0 1294.6h36.9v0.9h-36.9zM1411.9 1415.5h54.9v0.9h-54.9z" fill="#f4a283" fill-opacity="0.75"/>
<path d="M1417.3 1296.9h44.1v0.9h-44.1zM1416.2 1371.8h46.3v0.9h-46.3z" fill="#e0664f" fill-opacity="0.75"/>
<path d="M1416.5 1314.0h45.7v0.9h-45.7zM1423.1 1321.3h32.5v0.9h-32.5zM1420.1 1343.3h38.5v0.9h-38.5zM1421.5 1386.5h35.7v0.9h-35.7zM1419.8 1389.5h39.2v0.9h-39.2z" fill="#f4ab8e" fill-opacity="0.75"/>
<path d="M1421.7 1317.0h35.4v0.9h-35.4zM1420.8 1328.2h37.2v0.9h-37.2z" fill="#ea8469" fill-opacity="0.75"/>
<path d="M1426.7 1320.5h25.4v2.7h-25.4zM1429.3 1322.9h20.3v2.7h-20.3zM1430.3 1330.1h18.1v2.7h-18.1zM1427.2 1332.5h24.4v2.7h-24.4zM1427.5 1334.9h23.7v2.7h-23.7zM1429.2 1344.5h20.3v2.7h-20.3z" fill="#ea8469"/>
<path d="M1431.1 1325.3h16.6v2.7h-16.6zM1429.5 1337.3h19.8v2.7h-19.8zM1426.8 1339.7h25.1v2.7h-25.1zM1426.3 1346.9h26.1v2.7h-26.1zM1430.5 1356.6h17.7v2.7h-17.7z" fill="#ef9376"/>
<path d="M1417.1 1335.7h44.6v0.9h-44.6zM1417.4 1360.9h44.0v0.9h-44.0zM1419.5 1361.5h39.7v0.9h-39.7zM1421.3 1395.7h36.2v0.9h-36.2z" fill="#ef9376" fill-opacity="0.75"/>
<path d="M1429.1 1342.1h20.6v2.7h-20.6zM1428.8 1349.3h21.2v2.7h-21.2zM1429.1 1351.8h20.6v2.7h-20.6zM1430.9 1354.2h17.1v2.7h-17.1zM1429.2 1361.4h20.3v2.7h-20.3zM1425.5 1363.8h27.9v2.7h-27.9zM1429.0 1371.0h20.9v2.7h-20.9z" fill="#f4a283"/>
<path d="M1422.3 1358.0h34.1v0.9h-34.1zM1421.9 1400.4h34.9v0.9h-34.9zM1415.8 1427.5h47.2v0.9h-47.2z" fill="#f3c7b1" fill-opacity="0.75"/>
<path d="M1425.3 1359.0h28.2v2.7h-28.2zM1426.5 1366.2h25.8v2.7h-25.8zM1429.8 1368.6h19.2v2.7h-19.2zM1429.0 1373.4h20.8v2.7h-20.8zM1426.0 1375.8h26.7v2.7h-26.7zM1429.9 1378.2h18.9v2.7h-18.9zM1425.9 1380.6h26.9v2.7h-26.9z" fill="#f4ab8e"/>
<path d="M1419.9 1376.9h39.0v0.9h-39.0zM1411.2 1409.1h56.4v0.9h-56.4z" fill="#e8d2c6" fill-opacity="0.75"/>
<path d="M1428.6 1383.0h21.5v2.7h-21.5zM1428.0 1385.4h22.8v2.7h-22.8zM1427.6 1387.8h23.6v2.7h-23.6zM1430.4 1390.2h18.1v2.7h-18.1zM1428.6 1392.6h21.7v2.7h-21.7zM1427.6 1402.2h23.6v2.7h-23.6z" fill="#f4b49a"/>
<path d="M1430.3 1395.0h18.2v2.7h-18.2zM1425.2 1397.4h28.5v2.7h-28.5zM1426.1 1399.8h26.5v2.7h-26.5zM1423.8 1404.6h31.2v2.7h-31.2z" fill="#f3bea6"/>
<path d="M1415.6 1398.1h47.6v0.9h-47.6zM1414.1 1410.7h50.5v0.9h-50.5zM1414.4 1438.2h50.1v0.9h-50.1zM1419.9 1453.0h39.0v0.9h-39.0z" fill="#eeccbc" fill-opacity="0.75"/>
<path d="M1419.2 1404.0h40.5v0.9h-40.5zM1414.7 1421.8h49.4v0.9h-49.4zM1416.5 1439.9h45.7v0.9h-45.7z" fill="#f3bea6" fill-opacity="0.75"/>
<path d="M1411.9 1406.2h54.9v0.9h-54.9z" fill="#f4b49a" fill-opacity="0.75"/>
<path d="M1428.4 1407.0h22.0v2.7h-22.0zM1427.4 1409.5h24.1v2.7h-24.1zM1423.4 1411.9h32.0v2.7h-32.0zM1428.0 1414.3h22.7v2.7h-22.7zM1423.3 1421.5h32.3v2.7h-32.3z" fill="#f3c7b1"/>
<path d="M1426.0 1416.7h26.7v2.7h-26.7z" fill="#eeccbc"/>
<path d="M1425.3 1419.1h28.2v2.7h-28.2zM1423.3 1423.9h32.2v2.7h-32.2zM1429.4 1426.3h19.9v2.7h-19.9zM1424.5 1428.7h29.8v2.7h-29.8zM1426.7 1431.1h25.5v2.7h-25.5zM1426.1 1435.9h26.5v2.7h-26.5z" fill="#e8d2c6"/>
<path d="M1426.8 1433.5h25.2v2.7h-25.2zM1426.6 1438.3h25.6v2.7h-25.6zM1430.3 1440.7h18.2v2.7h-18.2zM1427.5 1443.1h23.7v2.7h-23.7z" fill="#e3d7d0"/>
<path d="M1422.0 1435.7h34.7v0.9h-34.7zM1413.8 1544.8h51.1v0.9h-51.1z" fill="#cad4e7" fill-opacity="0.75"/>
<path d="M1429.7 1445.5h19.4v2.7h-19.4zM1426.8 1450.3h25.2v2.7h-25.2z" fill="#dedcdb"/>
<path d="M1429.7 1447.9h19.4v2.7h-19.4zM1428.7 1455.1h21.5v2.7h-21.5zM1428.0 1457.5h22.8v2.7h-22.8zM1429.5 1467.1h19.7v2.7h-19.7z" fill="#d7dadf"/>
<path d="M1421.1 1449.7h36.6v0.9h-36.6zM1423.9 1465.4h31.0v0.9h-31.0z" fill="#e3d7d0" fill-opacity="0.75"/>
<path d="M1420.2 1451.6h38.4v0.9h-38.4z" fill="#d0d7e3" fill-opacity="0.75"/>
<path d="M1426.3 1452.7h26.3v2.7h-26.3zM1430.2 1459.9h18.3v2.7h-18.3zM1428.4 1464.7h22.0v2.7h-22.0zM1430.6 1469.6h17.6v2.7h-17.6zM1427.0 1472.0h24.8v2.7h-24.8zM1426.8 1484.0h25.1v2.7h-25.1z" fill="#d0d7e3"/>
<path d="M1426.8 1462.3h25.1v2.7h-25.1zM1428.8 1474.4h21.2v2.7h-21.2zM1427.9 1476.8h22.9v2.7h-22.9zM1427.6 1479.2h23.5v2.7h-23.5zM1427.7 1481.6h23.4v2.7h-23.4zM1426.8 1486.4h25.2v2.7h-25.2z" fill="#cad4e7"/>
<path d="M1418.4 1471.4h42.0v0.9h-42.0zM1417.0 1515.5h44.7v0.9h-44.7zM1422.4 1523.6h33.9v0.9h-33.9zM1418.2 1525.7h42.5v0.9h-42.5zM1418.0 1534.5h42.8v0.9h-42.8z" fill="#9fb2db" fill-opacity="0.75"/>
<path d="M1422.1 1472.9h34.7v0.9h-34.7zM1416.1 1482.8h46.5v0.9h-46.5zM1417.3 1489.2h44.3v0.9h-44.3zM1417.8 1508.3h43.1v0.9h-43.1z" fill="#d7dadf" fill-opacity="0.75"/>
<path d="M1426.8 1488.8h25.2v2.7h-25.2zM1428.3 1491.2h22.1v2.7h-22.1zM1427.8 1493.6h23.2v2.7h-23.2zM1430.2 1496.0h18.3v2.7h-18.3zM1430.4 1498.4h17.9v2.7h-17.9zM1428.4 1500.8h21.9v2.7h-21.9zM1428.9 1503.2h21.1v2.7h-21.1zM1430.6 1508.0h17.5v2.7h-17.5z" fill="#c3d2eb"/>
<path d="M1423.4 1491.6h31.9v0.9h-31.9zM1414.6 1548.9h49.5v0.9h-49.5z" fill="#c3d2eb" fill-opacity="0.75"/>
<path d="M1420.5 1494.1h37.9v0.9h-37.9zM1417.4 1564.2h44.0v0.9h-44.0zM1418.6 1580.1h41.6v0.9h-41.6zM1424.0 1590.3h30.7v0.9h-30.7z" fill="#abbce0" fill-opacity="0.75"/>
<path d="M1426.3 1505.6h26.2v2.7h-26.2zM1426.2 1510.4h26.4v2.7h-26.4zM1428.2 1512.8h22.4v2.7h-22.4zM1427.1 1515.2h24.5v2.7h-24.5zM1426.4 1517.6h26.0v2.7h-26.0zM1428.2 1520.0h22.3v2.7h-22.3zM1430.5 1522.4h17.8v2.7h-17.8zM1429.5 1532.1h19.9v2.7h-19.9z" fill="#b7c7e6"/>
<path d="M1418.1 1507.7h42.5v0.9h-42.5z" fill="#869bcf" fill-opacity="0.75"/>
<path d="M1421.9 1520.9h35.0v0.9h-35.0zM1422.1 1533.7h34.6v0.9h-34.6z" fill="#dedcdb" fill-opacity="0.75"/>
<path d="M1426.3 1524.8h26.1v2.7h-26.1zM1427.8 1536.9h23.2v2.7h-23.2zM1429.6 1539.3h19.7v2.7h-19.7zM1425.2 1541.7h28.4v2.7h-28.4z" fill="#9fb2db"/>
<path d="M1429.1 1527.3h20.6v2.7h-20.6zM1429.9 1529.7h18.9v2.7h-18.9zM1429.5 1534.5h19.7v2.7h-19.7z" fill="#abbce0"/>
<path d="M1420.2 1529.0h38.4v0.9h-38.4zM1413.8 1530.2h51.2v0.9h-51.2zM1417.4 1538.0h43.9v0.9h-43.9zM1422.8 1568.3h33.2v0.9h-33.2zM1416.4 1604.6h46.0v0.9h-46.0z" fill="#7a8ec8" fill-opacity="0.75"/>
<path d="M1420.6 1543.2h37.6v0.9h-37.6z" fill="#b7c7e6" fill-opacity="0.75"/>
<path d="M1429.8 1544.1h19.2v2.7h-19.2zM1424.7 1546.5h29.4v2.7h-29.4zM1429.0 1548.9h20.7v2.7h-20.7zM1426.1 1551.3h26.5v2.7h-26.5zM1428.2 1553.7h22.5v2.7h-22.5zM1430.7 1556.1h17.4v2.7h-17.4zM1429.1 1560.9h20.6v2.7h-20.6zM1429.0 1563.3h20.8v2.7h-20.8z" fill="#93a7d6"/>
<path d="M1423.0 1551.6h32.9v0.9h-32.9zM1421.8 1557.3h35.2v0.9h-35.2zM1414.9 1573.3h49.0v0.9h-49.0zM1415.6 1593.4h47.5v0.9h-47.5z" fill="#6176ba" fill-opacity="0.75"/>
<path d="M1430.0 1558.5h18.9v2.7h-18.9zM1425.1 1565.7h28.6v2.7h-28.6z" fill="#869bcf"/>
<path d="M1425.2 1568.1h28.3v2.7h-28.3zM1427.0 1570.5h24.7v2.7h-24.7zM1426.1 1572.9h26.5v2.7h-26.5zM1427.0 1575.3h24.7v2.7h-24.7zM1428.3 1577.7h22.1v2.7h-22.1z" fill="#7a8ec8"/>
<path d="M1418.6 1571.9h41.5v0.9h-41.5zM1419.2 1577.0h40.4v0.9h-40.4zM1417.4 1597.7h43.9v0.9h-43.9z" fill="#4457ab" fill-opacity="0.75"/>
<path d="M1425.4 1580.1h27.9v2.7h-27.9zM1428.3 1582.5h22.1v2.7h-22.1zM1430.6 1585.0h17.6v2.7h-17.6zM1427.2 1587.4h24.4v2.7h-24.4zM1428.6 1589.8h21.5v2.7h-21.5zM1426.3 1592.2h26.3v2.7h-26.3z" fill="#6e82c1"/>
<path d="M1429.7 1594.6h19.4v2.7h-19.4zM1427.3 1597.0h24.2v2.7h-24.2zM1427.4 1601.8h24.0v2.7h-24.0z" fill="#6176ba"/>
<path d="M1430.6 1599.4h17.6v2.7h-17.6zM1431.1 1604.2h16.6v2.7h-16.6zM1427.4 1606.6h24.0v2.7h-24.0z" fill="#586cb5"/>
<path d="M1418.5 1600.9h41.8v0.9h-41.8zM1416.1 1609.2h46.6v0.9h-46.6z" fill="#3b4da6" fill-opacity="0.75"/>
<path d="M1419.2 1609.0h40.5v0.9h-40.5z" fill="#586cb5" fill-opacity="0.75"/>
<path d="M1429.3 1609.0h20.3v2.7h-20.3zM1427.7 1611.4h23.4v2.7h-23.4z" fill="#4e62b0"/>
<rect x="1558.4" y="1263.9" width="132" height="350.8" fill="#f8f7fc"/>
<g clip-path="url(#cp251)"><rect x="1599.84" y="1263.9" width="50.96" height="2.54" fill="url(#band_5b3fa8)" fill-opacity="0.17"/><rect x="1601.8" y="1266.24" width="47.04" height="2.54" fill="url(#band_5b3fa8)" fill-opacity="0.32"/><rect x="1601.89" y="1268.58" width="46.86" height="2.54" fill="url(#band_5b3fa8)" fill-opacity="0.26"/><rect x="1600.61" y="1270.92" width="49.43" height="2.54" fill="url(#band_5b3fa8)" fill-opacity="0.54"/><rect x="1596.13" y="1273.25" width="58.4" height="2.54" fill="url(#band_5b3fa8)" fill-opacity="0.44"/><rect x="1575.66" y="1274.4" width="15.26" height="0.9" fill="#8a7cc8" fill-opacity="0.39"/><rect x="1596.44" y="1275.59" width="57.76" height="2.54" fill="url(#band_5b3fa8)" fill-opacity="0.28"/><rect x="1625.21" y="1275.99" width="37.84" height="0.9" fill="#8a7cc8" fill-opacity="0.44"/><rect x="1604.57" y="1277.93" width="41.52" height="2.54" fill="url(#band_5b3fa8)" fill-opacity="0.35"/><rect x="1560.56" y="1279.8" width="50.66" height="0.9" fill="#8a7cc8" fill-opacity="0.31"/><rect x="1599.42" y="1280.27" width="51.81" height="2.54" fill="url(#band_5b3fa8)" fill-opacity="0.48"/><rect x="1603.06" y="1282.61" width="44.52" height="2.54" fill="url(#band_5b3fa8)" fill-opacity="0.35"/><rect x="1601.52" y="1284.95" width="47.61" height="2.54" fill="url(#band_5b3fa8)" fill-opacity="0.59"/><rect x="1597.11" y="1287.29" width="56.44" height="2.54" fill="url(#band_5b3fa8)" fill-opacity="0.4"/><rect x="1570.66" y="1288.93" width="39.45" height="0.9" fill="#8a7cc8" fill-opacity="0.21"/><rect x="1602.39" y="1289.63" width="45.87" height="2.54" fill="url(#band_5b3fa8)" fill-opacity="0.33"/><rect x="1596.26" y="1291.96" width="58.13" height="2.54" fill="url(#band_5b3fa8)" fill-opacity="0.35"/><rect x="1669.14" y="1292.7" width="21.26" height="0.9" fill="#8a7cc8" fill-opacity="0.16"/><rect x="1600.21" y="1294.3" width="50.23" height="2.54" fill="url(#band_5b3fa8)" fill-opacity="0.28"/><rect x="1627.14" y="1295.01" width="40.69" height="0.9" fill="#8a7cc8" fill-opacity="0.3"/><rect x="1598.05" y="1296.64" width="54.56" height="2.54" fill="url(#band_5b3fa8)" fill-opacity="0.64"/><rect x="1573.47" y="1298.03" width="52.67" height="0.9" fill="#8a7cc8" fill-opacity="0.29"/><rect x="1601.78" y="1298.98" width="47.09" height="2.54" fill="url(#band_5b3fa8)" fill-opacity="0.15"/><rect x="1569.07" y="1300.13" width="51.51" height="0.9" fill="#8a7cc8" fill-opacity="0.31"/><rect x="1599.28" y="1301.32" width="52.09" height="2.54" fill="url(#band_5b3fa8)" fill-opacity="0.39"/><rect x="1603.29" y="1303.66" width="44.07" height="2.54" fill="url(#band_5b3fa8)" fill-opacity="0.2"/><rect x="1625.24" y="1304.34" width="40.75" height="0.9" fill="#8a7cc8" fill-opacity="0.33"/><rect x="1604.8" y="1306" width="41.05" height="2.54" fill="url(#band_5b3fa8)" fill-opacity="0.32"/><rect x="1651.24" y="1308.12" width="39.16" height="0.9" fill="#8a7cc8" fill-opacity="0.24"/><rect x="1604.87" y="1308.33" width="40.9" height="2.54" fill="url(#band_5b3fa8)" fill-opacity="0.18"/><rect x="1606.18" y="1310.67" width="38.28" height="2.54" fill="url(#band_5b3fa8)" fill-opacity="0.36"/><rect x="1595.04" y="1313.01" width="60.57" height="2.54" fill="url(#band_5b3fa8)" fill-opacity="0.31"/><rect x="1571.67" y="1315.33" width="67.18" height="0.9" fill="#8a7cc8" fill-opacity="0.29"/><rect x="1606.58" y="1315.35" width="37.48" height="2.54" fill="url(#band_5b3fa8)" fill-opacity="0.46"/><rect x="1651.3" y="1317.44" width="39.1" height="0.9" fill="#8a7cc8" fill-opacity="0.34"/><rect x="1600.72" y="1317.69" width="49.21" height="2.54" fill="url(#band_5b3fa8)" fill-opacity="0.42"/><rect x="1596.37" y="1320.03" width="57.91" height="2.54" fill="url(#band_5b3fa8)" fill-opacity="0.25"/><rect x="1560.97" y="1321.82" width="26.3" height="0.9" fill="#8a7cc8" fill-opacity="0.27"/><rect x="1599.71" y="1322.37" width="51.22" height="2.54" fill="url(#band_5b3fa8)" fill-opacity="0.36"/><rect x="1599.54" y="1324.71" width="51.56" height="2.54" fill="url(#band_5b3fa8)" fill-opacity="0.29"/><rect x="1664.42" y="1324.73" width="25.98" height="0.9" fill="#8a7cc8" fill-opacity="0.24"/><rect x="1597.94" y="1327.04" width="54.76" height="2.54" fill="url(#band_5b3fa8)" fill-opacity="0.16"/><rect x="1601.15" y="1329.38" width="48.35" height="2.54" fill="url(#band_5b3fa8)" fill-opacity="0.57"/><rect x="1661.49" y="1329.53" width="28.91" height="0.9" fill="#8a7cc8" fill-opacity="0.25"/><rect x="1601.83" y="1331.72" width="46.98" height="2.54" fill="url(#band_5b3fa8)" fill-opacity="0.21"/><rect x="1602.5" y="1334.06" width="45.64" height="2.54" fill="url(#band_5b3fa8)" fill-opacity="0.43"/><rect x="1601.62" y="1336.4" width="47.42" height="2.54" fill="url(#band_5b3fa8)" fill-opacity="0.2"/><rect x="1643.79" y="1337.9" width="18.16" height="0.9" fill="#8a7cc8" fill-opacity="0.23"/><rect x="1598.66" y="1338.74" width="53.33" height="2.54" fill="url(#band_5b3fa8)" fill-opacity="0.2"/><rect x="1605.08" y="1341.08" width="40.49" height="2.54" fill="url(#band_5b3fa8)" fill-opacity="0.3"/><rect x="1600.41" y="1343.41" width="49.82" height="2.54" fill="url(#band_5b3fa8)" fill-opacity="0.5"/><rect x="1600.5" y="1345.75" width="49.64" height="2.54" fill="url(#band_5b3fa8)" fill-opacity="0.46"/><rect x="1622.14" y="1346.49" width="40.8" height="0.9" fill="#8a7cc8" fill-opacity="0.32"/><rect x="1604.26" y="1348.09" width="42.13" height="2.54" fill="url(#band_5b3fa8)" fill-opacity="0.27"/><rect x="1578.58" y="1348.7" width="26.61" height="0.9" fill="#8a7cc8" fill-opacity="0.33"/><rect x="1604.8" y="1350.43" width="41.04" height="2.54" fill="url(#band_5b3fa8)" fill-opacity="0.18"/><rect x="1596.58" y="1352.77" width="57.49" height="2.54" fill="url(#band_5b3fa8)" fill-opacity="0.35"/><rect x="1604.93" y="1355.11" width="40.79" height="2.54" fill="url(#band_5b3fa8)" fill-opacity="0.13"/><rect x="1598.07" y="1357.45" width="54.51" height="2.54" fill="url(#band_5b3fa8)" fill-opacity="0.22"/><rect x="1595.23" y="1359.79" width="60.19" height="2.54" fill="url(#band_5b3fa8)" fill-opacity="0.11"/><rect x="1595.94" y="1361.97" width="24.85" height="0.9" fill="#8a7cc8" fill-opacity="0.42"/><rect x="1596.96" y="1362.12" width="56.73" height="2.54" fill="url(#band_5b3fa8)" fill-opacity="0.29"/><rect x="1605.27" y="1364.46" width="40.1" height="2.54" fill="url(#band_5b3fa8)" fill-opacity="0.07"/><rect x="1597.54" y="1366.8" width="55.58" height="2.54" fill="url(#band_5b3fa8)" fill-opacity="0.31"/><rect x="1601.7" y="1369.14" width="47.24" height="2.54" fill="url(#band_5b3fa8)" fill-opacity="0.11"/><rect x="1597.31" y="1371.48" width="56.04" height="2.54" fill="url(#band_5b3fa8)" fill-opacity="0.28"/><rect x="1604.18" y="1373.82" width="42.28" height="2.54" fill="url(#band_5b3fa8)" fill-opacity="0.29"/><rect x="1585.3" y="1374" width="33.7" height="0.9" fill="#8a7cc8" fill-opacity="0.18"/><rect x="1604.71" y="1376.16" width="41.22" height="2.54" fill="url(#band_5b3fa8)" fill-opacity="0.41"/><rect x="1595.28" y="1378.49" width="60.09" height="2.54" fill="url(#band_5b3fa8)" fill-opacity="0.11"/><rect x="1670.24" y="1380.12" width="20.16" height="0.9" fill="#8a7cc8" fill-opacity="0.35"/><rect x="1599.97" y="1380.83" width="50.71" height="2.54" fill="url(#band_5b3fa8)" fill-opacity="0.22"/><rect x="1639.04" y="1382.55" width="51.28" height="0.9" fill="#8a7cc8" fill-opacity="0.34"/><rect x="1597.04" y="1383.17" width="56.57" height="2.54" fill="url(#band_5b3fa8)" fill-opacity="0.29"/><rect x="1591.91" y="1384.95" width="19.79" height="0.9" fill="#8a7cc8" fill-opacity="0.32"/><rect x="1606.52" y="1385.51" width="37.6" height="2.54" fill="url(#band_5b3fa8)" fill-opacity="0.33"/><rect x="1641.69" y="1387.6" width="48.71" height="0.9" fill="#8a7cc8" fill-opacity="0.35"/><rect x="1605.28" y="1387.85" width="40.09" height="2.54" fill="url(#band_5b3fa8)" fill-opacity="0.24"/><rect x="1598.14" y="1390.19" width="54.37" height="2.54" fill="url(#band_5b3fa8)" fill-opacity="0.53"/><rect x="1601.48" y="1392.53" width="47.69" height="2.54" fill="url(#band_5b3fa8)" fill-opacity="0.25"/><rect x="1599.39" y="1394.87" width="51.86" height="2.54" fill="url(#band_5b3fa8)" fill-opacity="0.44"/><rect x="1652.89" y="1395.48" width="37.51" height="0.9" fill="#8a7cc8" fill-opacity="0.39"/><rect x="1598.21" y="1397.2" width="54.23" height="2.54" fill="url(#band_5b3fa8)" fill-opacity="0.46"/><rect x="1628.83" y="1399.09" width="51.5" height="0.9" fill="#8a7cc8" fill-opacity="0.36"/><rect x="1596.3" y="1399.54" width="58.06" height="2.54" fill="url(#band_5b3fa8)" fill-opacity="0.08"/><rect x="1598.81" y="1401.88" width="53.02" height="2.54" fill="url(#band_5b3fa8)" fill-opacity="0.23"/><rect x="1666.65" y="1401.97" width="23.75" height="0.9" fill="#8a7cc8" fill-opacity="0.34"/><rect x="1605.1" y="1404.22" width="40.44" height="2.54" fill="url(#band_5b3fa8)" fill-opacity="0.44"/><rect x="1649.66" y="1404.33" width="40.74" height="0.9" fill="#8a7cc8" fill-opacity="0.17"/><rect x="1594.96" y="1406.56" width="60.73" height="2.54" fill="url(#band_5b3fa8)" fill-opacity="0.31"/><rect x="1668.26" y="1408.1" width="22.14" height="0.9" fill="#8a7cc8" fill-opacity="0.42"/><rect x="1598.67" y="1408.9" width="53.31" height="2.54" fill="url(#band_5b3fa8)" fill-opacity="0.18"/><rect x="1602.3" y="1411.24" width="46.04" height="2.54" fill="url(#band_5b3fa8)" fill-opacity="0.28"/><rect x="1600.87" y="1413.57" width="48.92" height="2.54" fill="url(#band_5b3fa8)" fill-opacity="0.36"/><rect x="1602.13" y="1415.91" width="46.39" height="2.54" fill="url(#band_5b3fa8)" fill-opacity="0.19"/><rect x="1618.54" y="1417.15" width="19.05" height="0.9" fill="#8a7cc8" fill-opacity="0.19"/><rect x="1595.45" y="1418.25" width="59.74" height="2.54" fill="url(#band_5b3fa8)" fill-opacity="0.47"/><rect x="1595.98" y="1420.59" width="58.68" height="2.54" fill="url(#band_5b3fa8)" fill-opacity="0.26"/><rect x="1597.32" y="1422.93" width="56.01" height="2.54" fill="url(#band_5b3fa8)" fill-opacity="0.13"/><rect x="1594.92" y="1425.27" width="60.81" height="2.54" fill="url(#band_5b3fa8)" fill-opacity="0.14"/><rect x="1604.51" y="1426.33" width="48.71" height="0.9" fill="#8a7cc8" fill-opacity="0.31"/><rect x="1606.02" y="1427.61" width="38.6" height="2.54" fill="url(#band_5b3fa8)" fill-opacity="0.15"/><rect x="1603.04" y="1429.95" width="44.57" height="2.54" fill="url(#band_5b3fa8)" fill-opacity="0.45"/><rect x="1600.94" y="1432.28" width="48.76" height="2.54" fill="url(#band_5b3fa8)" fill-opacity="0.11"/><rect x="1600.34" y="1434.62" width="49.97" height="2.54" fill="url(#band_5b3fa8)" fill-opacity="0.53"/><rect x="1605.3" y="1436.96" width="40.05" height="2.54" fill="url(#band_5b3fa8)" fill-opacity="0.41"/><rect x="1588.96" y="1439.09" width="25.49" height="0.9" fill="#8a7cc8" fill-opacity="0.23"/><rect x="1602" y="1439.3" width="46.65" height="2.54" fill="url(#band_5b3fa8)" fill-opacity="0.29"/><rect x="1605.3" y="1441.64" width="40.05" height="2.54" fill="url(#band_5b3fa8)" fill-opacity="0.42"/><rect x="1605.79" y="1443.98" width="39.07" height="2.54" fill="url(#band_5b3fa8)" fill-opacity="0.17"/><rect x="1595.26" y="1446.32" width="60.13" height="2.54" fill="url(#band_5b3fa8)" fill-opacity="0.48"/><rect x="1606.75" y="1446.57" width="36.35" height="0.9" fill="#8a7cc8" fill-opacity="0.44"/><rect x="1602.1" y="1448.65" width="46.45" height="2.54" fill="url(#band_5b3fa8)" fill-opacity="0.27"/><rect x="1602.54" y="1450.99" width="45.56" height="2.54" fill="url(#band_5b3fa8)" fill-opacity="0.13"/><rect x="1651.51" y="1452.07" width="38.89" height="0.9" fill="#8a7cc8" fill-opacity="0.3"/><rect x="1601.12" y="1453.33" width="48.4" height="2.54" fill="url(#band_5b3fa8)" fill-opacity="0.44"/><rect x="1579.5" y="1453.99" width="50.91" height="0.9" fill="#8a7cc8" fill-opacity="0.24"/><rect x="1599.09" y="1455.67" width="52.46" height="2.54" fill="url(#band_5b3fa8)" fill-opacity="0.06"/><rect x="1598.69" y="1458.01" width="53.27" height="2.54" fill="url(#band_5b3fa8)" fill-opacity="0.41"/><rect x="1602.82" y="1460.35" width="45" height="2.54" fill="url(#band_5b3fa8)" fill-opacity="0.22"/><rect x="1580.15" y="1461.29" width="18.7" height="0.9" fill="#8a7cc8" fill-opacity="0.26"/><rect x="1604.19" y="1462.69" width="42.27" height="2.54" fill="url(#band_5b3fa8)" fill-opacity="0.1"/><rect x="1603.3" y="1465.03" width="44.06" height="2.54" fill="url(#band_5b3fa8)" fill-opacity="0.22"/><rect x="1601.6" y="1467.36" width="47.45" height="2.54" fill="url(#band_5b3fa8)" fill-opacity="0.17"/><rect x="1606.53" y="1469.7" width="37.59" height="2.54" fill="url(#band_5b3fa8)" fill-opacity="0.3"/><rect x="1601.24" y="1472.04" width="48.16" height="2.54" fill="url(#band_5b3fa8)" fill-opacity="0.34"/><rect x="1602.07" y="1474.38" width="46.5" height="2.54" fill="url(#band_5b3fa8)" fill-opacity="0.53"/><rect x="1629.51" y="1475.98" width="41.94" height="0.9" fill="#8a7cc8" fill-opacity="0.31"/><rect x="1603.39" y="1476.72" width="43.86" height="2.54" fill="url(#band_5b3fa8)" fill-opacity="0.23"/><rect x="1595.17" y="1479.06" width="60.31" height="2.54" fill="url(#band_5b3fa8)" fill-opacity="0.6"/><rect x="1593.24" y="1480.86" width="65.29" height="0.9" fill="#8a7cc8" fill-opacity="0.18"/><rect x="1596.79" y="1481.4" width="57.07" height="2.54" fill="url(#band_5b3fa8)" fill-opacity="0.3"/><rect x="1623.52" y="1483.54" width="26.72" height="0.9" fill="#8a7cc8" fill-opacity="0.32"/><rect x="1606" y="1483.73" width="38.64" height="2.54" fill="url(#band_5b3fa8)" fill-opacity="0.15"/><rect x="1594.99" y="1486.07" width="60.66" height="2.54" fill="url(#band_5b3fa8)" fill-opacity="0.27"/><rect x="1599.4" y="1488.41" width="51.85" height="2.54" fill="url(#band_5b3fa8)" fill-opacity="0.28"/><rect x="1597.16" y="1490.75" width="56.33" height="2.54" fill="url(#band_5b3fa8)" fill-opacity="0.29"/><rect x="1594.95" y="1493.09" width="60.75" height="2.54" fill="url(#band_5b3fa8)" fill-opacity="0.51"/><rect x="1608.13" y="1494.54" width="25.42" height="0.9" fill="#8a7cc8" fill-opacity="0.28"/><rect x="1598.17" y="1495.43" width="54.3" height="2.54" fill="url(#band_5b3fa8)" fill-opacity="0.47"/><rect x="1635.25" y="1496.9" width="37.21" height="0.9" fill="#8a7cc8" fill-opacity="0.36"/><rect x="1600.18" y="1497.77" width="50.28" height="2.54" fill="url(#band_5b3fa8)" fill-opacity="0.35"/><rect x="1669.7" y="1498.01" width="20.7" height="0.9" fill="#8a7cc8" fill-opacity="0.41"/><rect x="1597.42" y="1500.11" width="55.8" height="2.54" fill="url(#band_5b3fa8)" fill-opacity="0.21"/><rect x="1601.29" y="1502.44" width="48.07" height="2.54" fill="url(#band_5b3fa8)" fill-opacity="0.2"/><rect x="1574.62" y="1504.32" width="38.75" height="0.9" fill="#8a7cc8" fill-opacity="0.29"/><rect x="1596.64" y="1504.78" width="57.37" height="2.54" fill="url(#band_5b3fa8)" fill-opacity="0.3"/><rect x="1637.46" y="1506.42" width="39.77" height="0.9" fill="#8a7cc8" fill-opacity="0.23"/><rect x="1602.79" y="1507.12" width="45.07" height="2.54" fill="url(#band_5b3fa8)" fill-opacity="0.35"/><rect x="1601.05" y="1509.46" width="48.54" height="2.54" fill="url(#band_5b3fa8)" fill-opacity="0.15"/><rect x="1593.07" y="1510.96" width="62.52" height="0.9" fill="#8a7cc8" fill-opacity="0.3"/><rect x="1599.21" y="1511.8" width="52.22" height="2.54" fill="url(#band_5b3fa8)" fill-opacity="0.42"/><rect x="1617.13" y="1512.23" width="47.52" height="0.9" fill="#8a7cc8" fill-opacity="0.32"/><rect x="1601.27" y="1514.14" width="48.1" height="2.54" fill="url(#band_5b3fa8)" fill-opacity="0.38"/><rect x="1586.29" y="1514.49" width="31.1" height="0.9" fill="#8a7cc8" fill-opacity="0.24"/><rect x="1598.01" y="1516.48" width="54.62" height="2.54" fill="url(#band_5b3fa8)" fill-opacity="0.11"/><rect x="1595.42" y="1518.81" width="59.8" height="2.54" fill="url(#band_5b3fa8)" fill-opacity="0"/><rect x="1604.98" y="1521.15" width="40.69" height="2.54" fill="url(#band_5b3fa8)" fill-opacity="0.34"/><rect x="1631.25" y="1522.98" width="59.15" height="0.9" fill="#8a7cc8" fill-opacity="0.17"/><rect x="1605.75" y="1523.49" width="39.14" height="2.54" fill="url(#band_5b3fa8)" fill-opacity="0.23"/><rect x="1575.54" y="1524.82" width="66.49" height="0.9" fill="#8a7cc8" fill-opacity="0.32"/><rect x="1601.35" y="1525.83" width="47.96" height="2.54" fill="url(#band_5b3fa8)" fill-opacity="0.27"/><rect x="1605.4" y="1528.17" width="39.84" height="2.54" fill="url(#band_5b3fa8)" fill-opacity="0.42"/><rect x="1598.49" y="1530.51" width="53.67" height="2.54" fill="url(#band_5b3fa8)" fill-opacity="0.07"/><rect x="1596.04" y="1532.85" width="58.57" height="2.54" fill="url(#band_5b3fa8)" fill-opacity="0.21"/><rect x="1598.98" y="1533.89" width="24.16" height="0.9" fill="#8a7cc8" fill-opacity="0.3"/><rect x="1596.11" y="1535.19" width="58.42" height="2.54" fill="url(#band_5b3fa8)" fill-opacity="0.51"/><rect x="1655.5" y="1535.8" width="32.6" height="0.9" fill="#8a7cc8" fill-opacity="0.23"/><rect x="1597.43" y="1537.52" width="55.8" height="2.54" fill="url(#band_5b3fa8)" fill-opacity="0.41"/><rect x="1597.74" y="1539.86" width="55.18" height="2.54" fill="url(#band_5b3fa8)" fill-opacity="0.09"/><rect x="1602.59" y="1542.2" width="45.46" height="2.54" fill="url(#band_5b3fa8)" fill-opacity="0.53"/><rect x="1601.95" y="1544.54" width="46.75" height="2.54" fill="url(#band_5b3fa8)" fill-opacity="0.26"/><rect x="1619.36" y="1544.63" width="15.92" height="0.9" fill="#8a7cc8" fill-opacity="0.42"/><rect x="1601.58" y="1546.88" width="47.48" height="2.54" fill="url(#band_5b3fa8)" fill-opacity="0.39"/><rect x="1559.66" y="1547.47" width="40.72" height="0.9" fill="#8a7cc8" fill-opacity="0.21"/><rect x="1606.15" y="1549.22" width="38.34" height="2.54" fill="url(#band_5b3fa8)" fill-opacity="0.28"/><rect x="1604.79" y="1551.56" width="41.07" height="2.54" fill="url(#band_5b3fa8)" fill-opacity="0.31"/><rect x="1598.36" y="1553.89" width="53.92" height="2.54" fill="url(#band_5b3fa8)" fill-opacity="0.08"/><rect x="1597.83" y="1556.23" width="54.98" height="2.54" fill="url(#band_5b3fa8)" fill-opacity="0.13"/><rect x="1667" y="1557.53" width="21.9" height="0.9" fill="#8a7cc8" fill-opacity="0.26"/><rect x="1602.93" y="1558.57" width="44.78" height="2.54" fill="url(#band_5b3fa8)" fill-opacity="0.05"/><rect x="1595.23" y="1560.91" width="60.19" height="2.54" fill="url(#band_5b3fa8)" fill-opacity="0.34"/><rect x="1668.68" y="1562.41" width="21.72" height="0.9" fill="#8a7cc8" fill-opacity="0.21"/><rect x="1597.36" y="1563.25" width="55.92" height="2.54" fill="url(#band_5b3fa8)" fill-opacity="0.33"/><rect x="1629.9" y="1564.29" width="20.18" height="0.9" fill="#8a7cc8" fill-opacity="0.41"/><rect x="1602.93" y="1565.59" width="44.78" height="2.54" fill="url(#band_5b3fa8)" fill-opacity="0.15"/><rect x="1567.32" y="1566.51" width="33.16" height="0.9" fill="#8a7cc8" fill-opacity="0.35"/><rect x="1599.88" y="1567.93" width="50.88" height="2.54" fill="url(#band_5b3fa8)" fill-opacity="0.03"/><rect x="1600.19" y="1570.27" width="50.27" height="2.54" fill="url(#band_5b3fa8)" fill-opacity="0.27"/><rect x="1657.01" y="1570.3" width="15.13" height="0.9" fill="#8a7cc8" fill-opacity="0.18"/><rect x="1600.77" y="1572.6" width="49.1" height="2.54" fill="url(#band_5b3fa8)" fill-opacity="0.15"/><rect x="1605.74" y="1574.94" width="39.17" height="2.54" fill="url(#band_5b3fa8)" fill-opacity="0.44"/><rect x="1624.91" y="1576.44" width="65.49" height="0.9" fill="#8a7cc8" fill-opacity="0.41"/><rect x="1604.2" y="1577.28" width="42.25" height="2.54" fill="url(#band_5b3fa8)" fill-opacity="0.34"/><rect x="1586.8" y="1579.62" width="28.89" height="0.9" fill="#8a7cc8" fill-opacity="0.41"/><rect x="1606.02" y="1579.62" width="38.62" height="2.54" fill="url(#band_5b3fa8)" fill-opacity="0.41"/><rect x="1604.63" y="1581.96" width="41.39" height="2.54" fill="url(#band_5b3fa8)" fill-opacity="0.33"/><rect x="1665.94" y="1583.07" width="24.46" height="0.9" fill="#8a7cc8" fill-opacity="0.2"/><rect x="1598.66" y="1584.3" width="53.33" height="2.54" fill="url(#band_5b3fa8)" fill-opacity="0.29"/><rect x="1600.96" y="1586.64" width="48.72" height="2.54" fill="url(#band_5b3fa8)" fill-opacity="0.11"/><rect x="1614.14" y="1587.96" width="53.24" height="0.9" fill="#8a7cc8" fill-opacity="0.34"/><rect x="1595.09" y="1588.97" width="60.48" height="2.54" fill="url(#band_5b3fa8)" fill-opacity="0.21"/><rect x="1603.38" y="1591.31" width="43.89" height="2.54" fill="url(#band_5b3fa8)" fill-opacity="0.38"/><rect x="1602.08" y="1593.65" width="46.49" height="2.54" fill="url(#band_5b3fa8)" fill-opacity="0.27"/><rect x="1594.63" y="1594.21" width="41.26" height="0.9" fill="#8a7cc8" fill-opacity="0.21"/><rect x="1602.12" y="1595.99" width="46.41" height="2.54" fill="url(#band_5b3fa8)" fill-opacity="0.17"/><rect x="1602.67" y="1596.41" width="24" height="0.9" fill="#8a7cc8" fill-opacity="0.21"/><rect x="1597.52" y="1598.33" width="55.61" height="2.54" fill="url(#band_5b3fa8)" fill-opacity="0.37"/><rect x="1599.78" y="1600.67" width="51.08" height="2.54" fill="url(#band_5b3fa8)" fill-opacity="0.33"/><rect x="1602.73" y="1603.01" width="45.2" height="2.54" fill="url(#band_5b3fa8)" fill-opacity="0.19"/><rect x="1602.39" y="1603.6" width="25.85" height="0.9" fill="#8a7cc8" fill-opacity="0.23"/><rect x="1599.99" y="1605.35" width="50.67" height="2.54" fill="url(#band_5b3fa8)" fill-opacity="0.16"/><rect x="1598.32" y="1607.68" width="54.01" height="2.54" fill="url(#band_5b3fa8)" fill-opacity="0.14"/><rect x="1606.2" y="1610.02" width="38.24" height="2.54" fill="url(#band_5b3fa8)" fill-opacity="0.28"/><rect x="1606.51" y="1612.36" width="37.63" height="2.54" fill="url(#band_5b3fa8)" fill-opacity="0.42"/></g>
<rect x="1558.4" y="1263.9" width="132" height="350.8" fill="none" stroke="#231f20" stroke-width="2.2"/>
<line x1="1558.4" y1="1439.6" x2="1690.4" y2="1439.6" stroke="#231f20" stroke-width="2.2"/>
<rect x="1721.1" y="1263" width="131.2" height="350.9" fill="#000"/>
<path d="M1778.9 1263.0h15.7v2.7h-15.7z" fill="#f3c7b1"/>
<path d="M1767.1 1264.9h39.2v0.9h-39.2zM1767.7 1286.0h38.0v0.9h-38.0zM1768.3 1552.3h36.8v0.9h-36.8z" fill="#f3bea6" fill-opacity="0.75"/>
<path d="M1778.4 1265.4h16.5v2.7h-16.5zM1778.7 1301.5h16.0v2.7h-16.0zM1779.3 1323.1h14.9v2.7h-14.9zM1777.6 1368.8h18.3v2.7h-18.3zM1776.2 1409.6h21.0v2.7h-21.0zM1779.0 1412.0h15.4v2.7h-15.4zM1776.9 1438.5h19.5v2.7h-19.5zM1778.4 1532.2h16.6v2.7h-16.6zM1776.3 1558.6h20.9v2.7h-20.9zM1775.7 1561.0h22.1v2.7h-22.1zM1775.4 1570.6h22.6v2.7h-22.6zM1778.9 1599.5h15.6v2.7h-15.6z" fill="#c02c35"/>
<path d="M1771.8 1266.0h29.8v0.9h-29.8zM1772.9 1362.9h27.7v0.9h-27.7zM1771.6 1377.0h30.3v0.9h-30.3zM1768.9 1399.9h35.7v0.9h-35.7zM1769.4 1406.3h34.5v0.9h-34.5zM1769.3 1449.6h34.9v0.9h-34.9zM1766.3 1526.5h40.8v0.9h-40.8zM1771.0 1548.3h31.5v0.9h-31.5zM1771.1 1575.7h31.2v0.9h-31.2z" fill="#e0664f" fill-opacity="0.75"/>
<path d="M1776.4 1267.8h20.7v2.7h-20.7zM1779.4 1296.6h14.7v2.7h-14.7zM1777.5 1330.3h18.5v2.7h-18.5zM1775.6 1359.1h22.2v2.7h-22.2zM1778.4 1424.0h16.6v2.7h-16.6zM1778.1 1460.1h17.3v2.7h-17.3zM1774.5 1462.5h24.5v2.7h-24.5zM1778.1 1464.9h17.2v2.7h-17.2zM1774.6 1474.5h24.3v2.7h-24.3zM1778.8 1484.1h15.8v2.7h-15.8zM1778.3 1541.8h16.7v2.7h-16.7zM1778.6 1568.2h16.3v2.7h-16.3z" fill="#d55346"/>
<path d="M1765.8 1269.1h41.8v0.9h-41.8zM1766.6 1287.4h40.2v0.9h-40.2zM1770.3 1295.6h32.7v0.9h-32.7zM1766.7 1390.1h39.9v0.9h-39.9zM1767.6 1418.7h38.2v0.9h-38.2zM1765.1 1475.7h43.3v0.9h-43.3zM1773.2 1499.2h26.9v0.9h-26.9zM1771.3 1582.2h30.7v0.9h-30.7z" fill="#c02c35" fill-opacity="0.75"/>
<path d="M1779.1 1270.2h15.2v2.7h-15.2zM1777.7 1275.0h18.1v2.7h-18.1zM1776.1 1313.5h21.2v2.7h-21.2zM1777.0 1332.7h19.3v2.7h-19.3zM1779.0 1337.5h15.4v2.7h-15.4zM1777.1 1342.3h19.3v2.7h-19.3zM1776.5 1344.7h20.3v2.7h-20.3zM1779.4 1351.9h14.7v2.7h-14.7zM1776.7 1363.9h19.9v2.7h-19.9zM1775.4 1371.2h22.6v2.7h-22.6zM1777.0 1404.8h19.4v2.7h-19.4zM1774.5 1421.6h24.3v2.7h-24.3zM1779.3 1431.2h14.9v2.7h-14.9zM1778.6 1450.5h16.3v2.7h-16.3zM1779.1 1486.5h15.2v2.7h-15.2zM1778.7 1498.5h15.9v2.7h-15.9zM1778.9 1515.4h15.6v2.7h-15.6zM1777.7 1525.0h18.0v2.7h-18.0zM1774.9 1534.6h23.7v2.7h-23.7zM1775.6 1580.3h22.2v2.7h-22.2zM1777.2 1597.1h18.9v2.7h-18.9z" fill="#e0664f"/>
<path d="M1776.2 1272.6h21.0v2.7h-21.0zM1776.6 1361.5h20.2v2.7h-20.2zM1776.7 1390.4h19.9v2.7h-19.9zM1778.3 1402.4h16.8v2.7h-16.8zM1777.2 1419.2h19.1v2.7h-19.1zM1777.0 1440.9h19.4v2.7h-19.4zM1775.4 1457.7h22.6v2.7h-22.6zM1775.9 1467.3h21.6v2.7h-21.6zM1778.9 1479.3h15.6v2.7h-15.6zM1776.9 1496.1h19.5v2.7h-19.5zM1778.8 1508.1h15.8v2.7h-15.8zM1776.7 1510.6h20.0v2.7h-20.0zM1779.4 1517.8h14.5v2.7h-14.5zM1775.1 1522.6h23.2v2.7h-23.2zM1777.4 1539.4h18.6v2.7h-18.6zM1778.0 1573.0h17.4v2.7h-17.4z" fill="#ef9376"/>
<path d="M1777.2 1277.4h19.0v2.7h-19.0zM1775.5 1287.0h22.4v2.7h-22.4zM1777.2 1308.7h19.0v2.7h-19.0zM1777.8 1320.7h17.9v2.7h-17.9zM1775.2 1335.1h23.0v2.7h-23.0zM1777.0 1347.1h19.4v2.7h-19.4zM1777.9 1380.8h17.6v2.7h-17.6zM1776.7 1388.0h20.0v2.7h-20.0zM1774.9 1392.8h23.7v2.7h-23.7zM1775.4 1395.2h22.6v2.7h-22.6zM1779.3 1397.6h14.8v2.7h-14.8zM1776.6 1407.2h20.2v2.7h-20.2zM1779.3 1416.8h14.8v2.7h-14.8zM1779.1 1491.3h15.2v2.7h-15.2zM1777.2 1505.7h19.0v2.7h-19.0zM1776.2 1520.2h21.0v2.7h-21.0zM1775.5 1529.8h22.4v2.7h-22.4zM1778.2 1537.0h17.1v2.7h-17.1zM1776.5 1553.8h20.4v2.7h-20.4zM1779.2 1556.2h15.0v2.7h-15.0zM1776.0 1601.9h21.5v2.7h-21.5zM1777.9 1604.3h17.7v2.7h-17.7z" fill="#e5755c"/>
<path d="M1777.7 1279.8h17.9v2.7h-17.9zM1776.4 1284.6h20.6v2.7h-20.6zM1774.9 1306.3h23.5v2.7h-23.5zM1775.8 1318.3h21.8v2.7h-21.8zM1778.1 1327.9h17.3v2.7h-17.3zM1777.1 1376.0h19.2v2.7h-19.2zM1779.1 1469.7h15.3v2.7h-15.3zM1774.9 1544.2h23.6v2.7h-23.6zM1776.3 1551.4h20.9v2.7h-20.9zM1776.1 1565.8h21.2v2.7h-21.2zM1779.2 1587.5h15.0v2.7h-15.0zM1776.0 1592.3h21.5v2.7h-21.5z" fill="#f4a283"/>
<path d="M1768.5 1282.2h36.3v0.9h-36.3zM1770.5 1312.7h32.4v0.9h-32.4zM1772.8 1375.3h27.7v0.9h-27.7zM1771.3 1447.1h30.8v0.9h-30.8zM1767.5 1481.4h38.3v0.9h-38.3zM1766.5 1501.7h40.4v0.9h-40.4zM1768.1 1516.5h37.2v0.9h-37.2zM1773.2 1517.8h26.9v0.9h-26.9z" fill="#f4ab8e" fill-opacity="0.75"/>
<path d="M1778.5 1282.2h16.4v2.7h-16.4zM1778.0 1294.2h17.4v2.7h-17.4zM1776.4 1299.1h20.6v2.7h-20.6zM1775.4 1339.9h22.5v2.7h-22.5zM1779.1 1428.8h15.2v2.7h-15.2zM1777.9 1433.6h17.6v2.7h-17.6zM1778.5 1481.7h16.5v2.7h-16.5zM1776.8 1513.0h19.9v2.7h-19.9zM1779.6 1563.4h14.3v2.7h-14.3z" fill="#ca403e"/>
<path d="M1770.6 1284.2h32.2v0.9h-32.2zM1772.9 1314.5h27.6v0.9h-27.6zM1767.1 1365.0h39.2v0.9h-39.2zM1765.7 1441.9h42.0v0.9h-42.0zM1768.5 1483.5h36.4v0.9h-36.4zM1768.6 1484.5h36.3v0.9h-36.3zM1773.0 1497.1h27.4v0.9h-27.4zM1771.0 1504.8h31.3v0.9h-31.3zM1772.0 1507.7h29.5v0.9h-29.5zM1769.9 1535.4h33.5v0.9h-33.5zM1766.7 1542.4h40.1v0.9h-40.1zM1773.0 1549.3h27.5v0.9h-27.5z" fill="#ea8469" fill-opacity="0.75"/>
<path d="M1776.1 1289.4h21.1v2.7h-21.1zM1776.6 1291.8h20.2v2.7h-20.2zM1775.0 1311.1h23.3v2.7h-23.3zM1775.6 1325.5h22.2v2.7h-22.2zM1777.8 1356.7h17.8v2.7h-17.8zM1778.1 1366.3h17.1v2.7h-17.1zM1778.8 1378.4h15.7v2.7h-15.7zM1776.3 1414.4h20.8v2.7h-20.8zM1778.8 1448.1h15.8v2.7h-15.8zM1775.2 1452.9h23.0v2.7h-23.0zM1777.4 1472.1h18.7v2.7h-18.7zM1775.2 1476.9h23.1v2.7h-23.1zM1774.5 1493.7h24.3v2.7h-24.3zM1776.1 1503.3h21.1v2.7h-21.1zM1777.4 1546.6h18.6v2.7h-18.6zM1776.2 1575.4h21.1v2.7h-21.1zM1774.8 1577.8h23.7v2.7h-23.7zM1776.6 1609.1h20.3v2.7h-20.3z" fill="#ea8469"/>
<path d="M1772.0 1289.5h29.4v0.9h-29.4zM1771.4 1299.1h30.6v0.9h-30.6zM1768.1 1351.4h37.2v0.9h-37.2zM1770.1 1359.2h33.2v0.9h-33.2zM1771.4 1415.9h30.5v0.9h-30.5zM1765.5 1425.4h42.5v0.9h-42.5zM1769.1 1428.0h35.2v0.9h-35.2zM1765.7 1435.7h42.1v0.9h-42.1zM1765.4 1450.5h42.6v0.9h-42.6zM1771.8 1465.0h29.9v0.9h-29.9zM1767.1 1531.6h39.1v0.9h-39.1zM1768.4 1598.5h36.5v0.9h-36.5z" fill="#d55346" fill-opacity="0.75"/>
<path d="M1770.7 1292.5h31.9v0.9h-31.9zM1769.6 1349.0h34.3v0.9h-34.3zM1772.3 1367.4h28.9v0.9h-28.9zM1770.7 1372.6h31.9v0.9h-31.9zM1768.0 1541.1h37.5v0.9h-37.5zM1767.5 1555.6h38.4v0.9h-38.4zM1769.9 1570.2h33.5v0.9h-33.5z" fill="#ef9376" fill-opacity="0.75"/>
<path d="M1775.1 1303.9h23.3v2.7h-23.3zM1777.3 1383.2h18.8v2.7h-18.8zM1776.4 1400.0h20.7v2.7h-20.7zM1778.9 1426.4h15.7v2.7h-15.7zM1779.1 1443.3h15.2v2.7h-15.2zM1774.5 1488.9h24.4v2.7h-24.4zM1776.9 1594.7h19.7v2.7h-19.7z" fill="#b5192c"/>
<path d="M1770.6 1306.0h32.1v0.9h-32.1zM1772.6 1488.6h28.2v0.9h-28.2z" fill="#b5192c" fill-opacity="0.75"/>
<path d="M1778.0 1315.9h17.4v2.7h-17.4z" fill="#f3bea6"/>
<path d="M1775.8 1318.8h21.8v0.7h-21.8zM1778.1 1330.2h17.3v0.7h-17.3zM1777.6 1368.8h18.3v0.7h-18.3zM1777.9 1380.9h17.6v0.7h-17.6zM1777.3 1385.1h18.8v0.7h-18.8zM1776.7 1388.0h20.0v0.7h-20.0zM1779.3 1399.6h14.8v0.7h-14.8zM1778.9 1428.6h15.7v0.7h-15.7zM1776.9 1439.2h19.5v0.7h-19.5zM1779.1 1444.7h15.2v0.7h-15.2zM1778.8 1486.0h15.8v0.7h-15.8zM1774.5 1495.3h24.3v0.7h-24.3zM1777.4 1540.7h18.6v0.7h-18.6zM1775.5 1583.4h22.4v0.7h-22.4z" fill="#000" fill-opacity="0.7"/>
<path d="M1772.2 1322.9h28.9v0.9h-28.9zM1771.2 1328.7h31.0v0.9h-31.0zM1772.2 1345.1h29.0v0.9h-29.0zM1771.0 1354.1h31.4v0.9h-31.4zM1772.2 1358.0h29.0v0.9h-29.0zM1772.1 1409.5h29.2v0.9h-29.2zM1772.6 1460.7h28.3v0.9h-28.3zM1767.6 1477.1h38.3v0.9h-38.3z" fill="#f4a283" fill-opacity="0.75"/>
<path d="M1773.2 1333.8h26.9v0.9h-26.9zM1771.7 1514.6h30.0v0.9h-30.0zM1767.1 1534.2h39.3v0.9h-39.3zM1768.7 1611.6h35.9v0.9h-35.9z" fill="#b5192c" fill-opacity="0.75"/>
<path d="M1771.2 1337.0h31.0v0.9h-31.0zM1765.7 1370.6h42.1v0.9h-42.1zM1765.5 1384.3h42.4v0.9h-42.4zM1766.1 1444.8h41.2v0.9h-41.2zM1773.2 1562.3h27.1v0.9h-27.1zM1769.0 1578.0h35.4v0.9h-35.4z" fill="#ca403e" fill-opacity="0.75"/>
<path d="M1775.5 1349.5h22.5v2.7h-22.5zM1775.7 1611.5h22.1v2.7h-22.1z" fill="#b5192c"/>
<path d="M1777.1 1354.3h19.2v2.7h-19.2zM1776.2 1373.6h21.0v2.7h-21.0zM1776.3 1445.7h20.9v2.7h-20.9zM1777.5 1527.4h18.4v2.7h-18.4zM1778.3 1549.0h16.8v2.7h-16.8zM1775.5 1582.7h22.4v2.7h-22.4z" fill="#f4b49a"/>
<path d="M1770.8 1354.4h31.9v0.9h-31.9z" fill="#e8d2c6" fill-opacity="0.75"/>
<path d="M1778.4 1385.6h16.5v2.7h-16.5zM1779.1 1436.0h15.2v2.7h-15.2zM1778.4 1455.3h16.6v2.7h-16.6zM1779.2 1500.9h15.0v2.7h-15.0zM1775.4 1585.1h22.5v2.7h-22.5zM1779.4 1589.9h14.7v2.7h-14.7z" fill="#f4ab8e"/>
<path d="M1766.7 1397.4h40.0v0.9h-40.0zM1765.9 1412.0h41.6v0.9h-41.6zM1767.1 1467.5h39.2v0.9h-39.2zM1772.7 1522.2h28.0v0.9h-28.0zM1769.2 1539.0h35.0v0.9h-35.0zM1771.6 1557.9h30.3v0.9h-30.3zM1768.4 1587.9h36.7v0.9h-36.7z" fill="#e5755c" fill-opacity="0.75"/>
<path d="M1770.5 1409.8h32.3v0.9h-32.3zM1771.9 1430.7h29.7v0.9h-29.7z" fill="#b5192c" fill-opacity="0.75"/>
<path d="M1764.9 1438.2h43.6v0.9h-43.6zM1766.6 1473.7h40.2v0.9h-40.2zM1770.2 1494.8h33.1v0.9h-33.1zM1766.0 1586.7h41.4v0.9h-41.4z" fill="#f4b49a" fill-opacity="0.75"/>
<path d="M1771.8 1491.0h29.9v0.9h-29.9zM1768.1 1572.2h37.2v0.9h-37.2zM1769.2 1609.0h34.9v0.9h-34.9z" fill="#b5192c" fill-opacity="0.75"/>
<path d="M1776.4 1606.7h20.6v2.7h-20.6z" fill="#b5192c"/>
<rect x="1860.9" y="1263" width="130.9" height="350.9" fill="#000"/>
<path d="M1917.1 1263.0h18.5v2.7h-18.5zM1918.4 1267.8h15.9v2.7h-15.9zM1917.0 1279.8h18.7v2.7h-18.7zM1919.2 1320.7h14.3v2.7h-14.3zM1918.4 1337.5h15.9v2.7h-15.9zM1916.7 1339.9h19.4v2.7h-19.4zM1919.1 1356.7h14.4v2.7h-14.4zM1916.8 1414.4h19.0v2.7h-19.0zM1915.9 1426.4h20.9v2.7h-20.9zM1914.6 1431.2h23.5v2.7h-23.5zM1916.7 1433.6h19.2v2.7h-19.2zM1916.8 1443.3h19.1v2.7h-19.1zM1915.3 1455.3h22.0v2.7h-22.0zM1915.6 1479.3h21.4v2.7h-21.4zM1914.8 1486.5h23.0v2.7h-23.0zM1914.7 1517.8h23.3v2.7h-23.3zM1914.4 1520.2h23.8v2.7h-23.8zM1916.7 1551.4h19.3v2.7h-19.3zM1918.3 1556.2h16.1v2.7h-16.1zM1914.7 1568.2h23.2v2.7h-23.2zM1916.9 1585.1h18.8v2.7h-18.8z" fill="#f4ab8e"/>
<path d="M1910.7 1263.0h31.4v0.9h-31.4zM1911.6 1350.1h29.5v0.9h-29.5zM1908.5 1403.0h35.6v0.9h-35.6zM1906.2 1439.4h40.2v0.9h-40.2zM1912.4 1454.7h27.9v0.9h-27.9zM1909.7 1500.2h33.4v0.9h-33.4zM1911.3 1518.7h30.2v0.9h-30.2zM1907.8 1603.1h37.2v0.9h-37.2z" fill="#f3bea6" fill-opacity="0.75"/>
<path d="M1914.8 1265.4h23.0v2.7h-23.0zM1916.9 1270.2h19.0v2.7h-19.0zM1917.9 1313.5h16.8v2.7h-16.8zM1916.7 1359.1h19.3v2.7h-19.3zM1916.1 1373.6h20.4v2.7h-20.4zM1918.9 1383.2h14.9v2.7h-14.9zM1917.7 1503.3h17.2v2.7h-17.2zM1916.9 1582.7h18.9v2.7h-18.9z" fill="#e0664f"/>
<path d="M1915.0 1272.6h22.6v2.7h-22.6zM1915.3 1287.0h22.1v2.7h-22.1zM1917.0 1325.5h18.8v2.7h-18.8zM1915.6 1330.3h21.4v2.7h-21.4zM1918.3 1342.3h16.1v2.7h-16.1zM1917.4 1344.7h17.8v2.7h-17.8zM1916.8 1409.6h19.2v2.7h-19.2zM1916.5 1419.2h19.7v2.7h-19.7zM1916.7 1421.6h19.3v2.7h-19.3zM1919.0 1424.0h14.8v2.7h-14.8zM1916.1 1467.3h20.6v2.7h-20.6zM1918.5 1476.9h15.8v2.7h-15.8zM1917.7 1481.7h17.4v2.7h-17.4zM1919.0 1534.6h14.8v2.7h-14.8zM1916.4 1541.8h19.8v2.7h-19.8zM1917.2 1546.6h18.2v2.7h-18.2zM1916.9 1558.6h19.0v2.7h-19.0zM1914.4 1570.6h23.8v2.7h-23.8zM1919.1 1597.1h14.4v2.7h-14.4zM1916.9 1601.9h18.9v2.7h-18.9zM1914.8 1606.7h23.0v2.7h-23.0zM1914.6 1611.5h23.5v2.7h-23.5z" fill="#f4a283"/>
<path d="M1917.5 1275.0h17.7v2.7h-17.7zM1918.4 1289.4h15.8v2.7h-15.8zM1914.8 1306.3h23.0v2.7h-23.0zM1916.5 1318.3h19.6v2.7h-19.6zM1915.2 1332.7h22.3v2.7h-22.3zM1914.3 1354.3h24.1v2.7h-24.1zM1918.8 1363.9h15.0v2.7h-15.0zM1916.7 1366.3h19.3v2.7h-19.3zM1918.2 1402.4h16.3v2.7h-16.3zM1916.9 1404.8h19.0v2.7h-19.0zM1914.5 1412.0h23.7v2.7h-23.7zM1914.0 1428.8h24.6v2.7h-24.6zM1914.2 1438.5h24.3v2.7h-24.3zM1918.4 1445.7h16.0v2.7h-16.0zM1917.7 1448.1h17.2v2.7h-17.2zM1917.4 1460.1h17.8v2.7h-17.8zM1917.8 1469.7h17.1v2.7h-17.1zM1916.0 1532.2h20.7v2.7h-20.7z" fill="#ef9376"/>
<path d="M1907.4 1276.9h37.8v0.9h-37.8zM1906.1 1302.0h40.5v0.9h-40.5zM1906.9 1315.4h38.9v0.9h-38.9zM1911.7 1394.4h29.2v0.9h-29.2zM1907.2 1413.2h38.3v0.9h-38.3zM1909.0 1424.7h34.6v0.9h-34.6z" fill="#d55346" fill-opacity="0.75"/>
<path d="M1918.0 1277.4h16.8v2.7h-16.8zM1915.7 1284.6h21.4v2.7h-21.4zM1915.9 1291.8h20.9v2.7h-20.9zM1917.1 1296.6h18.6v2.7h-18.6zM1915.7 1299.1h21.2v2.7h-21.2zM1916.8 1303.9h19.1v2.7h-19.1zM1918.1 1323.1h16.5v2.7h-16.5zM1917.1 1376.0h18.6v2.7h-18.6zM1916.5 1388.0h19.6v2.7h-19.6zM1919.0 1390.4h14.7v2.7h-14.7zM1915.7 1462.5h21.3v2.7h-21.3zM1915.8 1500.9h21.2v2.7h-21.2zM1914.9 1529.8h22.9v2.7h-22.9z" fill="#ea8469"/>
<path d="M1912.1 1279.5h28.5v0.9h-28.5zM1913.0 1307.2h26.8v0.9h-26.8zM1912.3 1311.1h28.0v0.9h-28.0zM1905.8 1340.6h41.1v0.9h-41.1zM1907.2 1369.7h38.4v0.9h-38.4zM1907.8 1462.2h37.1v0.9h-37.1zM1906.3 1520.7h40.1v0.9h-40.1zM1906.7 1522.9h39.2v0.9h-39.2zM1912.6 1538.8h27.5v0.9h-27.5z" fill="#f4a283" fill-opacity="0.75"/>
<path d="M1919.2 1282.2h14.3v2.7h-14.3zM1917.6 1301.5h17.5v2.7h-17.5zM1918.7 1380.8h15.3v2.7h-15.3zM1915.4 1400.0h21.9v2.7h-21.9zM1915.5 1436.0h21.6v2.7h-21.6z" fill="#d55346"/>
<path d="M1906.5 1283.5h39.7v0.9h-39.7zM1904.8 1400.1h43.2v0.9h-43.2z" fill="#ca403e" fill-opacity="0.75"/>
<path d="M1919.2 1283.2h14.3v0.7h-14.3zM1916.8 1304.1h19.1v0.7h-19.1zM1915.5 1337.5h21.7v0.7h-21.7zM1914.3 1355.5h24.1v0.7h-24.1zM1919.0 1390.7h14.7v0.7h-14.7zM1914.5 1412.9h23.7v0.7h-23.7zM1915.5 1437.4h21.6v0.7h-21.6zM1914.2 1438.9h24.3v0.7h-24.3zM1917.1 1497.2h18.5v0.7h-18.5zM1914.8 1512.8h23.2v0.7h-23.2zM1919.0 1537.0h14.8v0.7h-14.8zM1918.0 1540.5h16.7v0.7h-16.7zM1918.3 1557.1h16.1v0.7h-16.1zM1914.4 1571.8h23.8v0.7h-23.8zM1917.1 1606.0h18.6v0.7h-18.6zM1914.8 1607.3h23.0v0.7h-23.0z" fill="#000" fill-opacity="0.7"/>
<path d="M1909.4 1285.8h33.9v0.9h-33.9zM1912.5 1343.4h27.8v0.9h-27.8zM1913.2 1572.1h26.3v0.9h-26.3zM1907.0 1595.2h38.8v0.9h-38.8z" fill="#e0664f" fill-opacity="0.75"/>
<path d="M1914.6 1294.2h23.5v2.7h-23.5zM1915.5 1335.1h21.7v2.7h-21.7zM1914.3 1349.5h24.0v2.7h-24.0zM1916.6 1368.8h19.5v2.7h-19.5zM1917.9 1378.4h16.8v2.7h-16.8zM1917.6 1440.9h17.6v2.7h-17.6zM1915.6 1452.9h21.5v2.7h-21.5zM1914.3 1474.5h24.1v2.7h-24.1zM1915.7 1522.6h21.4v2.7h-21.4zM1919.2 1544.2h14.3v2.7h-14.3zM1918.8 1563.4h15.0v2.7h-15.0zM1917.7 1577.8h17.3v2.7h-17.3zM1917.1 1604.3h18.6v2.7h-18.6zM1918.4 1609.1h15.9v2.7h-15.9z" fill="#f4b49a"/>
<path d="M1918.5 1308.7h15.7v2.7h-15.7zM1918.3 1311.1h16.1v2.7h-16.1zM1917.0 1327.9h18.8v2.7h-18.8zM1918.9 1351.9h14.9v2.7h-14.9zM1917.6 1371.2h17.5v2.7h-17.5zM1916.8 1392.8h19.2v2.7h-19.2zM1918.6 1407.2h15.6v2.7h-15.6zM1915.5 1416.8h21.7v2.7h-21.7zM1914.6 1464.9h23.5v2.7h-23.5zM1918.2 1505.7h16.3v2.7h-16.3zM1914.8 1510.6h23.2v2.7h-23.2zM1919.1 1513.0h14.4v2.7h-14.4zM1917.8 1575.4h17.0v2.7h-17.0zM1918.5 1587.5h15.7v2.7h-15.7zM1916.0 1592.3h20.6v2.7h-20.6zM1917.0 1594.7h18.7v2.7h-18.7z" fill="#e5755c"/>
<path d="M1918.4 1315.9h15.8v2.7h-15.8zM1918.3 1347.1h16.1v2.7h-16.1zM1914.6 1361.5h23.5v2.7h-23.5zM1918.5 1493.7h15.7v2.7h-15.7zM1918.3 1498.5h16.0v2.7h-16.0zM1917.1 1508.1h18.4v2.7h-18.4zM1915.7 1525.0h21.3v2.7h-21.3zM1915.4 1537.0h21.9v2.7h-21.9zM1918.1 1553.8h16.4v2.7h-16.4zM1918.7 1580.3h15.4v2.7h-15.4zM1919.0 1599.5h14.7v2.7h-14.7z" fill="#f3bea6"/>
<path d="M1906.8 1323.0h39.1v0.9h-39.1zM1910.6 1332.3h31.5v0.9h-31.5zM1910.0 1356.6h32.8v0.9h-32.8zM1907.0 1421.0h38.7v0.9h-38.7zM1912.1 1541.2h28.5v0.9h-28.5zM1909.5 1557.4h33.6v0.9h-33.6zM1906.2 1592.3h40.3v0.9h-40.3zM1906.0 1598.2h40.6v0.9h-40.6z" fill="#e5755c" fill-opacity="0.75"/>
<path d="M1907.1 1361.3h38.4v0.9h-38.4zM1909.5 1512.4h33.7v0.9h-33.7zM1911.4 1515.0h30.0v0.9h-30.0z" fill="#c02c35" fill-opacity="0.75"/>
<path d="M1910.3 1372.6h32.0v0.9h-32.0zM1910.0 1466.0h32.7v0.9h-32.7z" fill="#f4ab8e" fill-opacity="0.75"/>
<path d="M1910.1 1375.0h32.6v0.9h-32.6zM1909.7 1376.9h33.3v0.9h-33.3zM1910.9 1423.2h30.8v0.9h-30.8zM1909.0 1434.3h34.7v0.9h-34.7zM1908.0 1501.0h36.6v0.9h-36.6zM1907.5 1508.1h37.8v0.9h-37.8zM1905.4 1564.0h41.9v0.9h-41.9zM1905.5 1578.5h41.7v0.9h-41.7z" fill="#ef9376" fill-opacity="0.75"/>
<path d="M1917.3 1385.6h18.1v2.7h-18.1z" fill="#e3d7d0"/>
<path d="M1912.3 1387.0h28.2v0.9h-28.2zM1905.7 1477.3h41.3v0.9h-41.3zM1904.8 1481.1h43.2v0.9h-43.2zM1905.0 1483.1h42.6v0.9h-42.6zM1912.3 1545.0h28.0v0.9h-28.0zM1906.8 1580.8h39.1v0.9h-39.1z" fill="#f3c7b1" fill-opacity="0.75"/>
<path d="M1917.3 1395.2h18.2v2.7h-18.2zM1914.9 1484.1h22.9v2.7h-22.9zM1917.1 1515.4h18.5v2.7h-18.5zM1915.7 1549.0h21.2v2.7h-21.2zM1915.4 1573.0h21.9v2.7h-21.9z" fill="#eeccbc"/>
<path d="M1905.7 1396.4h41.2v0.9h-41.2z" fill="#d7dadf" fill-opacity="0.75"/>
<path d="M1918.9 1397.6h14.9v2.7h-14.9zM1914.5 1450.5h23.7v2.7h-23.7zM1918.7 1472.1h15.2v2.7h-15.2zM1919.1 1488.9h14.6v2.7h-14.6zM1917.1 1496.1h18.5v2.7h-18.5z" fill="#f3c7b1"/>
<path d="M1911.4 1431.5h29.9v0.9h-29.9zM1912.8 1516.2h27.0v0.9h-27.0zM1907.5 1527.7h37.6v0.9h-37.6zM1905.9 1560.1h40.9v0.9h-40.9z" fill="#f4b49a" fill-opacity="0.75"/>
<path d="M1908.4 1451.3h35.9v0.9h-35.9zM1910.2 1476.6h32.2v0.9h-32.2z" fill="#e8d2c6" fill-opacity="0.75"/>
<path d="M1914.0 1457.7h24.6v2.7h-24.6z" fill="#d0d7e3"/>
<path d="M1914.9 1491.3h22.8v2.7h-22.8zM1918.0 1539.4h16.7v2.7h-16.7zM1915.8 1589.9h21.2v2.7h-21.2z" fill="#ca403e"/>
<path d="M1911.6 1496.9h29.5v0.9h-29.5z" fill="#dedcdb" fill-opacity="0.75"/>
<path d="M1919.1 1527.4h14.5v2.7h-14.5zM1914.9 1561.0h23.0v2.7h-23.0zM1915.0 1565.8h22.7v2.7h-22.7z" fill="#e8d2c6"/>
<path d="M1908.7 1569.9h35.3v0.9h-35.3zM1909.1 1575.8h34.6v0.9h-34.6zM1908.1 1584.5h36.4v0.9h-36.4zM1905.5 1585.9h41.7v0.9h-41.7z" fill="#ea8469" fill-opacity="0.75"/>
<path d="M1909.1 1609.2h34.5v0.9h-34.5z" fill="#e3d7d0" fill-opacity="0.75"/>
<rect x="184.2" y="1626.2" width="130.3" height="19.6" fill="url(#cbcw)" stroke="#231f20" stroke-width="1.3"/>
<line x1="189" y1="1645.8" x2="189" y2="1653.6" stroke="#231f20" stroke-width="1.3"/>
<line x1="249.5" y1="1645.8" x2="249.5" y2="1653.6" stroke="#231f20" stroke-width="1.3"/>
<line x1="310.5" y1="1645.8" x2="310.5" y2="1653.6" stroke="#231f20" stroke-width="1.3"/>
<text x="158.62" y="1681.5" font-size="30.6" fill="#231f20">-1.5</text>
<text x="239.68" y="1681.5" font-size="30.6" fill="#231f20">0</text>
<text x="290.2" y="1681.5" font-size="30.6" fill="#231f20">1.5</text>
<rect x="401.2" y="1626.2" width="131.5" height="19.6" fill="url(#cbg16)" stroke="#231f20" stroke-width="1.3"/>
<line x1="402.3" y1="1645.8" x2="402.3" y2="1653.6" stroke="#231f20" stroke-width="1.3"/>
<line x1="505" y1="1645.8" x2="505" y2="1653.6" stroke="#231f20" stroke-width="1.3"/>
<text x="394.48" y="1681.5" font-size="30.6" fill="#231f20">0</text>
<text x="484.4" y="1681.5" font-size="30.6" fill="#231f20">16</text>
<rect x="613.2" y="1626.2" width="131" height="19.6" fill="url(#cbpur)" stroke="#231f20" stroke-width="1.3"/>
<line x1="614.3" y1="1645.8" x2="614.3" y2="1653.6" stroke="#231f20" stroke-width="1.3"/>
<line x1="711.4" y1="1645.8" x2="711.4" y2="1653.6" stroke="#231f20" stroke-width="1.3"/>
<text x="605.28" y="1681.5" font-size="30.6" fill="#231f20">0</text>
<text x="688.05" y="1681.5" font-size="30.6" fill="#231f20">30</text>
<rect x="824" y="1626.2" width="130.5" height="19.6" fill="url(#cbg16)" stroke="#231f20" stroke-width="1.3"/>
<line x1="825.2" y1="1645.8" x2="825.2" y2="1653.6" stroke="#231f20" stroke-width="1.3"/>
<line x1="921.2" y1="1645.8" x2="921.2" y2="1653.6" stroke="#231f20" stroke-width="1.3"/>
<text x="816.18" y="1681.5" font-size="30.6" fill="#231f20">0</text>
<text x="900.65" y="1681.5" font-size="30.6" fill="#231f20">30</text>
<rect x="1111" y="1626.2" width="131.5" height="19.6" fill="url(#cbcw)" stroke="#231f20" stroke-width="1.3"/>
<line x1="1116.5" y1="1645.8" x2="1116.5" y2="1653.6" stroke="#231f20" stroke-width="1.3"/>
<line x1="1177.6" y1="1645.8" x2="1177.6" y2="1653.6" stroke="#231f20" stroke-width="1.3"/>
<line x1="1238.6" y1="1645.8" x2="1238.6" y2="1653.6" stroke="#231f20" stroke-width="1.3"/>
<text x="1086.32" y="1681.5" font-size="30.6" fill="#231f20">-1.5</text>
<text x="1165.28" y="1681.5" font-size="30.6" fill="#231f20">0</text>
<text x="1219.7" y="1681.5" font-size="30.6" fill="#231f20">1.5</text>
<rect x="1372.9" y="1626.2" width="131" height="19.6" fill="url(#cbcw)" stroke="#231f20" stroke-width="1.3"/>
<line x1="1380.7" y1="1645.8" x2="1380.7" y2="1653.6" stroke="#231f20" stroke-width="1.3"/>
<line x1="1438.4" y1="1645.8" x2="1438.4" y2="1653.6" stroke="#231f20" stroke-width="1.3"/>
<line x1="1499.4" y1="1645.8" x2="1499.4" y2="1653.6" stroke="#231f20" stroke-width="1.3"/>
<text x="1351.72" y="1681.5" font-size="30.6" fill="#231f20">-0.15</text>
<text x="1429.28" y="1681.5" font-size="30.6" fill="#231f20">0</text>
<text x="1461.98" y="1681.5" font-size="30.6" fill="#231f20">0.15</text>
<rect x="1559.4" y="1626.2" width="130.4" height="19.6" fill="url(#cbpur)" stroke="#231f20" stroke-width="1.3"/>
<line x1="1560.5" y1="1645.8" x2="1560.5" y2="1653.6" stroke="#231f20" stroke-width="1.3"/>
<line x1="1657.6" y1="1645.8" x2="1657.6" y2="1653.6" stroke="#231f20" stroke-width="1.3"/>
<text x="1551.48" y="1681.5" font-size="30.6" fill="#231f20">0</text>
<text x="1634.15" y="1681.5" font-size="30.6" fill="#231f20">30</text>
<rect x="1789.7" y="1626.2" width="130.4" height="19.6" fill="url(#cbcw)" stroke="#231f20" stroke-width="1.3"/>
<line x1="1794.7" y1="1645.8" x2="1794.7" y2="1653.6" stroke="#231f20" stroke-width="1.3"/>
<line x1="1854.6" y1="1645.8" x2="1854.6" y2="1653.6" stroke="#231f20" stroke-width="1.3"/>
<line x1="1915.6" y1="1645.8" x2="1915.6" y2="1653.6" stroke="#231f20" stroke-width="1.3"/>
<text x="1764.62" y="1681.5" font-size="30.6" fill="#231f20">-1.5</text>
<text x="1844.58" y="1681.5" font-size="30.6" fill="#231f20">0</text>
<text x="1893.4" y="1681.5" font-size="30.6" fill="#231f20">1.5</text>
<text x="138.78" y="1722.8" font-size="30.57" fill="#231f20">Relative binding</text>
<text x="134.47" y="1752.5" font-size="30.6" fill="#231f20">occupancy (log<tspan font-size="19" dy="9">2</tspan><tspan dy="-9">)</tspan></text>
<text x="630.72" y="1723.7" font-size="32.18" fill="#231f20">Initial</text>
<text x="586.91" y="1752.6" font-size="30.43" fill="#231f20">accessibility</text>
<text x="1091.52" y="1722" font-size="30.29" fill="#231f20">Accessibility</text>
<text x="1084.47" y="1752.6" font-size="30.6" fill="#231f20">change (log<tspan font-size="19" dy="9">2</tspan><tspan dy="-9">)</tspan></text>
<text transform="translate(0.51 1809.8) scale(1.11 1)" font-size="40.83" font-weight="bold" fill="#231f20">f</text>
<path d="M114.44 2124.55 L115.44 2124.26 L116.44 2124.32 L117.44 2124.07 L118.44 2124.07 L119.44 2123.88 L120.44 2123.82 L121.44 2123.69 L122.44 2123.46 L123.44 2123.49 L124.44 2123.65 L125.44 2123.6 L126.44 2123.31 L127.44 2123.01 L128.44 2122.8 L129.44 2122.74 L130.44 2122.64 L131.44 2122.47 L132.44 2122.32 L133.44 2121.99 L134.44 2121.88 L135.44 2121.74 L136.44 2121.56 L137.44 2121.38 L138.44 2121.16 L139.44 2121.02 L140.44 2120.76 L141.44 2120.48 L142.44 2120.33 L143.44 2120.2 L144.44 2120.3 L145.44 2119.9 L146.44 2119.71 L147.44 2119.33 L148.44 2119.41 L149.44 2119.2 L150.44 2118.84 L151.44 2118.47 L152.44 2118.21 L153.44 2117.98 L154.44 2117.76 L155.44 2117.27 L156.44 2117.14 L157.44 2116.89 L158.44 2116.69 L159.44 2116.27 L160.44 2115.81 L161.44 2115.41 L162.44 2115 L163.44 2114.7 L164.44 2114.35 L165.44 2113.91 L166.44 2113.39 L167.44 2113.01 L168.44 2112.67 L169.44 2112.14 L170.44 2111.64 L171.44 2111.04 L172.44 2110.42 L173.44 2109.81 L174.44 2109.25 L175.44 2108.87 L176.44 2108.4 L177.44 2107.71 L178.44 2107.2 L179.44 2106.6 L180.44 2106.15 L181.44 2105.7 L182.44 2105.35 L183.44 2104.97 L184.44 2104.57 L185.44 2104.06 L186.44 2103.72 L187.44 2103.16 L188.44 2102.93 L189.44 2102.31 L190.44 2102 L191.44 2101.52 L192.44 2101.16 L193.44 2100.73 L194.44 2100.22 L195.44 2100 L196.44 2099.64 L197.44 2099.1 L198.44 2098.38 L199.44 2097.82 L200.44 2097.38 L201.44 2096.86 L202.44 2096.16 L203.44 2095.46 L204.44 2094.89 L205.44 2094.21 L206.44 2093.6 L207.44 2092.68 L208.44 2092.01 L209.44 2091.15 L210.44 2090.48 L211.44 2089.66 L212.44 2088.57 L213.44 2087.79 L214.44 2086.76 L215.44 2085.77 L216.44 2084.54 L217.44 2083.24 L218.44 2082.26 L219.44 2081.07 L220.44 2079.82 L221.44 2078.26 L222.44 2076.83 L223.44 2075.61 L224.44 2074.56 L225.44 2073.54 L226.44 2072.58 L227.44 2071.71 L228.44 2070.87 L229.44 2070.02 L230.44 2069.13 L231.44 2068.54 L232.44 2067.62 L233.44 2066.72 L234.44 2065.62 L235.44 2064.74 L236.44 2063.82 L237.44 2062.74 L238.44 2061.7 L239.44 2060.5 L240.44 2059.05 L241.44 2057.67 L242.44 2056.03 L243.44 2054.59 L244.44 2052.87 L245.44 2051.27 L246.44 2049.59 L247.44 2047.82 L248.44 2046.12 L249.44 2044 L250.44 2042.06 L251.44 2039.9 L252.44 2037.82 L253.44 2035.33 L254.44 2032.87 L255.44 2030.27 L256.44 2027.67 L257.44 2025.34 L258.44 2022.82 L259.44 2020.3 L260.44 2017.03 L261.44 2013.92 L262.44 2010.58 L263.44 2007.18 L264.44 2003.43 L265.44 1999.52 L266.44 1995.37 L267.44 1991.48 L268.44 1987.64 L269.44 1984.12 L270.44 1980.42 L271.44 1977.02 L272.44 1973.36 L273.44 1969.79 L274.44 1966.29 L275.44 1962.95 L276.44 1959.76 L277.44 1956.67 L278.44 1953.97 L279.44 1951.53 L280.44 1949.19 L281.44 1947.28 L282.44 1945.3 L283.44 1943.52 L284.44 1941.28 L285.44 1939.65 L286.44 1938.11 L287.44 1936.87 L288.44 1935.53 L289.44 1934.45 L290.44 1933.56 L291.44 1932.87 L292.44 1932.37 L293.44 1932.1 L294.44 1931.91 L295.44 1931.66 L296.44 1931.58 L297.44 1931.76 L298.44 1932.14 L299.44 1932.45 L300.44 1933.03 L301.44 1933.92 L302.44 1935.24 L303.44 1936.72 L304.44 1938.31 L305.44 1939.89 L306.44 1941.63 L307.44 1943.47 L308.44 1945.84 L309.44 1948.12 L310.44 1950.55 L311.44 1952.85 L312.44 1955.31 L313.44 1957.79 L314.44 1960.39 L315.44 1963.21 L316.44 1966.31 L317.44 1969.36 L318.44 1972.25 L319.44 1975.19 L320.44 1978.31 L321.44 1981.54 L322.44 1984.77 L323.44 1987.89 L324.44 1991.35 L325.44 1994.66 L326.44 1997.96 L327.44 2001.06 L328.44 2004.23 L329.44 2007.42 L330.44 2010.6 L331.44 2013.7 L332.44 2016.7 L333.44 2019.62 L334.44 2022.64 L335.44 2025.53 L336.44 2028.19 L337.44 2030.62 L338.44 2032.98 L339.44 2035.51 L340.44 2037.76 L341.44 2040.04 L342.44 2041.95 L343.44 2043.82 L344.44 2045.65 L345.44 2047.39 L346.44 2049.07 L347.44 2050.63 L348.44 2052.27 L349.44 2053.78 L350.44 2055.63 L351.44 2057.11 L352.44 2058.85 L353.44 2060.09 L354.44 2061.52 L355.44 2062.93 L356.44 2064.39 L357.44 2065.88 L358.44 2067.22 L359.44 2068.45 L360.44 2069.71 L361.44 2070.89 L362.44 2072.05 L363.44 2073.09 L364.44 2074.15 L365.44 2075.2 L366.44 2076.21 L367.44 2076.91 L368.44 2077.79 L369.44 2078.6 L370.44 2079.52 L371.44 2080.21 L372.44 2080.97 L373.44 2081.59 L374.44 2082.2 L375.44 2082.55 L376.44 2083.05 L377.44 2083.56 L378.44 2084.18 L379.44 2084.93 L380.44 2085.63 L381.44 2086.48 L382.44 2087.16 L383.44 2087.92 L384.44 2088.72 L385.44 2089.6 L386.44 2090.55 L387.44 2091.42 L388.44 2092.34 L389.44 2093.34 L390.44 2094.36 L391.44 2095.28 L392.44 2095.97 L393.44 2096.78 L394.44 2097.41 L395.44 2098.09 L396.44 2098.81 L397.44 2099.76 L398.44 2100.73 L399.44 2101.51 L400.44 2102.14 L401.44 2102.8 L402.44 2103.61 L403.44 2104.51 L404.44 2105.16 L405.44 2105.79 L406.44 2106.13 L407.44 2106.63 L408.44 2106.95 L409.44 2107.37 L410.44 2107.78 L411.44 2108.12 L412.44 2108.56 L413.44 2109.02 L414.44 2109.42 L415.44 2109.69 L416.44 2109.89 L417.44 2110.18 L418.44 2110.58 L419.44 2110.9 L420.44 2111.25 L421.44 2111.66 L422.44 2112.03 L423.44 2112.41 L424.44 2112.56 L425.44 2112.83 L426.44 2113.15 L427.44 2113.56 L428.44 2113.95 L429.44 2114.22 L430.44 2114.57 L431.44 2115 L432.44 2115.22 L433.44 2115.56 L434.44 2116.1 L435.44 2116.53 L436.44 2116.71 L437.44 2116.8 L438.44 2117.14 L439.44 2117.72 L440.44 2117.99 L441.44 2118.2 L442.44 2118.5 L443.44 2118.85 L444.44 2119.04 L445.44 2119.28 L446.44 2119.48 L447.44 2120 L448.44 2120.18 L449.44 2120.52 L450.44 2120.69 L451.44 2121.01 L452.44 2121.17 L453.44 2121.33 L454.44 2121.49 L455.44 2121.73 L456.44 2121.98 L457.44 2122.28 L458.44 2122.43 L459.44 2122.6 L460.44 2122.79 L461.44 2122.9 L462.44 2123.02 L463.44 2122.93 L464.44 2123.05 L465.44 2123.27 L466.44 2123.46 L467.44 2123.7 L468.44 2123.59 L469.44 2123.56 L470.44 2123.58 L471.44 2123.67 L472.44 2124.13 L473.44 2124.33 L474.44 2124.46 L475.44 2124.35 L476.44 2124.37" fill="none" stroke="#e8068a" stroke-width="6.2" stroke-linejoin="round" stroke-linecap="butt"/>
<path d="M114.44 2145.76 L115.44 2145.63 L116.44 2145.33 L117.44 2145.37 L118.44 2145.14 L119.44 2145.3 L120.44 2145.08 L121.44 2145.22 L122.44 2144.97 L123.44 2145.07 L124.44 2144.79 L125.44 2144.7 L126.44 2144.45 L127.44 2144.63 L128.44 2144.47 L129.44 2144.39 L130.44 2144.12 L131.44 2144.12 L132.44 2144.08 L133.44 2143.96 L134.44 2143.95 L135.44 2143.88 L136.44 2143.91 L137.44 2143.79 L138.44 2143.55 L139.44 2143.4 L140.44 2143.14 L141.44 2143.07 L142.44 2143.03 L143.44 2142.94 L144.44 2142.83 L145.44 2142.63 L146.44 2142.52 L147.44 2142.4 L148.44 2142.36 L149.44 2142.25 L150.44 2142.23 L151.44 2142.28 L152.44 2142.35 L153.44 2142.23 L154.44 2141.93 L155.44 2141.73 L156.44 2141.8 L157.44 2141.8 L158.44 2141.73 L159.44 2141.53 L160.44 2141.62 L161.44 2141.6 L162.44 2141.55 L163.44 2141.32 L164.44 2141.19 L165.44 2140.96 L166.44 2140.81 L167.44 2140.73 L168.44 2140.78 L169.44 2140.78 L170.44 2140.77 L171.44 2140.64 L172.44 2140.54 L173.44 2140.28 L174.44 2140.24 L175.44 2140.09 L176.44 2140 L177.44 2139.8 L178.44 2139.63 L179.44 2139.61 L180.44 2139.57 L181.44 2139.62 L182.44 2139.27 L183.44 2138.89 L184.44 2138.52 L185.44 2138.51 L186.44 2138.55 L187.44 2138.47 L188.44 2138.13 L189.44 2137.87 L190.44 2137.75 L191.44 2137.76 L192.44 2137.68 L193.44 2137.41 L194.44 2137.18 L195.44 2136.94 L196.44 2136.79 L197.44 2136.61 L198.44 2136.39 L199.44 2136.08 L200.44 2135.86 L201.44 2135.62 L202.44 2135.51 L203.44 2135.29 L204.44 2135 L205.44 2134.56 L206.44 2134.08 L207.44 2133.75 L208.44 2133.44 L209.44 2133.1 L210.44 2132.69 L211.44 2132.25 L212.44 2131.96 L213.44 2131.52 L214.44 2131.29 L215.44 2130.87 L216.44 2130.56 L217.44 2129.98 L218.44 2129.58 L219.44 2129.22 L220.44 2128.86 L221.44 2128.46 L222.44 2128.04 L223.44 2127.64 L224.44 2127.31 L225.44 2126.99 L226.44 2126.63 L227.44 2126.2 L228.44 2125.57 L229.44 2125.16 L230.44 2124.48 L231.44 2124.14 L232.44 2123.58 L233.44 2123.09 L234.44 2122.29 L235.44 2121.7 L236.44 2121.17 L237.44 2120.35 L238.44 2119.58 L239.44 2118.74 L240.44 2118.07 L241.44 2116.97 L242.44 2115.94 L243.44 2114.88 L244.44 2113.85 L245.44 2112.52 L246.44 2111.36 L247.44 2110.19 L248.44 2108.89 L249.44 2107.48 L250.44 2105.86 L251.44 2104.47 L252.44 2102.88 L253.44 2101.37 L254.44 2099.68 L255.44 2098.1 L256.44 2096.5 L257.44 2094.87 L258.44 2093.09 L259.44 2091.22 L260.44 2089.32 L261.44 2087.35 L262.44 2085.37 L263.44 2083.21 L264.44 2080.87 L265.44 2078.77 L266.44 2076.85 L267.44 2074.9 L268.44 2072.53 L269.44 2070 L270.44 2067.61 L271.44 2065.29 L272.44 2062.92 L273.44 2060.67 L274.44 2058.49 L275.44 2056.61 L276.44 2054.69 L277.44 2052.93 L278.44 2051.08 L279.44 2049.42 L280.44 2047.71 L281.44 2046.28 L282.44 2044.49 L283.44 2042.95 L284.44 2041.48 L285.44 2040.61 L286.44 2039.53 L287.44 2038.46 L288.44 2037.37 L289.44 2036.77 L290.44 2036.15 L291.44 2035.77 L292.44 2035.31 L293.44 2035.02 L294.44 2034.88 L295.44 2034.92 L296.44 2035.18 L297.44 2035.28 L298.44 2035.41 L299.44 2035.67 L300.44 2036.13 L301.44 2036.73 L302.44 2037.33 L303.44 2038.17 L304.44 2039.05 L305.44 2040.19 L306.44 2041.26 L307.44 2042.45 L308.44 2043.4 L309.44 2044.65 L310.44 2045.95 L311.44 2047.51 L312.44 2048.96 L313.44 2050.37 L314.44 2051.93 L315.44 2053.46 L316.44 2055.41 L317.44 2057.13 L318.44 2059.09 L319.44 2061 L320.44 2063.35 L321.44 2065.77 L322.44 2068.46 L323.44 2070.86 L324.44 2073.13 L325.44 2075.24 L326.44 2077.34 L327.44 2079.46 L328.44 2081.53 L329.44 2083.68 L330.44 2085.76 L331.44 2087.76 L332.44 2089.62 L333.44 2091.61 L334.44 2093.27 L335.44 2095.08 L336.44 2096.59 L337.44 2098.03 L338.44 2099.62 L339.44 2101.01 L340.44 2102.47 L341.44 2103.51 L342.44 2104.76 L343.44 2105.97 L344.44 2107.19 L345.44 2108.37 L346.44 2109.58 L347.44 2110.6 L348.44 2111.46 L349.44 2112.2 L350.44 2113.11 L351.44 2113.99 L352.44 2115.05 L353.44 2115.93 L354.44 2116.88 L355.44 2117.62 L356.44 2118.32 L357.44 2119.03 L358.44 2119.82 L359.44 2120.7 L360.44 2121.42 L361.44 2122.18 L362.44 2122.66 L363.44 2123.29 L364.44 2123.73 L365.44 2124.18 L366.44 2124.94 L367.44 2125.53 L368.44 2126.21 L369.44 2126.73 L370.44 2127.24 L371.44 2127.83 L372.44 2128.06 L373.44 2128.45 L374.44 2128.7 L375.44 2129.21 L376.44 2129.55 L377.44 2130.06 L378.44 2130.45 L379.44 2130.85 L380.44 2131.2 L381.44 2131.46 L382.44 2131.7 L383.44 2132.07 L384.44 2132.5 L385.44 2132.95 L386.44 2133.28 L387.44 2133.4 L388.44 2133.59 L389.44 2133.72 L390.44 2134.22 L391.44 2134.6 L392.44 2135.16 L393.44 2135.32 L394.44 2135.62 L395.44 2135.83 L396.44 2136.29 L397.44 2136.64 L398.44 2136.96 L399.44 2137.18 L400.44 2137.49 L401.44 2137.68 L402.44 2137.97 L403.44 2138.22 L404.44 2138.59 L405.44 2138.89 L406.44 2139.12 L407.44 2139.37 L408.44 2139.55 L409.44 2139.88 L410.44 2140.18 L411.44 2140.35 L412.44 2140.58 L413.44 2140.88 L414.44 2141.02 L415.44 2141.07 L416.44 2140.98 L417.44 2141.22 L418.44 2141.56 L419.44 2141.76 L420.44 2141.85 L421.44 2141.87 L422.44 2141.93 L423.44 2142.18 L424.44 2142.24 L425.44 2142.5 L426.44 2142.44 L427.44 2142.75 L428.44 2142.79 L429.44 2142.99 L430.44 2142.82 L431.44 2142.79 L432.44 2142.76 L433.44 2142.85 L434.44 2142.94 L435.44 2143.14 L436.44 2143.17 L437.44 2143.39 L438.44 2143.54 L439.44 2143.64 L440.44 2143.78 L441.44 2143.77 L442.44 2144.01 L443.44 2144.03 L444.44 2144.23 L445.44 2144.13 L446.44 2144.16 L447.44 2144.26 L448.44 2144.36 L449.44 2144.27 L450.44 2144.05 L451.44 2143.95 L452.44 2144 L453.44 2144.18 L454.44 2144.54 L455.44 2144.72 L456.44 2144.82 L457.44 2144.74 L458.44 2144.81 L459.44 2144.79 L460.44 2144.81 L461.44 2144.87 L462.44 2144.8 L463.44 2144.92 L464.44 2144.97 L465.44 2145.06 L466.44 2145.06 L467.44 2144.93 L468.44 2144.91 L469.44 2144.86 L470.44 2144.92 L471.44 2144.93 L472.44 2144.87 L473.44 2144.85 L474.44 2144.98 L475.44 2144.89 L476.44 2144.95" fill="none" stroke="#00a2f0" stroke-width="6.2" stroke-linejoin="round" stroke-linecap="butt"/>
<rect x="106.5" y="1804.4" width="378" height="384.1" fill="none" stroke="#000" stroke-width="3.3"/>
<line x1="106.5" y1="2177.6" x2="116.5" y2="2177.6" stroke="#000" stroke-width="2.4"/>
<line x1="106.5" y1="2060.6" x2="116.5" y2="2060.6" stroke="#000" stroke-width="2.4"/>
<line x1="106.5" y1="1943.6" x2="116.5" y2="1943.6" stroke="#000" stroke-width="2.4"/>
<line x1="106.5" y1="1826.6" x2="116.5" y2="1826.6" stroke="#000" stroke-width="2.4"/>
<line x1="106.5" y1="2119.1" x2="112" y2="2119.1" stroke="#000" stroke-width="2.4"/>
<line x1="106.5" y1="2002.1" x2="112" y2="2002.1" stroke="#000" stroke-width="2.4"/>
<line x1="106.5" y1="1885.1" x2="112" y2="1885.1" stroke="#000" stroke-width="2.4"/>
<line x1="114.6" y1="2188.5" x2="114.6" y2="2178.5" stroke="#000" stroke-width="2.4"/>
<line x1="295.5" y1="2188.5" x2="295.5" y2="2178.5" stroke="#000" stroke-width="2.4"/>
<line x1="476.4" y1="2188.5" x2="476.4" y2="2178.5" stroke="#000" stroke-width="2.4"/>
<line x1="205.05" y1="2188.5" x2="205.05" y2="2183" stroke="#000" stroke-width="2.4"/>
<line x1="385.95" y1="2188.5" x2="385.95" y2="2183" stroke="#000" stroke-width="2.4"/>
<text x="64.87" y="1836.6" font-size="30.5" fill="#000">15</text>
<text x="64.79" y="1953.8" font-size="30.5" fill="#000">10</text>
<text x="81.79" y="2070.4" font-size="30.5" fill="#000">5</text>
<text x="81.72" y="2187" font-size="30.5" fill="#000">0</text>
<text x="99.93" y="2219.6" font-size="30.5" fill="#000">-1</text>
<text x="286.1" y="2219.6" font-size="30.5" fill="#000">0</text>
<text x="465.12" y="2219.6" font-size="30.5" fill="#000">1</text>
<text x="133.17" y="2259.6" font-size="40.5" fill="#000">Gene distance (kb)</text>
<line x1="131.2" y1="1829.4" x2="199" y2="1829.4" stroke="#00a2f0" stroke-width="6.2"/>
<text x="224.72" y="1839.7" font-size="30.6" fill="#000">Sox2-enriched</text>
<line x1="131.2" y1="1866.8" x2="199" y2="1866.8" stroke="#e8068a" stroke-width="6.2"/>
<text x="224.72" y="1877.1" font-size="30.6" fill="#000">Sox2a-enriched</text>
<text x="125.56" y="1929.8" font-size="40.83" fill="#000">CORs</text>
<text transform="translate(52 2156.81) rotate(-90)" font-size="42.94" fill="#000">ATAC</text>
<text transform="translate(66.1 2049.84) rotate(-90)" font-size="24.83" fill="#000">Ctrl</text>
<text transform="translate(52.1 2000.27) rotate(-90)" font-size="41.05" fill="#000">(RPKM)</text>
<text transform="translate(505.07 1811.09) scale(1.01 1)" font-size="40.53" font-weight="bold" fill="#231f20">g</text>
<path d="M618.44 2152.08 L619.44 2151.87 L620.44 2151.91 L621.44 2151.75 L622.44 2151.64 L623.44 2151.43 L624.44 2151.53 L625.44 2151.75 L626.44 2151.62 L627.44 2151.54 L628.44 2151.36 L629.44 2151.42 L630.44 2151.19 L631.44 2150.81 L632.44 2150.53 L633.44 2150.13 L634.44 2150.2 L635.44 2149.94 L636.44 2149.71 L637.44 2149.04 L638.44 2148.61 L639.44 2148.28 L640.44 2147.89 L641.44 2147.82 L642.44 2147.48 L643.44 2147.49 L644.44 2146.66 L645.44 2146.45 L646.44 2145.66 L647.44 2145.33 L648.44 2144.8 L649.44 2144.6 L650.44 2143.99 L651.44 2143.39 L652.44 2143.12 L653.44 2143.33 L654.44 2143.2 L655.44 2142.64 L656.44 2142.04 L657.44 2141.34 L658.44 2141.01 L659.44 2140.28 L660.44 2139.99 L661.44 2139.47 L662.44 2139.32 L663.44 2138.84 L664.44 2138.59 L665.44 2138.04 L666.44 2137.78 L667.44 2137.32 L668.44 2136.72 L669.44 2136.24 L670.44 2135.79 L671.44 2135.59 L672.44 2135.3 L673.44 2134.81 L674.44 2134.76 L675.44 2134.64 L676.44 2134.77 L677.44 2134.96 L678.44 2134.91 L679.44 2134.86 L680.44 2134.43 L681.44 2134.42 L682.44 2134.26 L683.44 2134.48 L684.44 2134.26 L685.44 2134.27 L686.44 2134.17 L687.44 2134.15 L688.44 2133.85 L689.44 2133.41 L690.44 2132.86 L691.44 2132.51 L692.44 2131.89 L693.44 2131.32 L694.44 2130.82 L695.44 2130.48 L696.44 2130.1 L697.44 2129.44 L698.44 2128.79 L699.44 2128.06 L700.44 2127.66 L701.44 2127.12 L702.44 2127.23 L703.44 2126.75 L704.44 2126.19 L705.44 2125.53 L706.44 2125.06 L707.44 2124.74 L708.44 2124.11 L709.44 2123.59 L710.44 2122.96 L711.44 2122.46 L712.44 2121.86 L713.44 2121.15 L714.44 2120.28 L715.44 2119.33 L716.44 2118.66 L717.44 2118 L718.44 2117.41 L719.44 2116.65 L720.44 2115.74 L721.44 2115.08 L722.44 2114.21 L723.44 2113.49 L724.44 2112.53 L725.44 2111.91 L726.44 2111.25 L727.44 2110.97 L728.44 2110.43 L729.44 2109.66 L730.44 2108.74 L731.44 2107.88 L732.44 2107.59 L733.44 2107.15 L734.44 2106.54 L735.44 2105.71 L736.44 2104.63 L737.44 2103.79 L738.44 2102.89 L739.44 2101.75 L740.44 2100.35 L741.44 2098.98 L742.44 2097.84 L743.44 2096.82 L744.44 2095.6 L745.44 2094.19 L746.44 2092.62 L747.44 2091.45 L748.44 2090.39 L749.44 2089.47 L750.44 2088.23 L751.44 2087.55 L752.44 2086.91 L753.44 2086.31 L754.44 2085.51 L755.44 2084.64 L756.44 2083.7 L757.44 2082.71 L758.44 2081.86 L759.44 2081.15 L760.44 2080.27 L761.44 2079.49 L762.44 2078.46 L763.44 2077.47 L764.44 2076.39 L765.44 2075.42 L766.44 2074.36 L767.44 2072.97 L768.44 2071.47 L769.44 2069.83 L770.44 2068.57 L771.44 2067.35 L772.44 2065.92 L773.44 2064.43 L774.44 2062.7 L775.44 2061.24 L776.44 2059.62 L777.44 2058.04 L778.44 2056.58 L779.44 2054.7 L780.44 2052.9 L781.44 2050.94 L782.44 2049.13 L783.44 2047.42 L784.44 2045.42 L785.44 2043.82 L786.44 2041.96 L787.44 2040.66 L788.44 2039.32 L789.44 2038.45 L790.44 2037.33 L791.44 2036.27 L792.44 2034.88 L793.44 2034.01 L794.44 2032.89 L795.44 2032.11 L796.44 2031.12 L797.44 2030.9 L798.44 2031.01 L799.44 2031.2 L800.44 2031.35 L801.44 2031.45 L802.44 2031.84 L803.44 2032.23 L804.44 2032.64 L805.44 2033.5 L806.44 2034.07 L807.44 2035.01 L808.44 2035.9 L809.44 2037.44 L810.44 2038.76 L811.44 2039.98 L812.44 2041.23 L813.44 2042.65 L814.44 2044.28 L815.44 2045.73 L816.44 2047.18 L817.44 2048.6 L818.44 2050.36 L819.44 2052.42 L820.44 2054.51 L821.44 2056.27 L822.44 2057.73 L823.44 2059.12 L824.44 2061.18 L825.44 2062.97 L826.44 2064.85 L827.44 2066.44 L828.44 2068 L829.44 2069.47 L830.44 2070.65 L831.44 2072.04 L832.44 2073.53 L833.44 2075.01 L834.44 2076.09 L835.44 2077.23 L836.44 2078.13 L837.44 2079.43 L838.44 2080.32 L839.44 2081.15 L840.44 2082.03 L841.44 2082.81 L842.44 2084.17 L843.44 2085.44 L844.44 2086.53 L845.44 2087.09 L846.44 2087.94 L847.44 2088.91 L848.44 2090.32 L849.44 2091.45 L850.44 2092.73 L851.44 2093.47 L852.44 2094.1 L853.44 2094.81 L854.44 2095.85 L855.44 2096.86 L856.44 2098.09 L857.44 2099.15 L858.44 2100.21 L859.44 2100.91 L860.44 2101.81 L861.44 2102.89 L862.44 2103.56 L863.44 2104.37 L864.44 2104.99 L865.44 2105.99 L866.44 2106.73 L867.44 2107.6 L868.44 2108.75 L869.44 2109.59 L870.44 2110.28 L871.44 2110.62 L872.44 2111.46 L873.44 2112.13 L874.44 2112.98 L875.44 2113.64 L876.44 2114.42 L877.44 2115.03 L878.44 2115.56 L879.44 2116.31 L880.44 2117 L881.44 2117.7 L882.44 2118.28 L883.44 2118.89 L884.44 2119.57 L885.44 2120.15 L886.44 2121.04 L887.44 2121.77 L888.44 2122.28 L889.44 2122.81 L890.44 2123.6 L891.44 2124.49 L892.44 2125.14 L893.44 2125.78 L894.44 2126.3 L895.44 2126.98 L896.44 2127.5 L897.44 2128.29 L898.44 2128.66 L899.44 2128.91 L900.44 2129.46 L901.44 2129.95 L902.44 2130.53 L903.44 2131.07 L904.44 2131.51 L905.44 2131.61 L906.44 2132.02 L907.44 2132.57 L908.44 2133.25 L909.44 2133.57 L910.44 2133.74 L911.44 2134.18 L912.44 2134.09 L913.44 2134.32 L914.44 2134.47 L915.44 2134.83 L916.44 2135.27 L917.44 2135.57 L918.44 2135.61 L919.44 2135.65 L920.44 2135.98 L921.44 2136.35 L922.44 2136.61 L923.44 2136.77 L924.44 2137.12 L925.44 2137.54 L926.44 2137.56 L927.44 2137.6 L928.44 2137.81 L929.44 2138.33 L930.44 2138.52 L931.44 2138.65 L932.44 2138.76 L933.44 2139.35 L934.44 2139.57 L935.44 2140.26 L936.44 2140.44 L937.44 2140.98 L938.44 2141.22 L939.44 2141.6 L940.44 2141.92 L941.44 2141.91 L942.44 2142.2 L943.44 2142.26 L944.44 2142.58 L945.44 2142.83 L946.44 2143.14 L947.44 2143.59 L948.44 2143.94 L949.44 2144.13 L950.44 2144.4 L951.44 2144.52 L952.44 2145.16 L953.44 2145.25 L954.44 2145.63 L955.44 2145.92 L956.44 2146.59 L957.44 2146.74 L958.44 2146.94 L959.44 2146.94 L960.44 2147.59 L961.44 2147.91 L962.44 2148.31 L963.44 2148.63 L964.44 2149.06 L965.44 2149.25 L966.44 2149.3 L967.44 2149.45 L968.44 2149.81 L969.44 2150.03 L970.44 2150.33 L971.44 2150.64 L972.44 2150.95 L973.44 2151.14 L974.44 2151.35 L975.44 2151.76 L976.44 2151.88 L977.44 2151.95 L978.44 2152.26 L979.44 2152.68 L980.44 2153.05" fill="none" stroke="#e8068a" stroke-width="6.2" stroke-linejoin="round" stroke-linecap="butt"/>
<path d="M618.44 2171.21 L619.44 2170.97 L620.44 2170.38 L621.44 2170.1 L622.44 2169.84 L623.44 2169.81 L624.44 2169.56 L625.44 2169.37 L626.44 2169.1 L627.44 2168.78 L628.44 2168.6 L629.44 2168.43 L630.44 2168.4 L631.44 2167.95 L632.44 2167.44 L633.44 2166.82 L634.44 2166.26 L635.44 2165.99 L636.44 2165.52 L637.44 2165.13 L638.44 2164.58 L639.44 2164.4 L640.44 2164.1 L641.44 2163.56 L642.44 2162.89 L643.44 2162.46 L644.44 2162.08 L645.44 2161.6 L646.44 2161.03 L647.44 2160.64 L648.44 2160.43 L649.44 2159.84 L650.44 2159.21 L651.44 2158.43 L652.44 2157.82 L653.44 2157.29 L654.44 2156.77 L655.44 2156.64 L656.44 2156.22 L657.44 2155.67 L658.44 2155.13 L659.44 2154.61 L660.44 2154.09 L661.44 2153.46 L662.44 2152.91 L663.44 2152.47 L664.44 2152 L665.44 2151.28 L666.44 2150.78 L667.44 2150.3 L668.44 2150.02 L669.44 2149.55 L670.44 2148.93 L671.44 2148.34 L672.44 2147.45 L673.44 2146.73 L674.44 2145.69 L675.44 2145.02 L676.44 2144 L677.44 2143.54 L678.44 2142.97 L679.44 2142.36 L680.44 2141.64 L681.44 2140.63 L682.44 2139.84 L683.44 2138.84 L684.44 2137.95 L685.44 2137.11 L686.44 2136.41 L687.44 2135.52 L688.44 2134.66 L689.44 2133.52 L690.44 2132.87 L691.44 2131.87 L692.44 2130.99 L693.44 2129.9 L694.44 2128.88 L695.44 2127.65 L696.44 2126.67 L697.44 2125.42 L698.44 2124.47 L699.44 2123.25 L700.44 2122.14 L701.44 2120.94 L702.44 2119.79 L703.44 2118.65 L704.44 2117.32 L705.44 2115.66 L706.44 2114.32 L707.44 2113.09 L708.44 2112.07 L709.44 2110.81 L710.44 2109.65 L711.44 2108.39 L712.44 2107.22 L713.44 2105.97 L714.44 2104.65 L715.44 2103.33 L716.44 2102.16 L717.44 2101 L718.44 2099.56 L719.44 2097.98 L720.44 2096.59 L721.44 2095.47 L722.44 2094.11 L723.44 2092.6 L724.44 2091 L725.44 2089.61 L726.44 2088.21 L727.44 2086.73 L728.44 2085.12 L729.44 2083.52 L730.44 2082.11 L731.44 2080.53 L732.44 2079.12 L733.44 2077.65 L734.44 2076.31 L735.44 2074.73 L736.44 2073.34 L737.44 2071.79 L738.44 2070.48 L739.44 2068.81 L740.44 2067.23 L741.44 2065.7 L742.44 2064.26 L743.44 2062.84 L744.44 2061.21 L745.44 2059.41 L746.44 2057.57 L747.44 2055.67 L748.44 2054 L749.44 2052.16 L750.44 2050.06 L751.44 2047.81 L752.44 2045.5 L753.44 2043.28 L754.44 2041.06 L755.44 2038.78 L756.44 2036.34 L757.44 2033.78 L758.44 2031.37 L759.44 2028.98 L760.44 2026.49 L761.44 2023.56 L762.44 2020.6 L763.44 2017.31 L764.44 2014 L765.44 2010.52 L766.44 2006.95 L767.44 2003.23 L768.44 1999.58 L769.44 1995.73 L770.44 1992.18 L771.44 1988.32 L772.44 1984.61 L773.44 1980.58 L774.44 1976.62 L775.44 1972.66 L776.44 1969.05 L777.44 1965.37 L778.44 1962.04 L779.44 1958.82 L780.44 1955.84 L781.44 1953.32 L782.44 1950.71 L783.44 1948.21 L784.44 1945.73 L785.44 1943.42 L786.44 1941.53 L787.44 1939.53 L788.44 1937.9 L789.44 1936.44 L790.44 1935.14 L791.44 1934.22 L792.44 1933.25 L793.44 1932.41 L794.44 1931.72 L795.44 1931.43 L796.44 1931.19 L797.44 1931.09 L798.44 1930.89 L799.44 1930.75 L800.44 1930.67 L801.44 1930.65 L802.44 1931 L803.44 1931.43 L804.44 1932.29 L805.44 1933.18 L806.44 1934.04 L807.44 1934.83 L808.44 1935.57 L809.44 1936.68 L810.44 1937.98 L811.44 1939.56 L812.44 1941.09 L813.44 1943.03 L814.44 1944.95 L815.44 1946.97 L816.44 1948.77 L817.44 1950.76 L818.44 1953.03 L819.44 1955.44 L820.44 1957.98 L821.44 1960.61 L822.44 1963.46 L823.44 1966.36 L824.44 1969.21 L825.44 1972.15 L826.44 1975.1 L827.44 1978.22 L828.44 1981.59 L829.44 1984.83 L830.44 1988.45 L831.44 1991.74 L832.44 1995.42 L833.44 1998.98 L834.44 2002.66 L835.44 2006.26 L836.44 2009.59 L837.44 2012.84 L838.44 2015.9 L839.44 2018.85 L840.44 2021.95 L841.44 2024.75 L842.44 2027.71 L843.44 2029.93 L844.44 2032.54 L845.44 2034.97 L846.44 2037.72 L847.44 2040.26 L848.44 2042.63 L849.44 2044.93 L850.44 2047.11 L851.44 2049.52 L852.44 2051.74 L853.44 2053.86 L854.44 2055.67 L855.44 2057.76 L856.44 2059.66 L857.44 2061.7 L858.44 2063.92 L859.44 2066.12 L860.44 2068.16 L861.44 2069.99 L862.44 2072.05 L863.44 2074.04 L864.44 2076.18 L865.44 2078.18 L866.44 2080.23 L867.44 2082.29 L868.44 2084.03 L869.44 2086.01 L870.44 2087.88 L871.44 2089.97 L872.44 2091.87 L873.44 2093.56 L874.44 2095.26 L875.44 2097.15 L876.44 2098.81 L877.44 2100.35 L878.44 2101.63 L879.44 2102.92 L880.44 2104.34 L881.44 2105.53 L882.44 2106.97 L883.44 2107.97 L884.44 2109.21 L885.44 2110.19 L886.44 2111.28 L887.44 2112.31 L888.44 2113.16 L889.44 2114.37 L890.44 2115.24 L891.44 2116.33 L892.44 2117.13 L893.44 2118.16 L894.44 2118.95 L895.44 2120.06 L896.44 2121.07 L897.44 2122.49 L898.44 2123.7 L899.44 2125.07 L900.44 2126.21 L901.44 2127.64 L902.44 2129.04 L903.44 2130.3 L904.44 2131.28 L905.44 2132.2 L906.44 2133.43 L907.44 2134.69 L908.44 2135.59 L909.44 2136.43 L910.44 2137.15 L911.44 2138.15 L912.44 2139.02 L913.44 2140.11 L914.44 2141.04 L915.44 2142.27 L916.44 2143.23 L917.44 2144.15 L918.44 2144.81 L919.44 2145.55 L920.44 2146.67 L921.44 2147.53 L922.44 2148.25 L923.44 2148.86 L924.44 2149.69 L925.44 2150.41 L926.44 2151.14 L927.44 2151.65 L928.44 2152.26 L929.44 2152.49 L930.44 2152.92 L931.44 2153.3 L932.44 2153.59 L933.44 2154.04 L934.44 2154.27 L935.44 2154.89 L936.44 2155.09 L937.44 2155.85 L938.44 2156.25 L939.44 2156.84 L940.44 2157.09 L941.44 2157.28 L942.44 2157.32 L943.44 2157.55 L944.44 2158.13 L945.44 2158.72 L946.44 2159.2 L947.44 2159.57 L948.44 2159.79 L949.44 2160.1 L950.44 2160.56 L951.44 2161 L952.44 2161.12 L953.44 2161.24 L954.44 2161.59 L955.44 2162.17 L956.44 2162.44 L957.44 2162.83 L958.44 2162.9 L959.44 2163.41 L960.44 2163.9 L961.44 2164.59 L962.44 2164.7 L963.44 2164.92 L964.44 2164.84 L965.44 2165.38 L966.44 2165.71 L967.44 2166.28 L968.44 2166.67 L969.44 2167.09 L970.44 2167.7 L971.44 2168.11 L972.44 2168.57 L973.44 2168.74 L974.44 2169.08 L975.44 2169.48 L976.44 2170.19 L977.44 2170.78 L978.44 2171.45 L979.44 2171.88" fill="none" stroke="#00a2f0" stroke-width="6.2" stroke-linejoin="round" stroke-linecap="butt"/>
<rect x="610.4" y="1803.8" width="378.6" height="385.3" fill="none" stroke="#000" stroke-width="3.3"/>
<line x1="610.4" y1="2182.3" x2="620.4" y2="2182.3" stroke="#000" stroke-width="2.4"/>
<line x1="610.4" y1="2017.6" x2="620.4" y2="2017.6" stroke="#000" stroke-width="2.4"/>
<line x1="610.4" y1="1852.9" x2="620.4" y2="1852.9" stroke="#000" stroke-width="2.4"/>
<line x1="610.4" y1="2099.95" x2="615.9" y2="2099.95" stroke="#000" stroke-width="2.4"/>
<line x1="610.4" y1="1935.25" x2="615.9" y2="1935.25" stroke="#000" stroke-width="2.4"/>
<line x1="618.8" y1="2189.1" x2="618.8" y2="2179.1" stroke="#000" stroke-width="2.4"/>
<line x1="799.4" y1="2189.1" x2="799.4" y2="2179.1" stroke="#000" stroke-width="2.4"/>
<line x1="980" y1="2189.1" x2="980" y2="2179.1" stroke="#000" stroke-width="2.4"/>
<line x1="709.1" y1="2189.1" x2="709.1" y2="2183.6" stroke="#000" stroke-width="2.4"/>
<line x1="889.7" y1="2189.1" x2="889.7" y2="2183.6" stroke="#000" stroke-width="2.4"/>
<text x="587.8" y="1863.2" font-size="30.5" fill="#000">2</text>
<text x="587.72" y="2028" font-size="30.5" fill="#000">1</text>
<text x="587.42" y="2192.6" font-size="30.5" fill="#000">0</text>
<text x="604.13" y="2219.6" font-size="30.5" fill="#000">-1</text>
<text x="790" y="2219.6" font-size="30.5" fill="#000">0</text>
<text x="968.72" y="2219.6" font-size="30.5" fill="#000">1</text>
<text x="636.67" y="2259.6" font-size="40.6" fill="#000">Gene distance (kb)</text>
<line x1="631.2" y1="1829.4" x2="699" y2="1829.4" stroke="#00a2f0" stroke-width="6.2"/>
<text x="723.92" y="1839.7" font-size="30.6" fill="#000">Sox2/Ctrl</text>
<line x1="631.2" y1="1866.8" x2="699" y2="1866.8" stroke="#e8068a" stroke-width="6.2"/>
<text x="723.92" y="1877.1" font-size="30.6" fill="#000">Sox2a/Ctrl</text>
<text x="626.15" y="1929.8" font-size="41.02" fill="#000">CORs</text>
<text transform="translate(557.9 2178.1) rotate(-90)" font-size="41.45" fill="#000">ATAC change (log</text>
<text transform="translate(571.9 1844.65) rotate(-90)" font-size="23.08" fill="#000">2</text>
<text transform="translate(557.9 1829.91) rotate(-90)" font-size="41.45" fill="#000">)</text>
<text transform="translate(1015.89 1809.8) scale(1.01 1)" font-size="39.72" font-weight="bold" fill="#231f20">h</text>
<path d="M1124.44 2135.15 L1125.44 2135.33 L1126.44 2134.98 L1127.44 2134.82 L1128.44 2134.44 L1129.44 2134.09 L1130.44 2133.74 L1131.44 2133.26 L1132.44 2133.12 L1133.44 2132.78 L1134.44 2132.47 L1135.44 2132.23 L1136.44 2132.29 L1137.44 2131.81 L1138.44 2131.52 L1139.44 2131.39 L1140.44 2131.75 L1141.44 2131.39 L1142.44 2131.08 L1143.44 2130.39 L1144.44 2130.29 L1145.44 2129.84 L1146.44 2129.73 L1147.44 2129.85 L1148.44 2129.93 L1149.44 2129.83 L1150.44 2129.43 L1151.44 2129.14 L1152.44 2128.95 L1153.44 2128.99 L1154.44 2128.73 L1155.44 2128.59 L1156.44 2128.3 L1157.44 2128.25 L1158.44 2128.15 L1159.44 2128.06 L1160.44 2128.15 L1161.44 2127.95 L1162.44 2128.04 L1163.44 2127.63 L1164.44 2127.42 L1165.44 2127.04 L1166.44 2127.01 L1167.44 2126.99 L1168.44 2127.04 L1169.44 2127.02 L1170.44 2126.9 L1171.44 2126.47 L1172.44 2126.1 L1173.44 2126.09 L1174.44 2126.01 L1175.44 2125.63 L1176.44 2125.1 L1177.44 2124.78 L1178.44 2125.01 L1179.44 2124.92 L1180.44 2125.2 L1181.44 2124.93 L1182.44 2124.78 L1183.44 2124.14 L1184.44 2123.99 L1185.44 2123.74 L1186.44 2123.47 L1187.44 2123.2 L1188.44 2123.04 L1189.44 2123.16 L1190.44 2122.85 L1191.44 2122.15 L1192.44 2121.87 L1193.44 2121.35 L1194.44 2121.85 L1195.44 2121.8 L1196.44 2121.81 L1197.44 2121.12 L1198.44 2120.34 L1199.44 2120.32 L1200.44 2120.23 L1201.44 2120.1 L1202.44 2119.65 L1203.44 2119.75 L1204.44 2119.61 L1205.44 2119.46 L1206.44 2118.92 L1207.44 2118.69 L1208.44 2118.4 L1209.44 2117.79 L1210.44 2117.2 L1211.44 2116.51 L1212.44 2116.11 L1213.44 2115.92 L1214.44 2115.52 L1215.44 2115.15 L1216.44 2114.35 L1217.44 2113.83 L1218.44 2113.46 L1219.44 2112.97 L1220.44 2112.46 L1221.44 2111.88 L1222.44 2111.51 L1223.44 2111.21 L1224.44 2110.66 L1225.44 2109.8 L1226.44 2109.32 L1227.44 2108.96 L1228.44 2109.03 L1229.44 2108.42 L1230.44 2108.4 L1231.44 2107.69 L1232.44 2107.61 L1233.44 2106.85 L1234.44 2106.62 L1235.44 2106.26 L1236.44 2105.81 L1237.44 2105.07 L1238.44 2104.27 L1239.44 2103.88 L1240.44 2104.08 L1241.44 2103.41 L1242.44 2102.64 L1243.44 2101.73 L1244.44 2101.21 L1245.44 2100.19 L1246.44 2098.65 L1247.44 2097.11 L1248.44 2095.82 L1249.44 2094.69 L1250.44 2093.22 L1251.44 2091.61 L1252.44 2090.19 L1253.44 2088.91 L1254.44 2087.37 L1255.44 2085.47 L1256.44 2083.53 L1257.44 2081.85 L1258.44 2080.18 L1259.44 2078.58 L1260.44 2076.42 L1261.44 2074.11 L1262.44 2071.81 L1263.44 2069.77 L1264.44 2067.62 L1265.44 2065.19 L1266.44 2062.31 L1267.44 2059.25 L1268.44 2056.61 L1269.44 2054.11 L1270.44 2051.79 L1271.44 2048.97 L1272.44 2046.31 L1273.44 2044.11 L1274.44 2041.9 L1275.44 2039.51 L1276.44 2036.93 L1277.44 2034.49 L1278.44 2032.36 L1279.44 2030.28 L1280.44 2027.84 L1281.44 2025.18 L1282.44 2022.47 L1283.44 2020.02 L1284.44 2017.95 L1285.44 2015.59 L1286.44 2013.39 L1287.44 2010.88 L1288.44 2008.67 L1289.44 2006.38 L1290.44 2004.54 L1291.44 2002.54 L1292.44 2000.71 L1293.44 1999.14 L1294.44 1997.67 L1295.44 1996.88 L1296.44 1995.85 L1297.44 1995.23 L1298.44 1994.35 L1299.44 1993.71 L1300.44 1992.78 L1301.44 1992.62 L1302.44 1992.27 L1303.44 1992.73 L1304.44 1992.45 L1305.44 1992.72 L1306.44 1992.87 L1307.44 1993.42 L1308.44 1994.28 L1309.44 1995.46 L1310.44 1996.79 L1311.44 1997.95 L1312.44 1999.2 L1313.44 2000.83 L1314.44 2002.85 L1315.44 2004.8 L1316.44 2006.58 L1317.44 2008.05 L1318.44 2009.92 L1319.44 2011.76 L1320.44 2013.77 L1321.44 2015.63 L1322.44 2017.59 L1323.44 2019.58 L1324.44 2021.13 L1325.44 2022.87 L1326.44 2024.53 L1327.44 2026.87 L1328.44 2029.2 L1329.44 2032.02 L1330.44 2034.63 L1331.44 2037.35 L1332.44 2040.44 L1333.44 2043.18 L1334.44 2045.94 L1335.44 2048.32 L1336.44 2051.27 L1337.44 2053.89 L1338.44 2056.23 L1339.44 2058.22 L1340.44 2060.74 L1341.44 2062.86 L1342.44 2064.95 L1343.44 2066.7 L1344.44 2068.6 L1345.44 2070.59 L1346.44 2072.58 L1347.44 2074.3 L1348.44 2075.88 L1349.44 2077.05 L1350.44 2078.45 L1351.44 2079.88 L1352.44 2081.25 L1353.44 2082.38 L1354.44 2083.2 L1355.44 2084.16 L1356.44 2085.41 L1357.44 2086.59 L1358.44 2087.62 L1359.44 2088.22 L1360.44 2089.44 L1361.44 2090.28 L1362.44 2091.45 L1363.44 2092.32 L1364.44 2093.68 L1365.44 2095 L1366.44 2096.04 L1367.44 2097.08 L1368.44 2098.06 L1369.44 2098.96 L1370.44 2100.03 L1371.44 2101.06 L1372.44 2102.45 L1373.44 2103.45 L1374.44 2104.69 L1375.44 2105.65 L1376.44 2106.71 L1377.44 2107.59 L1378.44 2108.38 L1379.44 2108.94 L1380.44 2109.65 L1381.44 2109.98 L1382.44 2110.54 L1383.44 2110.93 L1384.44 2111.46 L1385.44 2111.97 L1386.44 2112.03 L1387.44 2112.3 L1388.44 2112.56 L1389.44 2113.09 L1390.44 2113.64 L1391.44 2113.8 L1392.44 2114.01 L1393.44 2114.2 L1394.44 2114.6 L1395.44 2114.67 L1396.44 2114.85 L1397.44 2115.42 L1398.44 2115.84 L1399.44 2116.47 L1400.44 2116.59 L1401.44 2117.4 L1402.44 2117.61 L1403.44 2118.14 L1404.44 2118.07 L1405.44 2118.64 L1406.44 2119.25 L1407.44 2119.77 L1408.44 2120.41 L1409.44 2120.53 L1410.44 2121.18 L1411.44 2120.91 L1412.44 2121.61 L1413.44 2121.88 L1414.44 2122.66 L1415.44 2122.67 L1416.44 2123.06 L1417.44 2123.74 L1418.44 2124.25 L1419.44 2124.95 L1420.44 2125.09 L1421.44 2125.58 L1422.44 2125.68 L1423.44 2126.08 L1424.44 2126.74 L1425.44 2127.18 L1426.44 2127.42 L1427.44 2127.1 L1428.44 2127.33 L1429.44 2127.63 L1430.44 2127.56 L1431.44 2127.28 L1432.44 2127.51 L1433.44 2127.96 L1434.44 2128.3 L1435.44 2128.12 L1436.44 2128.31 L1437.44 2128.5 L1438.44 2128.44 L1439.44 2128.68 L1440.44 2128.63 L1441.44 2128.61 L1442.44 2128.27 L1443.44 2128.35 L1444.44 2128.56 L1445.44 2128.75 L1446.44 2128.98 L1447.44 2128.65 L1448.44 2128.72 L1449.44 2128.99 L1450.44 2129.81 L1451.44 2130 L1452.44 2129.92 L1453.44 2130.2 L1454.44 2130.46 L1455.44 2130.66 L1456.44 2130.96 L1457.44 2131.12 L1458.44 2131.5 L1459.44 2131.35 L1460.44 2131.58 L1461.44 2131.46 L1462.44 2131.48 L1463.44 2131.82 L1464.44 2131.91 L1465.44 2132.21 L1466.44 2131.92 L1467.44 2132.18 L1468.44 2132.23 L1469.44 2132.26 L1470.44 2132.58 L1471.44 2132.65 L1472.44 2133.22 L1473.44 2132.96 L1474.44 2133.23 L1475.44 2133.5 L1476.44 2133.77 L1477.44 2133.59 L1478.44 2133.36 L1479.44 2133.43 L1480.44 2133.58 L1481.44 2133.56 L1482.44 2133.52 L1483.44 2133.71 L1484.44 2133.75 L1485.44 2133.79 L1486.44 2133.81" fill="none" stroke="#00a2f0" stroke-width="6.2" stroke-linejoin="round" stroke-linecap="butt"/>
<path d="M1124.44 2132.04 L1125.44 2131.94 L1126.44 2131.7 L1127.44 2131.03 L1128.44 2131.01 L1129.44 2131.2 L1130.44 2131.23 L1131.44 2131.21 L1132.44 2130.81 L1133.44 2131.36 L1134.44 2131.05 L1135.44 2130.92 L1136.44 2130.55 L1137.44 2130.33 L1138.44 2130.27 L1139.44 2129.94 L1140.44 2129.76 L1141.44 2129.71 L1142.44 2129.69 L1143.44 2129.65 L1144.44 2129.71 L1145.44 2129.22 L1146.44 2128.96 L1147.44 2128.67 L1148.44 2128.57 L1149.44 2128.8 L1150.44 2128.69 L1151.44 2128.77 L1152.44 2128.52 L1153.44 2128.23 L1154.44 2127.94 L1155.44 2127.94 L1156.44 2128.13 L1157.44 2128.34 L1158.44 2128.13 L1159.44 2127.56 L1160.44 2127.34 L1161.44 2127.2 L1162.44 2127.52 L1163.44 2127.81 L1164.44 2127.71 L1165.44 2127.44 L1166.44 2127.25 L1167.44 2127.19 L1168.44 2126.95 L1169.44 2126.84 L1170.44 2126.54 L1171.44 2126.49 L1172.44 2125.9 L1173.44 2125.87 L1174.44 2125.88 L1175.44 2125.7 L1176.44 2125.36 L1177.44 2124.69 L1178.44 2124.66 L1179.44 2124.32 L1180.44 2123.74 L1181.44 2122.83 L1182.44 2122.11 L1183.44 2121.63 L1184.44 2120.76 L1185.44 2119.92 L1186.44 2119.31 L1187.44 2118.86 L1188.44 2118.12 L1189.44 2117.48 L1190.44 2116.67 L1191.44 2115.94 L1192.44 2115.42 L1193.44 2115.31 L1194.44 2115.32 L1195.44 2115.15 L1196.44 2114.91 L1197.44 2114.54 L1198.44 2113.84 L1199.44 2113.21 L1200.44 2112.57 L1201.44 2112.34 L1202.44 2112 L1203.44 2111.93 L1204.44 2111.76 L1205.44 2111.06 L1206.44 2110.77 L1207.44 2110.09 L1208.44 2110.14 L1209.44 2109.58 L1210.44 2109 L1211.44 2108.48 L1212.44 2107.74 L1213.44 2107.35 L1214.44 2106.42 L1215.44 2105.74 L1216.44 2104.92 L1217.44 2104.57 L1218.44 2103.98 L1219.44 2103.18 L1220.44 2102.35 L1221.44 2101.47 L1222.44 2100.67 L1223.44 2099.5 L1224.44 2098.83 L1225.44 2098.25 L1226.44 2097.71 L1227.44 2096.83 L1228.44 2096.31 L1229.44 2096 L1230.44 2095.84 L1231.44 2095.3 L1232.44 2094.69 L1233.44 2094.25 L1234.44 2094.18 L1235.44 2093.88 L1236.44 2093.13 L1237.44 2092.38 L1238.44 2091.57 L1239.44 2091.46 L1240.44 2090.48 L1241.44 2089.69 L1242.44 2088.44 L1243.44 2087.61 L1244.44 2086.66 L1245.44 2085.62 L1246.44 2084.49 L1247.44 2083.29 L1248.44 2082.09 L1249.44 2080.76 L1250.44 2079.56 L1251.44 2078.26 L1252.44 2077.12 L1253.44 2075.84 L1254.44 2074.61 L1255.44 2073.41 L1256.44 2072.03 L1257.44 2070.63 L1258.44 2069.1 L1259.44 2067.55 L1260.44 2065.89 L1261.44 2064.21 L1262.44 2062.22 L1263.44 2060.5 L1264.44 2058.4 L1265.44 2055.97 L1266.44 2053.73 L1267.44 2051.28 L1268.44 2049.63 L1269.44 2046.89 L1270.44 2044.52 L1271.44 2041.91 L1272.44 2039.35 L1273.44 2036.64 L1274.44 2033.94 L1275.44 2031.68 L1276.44 2029.34 L1277.44 2026.84 L1278.44 2023.89 L1279.44 2020.98 L1280.44 2018.11 L1281.44 2015.34 L1282.44 2012.35 L1283.44 2009.49 L1284.44 2006.39 L1285.44 2003.4 L1286.44 2000.3 L1287.44 1997.45 L1288.44 1994.93 L1289.44 1992.35 L1290.44 1989.94 L1291.44 1987.75 L1292.44 1985.8 L1293.44 1984.21 L1294.44 1983.01 L1295.44 1981.92 L1296.44 1980.81 L1297.44 1979.58 L1298.44 1978.57 L1299.44 1977.86 L1300.44 1977.07 L1301.44 1976.86 L1302.44 1976.58 L1303.44 1976.81 L1304.44 1976.84 L1305.44 1976.99 L1306.44 1976.81 L1307.44 1976.58 L1308.44 1976.81 L1309.44 1977.3 L1310.44 1977.54 L1311.44 1977.65 L1312.44 1978.27 L1313.44 1979.33 L1314.44 1980.91 L1315.44 1982.04 L1316.44 1983.46 L1317.44 1984.44 L1318.44 1985.7 L1319.44 1986.8 L1320.44 1987.96 L1321.44 1989.93 L1322.44 1992.12 L1323.44 1994.43 L1324.44 1996.5 L1325.44 1998.37 L1326.44 2001.2 L1327.44 2003.79 L1328.44 2007.16 L1329.44 2009.56 L1330.44 2012.73 L1331.44 2015.62 L1332.44 2018.95 L1333.44 2021.49 L1334.44 2024.18 L1335.44 2026.79 L1336.44 2029.37 L1337.44 2031.62 L1338.44 2033.91 L1339.44 2036.42 L1340.44 2039.29 L1341.44 2042.09 L1342.44 2044.83 L1343.44 2047.03 L1344.44 2048.84 L1345.44 2050.62 L1346.44 2052.44 L1347.44 2054.66 L1348.44 2056.93 L1349.44 2058.94 L1350.44 2060.68 L1351.44 2062.24 L1352.44 2064.02 L1353.44 2065.82 L1354.44 2067.08 L1355.44 2068.26 L1356.44 2069.41 L1357.44 2071.02 L1358.44 2072.48 L1359.44 2073.62 L1360.44 2075 L1361.44 2076.01 L1362.44 2077.22 L1363.44 2077.9 L1364.44 2078.81 L1365.44 2079.74 L1366.44 2080.64 L1367.44 2081.65 L1368.44 2082.52 L1369.44 2083.2 L1370.44 2083.77 L1371.44 2084.65 L1372.44 2085.45 L1373.44 2086.54 L1374.44 2087.18 L1375.44 2088.43 L1376.44 2088.98 L1377.44 2089.34 L1378.44 2089.52 L1379.44 2090.39 L1380.44 2091.63 L1381.44 2092.6 L1382.44 2093.14 L1383.44 2093.71 L1384.44 2093.89 L1385.44 2094.34 L1386.44 2094.58 L1387.44 2095.55 L1388.44 2096.59 L1389.44 2097.5 L1390.44 2098.24 L1391.44 2098.74 L1392.44 2099.47 L1393.44 2100.23 L1394.44 2101.38 L1395.44 2102.34 L1396.44 2103.22 L1397.44 2103.96 L1398.44 2104.79 L1399.44 2105.37 L1400.44 2106.26 L1401.44 2106.89 L1402.44 2107.75 L1403.44 2108.16 L1404.44 2109.01 L1405.44 2109.7 L1406.44 2110.5 L1407.44 2111.41 L1408.44 2112.03 L1409.44 2112.36 L1410.44 2112.98 L1411.44 2113.82 L1412.44 2114.88 L1413.44 2115.39 L1414.44 2115.86 L1415.44 2116.31 L1416.44 2116.4 L1417.44 2116.9 L1418.44 2117.25 L1419.44 2117.59 L1420.44 2117.64 L1421.44 2117.69 L1422.44 2117.96 L1423.44 2118.05 L1424.44 2118.29 L1425.44 2118.36 L1426.44 2118.56 L1427.44 2118.13 L1428.44 2118.1 L1429.44 2118.19 L1430.44 2118.63 L1431.44 2118.96 L1432.44 2119.06 L1433.44 2119.23 L1434.44 2119.44 L1435.44 2119.81 L1436.44 2120.17 L1437.44 2120.45 L1438.44 2120.87 L1439.44 2121.29 L1440.44 2121.72 L1441.44 2121.94 L1442.44 2122.18 L1443.44 2122.3 L1444.44 2122.83 L1445.44 2123.16 L1446.44 2123.68 L1447.44 2123.61 L1448.44 2123.69 L1449.44 2123.69 L1450.44 2124.08 L1451.44 2124.44 L1452.44 2125.1 L1453.44 2125.4 L1454.44 2125.82 L1455.44 2126.25 L1456.44 2126.54 L1457.44 2126.8 L1458.44 2127.23 L1459.44 2127.59 L1460.44 2127.9 L1461.44 2127.6 L1462.44 2127.94 L1463.44 2128.31 L1464.44 2128.17 L1465.44 2128.14 L1466.44 2128.16 L1467.44 2128.83 L1468.44 2128.79 L1469.44 2128.91 L1470.44 2129.26 L1471.44 2129.84 L1472.44 2129.84 L1473.44 2129.79 L1474.44 2129.65 L1475.44 2130.13 L1476.44 2129.77 L1477.44 2130.21 L1478.44 2130.29 L1479.44 2131.12 L1480.44 2130.94 L1481.44 2131.02 L1482.44 2130.83 L1483.44 2131.27 L1484.44 2131.51 L1485.44 2132.18 L1486.44 2132.25" fill="none" stroke="#e8068a" stroke-width="6.2" stroke-linejoin="round" stroke-linecap="butt"/>
<rect x="1116.2" y="1804.4" width="378" height="384.1" fill="none" stroke="#000" stroke-width="3.3"/>
<line x1="1116.2" y1="2177.6" x2="1126.2" y2="2177.6" stroke="#000" stroke-width="2.4"/>
<line x1="1116.2" y1="2060.6" x2="1126.2" y2="2060.6" stroke="#000" stroke-width="2.4"/>
<line x1="1116.2" y1="1943.6" x2="1126.2" y2="1943.6" stroke="#000" stroke-width="2.4"/>
<line x1="1116.2" y1="1826.6" x2="1126.2" y2="1826.6" stroke="#000" stroke-width="2.4"/>
<line x1="1116.2" y1="2119.1" x2="1121.7" y2="2119.1" stroke="#000" stroke-width="2.4"/>
<line x1="1116.2" y1="2002.1" x2="1121.7" y2="2002.1" stroke="#000" stroke-width="2.4"/>
<line x1="1116.2" y1="1885.1" x2="1121.7" y2="1885.1" stroke="#000" stroke-width="2.4"/>
<line x1="1123.5" y1="2188.5" x2="1123.5" y2="2178.5" stroke="#000" stroke-width="2.4"/>
<line x1="1304.8" y1="2188.5" x2="1304.8" y2="2178.5" stroke="#000" stroke-width="2.4"/>
<line x1="1486.1" y1="2188.5" x2="1486.1" y2="2178.5" stroke="#000" stroke-width="2.4"/>
<line x1="1214.15" y1="2188.5" x2="1214.15" y2="2183" stroke="#000" stroke-width="2.4"/>
<line x1="1395.45" y1="2188.5" x2="1395.45" y2="2183" stroke="#000" stroke-width="2.4"/>
<text x="1074.57" y="1836.6" font-size="30.5" fill="#000">15</text>
<text x="1074.49" y="1953.8" font-size="30.5" fill="#000">10</text>
<text x="1091.49" y="2070.4" font-size="30.5" fill="#000">5</text>
<text x="1091.42" y="2187" font-size="30.5" fill="#000">0</text>
<text x="1108.83" y="2219.6" font-size="30.5" fill="#000">-1</text>
<text x="1295.4" y="2219.6" font-size="30.5" fill="#000">0</text>
<text x="1474.82" y="2219.6" font-size="30.5" fill="#000">1</text>
<text x="1142.87" y="2259.6" font-size="40.5" fill="#000">Gene distance (kb)</text>
<line x1="1149.3" y1="1829.4" x2="1217" y2="1829.4" stroke="#00a2f0" stroke-width="6.2"/>
<text x="1242.82" y="1839.7" font-size="30.6" fill="#000">Sox2-enriched</text>
<line x1="1149.3" y1="1866.8" x2="1217" y2="1866.8" stroke="#e8068a" stroke-width="6.2"/>
<text x="1242.82" y="1877.1" font-size="30.6" fill="#000">Sox2a-enriched</text>
<text x="1136.58" y="1929.8" font-size="40.56" fill="#000">±10%</text>
<text transform="translate(1061.7 2156.81) rotate(-90)" font-size="42.94" fill="#000">ATAC</text>
<text transform="translate(1075.8 2049.84) rotate(-90)" font-size="24.83" fill="#000">Ctrl</text>
<text transform="translate(1061.8 2000.27) rotate(-90)" font-size="41.05" fill="#000">(RPKM)</text>
<text transform="translate(1525.5 1810.8) scale(0.98 1)" font-size="39.45" font-weight="bold" fill="#231f20">i</text>
<path d="M1627.44 2142.75 L1628.44 2142.45 L1629.44 2142.27 L1630.44 2141.71 L1631.44 2142.7 L1632.44 2143.45 L1633.44 2144.47 L1634.44 2144.27 L1635.44 2144.22 L1636.44 2143.62 L1637.44 2143.9 L1638.44 2143.51 L1639.44 2143.62 L1640.44 2143.12 L1641.44 2143.12 L1642.44 2143.33 L1643.44 2143.23 L1644.44 2143.23 L1645.44 2142.83 L1646.44 2142.93 L1647.44 2142.58 L1648.44 2142.31 L1649.44 2141.81 L1650.44 2141.25 L1651.44 2140.8 L1652.44 2140.41 L1653.44 2140.51 L1654.44 2140.16 L1655.44 2139.42 L1656.44 2138.96 L1657.44 2138.35 L1658.44 2137.95 L1659.44 2137.15 L1660.44 2136.64 L1661.44 2135.99 L1662.44 2135.52 L1663.44 2134.78 L1664.44 2134.29 L1665.44 2133.64 L1666.44 2133.23 L1667.44 2132.89 L1668.44 2132.54 L1669.44 2132.3 L1670.44 2131.81 L1671.44 2131.46 L1672.44 2131.36 L1673.44 2131.18 L1674.44 2130.04 L1675.44 2129.54 L1676.44 2128.59 L1677.44 2128.51 L1678.44 2127.97 L1679.44 2127.74 L1680.44 2128.07 L1681.44 2127.86 L1682.44 2127.64 L1683.44 2126.7 L1684.44 2126.33 L1685.44 2126.48 L1686.44 2126.59 L1687.44 2126.69 L1688.44 2126.38 L1689.44 2126.39 L1690.44 2125.86 L1691.44 2125.85 L1692.44 2125.86 L1693.44 2125.91 L1694.44 2126.76 L1695.44 2127.22 L1696.44 2128.01 L1697.44 2128.05 L1698.44 2128.17 L1699.44 2128 L1700.44 2127.49 L1701.44 2126.82 L1702.44 2126.59 L1703.44 2126.01 L1704.44 2125.51 L1705.44 2124.74 L1706.44 2124.06 L1707.44 2123.3 L1708.44 2122.46 L1709.44 2121.7 L1710.44 2121.3 L1711.44 2120.72 L1712.44 2120.28 L1713.44 2119.39 L1714.44 2118.73 L1715.44 2117.82 L1716.44 2117.58 L1717.44 2116.73 L1718.44 2115.89 L1719.44 2115.12 L1720.44 2115.31 L1721.44 2115.4 L1722.44 2114.92 L1723.44 2114.32 L1724.44 2113.47 L1725.44 2112.84 L1726.44 2111.94 L1727.44 2111.48 L1728.44 2110.95 L1729.44 2110.13 L1730.44 2109.5 L1731.44 2109.16 L1732.44 2108.42 L1733.44 2107.71 L1734.44 2107.17 L1735.44 2107.32 L1736.44 2106.45 L1737.44 2105.6 L1738.44 2104.75 L1739.44 2104.39 L1740.44 2103.5 L1741.44 2102.72 L1742.44 2101.94 L1743.44 2101.18 L1744.44 2100.07 L1745.44 2099.13 L1746.44 2098.01 L1747.44 2097.55 L1748.44 2097.33 L1749.44 2097 L1750.44 2095.85 L1751.44 2094.68 L1752.44 2093.63 L1753.44 2092.31 L1754.44 2090.94 L1755.44 2090.02 L1756.44 2089.24 L1757.44 2088.12 L1758.44 2086.7 L1759.44 2085.94 L1760.44 2084.94 L1761.44 2084.48 L1762.44 2083.45 L1763.44 2082.66 L1764.44 2081.52 L1765.44 2080.63 L1766.44 2080.1 L1767.44 2079.42 L1768.44 2078.9 L1769.44 2078.23 L1770.44 2077.28 L1771.44 2076.16 L1772.44 2074.96 L1773.44 2074.09 L1774.44 2073.23 L1775.44 2072 L1776.44 2071.14 L1777.44 2070.12 L1778.44 2069.52 L1779.44 2068.2 L1780.44 2067.04 L1781.44 2065.86 L1782.44 2065.01 L1783.44 2063.53 L1784.44 2062.48 L1785.44 2061.44 L1786.44 2060.58 L1787.44 2059.27 L1788.44 2058.11 L1789.44 2057.55 L1790.44 2056.55 L1791.44 2055.19 L1792.44 2053.28 L1793.44 2051.89 L1794.44 2050.43 L1795.44 2048.76 L1796.44 2047.17 L1797.44 2045.53 L1798.44 2043.71 L1799.44 2041.82 L1800.44 2040.09 L1801.44 2038.86 L1802.44 2037.55 L1803.44 2036.77 L1804.44 2035.97 L1805.44 2035.24 L1806.44 2033.86 L1807.44 2033.13 L1808.44 2032.86 L1809.44 2032.93 L1810.44 2032.85 L1811.44 2033.09 L1812.44 2033.36 L1813.44 2033.76 L1814.44 2033.39 L1815.44 2033.56 L1816.44 2034.01 L1817.44 2034.69 L1818.44 2035.77 L1819.44 2036.07 L1820.44 2037.08 L1821.44 2038.13 L1822.44 2039.22 L1823.44 2040.9 L1824.44 2041.81 L1825.44 2043.55 L1826.44 2044.98 L1827.44 2046.83 L1828.44 2048.82 L1829.44 2050.54 L1830.44 2052.34 L1831.44 2053.91 L1832.44 2055.95 L1833.44 2057.46 L1834.44 2059.73 L1835.44 2061.57 L1836.44 2064.1 L1837.44 2065.88 L1838.44 2067.02 L1839.44 2068.17 L1840.44 2068.88 L1841.44 2070.12 L1842.44 2071.11 L1843.44 2072.27 L1844.44 2073.32 L1845.44 2074.02 L1846.44 2074.85 L1847.44 2075.47 L1848.44 2076.36 L1849.44 2077.55 L1850.44 2078.71 L1851.44 2079.95 L1852.44 2081.25 L1853.44 2082.77 L1854.44 2084.01 L1855.44 2085.19 L1856.44 2086.69 L1857.44 2087.84 L1858.44 2088.57 L1859.44 2089.34 L1860.44 2090.3 L1861.44 2091.45 L1862.44 2092.2 L1863.44 2093.05 L1864.44 2093.93 L1865.44 2094.87 L1866.44 2095.58 L1867.44 2096.5 L1868.44 2097.4 L1869.44 2098.22 L1870.44 2098.65 L1871.44 2099.23 L1872.44 2099.49 L1873.44 2099.5 L1874.44 2099.18 L1875.44 2099.36 L1876.44 2099.59 L1877.44 2099.64 L1878.44 2099.31 L1879.44 2099.63 L1880.44 2100.33 L1881.44 2101.36 L1882.44 2102.4 L1883.44 2103.38 L1884.44 2104.97 L1885.44 2106.24 L1886.44 2108.13 L1887.44 2109.35 L1888.44 2110.54 L1889.44 2111.12 L1890.44 2111.78 L1891.44 2112.31 L1892.44 2112.68 L1893.44 2113.64 L1894.44 2113.83 L1895.44 2114.2 L1896.44 2114.24 L1897.44 2114.75 L1898.44 2115.33 L1899.44 2115.6 L1900.44 2115.89 L1901.44 2116.14 L1902.44 2116.77 L1903.44 2117.05 L1904.44 2117.42 L1905.44 2117.66 L1906.44 2118.17 L1907.44 2118.18 L1908.44 2118.55 L1909.44 2119.02 L1910.44 2119.31 L1911.44 2119.35 L1912.44 2119.88 L1913.44 2120.24 L1914.44 2120.22 L1915.44 2120.09 L1916.44 2120.5 L1917.44 2121.3 L1918.44 2121.51 L1919.44 2122.09 L1920.44 2122.07 L1921.44 2122.41 L1922.44 2122.47 L1923.44 2122.82 L1924.44 2122.56 L1925.44 2122.76 L1926.44 2123.1 L1927.44 2123.77 L1928.44 2124.21 L1929.44 2124.73 L1930.44 2125.14 L1931.44 2125 L1932.44 2124.82 L1933.44 2125.3 L1934.44 2125.91 L1935.44 2126.68 L1936.44 2126.63 L1937.44 2127.21 L1938.44 2127.47 L1939.44 2128.42 L1940.44 2129.4 L1941.44 2130.28 L1942.44 2131.24 L1943.44 2131.58 L1944.44 2132.44 L1945.44 2132.95 L1946.44 2133.46 L1947.44 2134.06 L1948.44 2134.19 L1949.44 2134.44 L1950.44 2134.63 L1951.44 2135.19 L1952.44 2135.97 L1953.44 2136.1 L1954.44 2136.26 L1955.44 2136.12 L1956.44 2136 L1957.44 2136.52 L1958.44 2136.61 L1959.44 2137.28 L1960.44 2137.09 L1961.44 2137.21 L1962.44 2137.49 L1963.44 2138.07 L1964.44 2138.94 L1965.44 2139.32 L1966.44 2140.28 L1967.44 2140.54 L1968.44 2140.64 L1969.44 2140.21 L1970.44 2140.43 L1971.44 2140.58 L1972.44 2140.24 L1973.44 2139.65 L1974.44 2139.53 L1975.44 2139.76 L1976.44 2139.45 L1977.44 2139.33 L1978.44 2138.66 L1979.44 2139.04 L1980.44 2138.57 L1981.44 2138.41 L1982.44 2137.97 L1983.44 2138.13 L1984.44 2138.74 L1985.44 2139.28 L1986.44 2139.72 L1987.44 2139.7 L1988.44 2139.84 L1989.44 2140.03" fill="none" stroke="#e8068a" stroke-width="6.2" stroke-linejoin="round" stroke-linecap="butt"/>
<path d="M1627.44 2161.74 L1628.44 2161.9 L1629.44 2161.83 L1630.44 2161.98 L1631.44 2162.18 L1632.44 2162.28 L1633.44 2162.21 L1634.44 2162.48 L1635.44 2162.57 L1636.44 2162.67 L1637.44 2162.27 L1638.44 2162.07 L1639.44 2161.94 L1640.44 2161.7 L1641.44 2161.06 L1642.44 2160.96 L1643.44 2160.75 L1644.44 2160.79 L1645.44 2160.05 L1646.44 2160.02 L1647.44 2159.64 L1648.44 2159.49 L1649.44 2159.18 L1650.44 2158.73 L1651.44 2158.08 L1652.44 2157.09 L1653.44 2156.08 L1654.44 2155.98 L1655.44 2155.35 L1656.44 2155.01 L1657.44 2154.35 L1658.44 2153.45 L1659.44 2153.06 L1660.44 2151.81 L1661.44 2151.42 L1662.44 2150.49 L1663.44 2150.61 L1664.44 2150.51 L1665.44 2150.1 L1666.44 2149.39 L1667.44 2148.42 L1668.44 2148.02 L1669.44 2147.12 L1670.44 2146.25 L1671.44 2145.2 L1672.44 2144.87 L1673.44 2145.11 L1674.44 2144.98 L1675.44 2144.26 L1676.44 2143.67 L1677.44 2143.15 L1678.44 2142.77 L1679.44 2141.96 L1680.44 2141.43 L1681.44 2140.91 L1682.44 2140.15 L1683.44 2139.87 L1684.44 2139.51 L1685.44 2139.63 L1686.44 2139.06 L1687.44 2138.3 L1688.44 2137.64 L1689.44 2137.64 L1690.44 2137.52 L1691.44 2136.92 L1692.44 2135.88 L1693.44 2135.27 L1694.44 2134.88 L1695.44 2134.35 L1696.44 2134.31 L1697.44 2133.76 L1698.44 2133.44 L1699.44 2132.83 L1700.44 2132.58 L1701.44 2131.87 L1702.44 2130.99 L1703.44 2130.13 L1704.44 2129.41 L1705.44 2128.22 L1706.44 2127.4 L1707.44 2126.77 L1708.44 2126.32 L1709.44 2125.07 L1710.44 2123.87 L1711.44 2122.66 L1712.44 2121.74 L1713.44 2120.96 L1714.44 2120.28 L1715.44 2119.34 L1716.44 2118.04 L1717.44 2116.7 L1718.44 2115.38 L1719.44 2114.06 L1720.44 2112.58 L1721.44 2111.35 L1722.44 2110.57 L1723.44 2109.62 L1724.44 2108.28 L1725.44 2106.43 L1726.44 2104.76 L1727.44 2103.56 L1728.44 2102.37 L1729.44 2100.88 L1730.44 2099.5 L1731.44 2097.89 L1732.44 2097.03 L1733.44 2095.5 L1734.44 2094.41 L1735.44 2092.43 L1736.44 2090.69 L1737.44 2088.73 L1738.44 2087.34 L1739.44 2085.84 L1740.44 2083.88 L1741.44 2082.11 L1742.44 2080.47 L1743.44 2079.18 L1744.44 2077.68 L1745.44 2076.81 L1746.44 2075.68 L1747.44 2074.55 L1748.44 2073.27 L1749.44 2072.3 L1750.44 2071.35 L1751.44 2070.21 L1752.44 2069.02 L1753.44 2067.72 L1754.44 2066.23 L1755.44 2064.59 L1756.44 2062.75 L1757.44 2060.8 L1758.44 2058.9 L1759.44 2057.28 L1760.44 2055.32 L1761.44 2053.19 L1762.44 2051.25 L1763.44 2049.25 L1764.44 2047.23 L1765.44 2045.26 L1766.44 2043.32 L1767.44 2041.7 L1768.44 2039.35 L1769.44 2037.04 L1770.44 2034.4 L1771.44 2032.06 L1772.44 2029.82 L1773.44 2027.44 L1774.44 2024.97 L1775.44 2022.14 L1776.44 2019.68 L1777.44 2016.68 L1778.44 2014.13 L1779.44 2011.3 L1780.44 2008.82 L1781.44 2006.08 L1782.44 2002.48 L1783.44 1999.26 L1784.44 1996.04 L1785.44 1993.51 L1786.44 1990.24 L1787.44 1987.28 L1788.44 1984.81 L1789.44 1982.18 L1790.44 1979.77 L1791.44 1977.31 L1792.44 1975.24 L1793.44 1973.12 L1794.44 1970.62 L1795.44 1968.6 L1796.44 1966.38 L1797.44 1964.8 L1798.44 1963.23 L1799.44 1962.02 L1800.44 1960.37 L1801.44 1959.09 L1802.44 1958 L1803.44 1957.36 L1804.44 1956.29 L1805.44 1955.52 L1806.44 1954.71 L1807.44 1954.57 L1808.44 1954.13 L1809.44 1954.22 L1810.44 1954.04 L1811.44 1953.61 L1812.44 1953.21 L1813.44 1953.58 L1814.44 1954.24 L1815.44 1955.18 L1816.44 1955.63 L1817.44 1956.15 L1818.44 1956.8 L1819.44 1957.31 L1820.44 1957.86 L1821.44 1958.99 L1822.44 1959.85 L1823.44 1961.66 L1824.44 1962.91 L1825.44 1965.04 L1826.44 1966.48 L1827.44 1968.58 L1828.44 1970.53 L1829.44 1973.01 L1830.44 1975.29 L1831.44 1978.41 L1832.44 1981.55 L1833.44 1984.77 L1834.44 1987.67 L1835.44 1990.85 L1836.44 1993.81 L1837.44 1997.23 L1838.44 2000.78 L1839.44 2004.3 L1840.44 2007.73 L1841.44 2010.78 L1842.44 2014.09 L1843.44 2017.42 L1844.44 2020.93 L1845.44 2024.57 L1846.44 2027.95 L1847.44 2031.59 L1848.44 2034.55 L1849.44 2037.43 L1850.44 2039.62 L1851.44 2042.18 L1852.44 2044.66 L1853.44 2046.82 L1854.44 2048.75 L1855.44 2050.57 L1856.44 2052.4 L1857.44 2053.93 L1858.44 2055.55 L1859.44 2057.14 L1860.44 2058.87 L1861.44 2060.48 L1862.44 2062.24 L1863.44 2063.57 L1864.44 2064.63 L1865.44 2065.81 L1866.44 2067.17 L1867.44 2068.21 L1868.44 2069.73 L1869.44 2071.11 L1870.44 2073.03 L1871.44 2074 L1872.44 2075.8 L1873.44 2077.15 L1874.44 2079.06 L1875.44 2080.26 L1876.44 2082.13 L1877.44 2083.91 L1878.44 2085.97 L1879.44 2087.9 L1880.44 2089.75 L1881.44 2091.81 L1882.44 2093.53 L1883.44 2095.27 L1884.44 2097.04 L1885.44 2099.23 L1886.44 2101.61 L1887.44 2103.63 L1888.44 2104.92 L1889.44 2106.38 L1890.44 2107.99 L1891.44 2109.65 L1892.44 2110.62 L1893.44 2111.42 L1894.44 2112.24 L1895.44 2113.32 L1896.44 2114.04 L1897.44 2115.15 L1898.44 2115.82 L1899.44 2116.37 L1900.44 2116.9 L1901.44 2117.7 L1902.44 2118.48 L1903.44 2119.09 L1904.44 2119.3 L1905.44 2120.48 L1906.44 2121.33 L1907.44 2122.26 L1908.44 2122.63 L1909.44 2123.61 L1910.44 2125.1 L1911.44 2126.34 L1912.44 2127.4 L1913.44 2127.94 L1914.44 2128.6 L1915.44 2129.59 L1916.44 2130.84 L1917.44 2132.03 L1918.44 2133.04 L1919.44 2133.69 L1920.44 2134.54 L1921.44 2135.42 L1922.44 2136.9 L1923.44 2137.91 L1924.44 2138.94 L1925.44 2139.35 L1926.44 2140.29 L1927.44 2140.79 L1928.44 2141.47 L1929.44 2142.34 L1930.44 2143.44 L1931.44 2144.59 L1932.44 2145.37 L1933.44 2146.27 L1934.44 2146.83 L1935.44 2147.28 L1936.44 2147.55 L1937.44 2148.17 L1938.44 2149.31 L1939.44 2150.05 L1940.44 2150.63 L1941.44 2150.73 L1942.44 2151.71 L1943.44 2152.21 L1944.44 2152.61 L1945.44 2152.51 L1946.44 2153.15 L1947.44 2153.73 L1948.44 2153.86 L1949.44 2153.85 L1950.44 2154.28 L1951.44 2154.79 L1952.44 2155.03 L1953.44 2155.48 L1954.44 2155.97 L1955.44 2156.58 L1956.44 2156.61 L1957.44 2156.82 L1958.44 2157.03 L1959.44 2157.11 L1960.44 2157.41 L1961.44 2157.52 L1962.44 2158.12 L1963.44 2158 L1964.44 2158.48 L1965.44 2158.57 L1966.44 2159.38 L1967.44 2159.33 L1968.44 2159.19 L1969.44 2158.78 L1970.44 2158.71 L1971.44 2158.68 L1972.44 2158.61 L1973.44 2158.64 L1974.44 2158.72 L1975.44 2158.14 L1976.44 2158.21 L1977.44 2158.06 L1978.44 2158.03 L1979.44 2156.92 L1980.44 2156.4 L1981.44 2156.36 L1982.44 2156.28 L1983.44 2156.24 L1984.44 2156.12 L1985.44 2156.36 L1986.44 2156.41 L1987.44 2156.59 L1988.44 2156.58 L1989.44 2156.38" fill="none" stroke="#00a2f0" stroke-width="6.2" stroke-linejoin="round" stroke-linecap="butt"/>
<rect x="1619.5" y="1804.4" width="377.3" height="385.5" fill="none" stroke="#000" stroke-width="3.3"/>
<line x1="1619.5" y1="2182.9" x2="1629.5" y2="2182.9" stroke="#000" stroke-width="2.4"/>
<line x1="1619.5" y1="2018.2" x2="1629.5" y2="2018.2" stroke="#000" stroke-width="2.4"/>
<line x1="1619.5" y1="1853.5" x2="1629.5" y2="1853.5" stroke="#000" stroke-width="2.4"/>
<line x1="1619.5" y1="2100.55" x2="1625" y2="2100.55" stroke="#000" stroke-width="2.4"/>
<line x1="1619.5" y1="1935.85" x2="1625" y2="1935.85" stroke="#000" stroke-width="2.4"/>
<line x1="1628.2" y1="2189.9" x2="1628.2" y2="2179.9" stroke="#000" stroke-width="2.4"/>
<line x1="1808.55" y1="2189.9" x2="1808.55" y2="2179.9" stroke="#000" stroke-width="2.4"/>
<line x1="1988.9" y1="2189.9" x2="1988.9" y2="2179.9" stroke="#000" stroke-width="2.4"/>
<line x1="1718.38" y1="2189.9" x2="1718.38" y2="2184.4" stroke="#000" stroke-width="2.4"/>
<line x1="1898.73" y1="2189.9" x2="1898.73" y2="2184.4" stroke="#000" stroke-width="2.4"/>
<text x="1596.9" y="1863.2" font-size="30.5" fill="#000">2</text>
<text x="1596.82" y="2028" font-size="30.5" fill="#000">1</text>
<text x="1596.52" y="2192.6" font-size="30.5" fill="#000">0</text>
<text x="1613.53" y="2219.6" font-size="30.5" fill="#000">-1</text>
<text x="1799.15" y="2219.6" font-size="30.5" fill="#000">0</text>
<text x="1977.62" y="2219.6" font-size="30.5" fill="#000">1</text>
<text x="1645.77" y="2259.6" font-size="40.6" fill="#000">Gene distance (kb)</text>
<line x1="1644.8" y1="1829.4" x2="1712.3" y2="1829.4" stroke="#00a2f0" stroke-width="6.2"/>
<text x="1737.82" y="1839.7" font-size="30.6" fill="#000">Sox2/Ctrl</text>
<line x1="1644.8" y1="1866.8" x2="1712.3" y2="1866.8" stroke="#e8068a" stroke-width="6.2"/>
<text x="1737.82" y="1877.1" font-size="30.6" fill="#000">Sox2a/Ctrl</text>
<text x="1640.19" y="1929.8" font-size="40.24" fill="#000">±10%</text>
<text transform="translate(1567 2178.1) rotate(-90)" font-size="41.45" fill="#000">ATAC change (log</text>
<text transform="translate(1581 1844.65) rotate(-90)" font-size="23.08" fill="#000">2</text>
<text transform="translate(1567 1829.91) rotate(-90)" font-size="41.45" fill="#000">)</text></svg></body></html>
